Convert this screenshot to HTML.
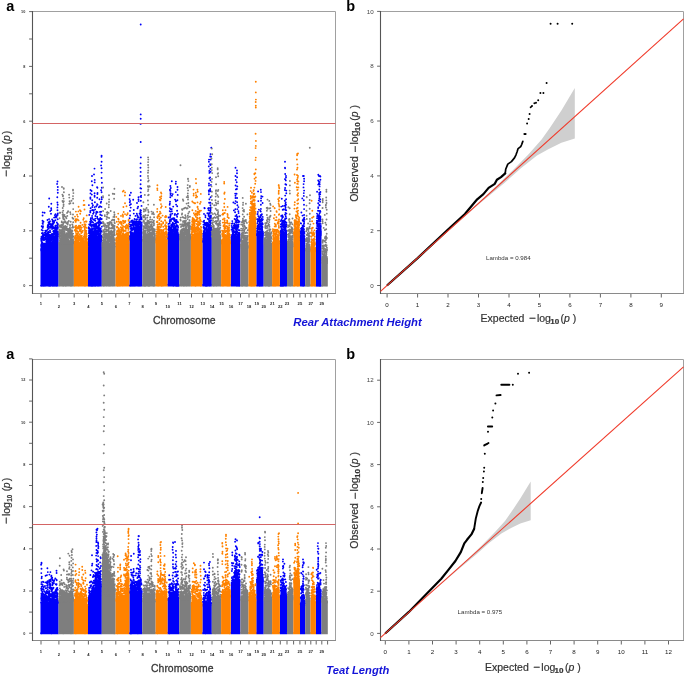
<!DOCTYPE html>
<html><head><meta charset="utf-8"><style>
html,body{margin:0;padding:0;background:#fff;}
body{width:685px;height:677px;overflow:hidden;position:relative;}
svg{position:absolute;left:0;top:0;font-family:"Liberation Sans", sans-serif;filter:blur(0.4px);}
</style></head><body>
<svg width="685" height="677" viewBox="0 0 685 677">
<path d="M32.5 11.5H335.5V293.5" fill="none" stroke="#a0a0a0" stroke-width="1"/><path d="M32.5 293.5H336.0" fill="none" stroke="#8a8a8a" stroke-width="1"/><path d="M32.5 11.0V294.0" fill="none" stroke="#555" stroke-width="1.1"/>
<line x1="29.1" y1="285.6" x2="32.5" y2="285.6" stroke="#555" stroke-width="0.9"/>
<text x="25.3" y="287" font-size="3.8" font-weight="bold" text-anchor="end" fill="#333">0</text>
<line x1="29.1" y1="258.2" x2="32.5" y2="258.2" stroke="#555" stroke-width="0.9"/>
<line x1="29.1" y1="230.8" x2="32.5" y2="230.8" stroke="#555" stroke-width="0.9"/>
<text x="25.3" y="232.2" font-size="3.8" font-weight="bold" text-anchor="end" fill="#333">2</text>
<line x1="29.1" y1="203.4" x2="32.5" y2="203.4" stroke="#555" stroke-width="0.9"/>
<line x1="29.1" y1="176" x2="32.5" y2="176" stroke="#555" stroke-width="0.9"/>
<text x="25.3" y="177.4" font-size="3.8" font-weight="bold" text-anchor="end" fill="#333">4</text>
<line x1="29.1" y1="148.6" x2="32.5" y2="148.6" stroke="#555" stroke-width="0.9"/>
<line x1="29.1" y1="121.2" x2="32.5" y2="121.2" stroke="#555" stroke-width="0.9"/>
<text x="25.3" y="122.6" font-size="3.8" font-weight="bold" text-anchor="end" fill="#333">6</text>
<line x1="29.1" y1="93.8" x2="32.5" y2="93.8" stroke="#555" stroke-width="0.9"/>
<line x1="29.1" y1="66.4" x2="32.5" y2="66.4" stroke="#555" stroke-width="0.9"/>
<text x="25.3" y="67.8" font-size="3.8" font-weight="bold" text-anchor="end" fill="#333">8</text>
<line x1="29.1" y1="39" x2="32.5" y2="39" stroke="#555" stroke-width="0.9"/>
<line x1="29.1" y1="11.6" x2="32.5" y2="11.6" stroke="#555" stroke-width="0.9"/>
<text x="25.3" y="13" font-size="3.8" font-weight="bold" text-anchor="end" fill="#333">10</text>
<line x1="41.0" y1="294.0" x2="41.0" y2="297.5" stroke="#555" stroke-width="0.9"/>
<text x="41.0" y="305.2" font-size="4.1" font-weight="bold" text-anchor="middle" fill="#222">1</text>
<line x1="58.9" y1="294.0" x2="58.9" y2="297.5" stroke="#555" stroke-width="0.9"/>
<text x="58.9" y="308.4" font-size="4.1" font-weight="bold" text-anchor="middle" fill="#222">2</text>
<line x1="74.2" y1="294.0" x2="74.2" y2="297.5" stroke="#555" stroke-width="0.9"/>
<text x="74.2" y="305.2" font-size="4.1" font-weight="bold" text-anchor="middle" fill="#222">3</text>
<line x1="88.4" y1="294.0" x2="88.4" y2="297.5" stroke="#555" stroke-width="0.9"/>
<text x="88.4" y="308.4" font-size="4.1" font-weight="bold" text-anchor="middle" fill="#222">4</text>
<line x1="101.8" y1="294.0" x2="101.8" y2="297.5" stroke="#555" stroke-width="0.9"/>
<text x="101.8" y="305.2" font-size="4.1" font-weight="bold" text-anchor="middle" fill="#222">5</text>
<line x1="115.8" y1="294.0" x2="115.8" y2="297.5" stroke="#555" stroke-width="0.9"/>
<text x="115.8" y="308.4" font-size="4.1" font-weight="bold" text-anchor="middle" fill="#222">6</text>
<line x1="129.3" y1="294.0" x2="129.3" y2="297.5" stroke="#555" stroke-width="0.9"/>
<text x="129.3" y="305.2" font-size="4.1" font-weight="bold" text-anchor="middle" fill="#222">7</text>
<line x1="142.6" y1="294.0" x2="142.6" y2="297.5" stroke="#555" stroke-width="0.9"/>
<text x="142.6" y="308.4" font-size="4.1" font-weight="bold" text-anchor="middle" fill="#222">8</text>
<line x1="155.9" y1="294.0" x2="155.9" y2="297.5" stroke="#555" stroke-width="0.9"/>
<text x="155.9" y="305.2" font-size="4.1" font-weight="bold" text-anchor="middle" fill="#222">9</text>
<line x1="167.8" y1="294.0" x2="167.8" y2="297.5" stroke="#555" stroke-width="0.9"/>
<text x="167.8" y="308.4" font-size="4.1" font-weight="bold" text-anchor="middle" fill="#222">10</text>
<line x1="179.5" y1="294.0" x2="179.5" y2="297.5" stroke="#555" stroke-width="0.9"/>
<text x="179.5" y="305.2" font-size="4.1" font-weight="bold" text-anchor="middle" fill="#222">11</text>
<line x1="191.5" y1="294.0" x2="191.5" y2="297.5" stroke="#555" stroke-width="0.9"/>
<text x="191.5" y="308.4" font-size="4.1" font-weight="bold" text-anchor="middle" fill="#222">12</text>
<line x1="202.7" y1="294.0" x2="202.7" y2="297.5" stroke="#555" stroke-width="0.9"/>
<text x="202.7" y="305.2" font-size="4.1" font-weight="bold" text-anchor="middle" fill="#222">13</text>
<line x1="212.0" y1="294.0" x2="212.0" y2="297.5" stroke="#555" stroke-width="0.9"/>
<text x="212.0" y="308.4" font-size="4.1" font-weight="bold" text-anchor="middle" fill="#222">14</text>
<line x1="221.6" y1="294.0" x2="221.6" y2="297.5" stroke="#555" stroke-width="0.9"/>
<text x="221.6" y="305.2" font-size="4.1" font-weight="bold" text-anchor="middle" fill="#222">15</text>
<line x1="231.0" y1="294.0" x2="231.0" y2="297.5" stroke="#555" stroke-width="0.9"/>
<text x="231.0" y="308.4" font-size="4.1" font-weight="bold" text-anchor="middle" fill="#222">16</text>
<line x1="240.5" y1="294.0" x2="240.5" y2="297.5" stroke="#555" stroke-width="0.9"/>
<text x="240.5" y="305.2" font-size="4.1" font-weight="bold" text-anchor="middle" fill="#222">17</text>
<line x1="249.0" y1="294.0" x2="249.0" y2="297.5" stroke="#555" stroke-width="0.9"/>
<text x="249.0" y="308.4" font-size="4.1" font-weight="bold" text-anchor="middle" fill="#222">18</text>
<line x1="256.8" y1="294.0" x2="256.8" y2="297.5" stroke="#555" stroke-width="0.9"/>
<text x="256.8" y="305.2" font-size="4.1" font-weight="bold" text-anchor="middle" fill="#222">19</text>
<line x1="263.8" y1="294.0" x2="263.8" y2="297.5" stroke="#555" stroke-width="0.9"/>
<text x="263.8" y="308.4" font-size="4.1" font-weight="bold" text-anchor="middle" fill="#222">20</text>
<line x1="272.4" y1="294.0" x2="272.4" y2="297.5" stroke="#555" stroke-width="0.9"/>
<text x="272.4" y="305.2" font-size="4.1" font-weight="bold" text-anchor="middle" fill="#222">21</text>
<line x1="280.3" y1="294.0" x2="280.3" y2="297.5" stroke="#555" stroke-width="0.9"/>
<text x="280.3" y="308.4" font-size="4.1" font-weight="bold" text-anchor="middle" fill="#222">22</text>
<line x1="287.0" y1="294.0" x2="287.0" y2="297.5" stroke="#555" stroke-width="0.9"/>
<text x="287.0" y="305.2" font-size="4.1" font-weight="bold" text-anchor="middle" fill="#222">23</text>
<line x1="293.6" y1="294.0" x2="293.6" y2="297.5" stroke="#555" stroke-width="0.9"/>
<line x1="299.9" y1="294.0" x2="299.9" y2="297.5" stroke="#555" stroke-width="0.9"/>
<text x="299.9" y="305.2" font-size="4.1" font-weight="bold" text-anchor="middle" fill="#222">25</text>
<line x1="305.3" y1="294.0" x2="305.3" y2="297.5" stroke="#555" stroke-width="0.9"/>
<line x1="310.8" y1="294.0" x2="310.8" y2="297.5" stroke="#555" stroke-width="0.9"/>
<text x="310.8" y="305.2" font-size="4.1" font-weight="bold" text-anchor="middle" fill="#222">27</text>
<line x1="316.2" y1="294.0" x2="316.2" y2="297.5" stroke="#555" stroke-width="0.9"/>
<line x1="321.8" y1="294.0" x2="321.8" y2="297.5" stroke="#555" stroke-width="0.9"/>
<text x="321.8" y="305.2" font-size="4.1" font-weight="bold" text-anchor="middle" fill="#222">29</text>
<line x1="327.6" y1="294.0" x2="327.6" y2="297.5" stroke="#555" stroke-width="0.9"/>
<polygon points="40.5,286.6 40.5,249.1 42,243.8 43.5,243.8 45,246.6 46.5,244.4 48,244.2 49.5,242.3 51.1,240.8 52.6,243.4 54.1,241.6 55.6,234 57.1,234.3 58.6,229.9 58.6,286.6" fill="#0000fa"/>
<polygon points="88,286.6 88,237.5 89.5,235.9 91.1,236.1 92.6,237.6 94.1,235.6 95.7,234.7 97.2,233.9 98.7,240.3 100.3,234.4 101.8,235.3 101.8,286.6" fill="#0000fa"/>
<polygon points="129.4,286.6 129.4,236.3 131,238 132.6,237.1 134.2,234.9 135.9,231.4 137.5,230.8 139.1,231.7 140.7,229.1 142.3,222.3 142.3,286.6" fill="#0000fa"/>
<polygon points="167.5,286.6 167.5,233.7 169.2,237.4 170.9,234.3 172.6,238.4 174.2,233.9 175.9,232.7 177.6,236.3 179.3,233.5 179.3,286.6" fill="#0000fa"/>
<polygon points="202.4,286.6 202.4,237.9 204,239 205.5,237.4 207.1,235.3 208.7,227 210.2,227.5 211.8,226.1 211.8,286.6" fill="#0000fa"/>
<polygon points="230.8,286.6 230.8,234.4 232.4,236.2 234,235 235.6,235.2 237.2,237 238.8,236.5 240.4,239.1 240.4,286.6" fill="#0000fa"/>
<polygon points="256.3,286.6 256.3,234.1 258.1,232.1 260,233 261.9,229.2 263.7,232.6 263.7,286.6" fill="#0000fa"/>
<polygon points="279.9,286.6 279.9,231 281.7,228.5 283.4,230.9 285.2,232.7 287,234.5 287,286.6" fill="#0000fa"/>
<polygon points="300,286.6 300,237.5 301.7,238.6 303.5,239 305.2,238 305.2,286.6" fill="#0000fa"/>
<polygon points="315.9,286.6 315.9,231.4 317.8,234.3 319.6,229.6 321.5,229.6 321.5,286.6" fill="#0000fa"/>
<polygon points="58.6,286.6 58.6,242.9 60.1,242.2 61.7,240.5 63.2,237 64.7,238.9 66.2,241.5 67.8,238.7 69.3,241.3 70.8,239.7 72.4,241 73.9,236.9 73.9,286.6" fill="#7e7e7e"/>
<polygon points="101.8,286.6 101.8,242.8 103.3,239.8 104.9,243.9 106.4,245 107.9,241.2 109.5,243 111,241.5 112.5,242.1 114.1,243 115.6,243.5 115.6,286.6" fill="#7e7e7e"/>
<polygon points="142.3,286.6 142.3,238.3 144,239.4 145.6,239.7 147.3,236 148.9,239.4 150.6,238.9 152.3,238.4 153.9,237.6 155.6,234.4 155.6,286.6" fill="#7e7e7e"/>
<polygon points="179.3,286.6 179.3,236.6 181,233.2 182.6,237.6 184.3,236.6 185.9,236.3 187.6,235.4 189.2,236.1 190.9,233.5 190.9,286.6" fill="#7e7e7e"/>
<polygon points="211.8,286.6 211.8,231.3 213.4,234.9 214.9,233.9 216.4,234.3 218,234.8 219.6,235.5 221.1,233.9 221.1,286.6" fill="#7e7e7e"/>
<polygon points="240.4,286.6 240.4,244 242,245.3 243.6,245.5 245.3,242.7 246.9,242.5 248.5,244.9 248.5,286.6" fill="#7e7e7e"/>
<polygon points="263.7,286.6 263.7,240.6 265.4,243 267.1,240.7 268.7,244.2 270.4,243.8 272.1,242.4 272.1,286.6" fill="#7e7e7e"/>
<polygon points="287,286.6 287,242.1 288.6,243.1 290.1,240.4 291.7,242.9 293.3,241.5 293.3,286.6" fill="#7e7e7e"/>
<polygon points="305.2,286.6 305.2,248.6 307,244.5 308.7,249.5 310.5,247.1 310.5,286.6" fill="#7e7e7e"/>
<polygon points="321.5,286.6 321.5,257.8 323.1,259.2 324.6,258.7 326.2,260.9 327.8,255.8 327.8,286.6" fill="#7e7e7e"/>
<polygon points="73.9,286.6 73.9,244.4 75.5,240.3 77,243 78.6,240 80.2,245.2 81.7,245.5 83.3,242.8 84.9,239.8 86.4,242.8 88,242.5 88,286.6" fill="#ff8200"/>
<polygon points="115.6,286.6 115.6,237.4 117.1,239.7 118.7,239.7 120.2,238.5 121.7,237.1 123.3,241.4 124.8,236.7 126.3,238.3 127.9,240.5 129.4,242 129.4,286.6" fill="#ff8200"/>
<polygon points="155.6,286.6 155.6,240.1 157.3,243 159,239.9 160.7,241.3 162.4,238.3 164.1,240 165.8,237.6 167.5,241.1 167.5,286.6" fill="#ff8200"/>
<polygon points="190.9,286.6 190.9,237.6 192.5,233.4 194.2,237.8 195.8,238.4 197.5,237.4 199.1,233.4 200.8,233 202.4,236.7 202.4,286.6" fill="#ff8200"/>
<polygon points="221.1,286.6 221.1,242 222.7,238.8 224.3,241.5 225.9,239.3 227.6,237 229.2,241.7 230.8,240.3 230.8,286.6" fill="#ff8200"/>
<polygon points="248.5,286.6 248.5,227.2 250.1,218.8 251.6,218.5 253.2,207.5 254.7,216 256.3,224 256.3,286.6" fill="#ff8200"/>
<polygon points="272.1,286.6 272.1,242.6 273.7,242.4 275.2,239.7 276.8,243 278.3,242.5 279.9,242.5 279.9,286.6" fill="#ff8200"/>
<polygon points="293.3,286.6 293.3,231.9 295,231 296.6,230.6 298.3,230.6 300,228.9 300,286.6" fill="#ff8200"/>
<polygon points="310.5,286.6 310.5,248.2 312.3,251.2 314.1,247.7 315.9,246.7 315.9,286.6" fill="#ff8200"/>
<path d="M41.5 236.8h0m0 1.1h0m0 0.1h0m-0.3 0.4h0m0.2 0h0m-0.2 1.5h0m0.1 4.6h0m-0.1 0.9h0m0.1 1.1h0m0.1 1.6h0m0 0.7h0m-0.1 0.4h0m0 0.7h0m0.1 0.7h0m-0.2 35h0m0.5-59.3h0m0 3.6h0m0.7 3.3h0m-0.5 0h0m0.5 5h0m-0.9 1.9h0m0 1.2h0m0.4 0.6h0m-0.2 1.1h0m0.5 0.5h0m0 0h0m0.2 2.4h0m-0.4 0.1h0m-0.5 0.2h0m0.1 0.2h0m0.8 0h0m-0.3 0.6h0m-0.4 0.6h0m-0.1 0.2h0m0.5 0.1h0m-0.3 0.3h0m0.2 0.8h0m-0.2 0.2h0m0.6 0h0m-0.2 0h0m-0.6 0.3h0m0.7 0.3h0m0.2 0.1h0m-0.2 0.2h0m0.2 35.2h0m0.2-72.9h0m-0.1 3.1h0m-0.1 5.2h0m1 1h0m-0.9 1.5h0m0.3 0.7h0m0.1 2.2h0m0 0.9h0m-0.4 0.9h0m0.2 2.7h0m0.1 2.3h0m0.3 1.3h0m-0.4 1h0m-0.1 0.7h0m0.2 0.4h0m-0.1 2.2h0m0.1 0.5h0m0.2 0.9h0m-0.3 3.2h0m0.5 0.7h0m0.2 1.5h0m-0.6 0.8h0m0.3 0.5h0m-0.3 0.7h0m0.3 0.8h0m-0.2 0.5h0m-0.3 0.1h0m0 0.1h0m1.7-14.3h0m-0.1 0.3h0m-0.8 1.3h0m0 0.7h0m0.1 1.2h0m0.4 2.3h0m0.3 3.4h0m-0.1 0.3h0m-0.2 1.1h0m0.4 1.3h0m-0.4 0.1h0m-0.3 0.8h0m0.1 0.2h0m0.3 0.4h0m-0.6 0.3h0m0.2 0.4h0m0.4 0.1h0m-0.1 0.3h0m-0.3 0.2h0m-0.1 0h0m0.7 0.3h0m-0.3 0h0m-0.2 36h0m0.8-72.8h0m0.7 17.9h0m0 1.9h0m-0.4 0.2h0m0.5 1.8h0m-0.1 0.9h0m-0.2 2.2h0m-0.1 0.2h0m0.5 0.6h0m-0.1 0.6h0m-0.3 0.2h0m-0.1 4.2h0m-0.1 0.4h0m0.2 1h0m-0.6 0.1h0m0.2 1.2h0m0.7 0.5h0m-0.6 0.1h0m-0.1 0.4h0m0.1 0.4h0m0.5 0.1h0m-0.2 0.3h0m-0.4 0.7h0m0.5 0.5h0m-0.1 36.3h0m0.6-53.6h0m0.6 2.1h0m-0.7 0.3h0m0.8 1h0m-0.3 1.4h0m0 3h0m0 0.1h0m0.3 1h0m-0.1 0.8h0m0.2 1.6h0m-0.9 1.7h0m0.4 0h0m0.1 0.6h0m-0.3 0h0m0 0.1h0m-0.2 0.5h0m0.8 0.2h0m-0.6 0.5h0m-0.2 0h0m-0.1 1.1h0m0.6 0.1h0m0 0.1h0m-0.4 0.2h0m0.5 0.3h0m-0.3 0.3h0m0.5 36.2h0m1.1-57.9h0m0 2.5h0m-0.8 1.3h0m-0.2 2.9h0m0.1 1.1h0m0.4 3.1h0m-0.3 0.6h0m0.2 0.9h0m-0.2 1.5h0m0.4 0h0m0.2 0.2h0m0 2.6h0m0.1 0.2h0m-0.4 0.3h0m0 0.8h0m-0.3 0h0m0.4 0.5h0m-0.3 0.8h0m0.1 0.5h0m0.4 0.3h0m-0.4 0.4h0m0.3 0.3h0m-0.5 0.6h0m0.8-28.5h0m0.7 4.5h0m-0.4 0.9h0m-0.2 1.8h0m0.9 1.3h0m-0.2 0.3h0m0.2 3h0m-0.9 0.8h0m0.6 1.1h0m-0.2 0.2h0m0.5 0.5h0m-1 0.3h0m0.2 0.8h0m0.7 0.4h0m-0.3 0.5h0m-0.6 0h0m0.6 0.9h0m-0.4 0.2h0m-0.1 0.6h0m0.7 0.5h0m-0.1 0.2h0m-0.6 1.1h0m0.1 0.4h0m0.6 1.6h0m-0.5 0.1h0m-0.1 0.4h0m0.1 1h0m0 0h0m0.1 0h0m0.3 0.8h0m-0.7 0.3h0m0.1 0.1h0m0.4 0.4h0m-0.3 0.1h0m0.6 0.2h0m-0.4 0.3h0m0.1 0.5h0m-0.4 0h0m0.3 0.3h0m0.3 0.3h0m-0.6 0h0m0.3 0.5h0m-0.2 37.8h0m1.5-86.5h0m-0.4 8.3h0m0.3 12.3h0m-0.6 3.2h0m0.7 0.1h0m-0.1 0.4h0m-0.2 1.2h0m-0.3 0.8h0m0.3 1.4h0m0 0.1h0m0.3 6h0m0.3 5.5h0m-0.6 1.2h0m-0.1 0.2h0m0.1 0.3h0m-0.2 0.4h0m0 0.1h0m0.1 0.2h0m0.5 0.5h0m-0.3 0.3h0m-0.2 0.6h0m0.5 0.9h0m0.2 0h0m-1 0.8h0m0.4 0.7h0m-0.2 0.9h0m-0.2 0.4h0m0.9 1.1h0m-0.5 0h0m0 0.1h0m-0.3 0.7h0m0.4 0.3h0m-0.3 0.1h0m0.3 38h0m1.2-74.5h0m-0.2 10.2h0m-0.1 2.1h0m0.2 0.7h0m-0.1 3.1h0m0.2 0.6h0m-0.2 2.6h0m0.4 1.7h0m-0.4 2.5h0m-0.2 0.8h0m0.3 0h0m-0.1 0h0m0.3 1.7h0m-0.5 0.2h0m0.4 2h0m-0.7 0.7h0m0.6 0.4h0m-0.5 0.1h0m0.1 0.4h0m0.4 0.9h0m-0.1 0h0m-0.2 0.7h0m0.1 0.9h0m0.4 0.1h0m-0.4 0.1h0m0.6 0.5h0m-0.9 0.4h0m0.7 0.1h0m0.1 0.1h0m-0.8 1.2h0m0.6 0.1h0m0 0.1h0m0 0.6h0m0.1 0h0m-0.5 0h0m0.6 0.1h0m-0.1 0h0m-0.6 0.4h0m0.6 38.3h0m1-81.8h0m-0.1 4.5h0m0.1 1.8h0m-0.3 3.7h0m0 10.8h0m0 0.5h0m-0.2 1.2h0m0.4 9h0m-0.6 0.1h0m0.1 0.1h0m0.6 0.8h0m0 0.4h0m0.1 0.1h0m0 0.1h0m-0.2 0.6h0m-0.4 1.8h0m0.6 0h0m-0.6 0.2h0m0.5 0.2h0m-0.8 0.1h0m0.6 0.9h0m-0.5 2.1h0m0.9 1.9h0m-0.8 0.5h0m0.5 0.4h0m-0.1 0.2h0m-0.1 0.1h0m0 0.2h0m0.3 0.3h0m-0.7 0h0m0 0h0m0 0.1h0m1.5-27h0m0 4.5h0m-0.1 1.5h0m0.2 0h0m-0.2 0.1h0m0.3 0.5h0m-0.6 1.1h0m0.4 0.6h0m-0.1 1.2h0m-0.1 5h0m0.5 1.8h0m-0.1 0.4h0m0 0.7h0m0.1 0.1h0m-0.7 0.3h0m0.1 0.4h0m0.7 0.6h0m-0.5 0.7h0m-0.4 0.1h0m0.9 0.1h0m-0.5 0.1h0m-0.1 0.3h0m0.1 2.8h0m-0.3 0.3h0m0.6 0.2h0m-0.7 0h0m0.5 0.2h0m-0.2 2.1h0m-0.1 0.2h0m-0.3 0.8h0m0.1 38.9h0m1.2-64.5h0m-0.2 1.3h0m0.8 0.2h0m0 1.4h0m-0.6 1.3h0m-0.2 1.8h0m0.7 0.4h0m-0.5 1.7h0m0.4 2.7h0m0 2.3h0m0.2 0h0m-0.6 0.6h0m0.3 1.1h0m0.1 1.2h0m0 0.3h0m-0.3 1.8h0m-0.2 0.9h0m-0.1 0.2h0m0.3 0.1h0m0.5 0.1h0m-0.4 1.4h0m0.2 0h0m-0.3 0.6h0m0 0h0m0.3 0.3h0m0.3 0.1h0m-0.5 0.6h0m0.1 0.3h0m-0.2 0.5h0m0 41.8h0m1.2-67.9h0m0 3.7h0m0 1.3h0m-0.5 5.1h0m0.5 0.5h0m0 2.4h0m-0.6 0.6h0m0.2 0.4h0m0 1.5h0m0.1 0.3h0m0.5 1.1h0m0.1 2.3h0m-0.8 0.2h0m0.6 0.5h0m0.3 0.3h0m-0.8 0.1h0m0 0.2h0m0.3 0.2h0m-0.3 1.5h0m0.8 0.1h0m-0.1 0.2h0m-0.7 0.1h0m-0.1 0h0m0.7 0.1h0m0.1 0.2h0m-0.1 0.1h0m-0.7 0h0m0.3 0.1h0m0.1 0.1h0m-0.3 0.1h0m0.3 0.4h0m-0.4 0.1h0m0.3 0.7h0m0.3 43.2h0m0.6-70.2h0m0.5 1.8h0m0.1 3.4h0m-0.2 5.8h0m-0.6 1.8h0m0.2 0.4h0m0.1 0.3h0m0.3 1.2h0m-0.4 1.9h0m0.7 0.1h0m-0.7 0.3h0m0.2 1.2h0m0.4 0h0m-0.1 2.1h0m-0.2 0.7h0m-0.4 0.9h0m0.6 0.2h0m0 0.1h0m0 0.2h0m-0.5 0.5h0m-0.3 1.1h0m0.8 0.1h0m-0.1 0.5h0m-0.7 0.1h0m0.4 0.1h0m-0.1 0.7h0m0 0.2h0m0.8-26.6h0m0.7 2h0m-0.3 1.4h0m0 8h0m-0.4 0h0m0.3 1.4h0m-0.3 0.1h0m0.4 1.6h0m0.5 2h0m-0.7 0.6h0m0.6 0.5h0m-0.9 0.1h0m0 0.2h0m0.4 1.2h0m0.3 0.7h0m-0.4 1.2h0m0.3 0.1h0m0.1 0.1h0m-0.5 0.2h0m-0.1 0.4h0m0.7 0.9h0m0 0.2h0m-0.4 0.1h0m0.3 0.1h0m0.2 0.3h0m-0.5 0.1h0m-0.2 0.1h0m0.7 0h0m0 0.2h0m0 0.2h0m-0.2 0.1h0m-0.4 0.3h0m-0.1 0.1h0m-0.2 46.7h0m1.6-101.5h0m0.2 13.3h0m0.1 5.3h0m0 4.9h0m-0.5 8.1h0m-0.2 1.3h0m0.2 5.7h0m0 5.1h0m-0.2 0.4h0m0 0.6h0m-0.2 0.9h0m0.8 2.3h0m-0.8 0.1h0m1 0.5h0m-0.2 0.7h0m-0.1 0.3h0m-0.1 0h0m0.3 0.2h0m-0.6 0.4h0m0.7 0.1h0m-0.2 0.3h0m-0.3 0.4h0m0.5 0.1h0m-0.1 0.3h0m-0.5 0.2h0m0.5 0.5h0m0 0.5h0m-0.4 0.1h0m-0.5 0.4h0m0.2 0.3h0m-0.1 0.4h0m0.2 48h0m0.7-104.1h0m0 0h0m0.3 5.5h0m-0.1 2.9h0m0.1 2.9h0m-0.1 11.9h0m-0.2 5.5h0m0.3 3.2h0m-0.2 1.5h0m0.1 4.3h0m-0.2 4.7h0m0.3 0h0m0.1 0.8h0m-0.3 0.3h0m0.1 1.5h0m0.2 1.3h0m-0.2 0.4h0m0 0.5h0m-0.1 2.7h0m0.2 2.9h0m-0.2 0.2h0m0 0.3h0m0 0h0m0.1 1.5h0m31.2-31.2h0m0.4 9.8h0m-0.1 9.6h0m-0.4 2.7h0m0 1.5h0m0.7 2h0m-0.7 0.2h0m0.7 1.4h0m-0.7 0.6h0m0.3 0.3h0m0.1 2.2h0m-0.3 0.4h0m0 1.8h0m0.3 0h0m0 0.8h0m-0.3 1h0m0.5 1.2h0m-0.1 0h0m-0.1 0.1h0m-0.3 0.1h0m-0.2 44.5h0m1.8-95.3h0m0 3.4h0m-0.1 4.1h0m0 1.3h0m-0.1 12.2h0m0 1.4h0m-0.2 9.4h0m0.2 0.5h0m0.1 0h0m-0.1 1.7h0m-0.4 1.1h0m0 3.4h0m-0.3 0.6h0m0.3 0.8h0m0.5 1.4h0m-0.6 0.1h0m0.6 2.6h0m-0.6 1.1h0m0.1 0.5h0m0.1 1.1h0m0.4 0.5h0m-0.8 1.1h0m0.7 0.3h0m-0.7 0.1h0m0.7 0.3h0m0.1 0.4h0m-0.2 0.1h0m-0.6 0.1h0m0.2 0.1h0m-0.2 0.1h0m0.8 1h0m-0.4 0h0m0.2 0.2h0m-0.2 44.3h0m0.6-77.1h0m0.2 10h0m-0.1 1.5h0m0.6 0.6h0m-0.5 2.8h0m-0.2 1.6h0m0.1 0.7h0m0.7 0.3h0m-0.4 0h0m0.4 3.7h0m-0.8 1.2h0m0.6 0.2h0m-0.6 0.4h0m-0.1 0.9h0m0.4 0.1h0m-0.2 0.4h0m0.7 1.3h0m-0.9 1h0m0.3 0.1h0m0.6 0.3h0m-0.4 0.8h0m-0.2 1.4h0m-0.2 0.2h0m0.5 0.1h0m0.2 0.1h0m-0.3 0.1h0m0.5 0.3h0m-0.8 0.5h0m0.1 0.5h0m0.3 0.1h0m-0.3 0.4h0m0.6 0.4h0m-0.6 0.2h0m0.5 0.3h0m-0.2 0.4h0m0.2 44.4h0m0.7-109.5h0m-0.2 5.3h0m0.6 4h0m-0.8 5.7h0m0.2 3.6h0m0.4 5.6h0m-0.1 3.2h0m0.2 3.6h0m-0.2 3.2h0m0 5.7h0m0.1 2h0m-0.3 4h0m0.5 0h0m-0.5 3h0m-0.3 0.5h0m0.1 1h0m0.3 1.8h0m0.1 1.1h0m0.3 1.6h0m-0.3 0.3h0m-0.2 0.1h0m-0.3 0.6h0m0.5 0.3h0m0.2 0h0m-0.3 0.8h0m0.2 0.4h0m-0.1 0.9h0m-0.4 0.1h0m0.8 1.1h0m-0.4 0.8h0m0.3 0.5h0m-0.6 0.1h0m-0.3 1.8h0m0.7 1.3h0m0.2 0.1h0m-0.2 0.1h0m-0.2 0.2h0m-0.1 0.2h0m-0.3 0.3h0m1.3-35.7h0m0.1 4.8h0m0.1 3.8h0m0.1 5.7h0m-0.1 2.9h0m0.2 2h0m0.1 1.4h0m-0.7 3.4h0m0.2 0.1h0m-0.4 0.3h0m0.2 2.3h0m0.5 0.6h0m-0.5 0.2h0m0.2 1.2h0m0.1 1.3h0m0.4 0.5h0m-0.1 0.1h0m-0.3 0.9h0m-0.5 0.6h0m0.3 0.4h0m0.4 0.2h0m-0.6 0.7h0m0.9 0.1h0m-0.6 0.1h0m0.3 0.1h0m0.1 0.5h0m-0.2 0.6h0m-0.1 0.3h0m-0.4 0.4h0m0.8 0.1h0m-0.4 0.1h0m-0.2 0.1h0m-0.2 44.5h0m1.4-111.1h0m-0.3 36.3h0m0.1 1.9h0m0.7 7.4h0m-0.7 5.5h0m0.1 1h0m0.1 1.8h0m-0.2 0.2h0m0.2 2.5h0m-0.5 1.2h0m0.6 0.2h0m0.4 2.3h0m-0.4 0.3h0m-0.5 0h0m0 0.4h0m0.7 1.8h0m-0.4 0.8h0m0.1 0.1h0m0.4 0.4h0m-0.3 0.5h0m0.4 0.6h0m-0.7 0h0m-0.1 0.5h0m-0.1 0h0m0.1 0.1h0m-0.2 0.6h0m0 0.1h0m0.6 0.1h0m-0.3 0h0m0.1 44.2h0m0.6-116.6h0m0.2 11.3h0m0 2.5h0m-0.1 10.8h0m0 2.4h0m0 1.2h0m0.3 5.4h0m-0.3 4.9h0m0.5 2.3h0m0.3 6.6h0m-0.2 2.6h0m0.1 2.1h0m-0.2 3h0m-0.4 1h0m0.3 0.5h0m-0.4 1.4h0m0 2.2h0m0.1 0h0m0.6 1h0m0 0h0m-0.6 0.6h0m0 0.3h0m0.2 0h0m0.3 1.1h0m-0.6 1h0m0.6 0.6h0m-0.6 0.8h0m0.3 0.7h0m0.5 0.4h0m-0.5 1.1h0m0 1.9h0m0 0.4h0m0 0.1h0m0.4 0.3h0m-0.2 0.6h0m0.1 45.8h0m1.2-79.4h0m-0.1 0.5h0m0.2 5h0m-0.2 1h0m-0.2 1.3h0m0.3 9.5h0m0 1.1h0m0 0.7h0m0.1 0.4h0m-0.3 1.2h0m-0.6 0.3h0m0.9 0.6h0m-0.6 0.6h0m-0.2 1.7h0m0.4 0.6h0m0.2 0.3h0m-0.1 0.2h0m0.1 0.4h0m-0.3 1h0m0.4 0.5h0m-0.7 2h0m-0.2 0.6h0m0.2 0.1h0m0.1 0.9h0m-0.2 1h0m0.4 1.2h0m0.4 0.1h0m0 0.5h0m-0.3 0h0m0.2 0.5h0m-0.5 0.4h0m-0.2 0.4h0m0.5 0.2h0m0.1 0h0m0.3 0.1h0m0 44.1h0m0.6-97.8h0m0.3 0.5h0m0.1 5.2h0m-0.1 1h0m-0.2 3.7h0m-0.1 6.4h0m0.4 0.7h0m0 7.5h0m-0.3 4.4h0m0 1.6h0m0.2 4.4h0m-0.2 3.7h0m0.2 1h0m-0.2 0.9h0m-0.4 2.3h0m0.1 0.4h0m0.2 0.1h0m0.1 0.8h0m-0.6 0.6h0m0.4 0.2h0m-0.3 0.6h0m0.6 0.1h0m0.1 0h0m-0.4 0.4h0m-0.5 0.7h0m0.7 0.1h0m-0.6 0.1h0m0.1 3.2h0m0.5 0.1h0m-0.1 0.3h0m0.1 0.2h0m-0.1 1.1h0m-0.3 0h0m0.2 0.1h0m0 0h0m0 0.2h0m0 0.9h0m0 0.4h0m1-22.2h0m0.2 8.2h0m-0.3 1.9h0m0.4 1.7h0m-0.5 0.8h0m-0.2 0.4h0m0.9 0.1h0m-0.2 0.7h0m0.1 3.3h0m-0.7 0.5h0m0.7 0.2h0m-0.1 0.3h0m-0.3 0.4h0m0 0h0m-0.3 0.1h0m0 1.3h0m0.7 0h0m-0.7 0.9h0m0.3 0h0m0.4 0.1h0m-0.2 0.3h0m-0.4 0.6h0m-0.2 0h0m0.3 0.1h0m-0.1 44.5h0m1.1-78.2h0m0.2 12h0m0.2 0.3h0m0.1 0.5h0m0 0h0m-0.8 1h0m0.1 0.4h0m0.3 0.6h0m-0.3 1.9h0m0.7 1.5h0m-0.6 0.4h0m-0.2 0.1h0m0.2 1h0m0.4 1.1h0m-0.4 0.4h0m0.1 0.7h0m0.5 0.5h0m-0.3 0.2h0m-0.3 0.4h0m0.4 1.1h0m-0.5 0.3h0m0.4 0.2h0m-0.2 0.2h0m0 0.5h0m-0.4 0.5h0m0.6 0.8h0m-0.5 0.2h0m0 0.1h0m0.5 0.3h0m-0.1 0.7h0m-0.4 0.1h0m0.6 0.3h0m-0.1 0.8h0m0 0.2h0m-0.1 0.1h0m-0.3 0.2h0m-0.1 0.2h0m0.1 1h0m0.6 0.5h0m-0.7 0.3h0m-0.1 0.2h0m0.1 0.4h0m0.1 0.9h0m0.4 0.3h0m0.2 0.1h0m-0.2 44.5h0m0.4-85.9h0m0.5 7h0m0 5.6h0m0.3 2.5h0m0 0.4h0m0 3.1h0m-0.8 3.2h0m0 0.2h0m0 0.4h0m0.9 1.6h0m-0.7 1.3h0m0.5 4h0m-0.3 2.4h0m0.4 3.4h0m-0.3 1.1h0m0.3 1h0m-0.3 1h0m0.2 0.3h0m-0.3 0.7h0m-0.2 0.7h0m0.7 0.1h0m-0.2 0.6h0m0.2 0.1h0m-0.2 0.4h0m-0.1 0.1h0m0 0h0m-0.4 0.3h0m0.6 0.1h0m-0.6 0.1h0m0.3 0.2h0m0.4 43.7h0m0.7-119.5h0m0 24.8h0m0 11.6h0m-0.3 1h0m0.6 4.1h0m-0.3 4.9h0m-0.4 7.6h0m-0.1 0h0m0.1 2.7h0m0 0.7h0m0.1 5.7h0m-0.3 0h0m0 1h0m0.3 0.8h0m0 0.1h0m0 1.8h0m-0.1 1.4h0m0.3 1.8h0m-0.1 1h0m-0.3 0.8h0m0.2 0.1h0m0 0.7h0m0.2 1.4h0m0.1 0.1h0m-0.4 0.6h0m0.3 0.1h0m-0.1 0.4h0m-0.3 0.2h0m0.1 0.4h0m0.9-85.5h0m-0.1 1.1h0m0.1 5h0m0 6.4h0m0 4.4h0m0 5.4h0m0.3 4.7h0m-0.1 5.1h0m-0.2 4.4h0m0.1 5.1h0m0.1 2h0m0 16.1h0m-0.1 3.6h0m0.2 4.1h0m0 3.5h0m-0.3 4.7h0m0.1 5h0m28.1-41.1h0m-0.2 3.9h0m0.5 1.9h0m-0.3 1.4h0m0 2.7h0m0.2 5.8h0m0.1 4.6h0m-0.5 2.7h0m0 3.9h0m0 2.2h0m0.9 1.4h0m-0.9 0.9h0m0.9 2h0m-0.5 3.5h0m0.4 0.5h0m-0.1 3.1h0m0.1 0.4h0m-0.6 0.2h0m0.5 1.4h0m0 0.8h0m-0.1 1.3h0m-0.1 45.7h0m0.8-92.7h0m0.1 11.3h0m-0.3 3.5h0m0.8 13.1h0m-0.6 1.2h0m0.1 2.9h0m-0.1 2h0m0.3 1.3h0m-0.3 0.7h0m-0.3 0.1h0m0.3 2.2h0m-0.1 1.1h0m0.4 1.2h0m-0.1 0.3h0m-0.3 0.2h0m0.4 1.1h0m0 0.2h0m-0.6 0.4h0m0.8 1.3h0m-0.8 0.3h0m0.3 0.3h0m-0.1 0.9h0m0.6 0.2h0m-0.7 0.4h0m0.7 0.1h0m-0.5 0.5h0m0.5 0.5h0m-0.4 0.1h0m0.4 45h0m0.8-64.5h0m0.2 2.4h0m0.1 1.2h0m-0.2 0.3h0m-0.1 0.6h0m0.1 0h0m-0.2 0.2h0m-0.2 2.8h0m0.1 0.4h0m0.2 0h0m-0.1 0.2h0m-0.1 0.9h0m0.3 0.3h0m-0.3 0.1h0m-0.3 0.8h0m0.1 2h0m0.5 0.3h0m-0.4 1.6h0m0.2 1.2h0m-0.5 0h0m0.5 0.1h0m0.1 0.9h0m-0.1 0.1h0m0.2 0.7h0m-0.3 0.6h0m0.3 0h0m0.1 0h0m0.1 0.4h0m-0.2 0.6h0m0 0h0m-0.3 0.3h0m-0.2 0.3h0m1.4-40.2h0m-0.5 20.6h0m0 0.4h0m-0.2 2h0m0.4 1.8h0m0.5 1.6h0m-0.7 1.8h0m0.8 1.4h0m-0.7 3.6h0m-0.2 1h0m0.6 0.2h0m0.3 0.2h0m-0.6 0.3h0m-0.1 0.4h0m0.5 0.2h0m-0.7 0.9h0m0.4 1h0m0.4 0.7h0m-0.2 0.2h0m-0.3 0.2h0m0 0.8h0m0 0.1h0m-0.2 46.1h0m1.1-75.3h0m0 3.6h0m0.7 7.7h0m-0.7 1.1h0m-0.2 0.1h0m0.4 1h0m0.4 0h0m-0.2 0.7h0m-0.6 0.6h0m0.1 0.7h0m-0.1 1.1h0m0.5 0.6h0m-0.3 0h0m0.4 0.9h0m0.2 0.3h0m-0.4 0.8h0m0.4 0.7h0m-0.4 3h0m-0.1 0.3h0m0.5 0.7h0m-0.1 0.2h0m-0.4 0.8h0m-0.2 0.4h0m0.6 0.5h0m-0.5 0.1h0m-0.3 0.1h0m0.7 0.1h0m0 0.1h0m-0.4 0.2h0m0.1 0.5h0m0.3 0.5h0m0 0.1h0m0.1 0.4h0m-0.5 0.2h0m-0.3 0.3h0m0.5 46.8h0m0.6-66.2h0m0.9 3.5h0m-1 0h0m0 0.2h0m0.2 0.6h0m-0.1 0.1h0m0.6 0.4h0m-0.7 0.3h0m1 3.1h0m-0.5 1.6h0m0.1 0.2h0m-0.4 0.2h0m0.2 0.7h0m-0.3 0.7h0m0.7 0.7h0m-0.8 0h0m0.4 0.3h0m-0.2 0.5h0m0 0.5h0m0.6 0.2h0m-0.2 0h0m0 0.5h0m-0.1 0.1h0m0.3 0.3h0m-0.4 0.3h0m0.4 0.1h0m-0.8 0.1h0m0.7 0.5h0m0.1 0.3h0m-0.1 0.2h0m-0.6 0.3h0m0.8 0.1h0m-0.5 0.7h0m0.1 0.3h0m-0.2 0.4h0m-0.1 0.1h0m0.6 48.1h0m0.2-69.3h0m0.8 3.8h0m-0.6 1.9h0m0.1 1.5h0m0.6 0h0m-0.6 0.4h0m-0.2 1.8h0m0.2 2.3h0m0.1 0.1h0m0.4 0.6h0m-0.4 0.5h0m0.2 0.2h0m-0.1 0.3h0m0.4 0.3h0m0.1 0.4h0m-0.2 1h0m0.1 0.1h0m-0.5 1.2h0m0.5 0.2h0m0.1 2.4h0m-0.1 0.1h0m-0.6 0.2h0m0.1 0.3h0m0.5 0.8h0m-0.2 0.1h0m-0.5 0.6h0m1.3-34h0m-0.2 10.7h0m0.4 5.4h0m0 2.3h0m0 0.3h0m0 2.8h0m-0.5 1.3h0m0.3 0.2h0m-0.3 0h0m0.4 0.4h0m0.2 0.4h0m0.2 0h0m-0.3 0.9h0m0 0.8h0m-0.3 0.2h0m-0.3 0.5h0m0.1 2.1h0m0.4 0.1h0m0 0.7h0m-0.4 0h0m0.6 0.1h0m-0.4 0.3h0m-0.2 0.2h0m0.4 0.5h0m-0.3 0.2h0m0.1 0h0m0.5 0.6h0m-0.1 0.8h0m0.2 0.1h0m-0.2 0.5h0m-0.2 0.2h0m-0.1 0.3h0m-0.2 0.1h0m-0.3 0.4h0m0.1 48.4h0m1.9-87.5h0m-0.4 9.5h0m-0.6 1.5h0m0 7.1h0m0.7 1.5h0m-0.5 0.2h0m0.7 5.5h0m0 0.5h0m0 0.1h0m-0.2 0.2h0m-0.5 1h0m0 1.1h0m0.7 1.6h0m-0.5 2.5h0m0.3 0h0m-0.3 0h0m-0.1 0.1h0m0.7 0.1h0m-0.5 0.4h0m-0.3 0.2h0m0.5 0.6h0m-0.3 0.2h0m-0.1 0.6h0m0.5 0.1h0m-0.4 0.3h0m0.2 0.7h0m-0.5 0.2h0m-0.1 0.1h0m0.2 0.3h0m0 0.1h0m0.8 0h0m-0.8 0.9h0m0.3 0h0m-0.3 0h0m0.1 0.1h0m0 0.2h0m-0.2 0.1h0m0.4 0.1h0m-0.1 50.2h0m0.6-85.8h0m0.1 1.7h0m0.1 16.5h0m0.6 2.2h0m-0.3 1.5h0m0 0.4h0m0.1 0.8h0m0 0.7h0m-0.3 0.1h0m0.5 0.3h0m-0.6 1.1h0m-0.2 0.9h0m0.1 1h0m0.2 1.4h0m0.6 0.1h0m0 0.2h0m-0.6 0.3h0m0.2 0.3h0m0.4 0.3h0m-0.2 0h0m-0.2 0.3h0m0.4 0h0m-0.5 0.1h0m0.2 0.1h0m-0.2 0.3h0m-0.1 0.2h0m0.6 0h0m-0.5 0.4h0m0.6 0.4h0m-0.3 1.3h0m0 0.6h0m-0.6 0.1h0m0.4 0.2h0m-0.3 0.4h0m0.5 51.8h0m1.3-117.6h0m0 8.2h0m-0.1 12.3h0m0.1 8.3h0m-0.1 13.6h0m0 1.4h0m-0.8 1.8h0m0.6 0.9h0m0.2 1.2h0m-0.1 0.4h0m0 2.2h0m0 1.5h0m0.1 2h0m0.1 1h0m-0.2 0.3h0m-0.1 0.1h0m-0.2 0.7h0m0.2 0.1h0m0.2 1.6h0m-0.1 1.6h0m-0.8 0.2h0m0.7 0.3h0m-0.3 0.3h0m0.2 0.2h0m-0.5 0.2h0m0.8 0.8h0m-0.1 0.7h0m-0.3 0.3h0m0.5 55.2h0m0.2-260.7h0m0 89.9h0m0 4.3h0m-0.1 5.2h0m0.1 18.1h0m0.1 15.4h0m-0.2 6h0m0.1 8.5h0m0.1 8.2h0m-0.2 4.1h0m0.6 4.4h0m-0.5 3.8h0m0.4 3.2h0m0 1.5h0m-0.3 3.6h0m-0.3 9.5h0m0.5 0.2h0m-0.2 2.4h0m0.2 2h0m0 2.4h0m0.3 0.1h0m-0.4 5h0m-0.3 0.4h0m0.5 0.9h0m-0.5 0.9h0m0.2 0.2h0m-0.1 0.6h0m0.7 0.4h0m-0.9 0h0m0.9 0.3h0m-0.8 0.2h0m0.3 1.1h0m-0.1 0.3h0m0 0.1h0m0.2 0.2h0m-0.1 0.2h0m0.4 0h0m-0.5 1h0m0.7-23.2h0m0 12.7h0m0.1 0.8h0m0 3.2h0m-0.1 2.3h0m26.8 4.7h0m0 0h0m0.1 3.5h0m0 1.4h0m0 0.3h0m0.1 2.5h0m-0.3 0.6h0m0.1 0.2h0m0.1 0.4h0m-0.2 46.3h0m0.4-67.3h0m-0.1 6.4h0m0.3 2.2h0m0.3 0.2h0m-0.2 0.4h0m0.5 0.2h0m-0.6 1.3h0m0.7 0.1h0m-0.1 0.8h0m-0.7 1.1h0m0.6 0.6h0m-0.7 1.3h0m0.3 0.3h0m0.4 0.3h0m-0.1 1.7h0m-0.1 0.8h0m0.3 0.4h0m-0.4 0.2h0m0.5 0.5h0m-0.1 0.3h0m-0.7 0.2h0m-0.2 0h0m1 0.2h0m-0.9 0.6h0m0.4 0.4h0m-0.4 1.2h0m0.4 0.2h0m-0.4 0.1h0m1.8-53.5h0m-0.4 3.7h0m-0.1 0.3h0m0.5 0.9h0m0 2.2h0m0.1 1.8h0m-0.2 2.4h0m-0.3 4.5h0m-0.1 2h0m-0.2 0.9h0m0.2 3.4h0m0.5 0.9h0m-0.7 2.1h0m0.7 0.5h0m0 2.8h0m-0.2 2.5h0m0.1 0.2h0m-0.1 2h0m-0.1 0.3h0m-0.4 1.5h0m0 1.1h0m0 1.4h0m0 4.2h0m0.7 0h0m-0.2 0.6h0m0 0.5h0m-0.3 0.3h0m-0.3 0.2h0m0.3 0.3h0m0.5 0.2h0m-0.5 0.2h0m0 0.3h0m0 2.9h0m0.1 0.4h0m0.3 0h0m-0.1 0.1h0m0.2 0.6h0m-0.2 0.5h0m0.1 0.2h0m-0.2 0.2h0m-0.5 0.3h0m0.1 0.9h0m0.4 0.4h0m0.3 0h0m-0.3 0.6h0m0.3 0.6h0m-0.7 0.9h0m0.3 0.3h0m-0.2 0.2h0m0.1 0.1h0m-0.4 0.4h0m0 45.1h0m1.3-96.9h0m0 5.5h0m-0.1 21h0m-0.1 1.1h0m0.4 5.3h0m0.2 4.2h0m-0.1 0.5h0m-0.3 1.6h0m0.2 0.5h0m0.5 0.8h0m-0.8 1.6h0m0.1 1.3h0m-0.2 0.1h0m0.5 0.2h0m-0.5 0.6h0m0.5 0.5h0m-0.5 1.3h0m0.9 1.8h0m-0.2 0.3h0m-0.4 0.3h0m-0.1 0h0m-0.1 1.1h0m0 0.1h0m0 1h0m-0.2 0.5h0m0.4 0.1h0m-0.1 45.7h0m1-103.7h0m0.2 14.4h0m-0.2 13.4h0m0 2.2h0m0.5 2.3h0m-0.2 5h0m0.1 0.4h0m-0.2 0h0m-0.3 0.3h0m0.6 5.3h0m-0.6 0h0m0.1 0.9h0m0.5 0.1h0m-0.7 0.1h0m0 0.9h0m0.4 0.2h0m-0.1 2.7h0m0.4 0.1h0m-0.7 1.4h0m0.3 0.1h0m0.5 0.8h0m-0.6 0.2h0m0.4 1.3h0m0 0.3h0m-0.2 0.7h0m0.4 0.7h0m-0.6 0.5h0m0.1 1.5h0m0.5 0.5h0m0 0.9h0m-0.8 0.2h0m0.7 0.7h0m0 0.4h0m-0.5 0h0m0.3 45h0m0.6-90.7h0m0.5 12.5h0m-0.6 12.1h0m0.2 4h0m-0.2 0.7h0m0.8 0.3h0m-0.3 0.6h0m-0.6 2.5h0m0.8 2.5h0m-0.3 0.8h0m-0.4 0.1h0m0.8 3.2h0m-0.4 1.6h0m0.1 0.2h0m-0.1 0h0m-0.1 0.1h0m0.4 0.1h0m0 0.3h0m-0.1 0.2h0m0.3 0.4h0m-0.3 0.9h0m-0.3 0.1h0m0.1 0.4h0m0.5 0.2h0m-0.2 0.1h0m-0.7 0.7h0m0.6 0.9h0m-0.4 0h0m0 0.1h0m0.6 45.8h0m0.2-67.2h0m0.8 0.2h0m-0.4 1.5h0m0.2 3.6h0m0.2 2h0m-0.5 0.6h0m-0.1 1.3h0m0.2 0h0m-0.1 1h0m-0.1 0.3h0m0.7 0.4h0m-0.7 0.1h0m0.5 0.1h0m0.1 0.3h0m0 0.5h0m-0.7 0.1h0m-0.1 0.7h0m0.5 0.1h0m0.1 0.4h0m-0.1 0.7h0m0 0.1h0m0 0.7h0m0 0.4h0m-0.3 0.3h0m0.1 0.2h0m0 0.4h0m-0.1 1.1h0m0.1 0.8h0m0.2 0h0m-0.3 0.2h0m0.5 0.1h0m-0.5 0.6h0m0.6 1.1h0m-0.3 1.5h0m-0.4 0h0m0.4 0.1h0m1-40.2h0m-0.1 14.4h0m-0.2 0.4h0m-0.1 0.5h0m0.1 4.7h0m0.2 1h0m0.3 0h0m-0.8 0.5h0m0.2 2.9h0m0.4 3.5h0m-0.2 1.4h0m-0.2 0.2h0m0.2 1.4h0m-0.1 0.8h0m0.4 0.1h0m0.2 0h0m-0.3 0.7h0m-0.3 0.3h0m-0.2 0.7h0m0.3 0.3h0m-0.3 0.4h0m0.5 0.3h0m-0.3 0.9h0m0 0.1h0m0 1.1h0m0.2 0.4h0m0.5 0.9h0m-0.4 0.2h0m-0.3 0.3h0m-0.1 47.1h0m1.2-103.5h0m-0.1 2.1h0m0 8.4h0m0.1 9.1h0m0.2 3.4h0m0.4 15.4h0m-0.9 1.8h0m0.2 0.7h0m0.3 0.5h0m-0.2 3.3h0m0.2 0h0m-0.2 1.4h0m-0.2 0.4h0m0.2 0.7h0m0 0.3h0m0 0.5h0m0.6 0.2h0m-0.5 0h0m0.1 0.9h0m-0.1 0.1h0m-0.1 0.5h0m-0.4 0.5h0m0.8 0.4h0m-0.5 0.4h0m0.4 0.7h0m0 0h0m-0.2 0h0m0.2 0.4h0m0.2 1.9h0m-0.7 0.5h0m0.3 0.4h0m0.1 0.2h0m0.1 0.3h0m0.1 0.4h0m0.1 0.3h0m-0.7 0.8h0m0.6 0h0m-0.2 0.8h0m0.3 0h0m-0.2 0.1h0m-0.2 46.1h0m1.4-85.2h0m-0.2 6h0m-0.1 4.4h0m-0.4 4.2h0m0.4 1.8h0m-0.5 3.4h0m0 1h0m0.5 0.6h0m-0.3 3.2h0m0.7 1.2h0m-0.8 0.1h0m0.6 3.8h0m-0.2 0.4h0m-0.4 0.3h0m0.2 0.8h0m0.5 1.6h0m-0.8 0.3h0m0.5 0.2h0m0.3 0.7h0m-0.5 0h0m0.5 0.5h0m-0.7 0.7h0m0.6 0.3h0m-0.7 0.1h0m0.1 0.5h0m0.7 1.2h0m-0.7 0.7h0m0.3 0.3h0m0.4 0.3h0m-0.3 0.2h0m0.4 0h0m-0.7 0.1h0m0.3 0h0m-0.2 0h0m0.3 0.1h0m0.3 0.1h0m-0.2 46.1h0m0.2-98.5h0m0 2.7h0m0.2 5.2h0m0.2 18.9h0m0.1 8.4h0m-0.2 3.7h0m0.3 1.3h0m-0.4 1.8h0m0.1 1.1h0m-0.1 0.2h0m0.1 2h0m-0.1 0.7h0m0.2 0.2h0m-0.1 1h0m-0.3 0.2h0m1 0.1h0m-0.6 0.4h0m0.1 0.7h0m-0.2 0.3h0m0.7 0.1h0m-0.6 0.3h0m-0.2 0.3h0m0.4 0.5h0m0.2 0.9h0m-0.2 0.8h0m-0.1 0.8h0m0.1 0.2h0m0.4-1h0m0 0.2h0m0.1 46.5h0m24.7-63.7h0m0.2 2.8h0m-0.4 9h0m0.2 0.6h0m0 0.7h0m0.1 0.9h0m-0.2 0.2h0m0.3 0.5h0m-0.1 0.4h0m-0.1 1.5h0m0.2 0.4h0m-0.1 0.3h0m-0.3 0.8h0m0.2 0.5h0m0.1 0.4h0m-0.3 1h0m0.1 0.3h0m-0.1 42.8h0m1.3-77h0m-0.4 6h0m0.1 6.8h0m-0.3 0.5h0m0.1 0.7h0m-0.2 4.7h0m-0.1 0.9h0m0.6 0.6h0m-0.3 0.1h0m0.5 1.6h0m-0.3 1h0m-0.3 0.5h0m0.1 0.9h0m-0.1 0.8h0m0.1 0.1h0m0.5 0.9h0m-0.5 0.2h0m0 0.4h0m0.2 1.7h0m0.2 0.5h0m-0.1 0.4h0m0.3 0.5h0m-0.2 0.2h0m0.1 0.6h0m0.1 0.2h0m-0.6 0.4h0m0.1 0.2h0m0.1 0.1h0m-0.4 0.2h0m0.6 0.6h0m-0.2 0.4h0m0.1 0.1h0m-0.7 1.2h0m0.9 42.9h0m0.3-76.6h0m0.7 7.2h0m-0.4 7.5h0m-0.4 0.2h0m0.1 0.6h0m0.2 1.4h0m-0.3 2.4h0m0.3 0.5h0m0.4 0.3h0m-0.7 2h0m0.4 1.9h0m-0.2 1.2h0m-0.2 0h0m0.5 1.4h0m-0.3 0.2h0m0.4 0.9h0m-0.2 1.1h0m-0.1 0h0m-0.1 0h0m0.2 1.3h0m0.2 0h0m-0.2 0.4h0m0.5-21.4h0m0.7 7h0m-0.2 1h0m0.1 2.9h0m-0.4 0.3h0m0.4 0.5h0m-0.1 0.4h0m0.3 0.1h0m0.1 0.1h0m0 0.2h0m-0.3 0.3h0m0.2 1.5h0m0.1 0.2h0m-0.4 0.8h0m-0.4 0.4h0m0.7 1.4h0m-0.6 0.1h0m0.1 0.6h0m0.4 0h0m0 0.1h0m-0.4 0.3h0m0.6 0.6h0m-0.4 0.2h0m0.5 0.1h0m-0.3 0.8h0m0 0h0m-0.3 0.3h0m-0.3 0.2h0m0.3 0.3h0m-0.3 0h0m0.1 0.1h0m0 47.4h0m1.7-72.3h0m-0.9 9.5h0m0.9 0.2h0m-0.3 1h0m0 0.4h0m-0.6 1.4h0m0.2 0.2h0m-0.2 0.4h0m0.4 0.5h0m-0.2 2h0m0.1 0.2h0m0 0.5h0m0.7 0h0m-0.1 0.4h0m-0.4 0.2h0m0.2 0.7h0m0 0.5h0m-0.7 0.3h0m0.5 0.3h0m0.3 1h0m0.2 1.2h0m-0.7 0.2h0m0.6 0.1h0m-0.2 0.2h0m-0.5 0.1h0m0.8 0.1h0m-0.1 0.1h0m-0.3 0.8h0m-0.1 49.8h0m1.1-77.1h0m-0.4 10.4h0m-0.1 4.1h0m0.6 1.1h0m0.2 0.7h0m-0.6 0.2h0m0.6 0.4h0m-0.7 0.6h0m0.6 0.3h0m0.2 0.6h0m-0.6 0h0m0.4 2.7h0m-0.3 0.3h0m0.2 0.2h0m-0.2 1.1h0m-0.4 0.5h0m0.3 0.2h0m0.4 0.1h0m0 0.4h0m-0.3 0.4h0m-0.3 0.2h0m0.7 0.4h0m-0.7 0.1h0m0.4 0.2h0m-0.1 0.2h0m0.1 0.9h0m0.2 50.3h0m0.7-125.4h0m-0.1 2.1h0m-0.1 4.7h0m0.5 4.5h0m0.1 2h0m0 5.4h0m-0.4 5.2h0m0 2h0m-0.2 5h0m0.1 1.3h0m0 2.4h0m0.5 5h0m-0.3 3.5h0m-0.1 5.2h0m-0.4 2.3h0m0.4 3.1h0m-0.3 1.1h0m-0.1 1.3h0m0.7 1.1h0m-0.6 2.9h0m0.1 0h0m0.3 2h0m-0.1 2.8h0m-0.2 1.4h0m0.5 0.8h0m-0.4 0h0m0.6 0.8h0m-0.7 0h0m-0.2 0.4h0m-0.1 0.9h0m0.1 0.3h0m0.5 0.1h0m0 0.4h0m0.1 0.3h0m-0.2 0.4h0m0.1 0.5h0m0.3 0.5h0m-0.1 0.1h0m-0.3 0.1h0m0.5 0h0m-0.5 0.4h0m-0.4 0h0m0.4 0.7h0m-0.1 0.9h0m-0.2 0.2h0m0.2 0.4h0m-0.3 2.2h0m1.9-82.2h0m-0.3 2.4h0m-0.1 7.7h0m0.4 0.8h0m-0.2 3.9h0m-0.2 8.5h0m0.3 2.9h0m-0.2 8.6h0m-0.3 1.4h0m0.5 12.5h0m0 2.4h0m0.1 3.8h0m-0.2 1.8h0m0 1.2h0m-0.5 1.2h0m0.5 2.8h0m0 0.5h0m-0.3 1.9h0m0.3 2.3h0m0.2 1h0m-0.9 0.5h0m0.8 1h0m0 1.5h0m-0.2 0.5h0m-0.4 0.4h0m0.5 0h0m-0.1 0.4h0m-0.5 0.1h0m0.6 1.4h0m-0.3 0.3h0m0.5 0.1h0m-0.4 0.7h0m0.1 0.1h0m-0.6 0.9h0m0.9 0h0m-0.1 0.1h0m-0.6 0.3h0m0.1 0.2h0m0.3 0.1h0m0.1 0.1h0m0.1 0.7h0m-0.2 0.4h0m0 4.8h0m-0.6 49.1h0m1.7-137.6h0m-0.3 9h0m-0.3 2.8h0m-0.1 12.1h0m0.3 13.2h0m-0.2 6.4h0m-0.1 5.9h0m0.2 10.2h0m-0.2 2.5h0m0.3 5.5h0m-0.4 0.6h0m0.4 0.3h0m0 1.3h0m0.1 2.6h0m-0.5 2.1h0m0.3 0.9h0m-0.3 2h0m0.5 0.4h0m-0.5 0.2h0m0.4 1.3h0m-0.2 0.3h0m0.1 0.2h0m-0.1 1.4h0m0.3 0.1h0m-0.1 0.6h0m0.1 0.1h0m-0.2 0.3h0m0.2 0.3h0m-0.1 54.4h0m21.4-63.7h0m-0.4 2.6h0m-0.2 2.2h0m0.3 1.7h0m0.5 0h0m-0.9 2.2h0m0.8 1.9h0m-0.3 2.9h0m0 0.5h0m0.4 0.6h0m-0.6 0.9h0m-0.2 0.4h0m-0.2 0.6h0m0.2 0.2h0m0.4 0.1h0m0 0.1h0m-0.5 0.7h0m0.5 0.7h0m-0.1 1h0m-0.2 0.1h0m-0.2 0.1h0m0.9 0h0m-1 44.4h0m1.9-82.5h0m-0.9 20.7h0m0.7 4.6h0m-0.4 0.7h0m0.1 0h0m0.3 0.2h0m-0.5 0.4h0m0.6 1.4h0m0.2 0.1h0m-0.1 1.2h0m-0.4 0.7h0m0 0.3h0m-0.1 0.4h0m0.3 0h0m-0.5 1.5h0m0.2 0.1h0m0 0h0m-0.2 0.2h0m0.8 0.7h0m-0.2 0.9h0m-0.7 0.6h0m0.6 0.3h0m-0.6 0.4h0m0.3 0.2h0m-0.2 0.1h0m-0.2 0.2h0m0.1 0.2h0m0.8 0.4h0m-0.7 0.1h0m0.5 0.1h0m-0.6 0h0m0.4 0.4h0m-0.4 0.2h0m0 0h0m0 0.2h0m0.1 0.9h0m0.1 44.1h0m1.1-74.6h0m0.6 13.2h0m-0.1 0.5h0m-0.2 1h0m-0.4 0.5h0m0.1 1.4h0m-0.4 0.2h0m0.3 0.7h0m0.1 0.6h0m0.1 0.1h0m0 2.3h0m0 1h0m-0.4 2.4h0m0.9 0.9h0m-0.9 0.7h0m0.7 0.7h0m-0.5 0.2h0m0.2 0.1h0m-0.2 0h0m0.4 1.3h0m0.1 0.2h0m-0.1 0.2h0m-0.3 0.5h0m-0.1 0.1h0m-0.1 0.3h0m0.1 0h0m0 0.2h0m0.2 0.2h0m0.3 0.4h0m-0.6 0.1h0m0.4 44.7h0m1.1-91.5h0m0.3 4.4h0m-0.4 5.4h0m0.3 5.8h0m-0.3 3h0m0.3 3.9h0m-0.8 2.8h0m0.6 0.5h0m-0.7 4.7h0m0.7 1.9h0m0.3 1.1h0m-0.9 1.4h0m0.7 0.3h0m-0.7 3.3h0m0.4 2h0m0.3 0.1h0m-0.4 0.5h0m-0.2 0.4h0m0.4 0.5h0m0 0.7h0m-0.2 0.4h0m0.3 0.2h0m-0.7 0.2h0m0.3 0.6h0m0.5 0h0m0 0.6h0m-0.3 0.3h0m-0.4 0.5h0m0 0.4h0m0.8 0.1h0m-0.9 0.1h0m0.8 0.5h0m-0.1 0h0m0.2 0.3h0m-0.2 0.4h0m0.2 44.2h0m0.1-117.3h0m0 8.2h0m0.3 3.9h0m-0.2 5.6h0m0.3 3.9h0m-0.4 6.3h0m0.1 5.4h0m0.4 19.2h0m0.5 1h0m-0.9 0.7h0m0.3 3.2h0m0.1 0.1h0m-0.1 0.2h0m0.6 0.2h0m-0.1 1.9h0m-0.4 1.9h0m0.4 0.5h0m-0.5 1.3h0m-0.1 0.2h0m0.4 1h0m0.2 0.1h0m-0.6 0.2h0m0.2 0.5h0m-0.2 0.3h0m-0.2 0.4h0m0.6 0.1h0m-0.3 0.1h0m-0.3 2.2h0m0.7 0.2h0m-0.4 0.1h0m0.6 0.2h0m-0.8 1.1h0m0.8 0.2h0m-0.4 0.2h0m0.1 0.2h0m-0.5 0h0m0.5 0.9h0m-0.3 1.3h0m0.6 0.1h0m-0.2 0.2h0m-0.4 0.1h0m1.1-70.7h0m0 2.8h0m0.1 4h0m-0.4 5h0m0.6 4.1h0m-0.4 2.6h0m-0.3 4.8h0m0.5 4.2h0m0 4.3h0m0.3 3h0m0 3.8h0m-0.8 5.9h0m0.5 1.6h0m0.2 0.8h0m-0.5 0.8h0m0.5 1.4h0m-0.2 2.8h0m-0.4 0h0m-0.1 0.4h0m0.5 2.2h0m0.1 0.4h0m0.3 0.7h0m-0.8 0.7h0m0.4 0.3h0m-0.3 1h0m0.4 0.3h0m-0.5 0.8h0m-0.2 0.4h0m0.3 1.3h0m0.4 0.3h0m0.1 0.5h0m-0.3 0.3h0m-0.3 2.2h0m0.7 1.4h0m-0.4 0.1h0m0.5 0.1h0m-0.2 0.5h0m0.2 0h0m0 0.5h0m-0.1 0.4h0m0 0h0m-0.3 0.3h0m0.2 0.1h0m0.1 0.1h0m-0.6 0.6h0m-0.3 0.2h0m0.3 0.3h0m-0.1 0h0m0.3 1.1h0m-0.5 0h0m0.2 0.3h0m0.6 0h0m0.1 0.4h0m0.1 0.3h0m-0.8 0.1h0m0.2 0.1h0m-0.2 44.3h0m1.7-78.3h0m0 4h0m0 0.2h0m-0.9 9h0m0.2 5.1h0m0.4 0.2h0m0.3 1.1h0m-0.6 1.4h0m-0.2 0.1h0m-0.1 0.6h0m0.1 3.8h0m0.1 0.3h0m0.7 1.8h0m-0.5 0.5h0m0.4 0.3h0m-0.5 0.6h0m0.4 0.5h0m-0.4 0.3h0m-0.1 0.1h0m0.7 0.1h0m-0.7 0.2h0m0 0.7h0m0.2 0.7h0m0.6 0.4h0m-0.7 0.7h0m0.7 0.2h0m-0.3 0.9h0m-0.5 0h0m0.3 44.5h0m0.6-72.3h0m0.7 3.3h0m-0.8 4.4h0m0.1 1.2h0m0 0h0m0.1 2.5h0m0 5.6h0m0.4 2.6h0m-0.3 1.5h0m0.3 0h0m0.1 0.3h0m-0.6 0.9h0m0.1 0.2h0m0.1 0.2h0m0.3 0.1h0m0.4 0.4h0m0 0.2h0m0 0h0m-0.1 1.5h0m-0.5 0.3h0m0.3 0.2h0m-0.3 1h0m0.3 0.1h0m0 0.2h0m-0.6 0.8h0m0.7 0h0m-0.4 0.1h0m0.4 44.9h0m0.2-63.8h0m0.1 8.4h0m0 2.9h0m0.1 1.5h0m-0.2 1.9h0m0.1 0.5h0m0.1 1.9h0m0 1.3h0m-0.1 0.7h0m17.7-21.8h0m-0.2 0.2h0m0.3 3.9h0m0 4.8h0m-0.3 0.6h0m0.2 2.1h0m0 0h0m-0.3 0.4h0m0.4 0.4h0m-0.2 0.4h0m0.1 0.3h0m-0.1 1h0m0.3 0.2h0m-0.3 0.1h0m-0.1 0.1h0m0 0.2h0m0.2 0h0m-0.3 1.3h0m0 50.2h0m1.1-93.9h0m0.2 9.7h0m-0.4 10.8h0m-0.2 2.1h0m-0.2 0.3h0m0.9 2h0m-0.4 3.7h0m0.3 0.3h0m-0.5 1.1h0m0.7 3.3h0m-0.5 1.2h0m-0.4 0.1h0m0 0.4h0m0.1 0.2h0m0.4 0.3h0m0 2h0m-0.2 0.2h0m-0.3 1.2h0m0.1 0.5h0m-0.1 1.2h0m0.7 1.3h0m-0.5 0.3h0m0.7 0.1h0m-0.9 0.1h0m0 0h0m0.8 0.2h0m-0.5 0.1h0m-0.3 0.2h0m0.6 0.5h0m-0.2 0.1h0m0.4 0.2h0m0 0h0m-0.8 0.3h0m0.1 0h0m0.6 49.7h0m0.6-75.5h0m0.5 7.8h0m-0.1 0.5h0m-0.2 0.2h0m0.3 0.5h0m-0.4 0.7h0m0.1 0.7h0m0.4 0.6h0m-0.7 0.3h0m0.2 0.5h0m-0.1 3.1h0m-0.1 1.6h0m-0.3 0h0m0.6 0.5h0m0.2 1.5h0m-0.8 0.6h0m0.8 0h0m-0.4 0.5h0m0.2 0.1h0m0 0h0m-0.5 0h0m0.2 2.6h0m0.3 0.4h0m0.3 1.1h0m-0.2 0.2h0m-0.1 0.1h0m-0.2 0.1h0m-0.2 0.3h0m0.6 0.1h0m-0.8 0h0m0.9 0.1h0m-0.8 0.3h0m0.2 0.2h0m0.2 0.1h0m0.2 0.3h0m-0.2 0.2h0m-0.4 0.1h0m0.2 0h0m0.4 0.1h0m1.2-24.6h0m-0.5 8.9h0m-0.3 0.7h0m0.3 1.4h0m-0.2 0.7h0m0.7 1.1h0m-0.7 2.8h0m0.6 1.7h0m-0.4 0.9h0m-0.3 0.1h0m0.2 0.1h0m0.1 1.8h0m-0.2 0.4h0m-0.2 0.3h0m0.7 0.1h0m-0.3 0.5h0m-0.3 0.9h0m0.5 0.2h0m-0.6 0.2h0m0.9 0.3h0m0 0h0m0 0h0m-0.2 0.2h0m0.2 0.1h0m-0.6 0.1h0m0.3 0.3h0m-0.1 0h0m-0.2 0.8h0m0.3 0.1h0m-0.4 0h0m-0.1 49.9h0m1.2-95.9h0m0.2 2.4h0m0.2 4h0m-0.1 2.1h0m-0.1 2.6h0m-0.1 3.9h0m0 4.2h0m-0.1 2.7h0m-0.2 3.5h0m0.2 0.1h0m0.6 0.1h0m-0.8 0.8h0m0 1.3h0m0 2.5h0m0.7 0.1h0m-0.2 1.2h0m-0.6 0.6h0m0.8 2.4h0m-0.5 0.7h0m-0.2 0.3h0m0.1 0.1h0m0.8 1.1h0m-0.7 0h0m-0.1 0h0m0.7 1.3h0m-0.4 0.5h0m0.1 1h0m-0.3 2.5h0m0.6 0.4h0m-0.8 0.4h0m-0.1 0.1h0m0.7 0.1h0m-0.4 0.3h0m-0.1 0.1h0m0.2 0.1h0m0.2 0h0m0.1 0.2h0m0.1 1h0m-0.5 0.3h0m-0.1 0.3h0m0.5 1.3h0m-0.3 48.9h0m1.6-88.6h0m-0.6 17.7h0m-0.2 4.7h0m0.5 1.6h0m-0.6 0.3h0m0.5 2.3h0m-0.2 0h0m0.4 0.1h0m-0.3 1.5h0m0 0.1h0m0.2 1.9h0m0.3 0.3h0m-0.4 1.4h0m-0.3 0.1h0m0.4 0.9h0m-0.2 0.2h0m-0.1 0.4h0m-0.1 0.4h0m0.5 0.1h0m-0.1 0.3h0m0.2 0.2h0m-0.5 0.2h0m-0.3 0.9h0m0.5 1h0m-0.1 0h0m0.3 0h0m-0.6 0.5h0m0.5 1.1h0m0.2 0.2h0m-0.3 0.1h0m0.4 0.2h0m-0.6 0.3h0m0.3 49.6h0m0.4-82.2h0m0.1 13.9h0m0 2.3h0m0.1 0.2h0m0 4.7h0m-0.2 0.1h0m0.2 7.6h0m0 2h0m18.4-27.2h0m0 9.4h0m0.3 3.7h0m-0.9 1.4h0m0.2 3.3h0m-0.2 2.3h0m0.9 1.9h0m-0.2 1.9h0m-0.6 0.7h0m0.1 0.4h0m0.6 1.2h0m-0.6 0.2h0m0 0.4h0m0.2 0.2h0m0.2 0h0m-0.1 0.3h0m-0.4 0h0m0.5 0h0m-0.3 0.2h0m0.1 0.1h0m0.5 0h0m-0.5 0.2h0m0.1 0.2h0m-0.4 0.1h0m0 0.3h0m0.5 0.1h0m-0.5 0.4h0m0.4 0.2h0m-0.5 49.9h0m1.2-86.9h0m0.6 16.7h0m-0.3 0.1h0m0 2.5h0m-0.5 2.4h0m0.8 1.6h0m-0.8 1.4h0m0.4 0.9h0m0.3 1.7h0m-0.5 0.3h0m0.7 0.6h0m-0.7 0h0m0 0h0m-0.3 0.2h0m0.1 1.9h0m0.9 0.4h0m-0.2 0.8h0m-0.2 0.5h0m-0.5 0h0m0.5 0.1h0m-0.5 0h0m0.3 0.2h0m0.2 0h0m-0.1 0.1h0m0.3 0h0m-0.3 0.9h0m-0.4 0.1h0m0.2 0.3h0m0.6 0h0m-0.4 0.2h0m0.5 0.6h0m-0.1 0h0m-0.7 0.2h0m0.5 0.5h0m-0.3 0.1h0m0.6 0.2h0m-0.1 0.3h0m-0.7 0.2h0m0.3 0.2h0m0 0.1h0m0.4 0.6h0m-0.5 49.9h0m1-79.5h0m0.4 3.4h0m-0.6 0.4h0m0.1 6.8h0m0.2 0.4h0m0.2 3.7h0m0.1 0.4h0m-0.6 0.9h0m-0.2 0.2h0m0.1 1.2h0m0.1 0.8h0m0.8 0.3h0m-1 1.6h0m0.1 0.2h0m0.5 0h0m-0.1 0.1h0m0.4 0.2h0m-0.2 0.4h0m-0.6 2.4h0m0.5 0.7h0m-0.6 1.2h0m0.1 0.4h0m0.5 0h0m-0.1 0.1h0m-0.3 1.5h0m0.3 0.9h0m-0.5 0.8h0m0.9 0.2h0m-0.2 0.2h0m0.2 0.2h0m-0.9 0.1h0m0.7 49.8h0m0.4-76h0m0.6 11.2h0m0 0.1h0m0 1.6h0m0.1 0.2h0m0.1 0.5h0m-0.7 2.8h0m0 1.4h0m0.4 0.9h0m0.1 1h0m0.2 0.5h0m0 0.2h0m-0.9 2.3h0m0.6 0.1h0m0.1 1h0m0.2 0.3h0m-0.4 0.4h0m0.4 0.2h0m-0.8 0.2h0m0.5 0.2h0m-0.6 0.2h0m0.6 0.4h0m-0.2 0.3h0m0.3 0.1h0m0.3 49.4h0m0.5-123.2h0m0 6h0m0.1 0.5h0m0.1 5.7h0m-0.3 5.1h0m0.5 5.2h0m-0.3 3.7h0m-0.2 2h0m0.3 5.6h0m-0.4 5.1h0m0 5.1h0m0.6 3.1h0m-0.4 5.7h0m0.2 3.9h0m-0.6 1.4h0m0.2 0.1h0m0.6 1.6h0m-0.8 0.3h0m0.5 0.1h0m0 2.1h0m-0.5 0.8h0m0.7 1.6h0m0 0.3h0m0 0.4h0m-0.7 0h0m0.8 0.5h0m-0.8 0.2h0m0.3 0.9h0m0.1 1h0m-0.1 0.2h0m-0.1 0.5h0m0.3 1.9h0m-0.5 0.1h0m0.7 0.1h0m-0.7 0.4h0m0.9 0h0m-0.3 0h0m0.3 0.1h0m0 0.3h0m-0.3 0.1h0m-0.2 0.2h0m0 0.8h0m0.3 0.7h0m-0.5 1.1h0m1.2-60.3h0m0 1.6h0m-0.2 2.8h0m0.4 4.4h0m0.1 5.8h0m0 2.7h0m-0.2 5.9h0m-0.4 3.3h0m-0.2 1.3h0m0.5 0.9h0m-0.1 0.3h0m-0.3 2.3h0m-0.1 2.7h0m0.7 0.2h0m-0.4 0.1h0m-0.3 2.7h0m0.9 0.6h0m-0.6 2.7h0m0.5 2h0m-0.8 0.5h0m0.9 4h0m-0.6 1.5h0m-0.1 0h0m0.6 0.5h0m-0.2 1.2h0m-0.2 0.7h0m0.2 0.1h0m-0.4 2.2h0m0.1 1.5h0m0.3 0.3h0m-0.1 0.4h0m0 0h0m0 0.2h0m0.2 0.6h0m-0.2 0.2h0m0.2 0.2h0m-0.1 0.5h0m-0.2 0.1h0m0.3 0h0m0 0.4h0m-0.1 0.8h0m0.1 1.3h0m-0.6 0.1h0m0.6 0.1h0m-0.1 0h0m0.3 0.6h0m-0.6 48.9h0m15.6-72.7h0m-0.6 10.8h0m0.3 0.3h0m-0.1 5h0m0.2 1.6h0m0.2 0.8h0m-0.7 0.4h0m0.6 0.2h0m-0.3 0.9h0m-0.2 0.2h0m0.6 0.8h0m-0.6 0.4h0m0.5 0.5h0m0 0.2h0m-0.5 1.2h0m0 0.6h0m0.1 0.2h0m0.1 0.1h0m0.4 0.2h0m-0.3 0.1h0m0.4 0.6h0m-0.7 0.1h0m0.7 0.1h0m-0.6 0.5h0m0.5 0.2h0m-0.5 1h0m0.1 0.9h0m0.4 0.2h0m-0.2 0h0m-0.4 0.1h0m0.3 0.3h0m-0.4 44h0m1.6-86.6h0m0.2 17.2h0m-0.9 12.3h0m0.1 0.9h0m0.5 0.4h0m0.1 0.7h0m0.1 0.4h0m0 0.4h0m0 0h0m-0.4 0.1h0m0.3 1h0m-0.1 0.5h0m-0.6 0.5h0m0.6 1.4h0m0 0.8h0m0.3 0.1h0m-0.3 0.4h0m0.1 0.4h0m0 0.1h0m-0.6 0.8h0m-0.2 0.3h0m0.3 0.4h0m0 0.5h0m0.5 1.2h0m0 0h0m-0.4 0.1h0m-0.2 0h0m0.2 0.1h0m0.4 0.2h0m-0.7 0.1h0m0.7 0.1h0m-0.5 0h0m-0.2 0.1h0m0.1 0.6h0m0.7 0.1h0m-0.2 0.5h0m0 0.1h0m-0.2 44.1h0m1-109.3h0m0.5 11.4h0m-0.8 32.8h0m0.7 1.2h0m-0.6 4.3h0m0.5 0.1h0m-0.7 0h0m0.2 0.5h0m-0.3 0.9h0m0.8 1h0m0.1 1.6h0m-0.7 0.7h0m-0.2 1.1h0m0.6 1.2h0m0 2h0m-0.4 0.2h0m0.4 1.1h0m0.3 0.2h0m0 0.1h0m-0.2 0.1h0m-0.1 0.5h0m0.3 0.2h0m-0.4 0.1h0m-0.3 0.2h0m0.2 1.5h0m0.6 0.8h0m-0.4 0.1h0m0.3 0.2h0m-0.1 0.1h0m-0.2 0.4h0m-0.2 0h0m0.4 0.2h0m0 44.7h0m0.5-109.5h0m0.3 2.7h0m0 2.6h0m-0.5 2.8h0m0.5 6.5h0m-0.3 2.5h0m0 2.8h0m0 4.3h0m0.2 4.5h0m0.1 4.4h0m0 5.8h0m0.1 2.8h0m-0.6 1.2h0m0.9 0.9h0m-0.7 0h0m0.2 0h0m0.2 2.1h0m-0.1 1.9h0m-0.2 0.2h0m0.2 2.2h0m-0.1 3.1h0m-0.2 1.3h0m0 0.6h0m0.6 0.7h0m-0.7 0.3h0m0.3 1h0m0.2 0.1h0m0.2 0.4h0m-0.2 2.5h0m-0.1 0.1h0m0.3 0h0m0 0.3h0m-0.4 0.1h0m-0.2 0.2h0m-0.3 0.2h0m0.1 1h0m0.7 0.1h0m-0.8 0h0m0.3 0.1h0m0.6 0.7h0m-0.3 0.1h0m-0.5 0.4h0m0.8 0.1h0m-0.4 0.3h0m-0.2 0.2h0m0 0.3h0m0 0.1h0m-0.2 0.1h0m0.6 0h0m0.1 0.4h0m-0.7 0.1h0m13.5-49.4h0m-0.1 21.9h0m0.1 2.5h0m-0.2 2h0m0 2.7h0m-0.1 1.6h0m0.5 0.9h0m-0.5 0.4h0m0.6 0.4h0m0 1.8h0m-0.3 0.1h0m-0.5 2.3h0m0.2 2.3h0m-0.1 0.3h0m0.2 0.1h0m0.1 0.5h0m-0.3 0h0m0.1 0.1h0m0.3 0.1h0m0.4 0h0m-0.3 0.1h0m-0.6 0.3h0m0.6 0.1h0m-0.2 0.2h0m0.4 0.1h0m-0.3 0.5h0m-0.2 0.4h0m0.5 0.3h0m-0.5 0.1h0m0.1 0.5h0m0.4 0h0m-0.3 0.6h0m0 0.2h0m0.4 0h0m-0.7 0.2h0m0.4 0.1h0m-0.3 0.1h0m-0.3 49.8h0m1.7-110.6h0m-0.1 5.8h0m0 4.1h0m0 18.6h0m0 4h0m0 0.8h0m-0.2 2.7h0m-0.2 4.6h0m0.7 1.4h0m-0.2 0.2h0m-0.2 1.4h0m0.1 0.2h0m0.2 1.7h0m-0.2 0.5h0m0 1h0m-0.7 0.1h0m0.4 2h0m0.3 0.4h0m0.1 0.4h0m-0.7 3.8h0m0.5 2h0m-0.4 0h0m-0.2 0.1h0m0.8 0h0m-0.6 0.1h0m-0.1 0.2h0m0.5 0.4h0m0.3 0.5h0m-0.1 0.9h0m-0.5 0.3h0m0.1 0.2h0m0.5 0h0m0 1.3h0m0.1 0.2h0m-0.8 0.5h0m0.2 0h0m-0.3 0.5h0m0.3 49.6h0m1.1-109.2h0m0 5.5h0m-0.2 2h0m0.5 6h0m-0.1 3.5h0m0 1.7h0m0.1 3.6h0m-0.5 2.1h0m0.5 4.6h0m-0.1 5.9h0m-0.2 4.1h0m0.3 1.6h0m-0.1 2.4h0m0.1 0.1h0m0.1 0.6h0m0.1 1.1h0m-0.3 0.6h0m0.2 2.4h0m-0.1 1.1h0m-0.5 0.1h0m0.6 0.1h0m-0.7 1.1h0m-0.2 0.8h0m0.5 1.7h0m-0.4 0.3h0m0.2 0.4h0m0.6 0.9h0m0 0.8h0m-0.2 0h0m-0.5 0.4h0m0.5 0.1h0m0.1 0.7h0m0 0.1h0m0.1 0.1h0m-0.1 1.1h0m-0.2 0.2h0m0 0.1h0m-0.2 0.5h0m0.5 0.1h0m-0.4 0.1h0m0.1 0.4h0m-0.4 0.6h0m0.5 0.1h0m-0.6 0.6h0m0.6 49.3h0m0.8-109.6h0m0.4 0.6h0m0 3.1h0m-0.7 2.2h0m0 2.3h0m-0.1 2.2h0m0.8 5.6h0m-0.2 2.2h0m-0.6 2.4h0m0.7 2.8h0m-0.2 2.3h0m-0.4 3.6h0m0.5 5.6h0m-0.1 0.3h0m0.3 0.5h0m-0.8 1.6h0m0 2.8h0m0.8 0.4h0m-0.7 1h0m0.7 0h0m-0.1 0.8h0m0.1 3h0m-0.1 0.3h0m-0.2 0.2h0m-0.5 3.6h0m0.7 0.5h0m0 0.7h0m0.1 0.1h0m-0.2 0.1h0m-0.5 1.5h0m-0.1 0.6h0m0.3 0.4h0m-0.2 0.2h0m0.4 0.4h0m-0.4 0.7h0m0.6 0.6h0m0.1 0.8h0m-0.3 0.3h0m0.3 0.2h0m-0.7 0h0m0 0.1h0m0 0.1h0m0.1 0.8h0m0 0.4h0m0.1 0.2h0m0.4 0h0m-0.4 0.2h0m0.4 0.1h0m-0.2 0.1h0m-0.4 0.1h0m0.1 0.2h0m-0.1 0.3h0m-0.2 0.2h0m0.5 1h0m0.5 49.2h0m0.1-66.1h0m0.1 4.5h0m0.1 2h0m0 0.5h0m-0.2 1.1h0m0 0.7h0m0 1.6h0m0.1 2h0m0 0.5h0m0 1.5h0m-0.2 1.2h0m0.2 0.1h0" stroke="#0000fa" stroke-width="1.9" stroke-linecap="round" fill="none"/>
<path d="M59.3 225.5h0m0.1 4.5h0m-0.1 1.9h0m0.1 10.6h0m0 1.3h0m-0.1 41.5h0m0.3-72.6h0m0.6 0.1h0m-0.6 5.5h0m0.1 8.5h0m0.2 2.6h0m0.4 2.9h0m0 0.6h0m-0.4 0.1h0m0.4 0.3h0m-0.4 0.5h0m-0.2 1h0m0 0.1h0m0.8 0.7h0m-0.6 0.1h0m0.4 0.6h0m-0.6 0h0m0 1.1h0m0.2 0.9h0m0.1 1.2h0m-0.1 0.9h0m0.3 0.5h0m-0.1 0.4h0m0 0.7h0m0.3 0.4h0m0.5-17.2h0m0.3 1.2h0m-0.3 0.2h0m0.3 0.6h0m0.2 3.3h0m-0.5 0.3h0m0.3 0.2h0m-0.2 0.5h0m0.1 0.7h0m-0.1 3h0m-0.2 1.2h0m0.4 2.2h0m0 0.9h0m0.2 0.7h0m-0.3 0.2h0m0.3 0.1h0m-0.6 0.4h0m-0.2 0.5h0m0.1 1h0m0.6 0.7h0m0.1 0.2h0m0.1 0.1h0m-0.4 0h0m-0.2 0.2h0m0.1 0.3h0m-0.4 40.9h0m1.4-97.8h0m0.4 7.6h0m0.1 6.4h0m-0.7 20.5h0m-0.1 0.8h0m0.2 0.1h0m0.1 2.4h0m0.2 2.6h0m-0.2 2.2h0m0.2 1.9h0m0 1.8h0m-0.5 0.5h0m0 0.2h0m0.5 1.5h0m-0.2 1.5h0m0 0.2h0m-0.4 0.6h0m0.5 0.6h0m-0.4 2h0m0.3 0.4h0m-0.1 0.2h0m-0.1 0.4h0m0.3 0.6h0m0 0.2h0m-0.3 0h0m0 0h0m-0.3 0.1h0m0.8 0.5h0m-0.1 0.4h0m-0.4 0.1h0m0.6 0.2h0m-0.5 41.5h0m1.1-89.3h0m-0.1 0.5h0m0.1 5.8h0m0.3 0.2h0m-0.6 5.8h0m0.5 2.6h0m-0.7 1.6h0m0.6 2.1h0m-0.5 0.5h0m0.4 1.6h0m0.1 1.4h0m0.1 0.6h0m0.1 4.8h0m-0.2 1.4h0m-0.6 0.3h0m0.3 0.3h0m0.1 1.7h0m0.2 1.7h0m-0.6 0.3h0m0.4 0.2h0m0 1.1h0m0.4 1.4h0m-0.5 1.6h0m-0.1 0.4h0m-0.2 0.7h0m0.3 0h0m0.5 0.5h0m-0.5 0.5h0m0.1 0.9h0m-0.1 0.8h0m0.2 0.4h0m-0.3 0.2h0m0 0.2h0m0.5 0.3h0m-0.7 0.5h0m0.7 0.3h0m0.1 0.3h0m0.1 0.8h0m0 0h0m-0.8 0.1h0m0.7 1.1h0m-0.7 1.1h0m0.8 0.3h0m0.1 0.5h0m-0.1 0.4h0m-0.2 42h0m0.5-97.3h0m0.1 0.5h0m0.1 3.6h0m-0.3 6.3h0m0.2 2.6h0m-0.2 3.2h0m-0.1 1.7h0m1 8.9h0m-0.9 1.2h0m0.2 2.4h0m-0.3 0.4h0m0.9 0.7h0m-0.7 2.5h0m0.7 0h0m-0.5 4.4h0m0.2 0.1h0m-0.5 1.1h0m0.9 0h0m-0.6 3.1h0m0.1 0.2h0m0.5 0.6h0m-0.7 2.1h0m0 0.5h0m0.5 1h0m0.1 0.6h0m0.1 1.9h0m-0.3 0h0m0.3 1h0m-0.1 1.2h0m-0.4 0.5h0m0.1 0h0m0.4 0.6h0m-0.9 0.3h0m0.4 0.3h0m0.4 0.3h0m-0.2 0.5h0m-0.2 1.3h0m0.5 41.3h0m0.5-68.5h0m0.4 4.8h0m-0.1 4.5h0m0.1 0.2h0m0 1.4h0m-0.5 1.5h0m-0.4 0.3h0m0.9 0.5h0m-0.7 3.5h0m0.5 1.3h0m0 0.2h0m0.1 2.7h0m-0.7 1h0m0.6 0.5h0m-0.6 0.1h0m0.5 0.6h0m0.3 0.2h0m-0.1 0.1h0m0 0h0m-0.5 0.9h0m0.1 0.5h0m-0.3 0h0m0.8 0.2h0m-0.3 0h0m0.2 0.1h0m0.2 0.7h0m-0.7 0.8h0m0 0.1h0m0.6 0.4h0m-0.2 0.1h0m0.7-26.7h0m0.5 1.1h0m-0.6 4h0m0.7 1.1h0m-1 5.6h0m0.9 1.1h0m0 3.1h0m-0.7 2.7h0m0.7 0.6h0m-0.8 0.3h0m0.7 1.5h0m-0.4 0.1h0m0.5 0h0m-0.7 0.7h0m-0.1 0h0m0.5 0.4h0m0.4 0.1h0m-0.1 0.2h0m-0.1 0.6h0m-0.6 0.6h0m0.3 0h0m0.2 0.5h0m-0.3 0h0m0.1 0.5h0m0.1 0.4h0m-0.4 0h0m0.6 0.3h0m0.1 0.1h0m-0.7 0.3h0m-0.1 0.1h0m0.1 0.1h0m0.1 0.3h0m0.2 0.3h0m0.3 0.1h0m-0.5 41.6h0m1.2-72.6h0m0.3 3h0m-0.5 10.9h0m-0.1 1.1h0m0.6 1.7h0m-0.7 0.1h0m0 3.9h0m0.2 1.1h0m0.7 1.7h0m-0.7 0.3h0m0.3 0.5h0m-0.3 0.5h0m0.2 0h0m-0.3 1h0m0.4 0h0m-0.4 0.3h0m0.3 0.4h0m0.1 0.4h0m-0.2 0.1h0m-0.3 0.3h0m0.7 0.6h0m-0.2 0.2h0m0.2 1.9h0m-0.1 0.1h0m-0.2 0.1h0m0.1 0h0m-0.1 0.2h0m-0.3 0.1h0m0.5 0h0m-0.5 0.5h0m0.4 41.1h0m1-73.7h0m-0.4 0.9h0m0.2 9.7h0m-0.1 0.4h0m0.1 0.6h0m-0.2 0.7h0m0 1h0m0.3 4.3h0m-0.2 0.7h0m0.5 0.8h0m-0.8 0h0m0.5 0.9h0m0.3 1h0m-0.7 0.7h0m0.8 0.2h0m-0.7 1.1h0m0.1 0.1h0m0 0.8h0m-0.1 0.1h0m0.5 1.8h0m0 0.4h0m0.1 0.2h0m-0.7 0.6h0m0.6 0.9h0m-0.1 0.4h0m-0.2 0.1h0m0.2 0.3h0m0.1 0.4h0m-0.5 0h0m0.8 0.3h0m-0.6 0.2h0m0.3 0.4h0m-0.3 0.6h0m0 0.2h0m0.5 0.2h0m0 0.2h0m-0.2 0.3h0m-0.5 0.2h0m-0.1 0.9h0m0.8 0h0m0 41.2h0m0.7-90.3h0m0.2 2.8h0m0 6.2h0m-0.5 17.1h0m0.5 7.8h0m-0.8 1.2h0m0.7 1.5h0m0.3 0.4h0m-0.1 1.2h0m0 0.1h0m-0.2 0h0m0.1 1.8h0m0.1 0.2h0m-0.3 1.1h0m0 0.2h0m-0.6 0.5h0m0.7 0.1h0m-0.2 3.9h0m-0.1 0.2h0m0.5 0.5h0m-0.8 0.9h0m0 0h0m0.9 0.4h0m-1 0.2h0m0.5 0.3h0m-0.5 0.2h0m0.4 0.1h0m0.7-42.5h0m0.8 2h0m-0.2 9h0m-0.2 12.7h0m0.1 0.9h0m-0.2 1.8h0m-0.3 1h0m0.5 1.3h0m-0.5 2.1h0m0.3 1.9h0m0.2 4.2h0m-0.1 0.1h0m0.4 1.6h0m0.1 0.9h0m-0.8 1.3h0m0.5 1h0m0.2 0.1h0m-0.7 0.1h0m-0.2 0.1h0m0.8 0.2h0m0.2 0.1h0m-0.8 0.3h0m0 41h0m0.9-70.8h0m0.1 7.7h0m-0.1 7.3h0m0 0.9h0m0.3 0.4h0m0.1 1h0m-0.1 0h0m0 1h0m0 0.1h0m-0.4 0.1h0m0.3 1h0m-0.2 0.3h0m0.4 0.2h0m-0.5 0.4h0m0.2 0.2h0m0 0.5h0m0.3 0h0m0.1 0.3h0m0.1 0.7h0m-0.4 0.1h0m0.3 0.4h0m-0.4 0.5h0m0.4 0.4h0m-0.4 0h0m0.6 0.1h0m-0.4 0.1h0m0.2 0.8h0m-0.4 1.3h0m0.2 0.3h0m0.5 0.1h0m-0.8 0.2h0m0.6 0.4h0m-0.2 0.2h0m-0.1 0.3h0m0.1 0h0m0 0.4h0m0.4 0.2h0m-0.4 0.3h0m0.3 0.1h0m-0.5 0.7h0m-0.2 0.6h0m0.6 0h0m0.3 0.1h0m-0.5 41.7h0m0.5-84.7h0m1 16.9h0m-0.3 6.7h0m0.2 0.2h0m-0.3 3h0m0.1 2.8h0m-0.1 0.3h0m0.3 0.1h0m0 0.3h0m-0.9 0.1h0m0.3 0.1h0m-0.1 0.5h0m0 0.5h0m0.7 1.2h0m-0.1 1.7h0m-0.3 1.1h0m-0.2 0.5h0m-0.3 0.1h0m0.3 0.7h0m0.5 0.4h0m-0.4 0.8h0m0.2 0.6h0m-0.1 1.2h0m0.3 0.1h0m-0.4 1h0m0.3 0.4h0m0 0.9h0m-0.1 0.3h0m-0.5 0.1h0m0.7 0.3h0m0 41.1h0m0.7-95.1h0m0 0.8h0m0.4 2.6h0m-0.4 3h0m0 2.6h0m0.2 4.6h0m0 5.8h0m-0.2 5.4h0m-0.1 4.1h0m0.5 0.1h0m-0.2 3.5h0m-0.3 4h0m0.2 1.4h0m0 6h0m-0.5 2.7h0m0.6 0h0m-0.5 0.4h0m0.3 0.4h0m-0.2 2.9h0m-0.1 1.6h0m0 0.2h0m0.4 0.2h0m0.1 0.4h0m-0.1 0h0m-0.2 0.3h0m-0.1 0h0m0.3 0.2h0m-0.1 0.4h0m0 0h0m-0.5 0.1h0m30 41.6h0m0.6-97.5h0m-0.1 8.6h0m0 1.3h0m0.1 13.6h0m-0.1 10.9h0m0.2 0.8h0m0.3 0h0m-0.1 0.8h0m-0.1 2.3h0m-0.1 4.3h0m0.2 0.5h0m-0.3 1.3h0m0.1 2.5h0m0.2 0.4h0m-0.5 1.6h0m0.2 1.2h0m0.2 0.2h0m-0.5 0h0m0.5 0.2h0m-0.2 1.9h0m0.1 0.4h0m-0.5 0.1h0m0 2.3h0m0.6 0.2h0m-0.5 0.6h0m-0.1 0.2h0m0.5 0.1h0m-0.6 0.2h0m0.7 0h0m0 0.4h0m0 1h0m-0.7 0.5h0m0.7 0.4h0m0 0h0m-0.4 0.1h0m-0.1 0.1h0m0.1 0h0m0.4 0.2h0m1-14.8h0m-0.1 1.9h0m-0.1 0.1h0m0.1 0.2h0m-0.3 0.8h0m0.4 2.3h0m-0.1 0.2h0m-0.7 0.5h0m0.2 0.8h0m-0.2 1.3h0m0.7 0.3h0m-0.4 0.1h0m0.3 1.4h0m0.2 1.1h0m-0.1 0h0m-0.2 0.1h0m0 0.1h0m0.2 0.6h0m-0.4 0.1h0m0.3 0.2h0m0.1 0.3h0m-0.7 0.5h0m0.8 0.1h0m-0.5 0.4h0m0.4 0.1h0m0.2 0.3h0m-0.5 0.2h0m0.2 0.1h0m0.2 0h0m-0.5 0.3h0m-0.3 0.1h0m1 0.2h0m0 0h0m-0.7 38.9h0m1.3-76.5h0m-0.3 6.1h0m0 1h0m0.2 8.1h0m0 1.5h0m-0.2 1.1h0m0.1 0.1h0m0.1 2.1h0m-0.2 0.2h0m0.2 2.3h0m-0.5 1.7h0m0.8 1.2h0m0.2 1.6h0m-0.6 0.1h0m0.1 0.1h0m0 2.9h0m-0.1 0.9h0m0.2 0.3h0m-0.1 1.3h0m-0.3 2.5h0m0.3 0.5h0m0.4 0.4h0m0.1 0.8h0m-0.4 0.5h0m0 0.1h0m0.4 0h0m-0.5 0.2h0m0.2 0h0m-0.1 38.2h0m1.3-54.6h0m0.1 1.1h0m-0.3 0.2h0m0.1 2.1h0m-0.3 0.3h0m0 0.2h0m-0.4 0.4h0m0.4 2.2h0m-0.3 1h0m0.7 0.8h0m-0.3 0.2h0m0.2 2.7h0m0.2 0.3h0m-0.4 0h0m-0.2 0.3h0m0.2 1.1h0m-0.3 0.4h0m0.5 0.4h0m-0.6 0h0m0.2 1.2h0m0.4 0.2h0m-0.3 0.5h0m-0.1 0.3h0m0.4 0.5h0m0.1 38.6h0m0.3-81.7h0m0.7 8.8h0m-0.7 0.1h0m0.5 2.1h0m0.1 0h0m-0.7 2.2h0m0 2.4h0m0.8 3.8h0m-0.8 2.7h0m0 1.7h0m0.2 0.3h0m-0.1 2.2h0m-0.1 1.6h0m0.6 3.4h0m-0.5 0.5h0m0.4 0.9h0m0 0.2h0m-0.5 1.9h0m0 0h0m0.5 0.7h0m0.2 0.5h0m0.1 1.4h0m-0.2 0.1h0m0.2 0.2h0m-0.4 1.1h0m-0.2 0.5h0m0.5 0.6h0m0 0.2h0m0.1 0.5h0m-0.8 0.6h0m0.4 0.3h0m-0.4 0.2h0m0.6 0.1h0m-0.1 0.1h0m-0.5 0.1h0m0.9 0.3h0m-1 0.1h0m0.1 0.1h0m0 0.2h0m0.6 0.2h0m0.3-34.1h0m0.1 5.1h0m0 6.2h0m0.5 2.4h0m0.2 4h0m-0.8 0.5h0m0.7 3.1h0m-0.2 0.8h0m-0.2 2.4h0m0.6 0.7h0m-0.7 0.1h0m0.2 0.7h0m-0.4 0.2h0m0.5 0.5h0m-0.4 0.8h0m0.1 1h0m0.6 0.3h0m-0.4 0.2h0m-0.3 0.4h0m0.6 0.1h0m-0.1 0.5h0m0.3 0.3h0m-0.6 0.5h0m-0.1 0.4h0m0.5 0.4h0m-0.4 0.3h0m0.3 0h0m-0.2 0.5h0m0.2 0h0m0 0.7h0m-0.4 0.1h0m0.4 0h0m-0.2 0.2h0m-0.1 0h0m0.4 0.2h0m-0.5 39.1h0m1.3-89.8h0m0.1 4.2h0m-0.1 2.5h0m-0.1 2.9h0m-0.1 2.5h0m-0.2 5.6h0m0.5 5.1h0m-0.2 4.8h0m0.4 0h0m0.1 2h0m-0.8 0.1h0m0 1.8h0m0.2 0.8h0m0 1.5h0m-0.1 2h0m0 0.6h0m0 1.2h0m0.6 0.5h0m-0.8 0.3h0m0.1 0.8h0m0 0h0m-0.1 0.6h0m0.1 0.1h0m0.3 0.5h0m0.6 0.3h0m-0.7 0.4h0m-0.1 0.2h0m0.5 0.1h0m-0.1 2.6h0m-0.2 0.1h0m-0.4 1.2h0m0.3 0.2h0m0.2 0.3h0m0 0.4h0m0 0.4h0m0.4 2.2h0m-0.1 1.2h0m-0.3 0.9h0m-0.2 0h0m-0.1 0.1h0m0.6 0h0m-0.7 0.3h0m0.4 38.9h0m1.2-63.4h0m-0.7 2h0m0.4 4.3h0m0.5 3h0m-0.1 0.2h0m-0.1 0.7h0m0.1 1.5h0m-0.1 1.4h0m-0.6 0.4h0m0.3 0.8h0m0 0.1h0m0.2 0.1h0m0.4 0.6h0m-0.4 0.2h0m-0.2 0h0m0.1 0.7h0m0.4 0h0m-0.4 0.6h0m-0.1 0.2h0m-0.1 0.6h0m0.2 0.9h0m-0.4 0.4h0m0.9 0.2h0m-0.9 0.1h0m0.2 0.6h0m0.4 1.8h0m-0.1 0.4h0m-0.2 0.3h0m0.5 0.2h0m0 0.3h0m-0.5 0h0m0.1 0.6h0m-0.4 0.1h0m0.2 0.1h0m0.2 0.3h0m0.2 0.5h0m-0.4 0.4h0m0.5 38.6h0m0.4-74.2h0m0.6 12.3h0m-0.2 5.1h0m0.4 2.6h0m-0.5 0.3h0m0 0.1h0m0.2 0.7h0m0 2.1h0m-0.1 3.4h0m-0.3 2.1h0m-0.1 0.2h0m0 0.3h0m0.5 0.8h0m0.2 0.5h0m-0.6 0.1h0m-0.3 0.2h0m0.9 0.3h0m-0.4 0.8h0m-0.5 1.3h0m0.3 0h0m0.2 0.4h0m0.2 0.1h0m-0.5 0.4h0m0.6 0.3h0m-0.4 0.1h0m-0.2 0.3h0m1.1-25.3h0m-0.2 2.2h0m-0.1 1h0m0.1 0.5h0m0.1 0.9h0m0.5 2.1h0m-0.6 0.7h0m0.2 0.7h0m-0.1 4.1h0m0.2 0.5h0m-0.3 1.5h0m0.1 0h0m0.5 0.1h0m0.3 0.1h0m-0.5 0.3h0m0 0h0m-0.2 1.3h0m-0.2 0.1h0m0.8 0.1h0m-0.7 0.3h0m0 1.3h0m0.8 1.3h0m-0.1 0.8h0m-0.2 0.3h0m-0.2 0.6h0m0.3 0.4h0m-0.2 0.6h0m-0.4 0.1h0m0.1 0.3h0m0.7 0.8h0m-0.3 0.3h0m-0.2 0.2h0m0.4 0.3h0m-0.6 0.2h0m-0.1 0.6h0m0 0.1h0m0.1 0.4h0m-0.2 39.4h0m1.2-91.2h0m0.6 23.1h0m-0.7 2.8h0m0 5h0m0 1h0m0.6 0.7h0m-0.6 0.6h0m0.7 1.5h0m-0.8 3.7h0m0.2 0h0m0.1 0.1h0m-0.3 4.3h0m0.3 0.1h0m-0.4 1.9h0m0.8 0.8h0m-0.1 0h0m0.2 0.3h0m-0.6 0.1h0m0.3 0.6h0m0 0.1h0m-0.3 0.6h0m-0.2 0.2h0m0.9 0.4h0m-0.4 0.1h0m-0.1 0.5h0m-0.3 0h0m0.5 0.4h0m0.2 0.6h0m-0.5 0.3h0m0.4 0.2h0m-0.6 1.5h0m0.8 0.2h0m-0.8 0h0m0 0.1h0m0.3 0.2h0m-0.4 0.2h0m0.1 0.5h0m0.1 0h0m0.7 0.1h0m-0.6 38.7h0m1.5-96.6h0m-0.1 5.3h0m-0.2 4.8h0m0.1 13.4h0m0.3 2.3h0m-0.2 1.6h0m-0.1 0.9h0m0 2.8h0m0 0.8h0m0.3 1.8h0m-0.8 3.2h0m0.7 2.3h0m0 2h0m0 0.7h0m-0.8 0.4h0m0.9 1.1h0m-0.3 1.6h0m-0.7 0.6h0m0.4 0h0m-0.3 1.7h0m0.2 1.8h0m-0.1 0.8h0m0.8 2h0m-0.8 1.4h0m0.2 0.1h0m-0.2 0.1h0m-0.1 0.2h0m0.5 0h0m-0.1 0.6h0m0.1 1.3h0m-0.2 1h0m-0.3 0.1h0m0 0h0m0.4 0.1h0m-0.5 0.7h0m0.2 0.2h0m-0.2 0.1h0m0.2 0.1h0m0.5 38.5h0m0.5-61.9h0m-0.1 2.8h0m0 3.8h0m0.2 5.2h0m-0.1 4.5h0m0 3.2h0m0 0.9h0m0 3h0m28.7-44.3h0m-0.3 13.8h0m0.3 1.1h0m0 4.3h0m0 7.9h0m-0.1 2.5h0m-0.2 0.9h0m0.1 0.9h0m0.1 2.6h0m0.2 0.6h0m-0.3 0.3h0m0.2 1.7h0m-0.3 0.8h0m0.2 1h0m-0.3 44.7h0m0.7-76.3h0m0.3 0.4h0m-0.1 2h0m-0.1 4.2h0m0 4.8h0m-0.2 1.1h0m0.4 0.1h0m0.3 1.4h0m-0.7 3.2h0m0 0.5h0m0.5 0.7h0m-0.4 1.4h0m-0.2 0.6h0m0.8 1.2h0m-0.4 0.1h0m0.3 1.1h0m-0.1 1.6h0m0.3 0.1h0m-0.1 0.9h0m0.1 0.5h0m-0.7 0.1h0m0.7 1.5h0m-0.9 0.1h0m0.8 0.1h0m-0.6 0.3h0m0 2h0m0.6 0.1h0m-0.8 0.1h0m0.7 0.6h0m-0.7 0.1h0m0.7 0.1h0m-0.6 0.5h0m0.6 0.2h0m-0.5 0.3h0m-0.2 0.1h0m0.8 44.3h0m0.5-90.6h0m-0.1 22.1h0m0.8 1.2h0m-0.1 1h0m-0.3 4.3h0m0.1 0h0m0 1.1h0m0.1 0.9h0m-0.2 1.3h0m-0.5 4.7h0m0.4 1.8h0m0 0h0m0.5 0.8h0m-0.6 1.1h0m0.5 1.8h0m-0.4 0.5h0m0.3 0h0m-0.6 0.2h0m0.5 0.3h0m0 0.1h0m-0.3 0.5h0m-0.1 0.3h0m0.3 0.6h0m0.3 0h0m-0.9 0.3h0m0.3 0.1h0m0.5 0.3h0m-0.4 0.4h0m0 0.3h0m0.8-31.5h0m-0.1 1.3h0m-0.1 4.3h0m0.5 7.6h0m-0.2 1.5h0m-0.1 0.4h0m0.7 2.6h0m-0.8 1.2h0m-0.1 2.1h0m0 1.5h0m0.6 2.1h0m0.3 0.4h0m-0.3 0.1h0m0.1 1h0m-0.4 0.6h0m-0.1 0.9h0m-0.1 0.3h0m0.5 0.8h0m-0.4 0.6h0m0 0.3h0m0.4 0.2h0m-0.3 0h0m-0.2 0.2h0m0.8 0.4h0m-0.1 0.5h0m-0.8 0.2h0m0.4 0.4h0m-0.3 44.6h0m1-77.6h0m0.7 9.7h0m0.2 2.8h0m-0.3 1.7h0m-0.4 0.6h0m0.7 1.5h0m-0.2 0.2h0m0 0.4h0m-0.1 0.5h0m-0.4 0.5h0m0 1.7h0m0.1 0.5h0m0.1 0.7h0m0.5 0h0m-0.1 1.1h0m-0.1 0.8h0m-0.3 5.2h0m-0.4 0h0m0.7 0.1h0m-0.2 0.3h0m-0.6 0.6h0m0.3 0.4h0m0.6 0.4h0m0.1 0.4h0m-0.1 0.6h0m-0.5 0h0m-0.1 0.1h0m0.2 0.4h0m0.1 0.4h0m-0.6 0.3h0m0 0.4h0m0 0.7h0m0.9 0h0m-0.1 0h0m-0.4 44.1h0m1.2-127.6h0m0.2 2.2h0m-0.2 2.5h0m0 2.9h0m0.2 2.5h0m-0.1 3h0m-0.2 2.3h0m0 3.2h0m0.2 2.1h0m-0.1 3.4h0m-0.2 4.7h0m0.3 0.8h0m0.1 2.5h0m-0.3 1.6h0m0.1 4.1h0m-0.2 5.3h0m0.3 4.1h0m-0.2 5.3h0m0.5 1.8h0m0 0.7h0m-0.4 2.9h0m-0.6 0.1h0m0.8 5.6h0m-0.4 0.8h0m0.4 0h0m0 0.4h0m0.1 1.4h0m-0.4 3.1h0m0.2 3.1h0m-0.5 0.5h0m-0.2 2h0m0.7 1.5h0m-0.2 0.2h0m0.2 0.3h0m-0.5 0.1h0m0.1 0.2h0m0.5 1.1h0m-0.4 0.6h0m0 2.1h0m0 0.3h0m0.2 0.2h0m0 0.2h0m-0.4 0.8h0m0.2 0.1h0m0 0.1h0m0.5 0.2h0m-0.6 0.2h0m0.1 0.2h0m-0.1 0.1h0m0.3 0h0m-0.4 0h0m0.2 0.4h0m0.3 44.3h0m0.5-105h0m0.3 5.6h0m-0.3 8.7h0m0.3 26.5h0m-0.3 0.2h0m0 1.3h0m0.6 1h0m-0.5 2.2h0m0.1 1.3h0m0 0.6h0m0.4 1.7h0m-0.7 0.6h0m0.7 0.3h0m-0.3 0.8h0m0.4 1.9h0m-0.8 1h0m0.2 0.1h0m0 0.4h0m-0.1 0.7h0m0.6 2h0m-0.4 0h0m0 0.4h0m0.1 0.2h0m-0.2 0h0m0.7 0.1h0m-0.5 0.2h0m0.1 0h0m-0.1 1h0m0.3 1.8h0m0.4-54.6h0m0.6 30.7h0m-0.2 2.2h0m-0.1 3.2h0m0 4.2h0m0 0.8h0m0.5 1.6h0m-0.5 0.5h0m-0.1 0.3h0m0.4 2.8h0m-0.5 0h0m0.1 0.6h0m-0.1 1.4h0m-0.2 0.5h0m0.5 1h0m-0.5 0.3h0m0.3 0.1h0m0.2 0.9h0m-0.5 0.1h0m0.8 0.6h0m-0.2 0h0m-0.3 0.5h0m0 0h0m0.5 0.4h0m-0.3 0.1h0m-0.4 0.4h0m0.3 0.3h0m-0.2 0.1h0m-0.3 0h0m0.9 0.2h0m-0.8 0.2h0m0.7 0.2h0m0 0.3h0m-0.4 0h0m0.2 0.1h0m0.4 0h0m-0.1 0h0m-0.9 44.5h0m1.5-64h0m-0.1 3.3h0m0.3 0.6h0m0.2 1.1h0m-0.6 3.7h0m0.3 2.1h0m-0.5 0.4h0m0.7 0.2h0m-0.2 0.4h0m-0.6 0.4h0m0.8 0.7h0m-0.5 0.3h0m0.6 0.9h0m-0.5 0.3h0m0.6 0.5h0m-0.8 0.1h0m0.6 0.7h0m0.1 0.6h0m-0.4 1.2h0m0.5 0.2h0m-0.8 0.2h0m0.6 0.4h0m0.2 0.3h0m-0.7 0.3h0m0.6 0h0m-0.8 0.2h0m0.8 0.5h0m-0.6 43.7h0m0.7-73.3h0m0.6 2.3h0m0 5.8h0m0.1 2.7h0m-0.4 1.9h0m0.4 2.6h0m-0.2 1.1h0m-0.3 0.8h0m0.2 0.2h0m0.2 3.2h0m0 0.3h0m0.3 0.8h0m-0.2 1.3h0m0.2 0.2h0m0.1 0.1h0m-0.8 0.6h0m-0.1 0.3h0m0.2 0.1h0m-0.2 0.6h0m0.1 1h0m0.5 0.5h0m-0.2 0.5h0m-0.4 0.9h0m0.4 0.1h0m0.5 0.7h0m-1 0h0m0.6 0.1h0m0 0.1h0m-0.1 0.1h0m-0.1 0.6h0m0.2 44h0m1.1-72.6h0m-0.2 9.7h0m0.3 3.4h0m-0.4 2.6h0m0 0.3h0m0.2 1.6h0m-0.3 0.1h0m0.3 0.2h0m-0.5 0.4h0m0.3 0.1h0m0.5 1.2h0m-0.1 1.5h0m-0.5 2.5h0m-0.2 0.1h0m0 0.3h0m0.8 0.8h0m-0.1 1.2h0m-0.6 0.1h0m0.5 0.2h0m0.3 0.5h0m-0.1 0.6h0m-0.1 0.6h0m0.1 0.6h0m0 44.5h0m0.5-80.8h0m0 9.4h0m0.2 3h0m-0.2 3.4h0m-0.1 1.3h0m0.2 1.8h0m0.1 0.4h0m-0.2 1.2h0m-0.1 3.7h0m0.7 0.3h0m-0.5 1.5h0m-0.1 1.7h0m-0.2 0.3h0m0.5 0.4h0m-0.5 0.3h0m0 0.9h0m0.8 2.5h0m-0.1 0.3h0m-0.4 1.3h0m0.3 0h0m-0.3 0.2h0m0 0.5h0m0 0.1h0m-0.4 0.1h0m0.5 0.2h0m0.2 0.2h0m-0.2 0.4h0m-0.1 0h0m0 0.2h0m-0.2 0.2h0m0.2 0.2h0m0.1 0.3h0m0.7-11.7h0m0 1.8h0m0 2.2h0m-0.3 0.4h0m0.2 0.5h0m0.1 0.1h0m0 1.2h0m-0.1 2.7h0m0 0.1h0m-0.2 0.5h0m0.4 0.4h0m-0.3 1.4h0m0 0.1h0m0.1 44.4h0m25.8-119.9h0m-0.1 54.3h0m-0.1 4.9h0m0.2 6.4h0m0 1.6h0m-0.3 1.7h0m0.3 0.6h0m-0.2 0.8h0m-0.1 0.3h0m0.2 0.8h0m-0.3 0.9h0m0 0.5h0m0.3 0.1h0m-0.2 0.1h0m0.2 0.1h0m-0.1 1.2h0m0 0.2h0m-0.3 45.1h0m0.7-67.3h0m0 3h0m0.4 6.1h0m-0.1 0.4h0m0.3 2.9h0m-0.6 1h0m0.5 0.4h0m0.1 0h0m-0.2 0.2h0m-0.2 1.4h0m-0.3 0.2h0m0.2 0.1h0m0.3 0.3h0m0.1 0h0m-0.1 0.4h0m0 0.1h0m0 0h0m0.1 1.1h0m-0.5 0.5h0m0.5 0.3h0m-0.4 0h0m0.6 0h0m-0.8 0.4h0m0.2 0.3h0m-0.3 0.2h0m0.1 0.1h0m0.7 1.3h0m-0.7 0.1h0m-0.1 0.3h0m0.4 0.1h0m0.6 0.4h0m-0.6 0.1h0m0.4 46h0m0.7-76h0m0.3 0.6h0m-0.2 3.5h0m-0.2 1.2h0m0.6 2.5h0m-0.4 7h0m0 0.9h0m0.1 0.9h0m-0.1 3.6h0m-0.2 0h0m0.1 1h0m0 1.6h0m-0.2 0.4h0m0.3 0.7h0m-0.4 0h0m0.4 0.3h0m-0.1 0.1h0m0.2 1.3h0m0.3 0.7h0m-0.7 0.5h0m-0.1 0h0m0 0.2h0m0.1 0.3h0m-0.1 0.2h0m0.1 1.1h0m0.2 0.6h0m-0.1 0.1h0m-0.1 0.1h0m0.1 0.1h0m0.2 0h0m0 0.1h0m0.3 0.1h0m-0.8 0.2h0m0.8 0.2h0m-0.6 0.3h0m0.6 0.1h0m0.5-40.3h0m0.4 1.3h0m-0.4 16.5h0m0.2 4h0m-0.1 0.6h0m0 2.6h0m0.3 1.9h0m0.1 2.3h0m-0.1 0.1h0m-0.4 1.2h0m0.4 0.8h0m-0.6 1.8h0m0.3 1.7h0m-0.4 0.2h0m0.9 0.1h0m-0.5 1h0m-0.1 1h0m-0.4 0.1h0m0.7 0.2h0m-0.3 1.1h0m0 1h0m0.3 0.2h0m-0.5 0.1h0m0.3 0.1h0m0.1 0.2h0m-0.5 45.5h0m1-76.5h0m0.4 9.1h0m0.3 3.3h0m-0.7 0.3h0m0.3 0.8h0m0.5 1.5h0m-0.5 0.8h0m0.4 0.5h0m-0.4 0.4h0m-0.1 0h0m-0.2 1.1h0m0.3 2.9h0m-0.3 0.1h0m0.1 0.3h0m0.2 0.9h0m0.3 0.4h0m0 0.4h0m-0.5 1.4h0m0.2 0.2h0m-0.2 1.4h0m0.5 0.4h0m-0.1 0.7h0m-0.3 0.4h0m0.1 0.7h0m0.5 0.4h0m-0.6 0.9h0m0.1 0.9h0m0 0h0m0.2 0.3h0m0 0.4h0m0 0h0m0 0.1h0m0.3 0.2h0m-0.5 45.7h0m0.7-77.2h0m0.7 6.9h0m0.1 3.2h0m-0.1 3.6h0m-0.1 1.1h0m0.1 0.9h0m-0.1 1.2h0m-0.6 0.4h0m0.8 0.1h0m-0.1 2.2h0m-0.6 1.8h0m0.8 0.4h0m-0.7 0.8h0m0.1 1.3h0m0.4 0.8h0m-0.7 0.2h0m0.4 0.8h0m-0.4 0.4h0m0.3 0.1h0m0.6 0.1h0m-0.6 0.1h0m-0.1 0.3h0m-0.2 0.9h0m0.1 0.3h0m0.5 0.7h0m0.1 0.2h0m-0.8 0.2h0m0.2 0.2h0m0.7 0.5h0m-0.7 0.6h0m0 0.4h0m0.2 0.2h0m-0.1 0.1h0m0.6 0h0m-0.2 45.8h0m0.3-77.5h0m0.4 9.3h0m0.1 3.9h0m-0.4 1.9h0m0.7 4.2h0m-0.2 1.5h0m0.1 2.5h0m0 0h0m-0.4 0.4h0m0.2 0.5h0m0.4 0.4h0m-0.1 0.6h0m-0.2 0.8h0m-0.6 0.7h0m0.5 0.4h0m-0.4 0.1h0m0.8 0.5h0m0.1 1.6h0m-0.1 0.3h0m-0.1 1.7h0m-0.7 0.6h0m0.9 45.9h0m0.2-88.3h0m-0.1 6.5h0m0.2 4.9h0m-0.2 15.3h0m0.3 1h0m-0.3 4.8h0m0.3 0.2h0m0.1 0.2h0m-0.3 0.2h0m0 0.9h0m-0.2 1.2h0m0.7 0.2h0m-0.3 0.4h0m0.2 0.1h0m0 0.8h0m-0.6 0.5h0m0.4 0.2h0m0.2 0.6h0m-0.3 1.2h0m0.7 0h0m-0.8 0.1h0m0 0.6h0m0.2 0.2h0m0.5 0.1h0m0 0.2h0m-0.5 0.2h0m-0.2 0.1h0m0.5 0.2h0m-0.2 0h0m-0.3 0h0m0 0.2h0m0.7 0h0m-0.4 0.7h0m-0.3 0.1h0m-0.1 0.6h0m0.5 0.1h0m-0.3 0.1h0m0.2 0h0m1-61.1h0m0 0.3h0m0.4 2.1h0m-0.7 4h0m-0.1 2.9h0m0.5 2.4h0m-0.3 3h0m0 2.2h0m0.1 1.4h0m0.2 0.2h0m-0.1 2.3h0m0.4 3.5h0m-0.1 2.7h0m-0.7 2.6h0m0.7 5.2h0m-0.5 2.3h0m0.3 1.5h0m-0.5 1.8h0m0.4 3.6h0m-0.1 0.5h0m0.2 1.3h0m-0.2 0.6h0m-0.3 0.7h0m0.7 0.2h0m0 1.7h0m-0.3 1.7h0m0.2 0.3h0m-0.4 0.3h0m-0.1 0.8h0m0.6 0.6h0m-0.6 0.1h0m0.8 0.3h0m-0.3 1.7h0m-0.2 0.3h0m-0.3 0h0m0.1 0.5h0m0.2 0.4h0m-0.5 0.2h0m0.9 1.1h0m-0.3 0h0m-0.2 0h0m0 0.3h0m0.2 0.7h0m-0.2 0.6h0m0.2 0.1h0m-0.3 0.3h0m0.4 0.1h0m-0.3 0.1h0m0 0.1h0m0 0.1h0m0.5 0.5h0m-0.1 0.4h0m-0.2 0.1h0m0.1 0.1h0m-0.6 0h0m0.2 45.4h0m1.5-73.1h0m0.2 8.5h0m-0.6 2.2h0m0.2 2.5h0m-0.3 1.1h0m0 1h0m-0.1 0.8h0m0 1.6h0m0.7 0.2h0m-0.6 1.3h0m0.4 0.4h0m-0.5 1.1h0m0.6 0.1h0m0.1 1.6h0m0 0.3h0m-0.1 0.3h0m-0.2 1.5h0m-0.4 0.5h0m0 0.2h0m0 0.1h0m0.3 0.3h0m0.4 0.2h0m-0.7 0h0m0.2 0.5h0m0 0.4h0m0 0.3h0m0.4 0h0m-0.5 0.9h0m0.3 45.6h0m0.8-99.4h0m0 0.5h0m-0.2 0.5h0m0 20.1h0m0.2 9.7h0m-0.2 5.7h0m-0.1 0.8h0m0.2 2h0m0.3 1.6h0m-0.1 1.1h0m0 0h0m-0.1 1.4h0m-0.2 0.7h0m-0.1 1.5h0m0.2 2.4h0m0.1 0.8h0m-0.2 0.8h0m0.3 0.6h0m-0.2 0.3h0m0.2 1.1h0m0 0h0m-0.4 0.2h0m0.5 0.3h0m-0.3 0.6h0m0.1 0.4h0m-0.3 0.7h0m21.9-81.2h0m0 67.6h0m0.3-77.5h0m0.4 5.6h0m-0.5 10.1h0m0.1 3.3h0m0 2.5h0m0.4 3h0m-0.2 5.8h0m-0.4 3h0m-0.1 4.5h0m0.4 5.3h0m-0.1 4.3h0m0.1 4h0m0.3 3.8h0m-0.5 3.8h0m-0.1 5.2h0m0.2 5.8h0m0.3 4.3h0m-0.4 8.7h0m0.5 2h0m-0.4 2.7h0m0.7 48.6h0m0.4-70.8h0m0.5 3.9h0m-0.2 0.1h0m-0.2 2.2h0m0 1.9h0m-0.1 2.2h0m0.4 1.7h0m0.1 0.1h0m-0.3 0.6h0m0 0.5h0m0.2 0.6h0m-0.6 1.6h0m0.4 0.2h0m-0.6 1.1h0m0.3 0.3h0m0.4 1.6h0m-0.4 0.3h0m0.2 0.2h0m-0.5 0.1h0m0.1 0.2h0m0.6 0.1h0m0 0.3h0m-0.5 0.6h0m-0.2 0.1h0m0.1 0.7h0m0.5 0.1h0m-0.4 0.1h0m0.2 0.1h0m0.4 0.4h0m0.1 0.1h0m-0.5 0.5h0m-0.4 0.1h0m0.2 0.6h0m-0.1 0.2h0m0.7 0.2h0m0 0.4h0m-0.2 0.1h0m0.4 0.1h0m0.7-33h0m-0.5 20.3h0m-0.1 0.4h0m0.2 0.2h0m-0.3 1.3h0m0.8 0.7h0m-0.5 0.7h0m0.6 1.4h0m-0.7 2.1h0m0.6 0.2h0m-0.4 0.4h0m0 0.1h0m0.4 0.8h0m0.1 0.2h0m-0.2 0.5h0m-0.3 0.1h0m0.3 0.4h0m-0.2 0.2h0m-0.3 0.9h0m-0.1 0.1h0m0 0h0m0.4 0.2h0m-0.2 0.3h0m0.5 0.7h0m-0.2 0h0m0.3 0h0m-0.9 0.4h0m0.2 0.1h0m0.2 0.1h0m-0.1 47.4h0m1.7-85.2h0m-0.8 13.1h0m-0.1 3.9h0m0.2 4.4h0m0.4 7.8h0m0 0.4h0m0.2 0.6h0m-0.5 0.1h0m-0.3 0.7h0m0.5 0.9h0m0.1 0.6h0m0.1 0.7h0m0 0.2h0m0.1 0.1h0m-0.4 0h0m0 0.1h0m-0.2 1.5h0m0.6 0.1h0m-0.5 0.3h0m0.2 0.2h0m-0.3 0.5h0m0.1 0.2h0m0.4 0.6h0m-0.2 0.1h0m-0.3 0h0m0 0.5h0m-0.3 0.2h0m0.8 0h0m-0.2 46.7h0m0.9-107.6h0m0.1 7.1h0m0 6h0m-0.1 0.1h0m-0.1 0.1h0m0 0.5h0m0.1 2.2h0m0 0.5h0m-0.3 2.9h0m0.1 6h0m0.2 2.5h0m-0.3 3.7h0m0.1 6h0m-0.2 3.1h0m0.4 3h0m0.4 0.4h0m-0.6 0.3h0m0.4 1.9h0m-0.5 0.1h0m0.1 5.1h0m0.4 0.3h0m0.3 0.1h0m-0.5 0.1h0m-0.1 0.2h0m0.3 0.2h0m0.3 0.5h0m-0.7 0.7h0m0.2 0.7h0m0.1 1h0m-0.1 0.1h0m-0.5 0.3h0m0.7 0.8h0m0.2 1h0m-0.3 0.4h0m0.2 0.3h0m-0.6 0h0m0.5 0.3h0m-0.3 0.1h0m0.6 0h0m-0.1 0.2h0m-0.5 0.3h0m0.3 0.1h0m0 0.7h0m-0.1 0.2h0m-0.6 0.2h0m0.2 0.7h0m0.6 0.1h0m-0.8 0.1h0m0.6 0h0m0.3 47h0m1.1-90.2h0m-0.9 8.3h0m0.3 6.7h0m0.1 6.5h0m-0.4 5.2h0m0.2 1.9h0m0.4 1h0m-0.1 0h0m0.4 3.1h0m-0.6 0.8h0m0 1.9h0m0.5 0h0m-0.1 0.7h0m-0.2 0.7h0m0 0.3h0m0.3 0.6h0m-0.9 0.1h0m0.4 0.3h0m0.1 0.1h0m-0.4 1.3h0m0.7 0.2h0m-0.8 0.1h0m0.3 0.5h0m0.1 0h0m0.1 0.5h0m-0.2 0.3h0m-0.2 0h0m0.5 0h0m0 0.6h0m-0.2 0.5h0m0.3 0.2h0m-0.6 0.3h0m0.1 0.2h0m0.4 0h0m0.3 0.3h0m0.3-70.1h0m0 1.1h0m0.5 3.7h0m-0.5 0.6h0m0.5 2.6h0m0.1 13.7h0m-0.4 1h0m0.4 5.9h0m-0.2 4.5h0m0 2h0m-0.2 6.7h0m0.3 1.8h0m-0.3 1.4h0m-0.1 0.9h0m0 0.1h0m0.6 2.2h0m-0.8 1.1h0m0 0.1h0m0.7 0.8h0m0 1h0m-0.4 1.3h0m0.3 3.1h0m0.1 0.2h0m-0.2 0.1h0m0.1 0.9h0m0 0.2h0m0 1.1h0m-0.3 1.5h0m0 0.4h0m-0.4 0.6h0m0.7 0.1h0m-0.6 0h0m0.2 1.1h0m0.6 1h0m0.1 0h0m-0.9 0.7h0m0.7 1.6h0m-0.4 0.3h0m-0.2 0.4h0m0.5 0.7h0m-0.4 0.3h0m0.1 0h0m0.6 1h0m-0.8 1.2h0m0.2 0.5h0m0.3 0.3h0m-0.5 46.7h0m1.2-69.3h0m0.5 6.7h0m0 0.8h0m-0.9 3.3h0m0.9 3.1h0m-0.6 0.2h0m-0.1 2.3h0m-0.2 1.5h0m0.6 0h0m-0.1 0.5h0m0 0.4h0m0.4 0.1h0m-0.8 0.2h0m0.6 0.3h0m-0.1 0.5h0m-0.1 0.2h0m-0.1 0.2h0m0.3 0.2h0m0.2 1.3h0m-0.6 0.1h0m0.7 0h0m-0.2 0.4h0m-0.4 0.3h0m0.1 46.8h0m1.2-69.1h0m0 5.1h0m-0.2 2.4h0m-0.5 1.3h0m0.8 0.6h0m-0.1 2.6h0m-0.4 0.1h0m-0.2 1h0m-0.1 0.6h0m0.8 1.8h0m-0.2 0.9h0m0.2 0.1h0m-0.7 1.4h0m0.1 0.5h0m-0.1 0h0m0.8 2.1h0m-0.5 0.3h0m0.2 0h0m0.2 0.1h0m-0.5 0.3h0m0.6 0.2h0m-0.5 0.1h0m0.2 0.6h0m-0.3 0h0m-0.2 0.1h0m-0.1 0.1h0m0.1 0.3h0m0.7 46.9h0m20.9-60.8h0m0 4.1h0m-0.1 2h0m0.2 4.9h0m-0.1 2.1h0m0.1 1.4h0m-0.2 2.4h0m0.1 0.4h0m-0.1 2.5h0m0.1 0.8h0m0.1 1.5h0m0.2 1.4h0m0 0h0m-0.4 37.3h0m1.4-63.9h0m-0.8 0.7h0m0.7 8.5h0m-0.2 2.5h0m-0.3 0.2h0m0 0.1h0m0 0.5h0m0.3 1h0m0.1 0.3h0m-0.6 0.7h0m0.6 0.4h0m-0.7 1h0m-0.1 0.5h0m0 2.6h0m0.3 0.4h0m-0.2 0.2h0m0.1 0.6h0m0.4 0.5h0m-0.1 1.1h0m0.1 0.6h0m0 0.2h0m0.2 0.4h0m0 0.7h0m-0.3 0.2h0m0.2 0.1h0m-0.4 0h0m-0.2 2.1h0m0.8 38.1h0m0.3-87.7h0m0.4 4.8h0m-0.1 2.2h0m-0.4 3.2h0m0.5 2.7h0m-0.4 3.6h0m0.2 4.4h0m0 1.6h0m-0.2 0.7h0m0 1.4h0m-0.1 2.1h0m0.3 1.6h0m-0.1 2.7h0m0.5 3.3h0m0 0.6h0m-0.5 1h0m0 1h0m-0.1 0.3h0m0.7 0h0m-0.5 1.5h0m-0.3 1.3h0m0.6 2h0m-0.1 1.1h0m0.3 0.9h0m-0.1 0.2h0m0 1.1h0m-0.4 0.7h0m-0.1 0.3h0m0.1 0.7h0m-0.3 0.2h0m0 0.1h0m0.1 0.2h0m-0.1 0.2h0m0.2 0.2h0m-0.2 0.2h0m0.2 0h0m0.1 0.3h0m-0.1 0.3h0m0.6 0.1h0m-0.4 0.1h0m0.2 0.1h0m-0.1 0.3h0m-0.3 0.2h0m0.1 0.1h0m0.3 0.1h0m0.8-37.6h0m0 1.6h0m0.1 5.2h0m0.1 3.7h0m-0.1 0.8h0m0.2 1.9h0m-0.3 0.4h0m0.3 1.9h0m-0.8 2.5h0m0.5 2.3h0m0.2 1h0m-0.6 1.1h0m-0.1 0.5h0m0.1 2h0m0.4 0.2h0m-0.3 1.6h0m0.1 0.6h0m0.6 0h0m-0.7 1h0m0.4 0.1h0m-0.1 1.6h0m0.2 0.3h0m0 0.6h0m-0.4 0.4h0m-0.2 1.6h0m0.9 0.2h0m0 0.1h0m0 0.6h0m-0.1 0.7h0m-0.8 0.1h0m0.1 0.8h0m-0.1 0.3h0m0.1 0.3h0m0.3 1h0m-0.2 0.2h0m0.5 0h0m-0.6 0.1h0m-0.2 0.1h0m0.9 0.2h0m-0.9 0.3h0m0.2 37.2h0m1.2-58.7h0m0.6 1.2h0m-0.1 0.7h0m-0.6 1.3h0m0.6 3.4h0m-0.4 0.1h0m0.4 2.5h0m-0.8 1.3h0m0.4 0.4h0m-0.4 0.3h0m0.7 0.5h0m0.2 0.1h0m-0.8 0.7h0m0.1 0.6h0m0.7 1.7h0m-0.5 1.1h0m-0.3 0.9h0m0.3 0.2h0m0.1 0.1h0m-0.4 0.1h0m0.7 0.3h0m-0.6 0.2h0m0.5 0.6h0m-0.6 0.8h0m0.8 0.5h0m-0.1 0.1h0m-0.5 0.2h0m-0.2 0.5h0m0.4 0.1h0m0.3 0.8h0m-0.2 0.1h0m0.2 0h0m-0.7 0.2h0m0.3 37.3h0m0.9-81.6h0m0 16.2h0m-0.1 1.5h0m0.7 6.6h0m-0.1 4.4h0m-0.8 5.4h0m0.8 1.7h0m-0.4 0.4h0m-0.2 0h0m0.3 0.1h0m0.2 0.9h0m0 0.1h0m-0.5 1.3h0m0.4 1.6h0m-0.2 0.4h0m-0.2 0.1h0m0.1 0.3h0m0 0.1h0m0.1 0.2h0m0.5 0.6h0m-0.6 0h0m0.3 0.4h0m-0.5 0.4h0m0.2 0.1h0m-0.3 0.5h0m0.4 0.3h0m-0.1 0h0m0.5 0.2h0m-0.1 38h0m1.1-71.1h0m-0.5 8.5h0m-0.3 9.7h0m0.5 0.3h0m0 2.8h0m-0.3 0.3h0m0.4 1.1h0m0.2 1h0m-0.3 0.8h0m0.3 0.8h0m-0.7 1.6h0m0.7 1.1h0m-0.1 0.2h0m-0.3 1.3h0m0.3 0.8h0m-0.6 0h0m0.7 0.1h0m-0.7 0.1h0m0.7 0.3h0m0 0.1h0m0.1 0.7h0m-0.6 0.4h0m0.4 0.2h0m-0.7 0.1h0m0 0.1h0m0.3 0h0m-0.2 0.4h0m0.4 0.1h0m-0.4 0.1h0m0.2 0.1h0m0.8-17.3h0m0 5.8h0m0.1 6.7h0m-0.1 0.1h0m-0.1 3.4h0m0.1 0.3h0m-0.1 0.8h0m0.1 0.4h0m-0.1 37.5h0m16.8-46.4h0m0 1.5h0m0 2.9h0m0 41.8h0m0.9-61.8h0m0 3.2h0m0 1.3h0m-0.6 4.9h0m0.4 0.1h0m0.1 2.5h0m-0.2 0h0m0.1 0.1h0m-0.6 2.9h0m0.7 1.4h0m-0.6 0.1h0m0 0h0m0.2 0.7h0m0.1 0.5h0m-0.4 0.1h0m0.5 0.4h0m0.5 0.9h0m-0.8 0.3h0m0.3 0.7h0m-0.4 0.4h0m-0.1 0.2h0m0.5 0.3h0m0.2 0.5h0m0.3 0.2h0m-0.1 0.3h0m0.1-20h0m0.1 1.6h0m0.4 1.4h0m-0.1 3.7h0m-0.3 0.5h0m0.6 1.6h0m-0.2 0.5h0m0.2 1.7h0m-0.4 1.4h0m0 1.1h0m0.5 0.7h0m-0.6 0h0m0.2 1.2h0m0.1 0.4h0m0 0.7h0m-0.1 0h0m-0.2 1.1h0m0.2 0.7h0m-0.3 0.2h0m0.1 0h0m0 0.6h0m0 0.1h0m0.5 0.4h0m0.1 0.1h0m-0.7 0.3h0m0.1 40.2h0m1-77.5h0m0.2 2.8h0m0 4.3h0m0 5.2h0m-0.2 2.2h0m-0.2 0.8h0m0.9 2.9h0m-0.4 0h0m0.5 1.8h0m-0.3 2.9h0m-0.1 1.2h0m-0.3 1.8h0m0.5 0.1h0m-0.5 0.7h0m0.1 0.3h0m0.1 0.6h0m0 0.2h0m-0.1 0.3h0m0 0.3h0m0.5 0.3h0m-0.7 0.4h0m0 0h0m0.4 0h0m0.4 2.2h0m-0.6 0.3h0m0.4 0.9h0m-0.7 0.7h0m0.8 0.5h0m-0.9 0.4h0m0.5 1h0m-0.1 0.2h0m0 0.1h0m0.3 0.2h0m-0.4 0.1h0m0.1 0.8h0m0.2 0h0m-0.2 0.6h0m0.5 0.1h0m0 0h0m-0.6 0.2h0m0.2 39.5h0m0.5-85.2h0m0 8.2h0m0.1 1h0m-0.1 8.9h0m0.4 1.5h0m-0.4 2.4h0m0.5 4h0m-0.4 4.8h0m0 2.4h0m0.7 0.4h0m0 0.6h0m0 0.4h0m-0.4 0.9h0m0.2 1.3h0m-0.5 0.5h0m0 0.9h0m0.3 0.1h0m-0.1 0.4h0m0.3 0.6h0m-0.4 0.8h0m0.8 0.8h0m-0.9 0h0m0.3 0.2h0m0.4 0h0m0.2 0.1h0m-0.3 0.8h0m0 0.6h0m0.1 0h0m-0.7 0h0m0.9 0.2h0m-0.5 0.3h0m-0.1 0.3h0m0 0.7h0m-0.3 0.2h0m0.2 0h0m0.4 0.2h0m-0.1 0.2h0m-0.3 0.2h0m0.6 0h0m-0.8 0.5h0m0.5 0.3h0m-0.4 0h0m0.6 40.2h0m1-84.6h0m0.2 7.5h0m0 8.6h0m-0.1 2.2h0m0 0.8h0m-0.1 2.1h0m-0.8 1.8h0m0.8 1h0m-0.4 0.2h0m0.4 4.1h0m0.2 1.8h0m-0.5 1.8h0m0.4 0.8h0m-0.6 0.4h0m0.5 0.1h0m0.1 0.7h0m-0.2 0.9h0m0.2 1.1h0m-0.4 0.8h0m0.3 0.5h0m-0.6 0.2h0m0.3 0.5h0m-0.4 0.1h0m0.1 0.2h0m0.7 0.8h0m-0.9 0.5h0m0.4 0.4h0m0.3 0.2h0m-0.6 0.4h0m0.4 1h0m-0.4 0h0m0.7 0.7h0m-0.4 0.5h0m0.3 0h0m-0.4 0.3h0m0.2 0h0m0 0.4h0m0.4 0.2h0m-0.7 0.4h0m1.5-41.2h0m0.1 4.4h0m0 7.8h0m0 0.1h0m-0.2 0.8h0m-0.6 2.9h0m0 7h0m0.9 2.8h0m-0.7 0.4h0m-0.2 1h0m0.6 2.7h0m-0.4 0.6h0m0.3 0.1h0m-0.4 0.6h0m0.7 0.7h0m-0.4 0.9h0m0.5 0h0m-0.5 0.7h0m0.1 0.1h0m0.4 0.1h0m-0.4 0.3h0m-0.2 1.4h0m0.4 0.5h0m-0.3 0.2h0m0.6 0.8h0m-0.2 0.5h0m-0.6 0.3h0m0.6 0.7h0m-0.1 0.4h0m0.2 0.5h0m0 0.4h0m-0.8 0.2h0m0.2 0.2h0m0.3 0.1h0m-0.6 0.5h0m0.8 0h0m-0.2 0.1h0m-0.3 0.4h0m0.1 0h0m-0.3 40.6h0m1-80.6h0m0 6.1h0m-0.1 4.8h0m0.7 16.5h0m0 0.6h0m-0.3 1.2h0m-0.3 1.3h0m0.4 1.4h0m0 0.2h0m0.3 0.5h0m0 0.8h0m-0.6 1.2h0m0.2 0h0m-0.1 0.1h0m-0.1 0.6h0m0.4 0.8h0m0 0.3h0m0 2h0m0 0.4h0m-0.4 0h0m0.4 0h0m-0.5 0.3h0m0.1 0.1h0m0 0.2h0m-0.1 0.5h0m0.3 40h0m17.5-77.5h0m-0.4 17.9h0m0.1 1.9h0m-0.1 0h0m0.1 3.3h0m-0.2 0.5h0m-0.1 3.7h0m0.4 0.3h0m0.1 2.1h0m-0.1 3h0m0.1 0.4h0m0.1 0.1h0m0 1.1h0m-0.6 0.1h0m0.2 1.4h0m0.2 0.4h0m-0.1 0.4h0m0.1 0.3h0m-0.1 0.2h0m0.2 0.9h0m-0.3 0.4h0m0.2 0h0m0.1 0.5h0m-0.6 38.9h0m1.6-66.2h0m0.1 0.9h0m-0.5 0.1h0m0.5 2.1h0m-0.5 8.3h0m0 0.2h0m0.4 0.2h0m-0.4 3.1h0m0.5 1.9h0m-0.4 0.7h0m-0.3 0.7h0m0.1 2h0m0.3 0.8h0m-0.5 1.7h0m0.8 0.6h0m-0.4 1.2h0m-0.2 0.8h0m0.4 0h0m0 0.3h0m-0.4 0h0m0.2 0.5h0m-0.2 0.2h0m0.7 0h0m-0.9 0.1h0m0.8 0.4h0m-0.6 0.2h0m0.3 0.2h0m0.1 0.1h0m-0.3 0.2h0m0.2 0.2h0m-0.1 38.4h0m0.9-104h0m0 4.4h0m-0.2 5.2h0m0.2 2.9h0m-0.2 14.8h0m0 6h0m-0.1 7.9h0m0.4 0.3h0m0 1.8h0m-0.3 1.2h0m-0.1 0.8h0m0.2 3.1h0m0 0.8h0m-0.1 2h0m0.2 0.9h0m0.6 0.5h0m-0.9 1.9h0m0.5 0.4h0m-0.4 0.4h0m0.4 0.6h0m0.1 0.5h0m-0.5 0.7h0m0.4 1h0m-0.2 0h0m-0.1 2.5h0m-0.2 0.3h0m0 1.4h0m-0.1 0.3h0m0.1 0.1h0m0.4 0.2h0m-0.3 0h0m-0.1 0.2h0m0.8 0.1h0m-0.3 0.1h0m0 0.1h0m0 0h0m-0.5 0h0m0.7 0.5h0m-0.4 0.1h0m0 0.1h0m0.3 0.2h0m-0.2 0.2h0m0.4 0.1h0m-0.5 0.1h0m0.4 0.4h0m-0.3 0.5h0m0 0h0m-0.2 0h0m0.4 0.1h0m0.1 38.7h0m1.1-62.9h0m0 4.8h0m0 2.3h0m-0.7 2.2h0m0.7 0.8h0m-0.3 3.8h0m0.1 0.7h0m0.1 0.2h0m0 0.7h0m-0.7 0.7h0m0 0.1h0m0.6 0.2h0m0.1 0.6h0m-0.6 0.6h0m0.7 0.4h0m-0.9 0.5h0m0.7 1.4h0m0 0h0m0 0.4h0m-0.7 0.4h0m0.7 0h0m-0.5 0.1h0m0.4 0.1h0m0.4 1h0m-0.6 0h0m-0.2 0.3h0m0.1 0.3h0m0.4 0.3h0m0.3 0.1h0m-0.2 0h0m-0.5 0.1h0m0.6 0.6h0m1.1-27.7h0m-0.2 5.7h0m0.1 3.9h0m-0.7 0.2h0m0.7 0.9h0m-0.8 0.9h0m0.6 0.9h0m0 0.2h0m0.3 1.9h0m-0.3 3.1h0m-0.1 0.1h0m-0.1 0.2h0m-0.5 0.3h0m0.7 0.7h0m0 0.3h0m0.2 1.9h0m-0.1 0.4h0m-0.3 0.7h0m0.1 0.6h0m-0.5 0h0m0.2 0h0m0.5 0.9h0m-0.5 0.6h0m-0.3 0.1h0m0.4 0.7h0m0.6 0.2h0m-0.9 0.1h0m0.3 0.1h0m0.6 0.1h0m-0.2 0.1h0m-0.4 0.1h0m0.3 0.9h0m-0.1 0h0m-0.6 0.3h0m1 1h0m-0.9 38.5h0m1-56.5h0m-0.1 6.8h0m0 1.1h0m0 1.3h0m0.1 8.1h0m13.7-14.7h0m-0.2 8.1h0m-0.2 0.6h0m0.1 1.5h0m0.4 2.4h0m0.1 1.1h0m-0.1 1h0m-0.2 0.1h0m0 2.4h0m0.1 1.5h0m-0.3 0.7h0m0 0h0m-0.1 34.8h0m0.8-88.4h0m0.1 0.3h0m-0.3 8.3h0m0 5.1h0m0.1 5h0m0.2 3.3h0m0 0h0m0.3 8.9h0m-0.3 0.9h0m0.1 1h0m0.6 4.3h0m-0.6 0.7h0m-0.1 0.2h0m0.6 0.3h0m-0.6 2.6h0m-0.1 0.8h0m-0.1 0.6h0m0.2 0.4h0m0.5 0.3h0m-0.4 1h0m-0.4 0h0m1 2.7h0m-0.9 0.3h0m0.3 1h0m0.1 0.2h0m-0.3 0.4h0m0.1 0.7h0m-0.1 0h0m-0.2 0.2h0m0.3 0.3h0m0.1 0.2h0m0.4 0h0m0 0.1h0m-0.1 0.4h0m0.2 0.1h0m-0.7 0.4h0m0.3 0.4h0m0.3 0.1h0m-0.4 0h0m0.3 0.8h0m-0.4 0h0m0.1 0.5h0m0.1 0.2h0m-0.3 0.2h0m0.4 0.5h0m0.3 0.1h0m-0.2 34.7h0m0.9-62h0m0.2 6.1h0m-0.5 0h0m0 3.3h0m0.1 2.5h0m-0.1 2.7h0m0.2 0.4h0m-0.2 0.9h0m0.4 1.1h0m-0.4 1.5h0m0.1 0h0m0.4 0.2h0m-0.5 0.2h0m0 0.4h0m0.1 0.3h0m0 1.1h0m0.2 0.3h0m0.3 0.1h0m-0.2 0.1h0m-0.6 0.3h0m0.7 1h0m-0.3 0.5h0m-0.2 0.5h0m0.4 0.1h0m0.2 0.2h0m-0.4 0.1h0m0.3 1.4h0m-0.5 0.7h0m0.3 0.4h0m0.3 0.2h0m-0.3 0h0m0.4 35.4h0m0.6-57.6h0m-0.3 0.5h0m-0.2 2.7h0m0.7 2.4h0m-0.4 1.4h0m0 0.2h0m0.5 1.5h0m-0.7 0h0m0.3 1.6h0m0.3 0.9h0m0.1 0.5h0m-0.5 0.1h0m0.5 0.2h0m-0.3 1.3h0m-0.5 0h0m0.9 0.1h0m0 0.5h0m-0.9 2.5h0m0.5 0.8h0m-0.6 0.2h0m0.1 0.1h0m0 0h0m0 0.1h0m0.8 0.4h0m-0.5 0.2h0m0.3 0.2h0m-0.6 0.6h0m0.7 0.4h0m-0.2 0h0m-0.3 0.1h0m0.3 0.5h0m-0.2 0.3h0m0.3 0.3h0m-0.3 0h0m0.3 0.3h0m0.1 0.2h0m-0.6 0.3h0m0.7 0.4h0m-0.5 0.2h0m0.3 0.2h0m-0.1 0.6h0m0.1 0.1h0m0.6-103h0m0.2 47.4h0m-0.3 4.8h0m-0.1 3.2h0m0.1 5.6h0m0.1 5h0m0.1 5.1h0m0 2.3h0m0.4 3.3h0m-0.7 2.1h0m0.3 1.8h0m0.2 4.3h0m-0.6 0.5h0m0.3 3.1h0m-0.3 5.5h0m0 2.6h0m0.2 2.2h0m-0.1 0.2h0m0 1h0m0.1 0h0m0 0.6h0m0.1 0.9h0m-0.1 0.8h0m0.1 35.1h0m12.7-43.2h0m0 3.7h0m-0.3 2.8h0m0.1 2.7h0m0.1 0.8h0m-0.1 5.1h0m0 0.1h0m0.1 0.3h0m0 0.4h0m0 0h0m0 1.5h0m0 1h0m-0.1 2.4h0m-0.1 22.8h0m0.6-86.6h0m-0.1 1.4h0m0 1.8h0m-0.1 5.8h0m-0.1 0.1h0m0 11.4h0m0.1 1.8h0m0.1 1.9h0m0.1 17.1h0m0 0.6h0m-0.1 1.9h0m-0.1 2.8h0m0.1 1h0m0.5 0.1h0m0.3 1.1h0m-0.3 3.6h0m-0.7 2.2h0m0.1 0.1h0m0.1 0.6h0m0.3 0.1h0m0.3 1.3h0m-0.5 0.8h0m0.1 0.1h0m-0.3 0.1h0m0.1 0.2h0m0.7 0.1h0m-0.4 0.6h0m-0.1 0.7h0m-0.4 0.9h0m0.9 0.2h0m-0.8 0.4h0m0.1 0h0m0 0.4h0m0.1 0.1h0m-0.1 0.8h0m0.7 0.8h0m-0.4 0h0m-0.2 0.5h0m0.5 0.1h0m0.1 0.1h0m-0.7 0.4h0m0.3 0h0m0.2 0.1h0m0.5-35.2h0m0.1 12.6h0m-0.1 5h0m-0.2 0.1h0m0.5 2.6h0m-0.5 1.1h0m0.3 2.1h0m-0.3 0.1h0m0.7 0.8h0m0.1 1.7h0m-0.1 0.3h0m-0.5 1.2h0m0 1h0m0.1 0.4h0m-0.1 1.7h0m-0.2 2.1h0m0.4 0.5h0m0.4 0.5h0m-0.8 0h0m0.5 0.8h0m0.4 0.1h0m-0.9 22.2h0m1.3-69.9h0m0.6 7.8h0m-0.5 7.3h0m0.1 7.1h0m0 1.2h0m0 2.7h0m-0.2 0.5h0m-0.2 4.2h0m0.3 2.9h0m0.1 1.9h0m-0.1 0.8h0m-0.2 1.2h0m0.1 0.4h0m0.4 2.4h0m0.1 1h0m-0.1 0.2h0m0.1 1h0m-0.6 0.1h0m0.5 0.1h0m0 0.3h0m0.1 0.3h0m-0.4 0.2h0m-0.1 0.5h0m0.2 0.4h0m-0.4 0.2h0m0.8 0.4h0m-0.8 0.1h0m0.2 0.6h0m-0.2 0.3h0m0 0.2h0m0.8 0.2h0m-0.4 0.4h0m0.5 0.2h0m0 0.2h0m-0.6 0.3h0m0.3 0h0m-0.1 0h0m-0.3 0.3h0m0.7 0h0m-0.3 0.1h0m-0.7 0.1h0m0.2 0.1h0m0.1 22h0m1.6-95.4h0m0 2h0m-0.2 5.8h0m0.1 2.9h0m0.2 2.6h0m-0.5 2h0m-0.1 0h0m-0.1 0.4h0m0.1 2.1h0m0.3 17.3h0m0 4.5h0m-0.1 7h0m-0.4 0.2h0m0.1 0.6h0m0.1 2.8h0m0.1 2.7h0m-0.1 2.3h0m-0.3 0.1h0m0.1 0.6h0m0.2 0.3h0m0.4 0.4h0m0.1 0h0m-0.8 3.1h0m0.4 0.2h0m-0.4 1.8h0m0.8 0.4h0m-0.6 0.4h0m0.3 0.8h0m0.4 1.1h0m-0.9 1.6h0m0.5 0.1h0m0.4 1.9h0m-0.4 0.1h0m0.1 0.2h0m0.1 0.4h0m-0.6 0h0m0.6 0.8h0m-0.8 0h0m0.8 0.3h0m0 0.3h0m0.1 0h0m-0.3 0.1h0m0.4 0.1h0m-0.4 0.8h0m0.4 0.8h0m-0.6 0.2h0m0.4 0.6h0m0.1 0h0m-0.1 0.1h0m-0.2 0h0m-0.3 0.2h0m0.3 0.4h0m0 22.2h0m0.6-75.6h0m0.1 3.9h0m-0.3 5.9h0m0.2 14.2h0m0.2 4.3h0m-0.3 0.6h0m0 6.6h0m0.3 2.4h0m0.1 1.6h0m-0.1 0.7h0m0.1 0.4h0m-0.4 1.6h0m0.1 4.9h0m-0.1 0.1h0m0 0.9h0m0.3 0.6h0m-0.3 0.3h0m0.3 0.5h0m0 0.5h0m-0.1 0.4h0m-0.1 0.3h0m0.2 0.3h0m0.2 0.4h0m-0.2 0.4h0m-0.3 0.2h0m0 0.5h0m-0.1 0.1h0m0.3 0.2h0m-0.2 0.2h0m0.4 0.4h0" stroke="#7e7e7e" stroke-width="1.9" stroke-linecap="round" fill="none"/>
<path d="M75 216.6h0m0 3.8h0m0.5 5.9h0m-0.6 0.8h0m0.2 2.6h0m-0.2 0.7h0m0.3 5.5h0m-0.1 0.7h0m-0.1 0.3h0m0.4 0.3h0m-0.6 0.7h0m0.3 1.1h0m0.3 0.5h0m-0.7 1.6h0m0.5 0.4h0m0.2 0.1h0m-0.6 0.3h0m0.2 1.2h0m0.5 0.1h0m-0.4 0.1h0m0.3 0.1h0m-0.5 0.6h0m0 0h0m0.5 0.2h0m-0.7 0.1h0m0.7 0.6h0m-0.4 0h0m0.5 0.3h0m-0.7 0h0m0.2 0h0m0.1 0.2h0m-0.4 1h0m0.2 0.1h0m-0.3 38.7h0m1.3-73.6h0m-0.1 7.6h0m0.6 0.1h0m0.1 1.2h0m-0.7 0.3h0m-0.1 1.1h0m0.4 3.9h0m-0.6 0.4h0m0.4 1h0m-0.3 0.2h0m0.3 1.3h0m-0.2 0.5h0m0 2h0m0.1 0.1h0m0 0.5h0m0.4 1.6h0m0.3 0.6h0m-0.3 0.9h0m0 3.6h0m0 0.1h0m-0.5 1.2h0m0.6 0.1h0m0.1 0h0m0 0.2h0m-0.4 0.5h0m0.3 0.2h0m0.1 0.4h0m-0.6 1.4h0m-0.1 0h0m0.4 0.5h0m-0.4 0.3h0m0.2 1.1h0m0.4 0.4h0m0 0.8h0m0.1 0.2h0m-0.1 0.2h0m0.2 0.4h0m-0.6 38.6h0m1.2-70.4h0m-0.1 12.9h0m0.1 0.3h0m0.1 0.4h0m-0.3 2.1h0m-0.2 0.2h0m0.3 3.1h0m0.1 2.2h0m-0.3 1.2h0m0.6 0.2h0m-0.4 0.1h0m0.4 0.3h0m-0.2 0.4h0m-0.3 1.8h0m-0.1 0.3h0m-0.3 0h0m0.3 0.2h0m0.7 0.2h0m-0.2 0.9h0m-0.5 0.5h0m0.1 0.2h0m-0.2 0.4h0m0 0.2h0m0.4 0.5h0m0.2 0.1h0m-0.5 0.2h0m0 0.8h0m0.6 0.3h0m-0.4 0.5h0m0.5 0.1h0m-0.7 0.1h0m-0.3 0.3h0m0.7 0.4h0m-0.6 0.4h0m0 0h0m0.6 38.5h0m1.2-73.6h0m-0.6 5.2h0m-0.2 2.8h0m0.3 7.7h0m-0.2 1h0m0.8 0.3h0m-0.8 3.2h0m0.7 0.3h0m-0.4 1.5h0m-0.3 1.2h0m0.4 0.8h0m-0.2 0.7h0m0.3 1.7h0m-0.4 0.6h0m-0.2 0.5h0m0.9 0h0m-0.2 2.3h0m-0.8 1.2h0m0.2 0.6h0m0.7 0.1h0m-0.3 0.1h0m0 0.3h0m-0.4 1.6h0m0.5 0.1h0m-0.3 0.3h0m-0.2 0.3h0m0.9-39h0m0 13.6h0m0.4 5.4h0m-0.5 0.7h0m0.3 1.4h0m0.2 0.7h0m-0.4 8h0m-0.1 0.1h0m0.2 0.1h0m0 1.5h0m0.3 0.2h0m0.1 1.3h0m-0.1 0.2h0m-0.3 3.2h0m0.8 1.2h0m-0.5 0.4h0m-0.4 0h0m0 0.2h0m0.2 0.2h0m0.5 0.2h0m-0.7 0h0m0.2 0.9h0m0.7 0.1h0m-1 0.2h0m0.6 0h0m-0.6 38.7h0m1.4-75.2h0m0.3 3.7h0m0 11.9h0m-0.1 0.7h0m0 1.2h0m-0.3 2.7h0m0 0.5h0m0.3 0.3h0m-0.3 3.2h0m0.2 1.3h0m-0.1 0.5h0m0 1.9h0m0.3 0h0m-0.7 0.1h0m0.6 0.3h0m0.2 0.4h0m-0.5 1.3h0m0.5 1.4h0m0.2 0.4h0m-0.1 0.4h0m-0.8 0.3h0m0.8 0h0m0 0.5h0m-0.5 0.1h0m0.5 0.3h0m-0.1 1.2h0m0.1 0.1h0m-0.6 0.3h0m0.6 0.2h0m-0.3 0.3h0m0.3 0.1h0m-0.8 0.1h0m0.4 0.1h0m-0.2 0.2h0m0.4 0.2h0m-0.4 0.2h0m0 38.4h0m1-73.7h0m-0.2 11.6h0m0.1 4.4h0m0.4 1.9h0m-0.3 0.3h0m0.1 1.5h0m0.3 0.5h0m0 0.5h0m0.3 1.1h0m-0.5 3.3h0m0.4 1.7h0m-0.7 2.5h0m-0.1 0.7h0m0.6 0.6h0m-0.3 0.2h0m-0.3 0.3h0m0 0.2h0m0.7 0h0m-0.1 0h0m0.2 0.1h0m0 0.3h0m-0.8 0.4h0m0.8 0.2h0m0 0h0m-0.7 0.1h0m0.8 0.1h0m-0.9 0.3h0m0.8 0.6h0m-0.8 0.9h0m0.1 0.3h0m0.8 0h0m-0.4 0.3h0m0 38.9h0m1.2-60.1h0m-0.5 2.5h0m0.7 4.5h0m-0.7 0.3h0m0 3.5h0m-0.2 0.5h0m0.3 1.3h0m0.3 0.4h0m0.2 0.4h0m-0.8 0.5h0m0.9 0.3h0m-0.5 0.6h0m-0.2 0.5h0m-0.1 0.3h0m-0.1 0.5h0m0.5 0.8h0m0.3 0.7h0m0 0.5h0m0 0.7h0m-0.2 0.3h0m-0.1 0.1h0m0.2 1h0m-0.5 0.2h0m0.2 0.3h0m-0.3 0.6h0m0.6 0.4h0m0.1 38.4h0m0.9-65.2h0m-0.4 10.8h0m0.5 9.7h0m-0.3 0.6h0m-0.4 0.3h0m0 1.1h0m0.6 0.1h0m-0.5 0.3h0m0.6 0.2h0m-0.6 0.4h0m0.5 0h0m0 0h0m0 0.1h0m-0.8 0.6h0m0.4 0h0m0.4 0h0m0.2 0h0m-0.8 0.2h0m0 0.1h0m0.6 0.2h0m-0.6 0.1h0m0.3 0.3h0m-0.3 0.1h0m0 0.4h0m0.3 0.4h0m-0.2 0.1h0m0.5 0.1h0m-0.2 0h0m-0.1 0h0m0.2 0.3h0m0.2 0.3h0m0.4-46h0m-0.2 4.5h0m0.9 4.4h0m-0.8 8.7h0m0.6 3.7h0m0.1 2.4h0m-0.5 2.2h0m0.4 0.4h0m-0.5 9.6h0m0.4 0.2h0m-0.2 0.9h0m-0.5 1.5h0m0 2.1h0m0.4 0h0m0.1 0.6h0m-0.1 0.2h0m-0.2 0.8h0m0.8 0.3h0m-0.7 0.1h0m0.6 0.4h0m-0.2 0h0m-0.5 1.5h0m0.6 0.5h0m-0.4 0.5h0m0.4 0.2h0m-0.7 0.1h0m-0.1 0.1h0m0 0.2h0m0.2 38.3h0m0.8-80h0m0.8 20.4h0m-0.5 2.3h0m-0.1 0.2h0m0.2 1h0m-0.1 0.7h0m0.1 1.4h0m0.2 0.9h0m0 0.8h0m-0.5 1.3h0m-0.1 0.3h0m0.1 0.4h0m0.3 0.8h0m0.4 1.2h0m-0.7 0.3h0m0.7 0.1h0m0 0.3h0m0.2 0.5h0m-0.1 0.6h0m-0.2 0.7h0m-0.6 1.7h0m0.8 0.5h0m-0.7 0h0m-0.1 1.2h0m0.6 0.3h0m-0.6 1.4h0m0.3 0.7h0m0.1 0.4h0m0.4 0.3h0m-0.2 0.1h0m0.1 0.1h0m-0.8 0.6h0m0.5 39.1h0m1.5-64.2h0m-0.8 0h0m0.5 0.3h0m-0.6 2.7h0m0.1 2.7h0m0.6 3.7h0m-0.6 0.9h0m0.4 0.5h0m0 4.1h0m0 0.1h0m-0.4 0.8h0m0.3 0.1h0m-0.3 0.2h0m0.4 0.4h0m-0.5 1.3h0m0 0.9h0m0.4 1.1h0m0.4 0.2h0m-0.3 2.2h0m-0.1 0h0m-0.1 0.5h0m-0.4 0.2h0m0.4 0.2h0m0.2 0.4h0m0.1 0.1h0m-0.2 0.2h0m-0.1 0.2h0m0.3 0.3h0m-0.1 0.7h0m0.4 0.1h0m-0.3 0.1h0m0.1 38.3h0m0.4-69.5h0m0.1 12.5h0m-0.2 5.9h0m-0.1 0.7h0m0.1 1.8h0m0.1 2.1h0m0.5 0.8h0m-0.6 0.8h0m0.4 1.1h0m-0.1 0.7h0m0 0.2h0m0.3 0.4h0m-0.2 0.2h0m-0.3 0.2h0m0.2 0.6h0m-0.1 0.9h0m0.3 0.5h0m-0.5 1.2h0m0.7 0.7h0m29-29.8h0m0.1 21.4h0m-0.1 2.1h0m0 3.1h0m0 41.6h0m0.5-63.4h0m0.5 5.2h0m-0.4 0.1h0m0.1 0.4h0m0.4 3.3h0m-0.4 0.6h0m-0.3 1.9h0m0.4 0h0m0.4 0.2h0m-0.2 0.4h0m-0.6 0.5h0m0.8 2.1h0m-0.8 1.4h0m0.2 1.5h0m0 0.6h0m0.1 0.2h0m0.2 0.3h0m-0.3 0.2h0m0.2 0.4h0m-0.3 0.3h0m0.5 0.8h0m-0.5 0.2h0m0.2 0.5h0m0.3 0.2h0m0.1 0.1h0m-0.2 0.2h0m1-29.7h0m0 5.1h0m0 5.8h0m0.1 8.8h0m0 0.9h0m-0.4 0.3h0m-0.3 1.2h0m0.5 0.6h0m-0.4 1.2h0m0 0.8h0m-0.1 2.7h0m0.4 0.2h0m-0.1 0.1h0m0.2 0.5h0m0 0.1h0m-0.4 0.7h0m0.7 0.2h0m0 0.4h0m-0.2 0h0m-0.2 0.2h0m-0.4 42.2h0m1-66.3h0m0.2 2.1h0m-0.2 6.9h0m0.6 0.8h0m-0.6 0.3h0m0.8 1.6h0m-0.2 0.1h0m-0.6 0.2h0m0.8 1.7h0m-0.5 0.1h0m0.2 0.8h0m-0.5 1.4h0m0.2 0.4h0m0.4 1.3h0m0.1 2.2h0m-0.5 0.3h0m0.1 0.2h0m0.3 0.2h0m-0.3 0.2h0m0.2 0.6h0m0 0.5h0m-0.1 0h0m-0.5 0.3h0m0.9 0.8h0m-0.8 0.5h0m0.7 0.5h0m0 0.3h0m0.1 0.1h0m-0.5 41.5h0m0.7-62.4h0m0.3 9.3h0m-0.1 0.2h0m0 0.3h0m0.4 0.9h0m-0.5 0.6h0m0.5 0.1h0m-0.3 0.5h0m-0.4 1.1h0m0.7 0.4h0m0.2 0.9h0m-0.5 0.8h0m-0.4 0.1h0m0.3 0.2h0m0.2 1.3h0m0.4 0.3h0m-0.6 0.3h0m0.1 0.5h0m0.1 0.1h0m0.1 0.8h0m0.1 0.7h0m-0.2 0.3h0m-0.4 0.1h0m0.7 0.4h0m0.2 0.1h0m-0.1 0.1h0m-0.5 0h0m-0.1 0.1h0m-0.2 0.3h0m0.8 0.2h0m0 0.1h0m-0.2 41.4h0m0.8-69.4h0m-0.2 5.7h0m0.3 1.7h0m0.1 0.8h0m-0.4 3.2h0m0.2 2.2h0m-0.3 1.6h0m0.6 0.4h0m-0.1 0.2h0m-0.6 2.9h0m0.4 0.5h0m-0.1 1.1h0m-0.3 0.5h0m0.3 0.2h0m0.1 0h0m0.1 0.2h0m0.1 0.1h0m0.3 0.3h0m-0.4 0.4h0m-0.5 0.5h0m-0.1 0.2h0m0.8 0.3h0m-0.2 1h0m0.1 2.1h0m0.2 0.1h0m-0.8 0.2h0m0.2 0h0m0 0.4h0m-0.1 0.1h0m0.8 0.2h0m-1 0.5h0m0.5 0.3h0m0.2 0h0m0.5-21h0m0.2 2.1h0m-0.1 2.8h0m0.1 1.1h0m-0.1 1.6h0m0.6 0.2h0m-0.8 2.3h0m0.8 2h0m-0.5 0.2h0m0 0.4h0m0.2 1.2h0m-0.1 0.2h0m0.1 0.2h0m0.2 0.2h0m-0.7 0.7h0m0.8 0.1h0m-0.4 0.8h0m0.1 0.2h0m-0.5 0.2h0m0 0.6h0m0.1 0.7h0m0.6 0.2h0m-0.6 0.2h0m0.8 0.1h0m-0.9 0.1h0m0.4 0.1h0m0.1 0.5h0m0.4 0.2h0m-0.9 0.2h0m0.5 0.2h0m-0.6 0h0m0.3 0.4h0m0.4 0.1h0m-0.6 0.5h0m-0.1 0.1h0m0 41.4h0m1.3-93.4h0m0.6 15.5h0m-0.7 7.5h0m0.3 1.3h0m0 1h0m0 3.8h0m0 0.4h0m0.1 5.1h0m0.1 0.3h0m-0.6 1.6h0m0.5 1.3h0m-0.1 0.6h0m-0.2 0.1h0m0.2 0h0m0.5 1.6h0m-0.4 1.9h0m-0.4 0.2h0m0.3 0.9h0m0.2 1.6h0m-0.3 0.1h0m-0.2 0.9h0m0.6 0.3h0m-0.5 0.8h0m-0.3 0.3h0m0.1 0.2h0m0.3 0.1h0m0.2 0.6h0m-0.3 0h0m0.6 0.2h0m-0.7 0.9h0m0.7 1.3h0m-0.2 0.8h0m-0.4 0.7h0m0.1 0h0m-0.2 0.2h0m0.6 0.1h0m-0.5 41.6h0m0.8-94.5h0m0.1 21.2h0m0.4 9.1h0m-0.1 0.4h0m0.3 0.5h0m-0.8 1.2h0m0.3 3.4h0m-0.1 4h0m0.8 0.2h0m-0.4 0.1h0m0.2 3.6h0m-0.7 0.5h0m0.2 3.7h0m-0.3 0h0m0.2 0.1h0m0.4 0.1h0m0 1.6h0m0.3 0.4h0m-0.5 0.1h0m0 0.2h0m0.3 0.5h0m-0.6 0h0m0.2 0.6h0m0.3 1.4h0m0.1 0h0m-0.3 0.1h0m-0.3 0.1h0m0.5 41h0m1-92.5h0m-0.2 3.1h0m0.1 7.7h0m0 10.9h0m0.5 6.9h0m-0.5 1.4h0m0 4.5h0m0 3.5h0m0.2 4h0m-0.5 1.5h0m0.2 0.7h0m0.3 0.4h0m-0.5 0.5h0m0.1 0.4h0m0.3 0.1h0m-0.1 0.4h0m-0.2 0.1h0m0.2 0.6h0m0 0h0m0 0.3h0m-0.4 0.4h0m0.1 0.9h0m0.3 1.2h0m-0.2 0.1h0m0.3 0.1h0m0.2 0.4h0m-0.8 0.3h0m0.2 0.1h0m0.4 0.5h0m-0.5 0.3h0m0.8 41.3h0m0.8-59.3h0m-0.5 0.3h0m0.1 2.5h0m0.3 0.2h0m-0.5 1.9h0m0.2 0.5h0m0.4 2.2h0m0.2 0.3h0m-0.2 1h0m-0.3 1.2h0m0.3 0.3h0m0 1.2h0m-0.2 0.1h0m-0.4 0.2h0m0.1 0h0m0.7 2.6h0m-0.8 0.8h0m0.6 0.3h0m0 0.1h0m0.1 0.2h0m-0.8 0.1h0m0.8 0.4h0m-0.3 1.2h0m-0.5 0.1h0m0.2 0.1h0m0.2 0.2h0m0.6-37.4h0m0.1 8.8h0m0.1 9.5h0m0.1 1h0m0.7 1.4h0m-0.6 0.7h0m-0.3 0.2h0m0.2 5h0m-0.1 1.1h0m0.4 2h0m0.2 1.4h0m-0.6 0.6h0m-0.2 0.1h0m0.5 0.6h0m-0.1 1h0m0.1 0h0m0.1 0.2h0m0.3 0.5h0m-0.6 0.2h0m0.6 0h0m-0.5 0h0m0.2 0.7h0m0.2 0.9h0m-0.5 0.4h0m0.1 0.2h0m0.1 0.1h0m0.4 0h0m-0.5 0.2h0m0.6 0.3h0m-0.8 41.4h0m1-71.6h0m-0.2 1h0m0.6 11.6h0m-0.2 1.4h0m0.3 1h0m0.2 1.7h0m-0.6 2.7h0m-0.3 0.1h0m0.1 0.5h0m0 0.1h0m0.9 0.4h0m-0.8 0.2h0m-0.1 0.5h0m0.1 0.2h0m-0.1 0.1h0m0.1 0.3h0m0.5 2.4h0m0.2 0h0m-0.5 0.6h0m0.2 0.8h0m-0.2 0.3h0m0.5 0.2h0m-0.1 0.3h0m-0.5 0.1h0m0.5 0.6h0m-0.3 1h0m-0.3 0.4h0m0.3 0.2h0m-0.5 0.2h0m1 0h0m-0.6 0.1h0m-0.2 0.1h0m-0.2 0.7h0m0.8 0.6h0m-0.8 0h0m0.7 0h0m-0.7 0h0m0.7 0.1h0m-0.2 41.3h0m0.6-65h0m0 0.8h0m0.1 2.9h0m-0.1 2.2h0m0.1 6.5h0m0 3.3h0m-0.1 4.4h0m0.1 0.4h0m-0.1 0h0m0 0.3h0m0 1.3h0m0 0h0m0 0.1h0m0 0.3h0m27.9-10.8h0m0 6.4h0m0 0.8h0m-0.2 1.5h0m0.1 0.4h0m0 1.3h0m-0.1 0.1h0m0 0.1h0m0.1 0.4h0m-0.1 42.1h0m1.1-99.5h0m-0.1 3.1h0m0.1 1.7h0m-0.1 18.8h0m-0.1 2.9h0m0 5.3h0m0.1 4.3h0m-0.5 0.6h0m0.6 0.3h0m0 5h0m-0.3 2h0m0.2 0.5h0m-0.1 1.7h0m-0.5 2.2h0m0.6 1.2h0m-0.7 0.7h0m0.4 0.5h0m-0.3 0.6h0m0.2 0h0m0 1.3h0m-0.2 0.8h0m0.2 0.1h0m-0.4 0.6h0m0.8 0.8h0m-0.6 1.7h0m-0.1 0.2h0m0.8 0h0m-0.3 0.4h0m-0.4 0.4h0m0 0.1h0m0.4 0.2h0m0.2 0.1h0m-0.4 0.1h0m1.2-27.5h0m-0.4 2.1h0m-0.1 6.5h0m0 1.8h0m0.8 0.4h0m-0.5 0.2h0m0.5 2.5h0m-0.3 2.8h0m-0.3 0h0m0.3 0.4h0m0.4 1.7h0m-0.2 2.7h0m-0.6 0.1h0m0.2 0.3h0m-0.3 0.3h0m0.7 0.2h0m-0.6 0.7h0m0.7 0.3h0m0 0.2h0m0 0.4h0m-0.4 0.1h0m0.2 0h0m-0.5 0.1h0m0.2 0.1h0m0.5 0.8h0m-0.1 0.1h0m-0.2 0.3h0m-0.2 0.5h0m0.1 0.4h0m0.1 0.5h0m0.4 0h0m-0.2 0.2h0m0.2 0h0m-0.2 1h0m-0.1 0.1h0m-0.6 41.4h0m0.9-70.3h0m0.5 1.2h0m0.1 0.5h0m0.1 3.5h0m0.1 3.1h0m0 0.7h0m0.1 0.5h0m-0.2 2.4h0m-0.6 0.4h0m0 1.1h0m0.3 0.9h0m-0.1 2h0m0.3 0.7h0m-0.6 0h0m0.1 0.5h0m0.3 1.2h0m0 0.3h0m-0.2 2.1h0m-0.1 0.3h0m0.2 0.3h0m0.7 1.2h0m-0.6 0.2h0m-0.2 0h0m0.1 1h0m0.2 0.6h0m0.2 0.4h0m-0.1 0h0m0.2 0.1h0m0.1 0.3h0m-0.9 0.3h0m0.3 0.2h0m0.4 0.9h0m0.1 0.6h0m-0.1 0.6h0m-0.3 42.3h0m1-88.2h0m-0.2 2.7h0m0.7 0.6h0m-0.4 11.4h0m-0.5 2.1h0m0.2 4.9h0m0.1 5.1h0m0 5.6h0m0.1 1.2h0m0.3 2.5h0m-0.3 0.1h0m0 0.4h0m0.6 0.6h0m-0.9 0.2h0m0.8 0.4h0m0 1.5h0m0.1 0.5h0m-0.7 0.7h0m-0.1 1.6h0m0.5 0h0m-0.1 0.9h0m0.3 0.1h0m-0.3 0.5h0m0 0.7h0m0 0.1h0m0.1 0.3h0m-0.1 0.1h0m-0.3 0.4h0m0.2 0.4h0m-0.3 0.1h0m-0.1 0.1h0m0.8 0.2h0m-0.2 0h0m0 0h0m0.3 0.5h0m-0.3 41.3h0m0.8-92.5h0m0.4 1.2h0m-0.1 2.6h0m-0.2 2.3h0m-0.1 5.6h0m0 3.6h0m-0.3 5.6h0m0.2 4.1h0m0.3 3.8h0m-0.1 4.7h0m-0.4 1.3h0m0.6 3.7h0m-0.1 0.9h0m0.1 1.2h0m-0.8 3.1h0m0.3 0.2h0m0.1 1h0m-0.1 0.7h0m0 0.1h0m0.1 0.2h0m-0.2 0.5h0m0.5 0.2h0m-0.7 0.9h0m0 0.4h0m0.4 0h0m0.3 0.6h0m-0.3 0.5h0m0.3 0h0m0.2 0.1h0m-0.8 0.2h0m0.4 0h0m0.5 0.1h0m-1 0h0m0.7 0.1h0m-0.7 1.1h0m0.2 0.1h0m-0.1 0.7h0m0.9 0h0m0 41.7h0m0.2-79.2h0m-0.1 18h0m0.1 0.5h0m-0.2 5.1h0m0.9 1h0m-0.4 1.5h0m0.4 0.3h0m-0.4 0.6h0m0.4 0.3h0m-0.1 1.3h0m-0.8 0.4h0m0.7 0.3h0m0.1 0.1h0m0.1 1.7h0m-0.9 0.5h0m0.9 1.7h0m-0.6 0.6h0m0.2 0.5h0m-0.1 0.2h0m0.1 0.7h0m-0.3 0.1h0m0 0.9h0m-0.1 0.5h0m0.5 0.2h0m0 0.1h0m0.1 0.1h0m0.2 0h0m-0.5 0.1h0m0.7-28h0m0.5 6.6h0m0.1 1.1h0m0 3.5h0m-0.6 3.8h0m0.9 0.3h0m0 2.1h0m-0.5 1.1h0m0.3 2.2h0m-0.7 0.1h0m0.2 1.8h0m0.7 0.6h0m-0.8 0.3h0m0.6 0.3h0m-0.3 0.1h0m-0.4 1.8h0m0.3 0.3h0m-0.3 0.2h0m0.9 0.1h0m-0.5 0.1h0m0.1 0h0m-0.5 0.5h0m0.3 0.4h0m-0.3 0h0m0.3 0.1h0m-0.4 0.6h0m0.9 0.3h0m-0.6 41.5h0m0.8-55.7h0m0.1 2.8h0m0.5 1.7h0m-0.6 0.5h0m0.7 0.8h0m-0.1 0.1h0m-0.6 1.4h0m0.5 0.2h0m-0.5 0.6h0m0.5 0.5h0m0 0.6h0m-0.5 2.4h0m0.7 0.3h0m0.1 0.2h0m-0.7 0.3h0m0.5 0.1h0m-0.6 0.7h0m-0.1 0.3h0m0.6 0.2h0m0.1 0.4h0m-0.5 0.2h0m0.4 41h0m1.1-68.3h0m0 0.6h0m-0.2 2.9h0m0.2 0.5h0m0.1 4.2h0m-0.3 0.8h0m0.2 3h0m0.1 4h0m-0.3 0.6h0m0.2 0.7h0m-0.2 0.7h0m-0.1 0.1h0m-0.2 0.3h0m0.8 2.4h0m-0.3 2.9h0m-0.6 0.1h0m0.4 0.1h0m0.1 0h0m0 0.1h0m-0.6 0.2h0m0.3 0h0m0.1 0.8h0m0.2 0.7h0m0.3 0.2h0m-0.3 0h0m-0.4 0.1h0m0.1 0.2h0m0 0.4h0m0.3 0.2h0m0.3 41.6h0m0.3-78.1h0m0.1 9h0m0.6 0.5h0m-0.3 0.5h0m0 6h0m-0.2 3.4h0m0.4 1.1h0m-0.3 1.1h0m0.3 2.6h0m-0.3 0.3h0m-0.1 0.4h0m0.4 0.1h0m-0.6 0.3h0m0.5 0.6h0m0 0.3h0m0 1.2h0m-0.4 0.1h0m-0.1 2.3h0m0.7 0.6h0m0.1 0.1h0m-0.5 0h0m-0.3 1h0m0 1.2h0m0 0h0m-0.1 1.2h0m0.9 0.9h0m-0.3 0.3h0m-0.2 0h0m0.2 0.4h0m0.1 0.7h0m0.1 0.1h0m-0.3 0.5h0m-0.1 0.1h0m0.6-21.5h0m0.1 3.9h0m-0.2 2.7h0m0.3 4.2h0m-0.2 0h0m0 0.6h0m0.1 2.2h0m-0.2 0.5h0m0.3 0h0m-0.3 0.1h0m0.3 0.4h0m-0.3 2.7h0m0.2 0.2h0m0.1 1.1h0m-0.3 2.7h0m0.2 41.4h0m25.6-83.6h0m0.1 8.7h0m0 9.7h0m-0.3 1.8h0m0 2.5h0m0.1 1.7h0m-0.3 0.5h0m0.2 0.4h0m-0.3 0.9h0m-0.2 1.6h0m0.5 1.1h0m0.1 0.8h0m-0.6 0.9h0m0.2 1.8h0m-0.1 0.1h0m0.7 0.6h0m-0.6 0h0m0 1.8h0m0.4 0.3h0m0 0.5h0m-0.1 0.3h0m0 0.8h0m0.4 0.1h0m0 0.1h0m0 0.1h0m0 0.2h0m-0.6 0.1h0m0 0.6h0m-0.1 0.3h0m-0.1 0h0m-0.1 45.5h0m1.9-95.7h0m-0.1 13h0m-0.8 15.3h0m0.3 1.5h0m0.5 0.1h0m-0.2 1.9h0m-0.2 0.3h0m0.1 0.8h0m0.3 1.9h0m0 3.1h0m-0.4 0.3h0m0.5 0.5h0m-0.4 0.3h0m-0.6 0.5h0m0.4 0.6h0m-0.1 0.7h0m0.5 0.2h0m-0.3 0.9h0m0.2 0.1h0m-0.5 0.3h0m-0.1 0.4h0m0.6 2.6h0m0.1 0.3h0m-0.6 1.9h0m0.6 0.6h0m-0.6 0.3h0m0.1 0.3h0m0.2 0.2h0m0.4 0.5h0m-0.3 0.1h0m0 0.4h0m-0.2 0.3h0m0 45.2h0m0.8-91.3h0m-0.1 1.9h0m0.3 17.6h0m-0.2 5.4h0m0 1.3h0m-0.2 1.4h0m0.7 0h0m0.3 0.3h0m-0.1 1.4h0m-0.8 1.3h0m0 0.8h0m0.7 1.2h0m-0.7 1.3h0m0 0h0m0.4 1.6h0m0.5 2.3h0m-0.1 0h0m0 2.1h0m-0.2 0.8h0m-0.4 0.2h0m-0.3 0.1h0m0.1 0.3h0m0.4 0.3h0m0.3 1.2h0m-0.7 1.5h0m0.3 0.1h0m0.2 0.1h0m-0.4 0.3h0m-0.2 0.3h0m0.9 0.7h0m-0.3 0.1h0m-0.4 0.1h0m0.5 45.3h0m0.9-81.7h0m-0.4 0h0m-0.1 11.6h0m0.1 5.1h0m-0.1 1.7h0m0 0.3h0m0.2 1.4h0m-0.1 1.9h0m0.5 1.9h0m0.1 0.6h0m0.1 0.4h0m-0.4 0.6h0m-0.5 0.9h0m0.3 0.1h0m-0.2 0.6h0m-0.1 0.3h0m0.5 0.7h0m-0.4 1.1h0m0.7 0.4h0m0.1 0.4h0m-0.2 2.1h0m-0.2 0.7h0m0.5 0h0m-0.9 0.3h0m0.2 0.2h0m0.4 0.2h0m0.1 0.1h0m-0.3 0h0m0.2 0.1h0m0 0.1h0m-0.3 0h0m0.3 0.1h0m-0.5 0.6h0m0.8 0.1h0m-0.1 0.4h0m-0.7 0.4h0m1.2-59.8h0m0.2 4.4h0m-0.3 9.5h0m0.3 2.4h0m-0.2 2.3h0m-0.2 13.4h0m0.2 2.5h0m-0.1 1.3h0m0 2h0m0.1 4h0m0.1 0.3h0m-0.3 7.5h0m0.7 0.4h0m-0.2 0.2h0m-0.4 1.8h0m0.3 2.9h0m-0.5 0.6h0m0.7 0.2h0m0.1 0.4h0m-0.7 0.1h0m-0.1 1.1h0m0 0.2h0m0.7 0h0m-0.6 0.2h0m0.4 0.1h0m0.1 0.1h0m-0.2 0.2h0m-0.3 0.4h0m0.1 0.3h0m0.2 0.1h0m0.2 0.1h0m-0.2 0.2h0m-0.1 0h0m0.4 0.2h0m-0.3 0.2h0m0.2 0h0m0.1 0h0m0.1 0.7h0m-0.3 0h0m-0.6 46.4h0m1.9-95.9h0m-0.3 7.1h0m0.4 15.1h0m-0.1 1.6h0m0.1 0.9h0m-0.3 0h0m0.2 0.9h0m-0.2 2.4h0m0 0.2h0m0.2 1h0m-0.1 0.1h0m-0.4 0.5h0m0.4 1.7h0m-0.5 2.8h0m0.4 0.2h0m0.3 0.6h0m-0.3 1.6h0m0.3 0.6h0m-0.8 0.4h0m0.3 0.4h0m0.4 0.9h0m-0.7 0.1h0m0.5 0.7h0m0.2 1.4h0m-0.6 0.8h0m0.2 2.1h0m0.3 0.3h0m-0.6 0.4h0m0.6 0.2h0m0 1.1h0m-0.1 1.4h0m0.2 0.2h0m-0.1 0.2h0m-0.7 0.3h0m0.5 0h0m-0.2 0.3h0m-0.1 0.4h0m0.7 0h0m-0.1 0.4h0m-0.3 0.1h0m-0.2 0h0m0.6 0.3h0m-0.5 0h0m-0.2 45.5h0m0.9-93.2h0m-0.2 10.7h0m0.1 4.2h0m-0.1 0.7h0m0.6 1.7h0m-0.4 2.8h0m0.1 0.2h0m0.2 10.2h0m0.5 1.7h0m-0.4 1.9h0m0.3 3.1h0m-0.9 1.5h0m0.9 2.8h0m-0.5 0.1h0m0.4 0.1h0m0.1 0.6h0m-0.1 1.5h0m-0.1 0h0m-0.3 0.5h0m-0.3 0.3h0m0.8 0.1h0m-0.4 0.5h0m-0.5 1.2h0m0.5 0h0m0.3 0.3h0m-0.1 0.1h0m0.1 0.1h0m0 0.4h0m0 0.3h0m-0.4 0.1h0m0 0.2h0m0.2 45.2h0m1.3-74h0m-0.1 0.8h0m-0.3 1.5h0m0.4 1.5h0m0 3.4h0m-0.1 0.4h0m0.1 0.1h0m-0.4 2.7h0m0.5 2.6h0m-0.2 1.3h0m-0.8 2.3h0m0.2 0.5h0m0.7 0.7h0m0 0.6h0m-0.8 1.5h0m0.6 1.1h0m-0.1 0.7h0m0 0.6h0m0.3 0.1h0m-0.6 1.1h0m0.2 1.3h0m0 0.5h0m0.4 0.5h0m-0.2 0.1h0m0.3 0.1h0m-0.9 0.7h0m0.3 0.7h0m0.1 0.5h0m-0.4 0.1h0m0.8 0.5h0m-0.9 0.2h0m0.4 0.1h0m0.1 0.2h0m0.4 45.1h0m0.6-81.2h0m-0.4 8.1h0m0.3 5.8h0m0.4 2.2h0m-0.6 3.2h0m0 0.1h0m0.7 0.4h0m-0.6 0.8h0m0.2 0h0m0.2 5.2h0m0 1.5h0m-0.6 0.2h0m0.6 0.7h0m-0.6 1.9h0m0.3 0.4h0m0.1 0.8h0m0.4 1.2h0m-0.5 0.8h0m0 0.1h0m0.6 0h0m-0.2 0.5h0m0.1 0.3h0m-0.5 0.2h0m0 0.4h0m0.2 0.1h0m-0.5 0.1h0m0.7 0.1h0m-0.7 0.2h0m0.1 0.7h0m1.1-45.8h0m-0.1 8h0m0.3 8.7h0m0 10.6h0m-0.1 5.6h0m0.3 1h0m0.3 2.5h0m-0.1 1.1h0m-0.2 0.4h0m-0.1 0.1h0m-0.1 0.8h0m0.2 0h0m0.2 0.1h0m-0.7 0.6h0m0.4 0.1h0m0.3 0.6h0m-0.8 0.3h0m-0.1 1.2h0m0.3 0.1h0m0.2 0.1h0m0 0.4h0m0.3 0.5h0m-0.6 1.3h0m0.4 0h0m0.3 1.5h0m-0.1 0h0m0.2 0.2h0m-0.8 45.8h0m0.8-54.4h0m0 0.9h0m0.1 2.3h0m0 0.1h0m0.1 0h0m-0.1 4.6h0m0 0.4h0m20.7-24.8h0m-0.2 16h0m0.2 2.9h0m-0.1 0.7h0m0.2 1.1h0m-0.1 4.1h0m-0.5 1.1h0m0.5 0.3h0m0.2 0.1h0m-0.6 0.6h0m0.4 0.4h0m-0.1 0.3h0m-0.2 0.4h0m-0.1 0h0m0.4 0.4h0m-0.4 0.5h0m0.2 0h0m0 0.1h0m0.2 0h0m0 0.2h0m-0.5 41.5h0m1-75h0m0.1 3.3h0m0 0.9h0m0.3 0.1h0m-0.3 4.8h0m-0.1 3.2h0m0.7 3.6h0m-0.8 5h0m-0.1 0.3h0m0.1 0.1h0m0.4 0.9h0m-0.4 1.1h0m0.6 0.9h0m-0.6 0.1h0m0 0.1h0m0.3 0.5h0m0.2 0.2h0m0 0.8h0m-0.6 0.1h0m0.7 1.4h0m-0.2 1.9h0m0 1.4h0m-0.2 0.5h0m0.4 1.3h0m-0.4 0.1h0m0.2 0.2h0m0.4 0h0m-0.9 0.6h0m0.8 0.2h0m-0.3 41.5h0m1.1-103.5h0m0 1.7h0m0.1 10.1h0m-0.1 9.8h0m0.1 3.5h0m-0.3 6.2h0m0.2 5.2h0m0.1 4h0m-0.7 3.1h0m0.5 0.9h0m0.3 2.1h0m-0.1 2.1h0m-0.4 0.2h0m0.2 2.3h0m-0.3 0.8h0m0.5 1.3h0m-0.6 0.8h0m0.3 0.8h0m0.5 0.7h0m-0.6 1.4h0m-0.4 0.5h0m0.6 0.2h0m-0.6 0.1h0m0.7 0.2h0m0 0.4h0m-0.6 0.3h0m0.2 0.8h0m-0.1 0.1h0m0.4 0.6h0m-0.6 0.7h0m0.2 0.1h0m0.5 0.3h0m-0.2 0.2h0m-0.2 0.3h0m0.2 0h0m-0.1 0.1h0m0.5 41h0m0.2-92.4h0m0.3 6.6h0m-0.1 14h0m-0.2 5.8h0m0.1 2h0m0.2 2h0m-0.2 0.2h0m-0.1 1.7h0m0.2 2.2h0m0 0.5h0m-0.1 1.3h0m0 0.4h0m0.1 1h0m0.2 1.5h0m0.4 3.4h0m-0.5 1.3h0m0.4 0.2h0m-0.2 1.9h0m-0.3 0.3h0m-0.3 0.6h0m0.5 0.8h0m0 0h0m-0.3 1.4h0m0.7 0h0m-0.6 0.1h0m0.6 0.1h0m-0.9 0.5h0m0.8 0.4h0m-0.1 0h0m-0.7 0.1h0m0.9 0.4h0m-0.8 0.5h0m0.3 0h0m0.5 0.2h0m0.1 0.1h0m0-33.7h0m0.6 12.5h0m0 3.3h0m-0.4 2.1h0m0.6 2.9h0m-0.7 0.9h0m0 0.2h0m0.5 3.9h0m0.2 0.7h0m0.2 0.1h0m-0.1 0.9h0m-0.5 0.5h0m-0.3 0h0m0.6 0.4h0m0.1 0.2h0m-0.7 0.1h0m0.4 0.3h0m-0.2 0.4h0m0.6 0.6h0m-0.6 0.2h0m-0.2 0.1h0m0.8 0.5h0m-0.7 0.6h0m0.5 0.5h0m-0.5 0h0m-0.2 0.4h0m1 0.1h0m-0.5 0.7h0m-0.4 0.1h0m0.8 0.2h0m-0.8 0.3h0m0.2 0h0m-0.1 41.1h0m1.7-71h0m-0.3 6.5h0m0.2 0.9h0m0.1 1.5h0m0.1 5.5h0m-0.2 1.6h0m-0.2 0.6h0m0.4 0.9h0m-0.2 2.2h0m0.1 0.6h0m-0.2 1h0m0.2 0.2h0m0 0.2h0m-0.8 0h0m0 0.2h0m0.7 0.5h0m-0.2 0.3h0m-0.6 0.2h0m0.5 2.6h0m0.4 0.1h0m-0.9 0h0m0.5 0h0m-0.2 0.4h0m-0.1 0.1h0m0.1 0.7h0m-0.3 0.2h0m1 0.7h0m-0.2 1h0m0.1 0h0m-0.9 0.1h0m0.5 0.1h0m0.3 0.5h0m-0.1 0.5h0m-0.2 41.3h0m0.6-78.3h0m0.1 8.1h0m-0.1 2h0m0.4 6.5h0m-0.5 3h0m0.3 0.7h0m-0.3 0.8h0m0.8 0.7h0m-0.2 1.6h0m-0.6 1.2h0m0.1 0.3h0m0.4 0.8h0m-0.4 0.2h0m0.8 0.3h0m0.1 0.6h0m-1 0.2h0m0.3 0.1h0m0.4 0.8h0m-0.1 0.4h0m0.2 2h0m0 1.1h0m-0.3 0.3h0m0.3 0.1h0m0.2 1.6h0m-0.1 0.2h0m-0.5 0.4h0m0.5 0.4h0m-0.2 0.6h0m-0.1 0.2h0m-0.1 0h0m-0.4 0h0m0.5 0.1h0m-0.2 0.4h0m0.4 0.3h0m-0.2 0.1h0m0.4 0.4h0m-0.6 0.3h0m0 0.1h0m0.4 41.4h0m0.5-67.2h0m0.5 7.5h0m-0.2 2.2h0m-0.1 0.2h0m0 1h0m-0.4 1.8h0m0.7 0.1h0m-0.1 0.3h0m-0.1 2h0m0 0.1h0m0.1 0.8h0m0.2 1.5h0m-0.4 0.4h0m0 0.8h0m-0.2 0.1h0m0.6 0.1h0m-0.3 0.8h0m-0.3 0.7h0m0.5 0.5h0m0 0.3h0m-0.5 0.2h0m-0.3 0h0m0.3 0.9h0m0.5 0h0m-0.4 0.8h0m-0.1 0h0m0.5 0.1h0m-0.4 0.2h0m-0.2 0h0m0.6 0.5h0m-0.4 0.3h0m0 0.3h0m-0.1 0h0m0.2 0.2h0m-0.1 0.9h0m-0.1 0.1h0m0.3 0h0m0.7-20.3h0m0.1 11.4h0m-0.4 0.6h0m0.2 0.2h0m-0.1 1.5h0m-0.1 1h0m0.3 1.7h0m0 0.1h0m0 1.1h0m0.3 1.5h0m-0.5 0h0m0.1 0.4h0m0.4 0.2h0m-0.1 0.3h0m-0.4 41.9h0m19.8-63.8h0m-0.1 0.9h0m0.1 2.4h0m-0.1 1h0m0.2 1h0m0 1.7h0m-0.1 0.5h0m-0.2 0.7h0m0 55.4h0m1.2-77.9h0m-0.4 2.7h0m0.2 0.4h0m-0.4 2.6h0m0.2 1.1h0m-0.3 0.1h0m0.4 1h0m0.3 0.4h0m-0.6 1.1h0m0 0.2h0m-0.1 0h0m0.7 0.5h0m-0.6 1.1h0m0.1 0.4h0m0.5 0.5h0m-0.1 1h0m-0.3 0.3h0m0 0.7h0m0.2 0.4h0m-0.1 0.1h0m-0.3 0.4h0m-0.3 0.2h0m1 0.5h0m-0.1 0h0m-0.2 0h0m0.2 0.3h0m0 0.9h0m-0.7 0.5h0m-0.1 0.7h0m0.1 0.2h0m0 0.5h0m0.3 0.2h0m-0.3 0.5h0m-0.1 0.6h0m0.9 57.9h0m0.5-97.4h0m-0.3 3.3h0m0.1 4.8h0m0 0.9h0m0 2h0m0.1 2.8h0m-0.1 1.8h0m0.2 4.7h0m0.1 4h0m-0.1 2.3h0m0.4 0.1h0m0.1 0.4h0m-0.4 2h0m-0.1 0.6h0m-0.5 0.5h0m0.5 2.3h0m0.2 0.2h0m0 0.6h0m-0.4 0.1h0m0.3 0.1h0m0 0.2h0m-0.3 0.3h0m-0.1 0.9h0m-0.1 0.4h0m-0.1 0.2h0m1.4-30.6h0m0 4.6h0m-0.1 4.1h0m0.2 1.3h0m0.4 1.5h0m-0.4 0.5h0m-0.1 2.3h0m0.5 1h0m-0.4 1.4h0m0.5 0.5h0m-0.2 0h0m-0.4 0.5h0m0.3 0.2h0m0 0.3h0m0 0.4h0m-0.7 0.8h0m0.6 0h0m0.1 0.3h0m-0.5 0.9h0m0.5 0.1h0m-0.3 0.4h0m0.6 0.8h0m-0.5 0.4h0m0.1 0.8h0m-0.2 0.4h0m0.2 1h0m-0.5 0.9h0m0.2 0.3h0m-0.1 0.8h0m0.1 66.3h0m1.7-94.5h0m-0.7 5.2h0m0.5 0.2h0m-0.5 1.4h0m0.5 1.8h0m-0.6 1.4h0m0.2 2.9h0m-0.1 0.3h0m0.6 0.1h0m0 0.6h0m-0.3 0.5h0m0 0.2h0m0.4 0h0m-0.5 1.5h0m-0.2 0.1h0m0.5 0.9h0m-0.5 0h0m0.4 1.9h0m0.2 0.3h0m-0.8 0.6h0m0.5 0h0m0.1 0.4h0m-0.3 0.1h0m-0.4 0.2h0m0.1 0.2h0m0.3 0.6h0m0.1 0.4h0m0.4 0.6h0m-0.2 0.1h0m-0.4 0.1h0m0.5 0.2h0m-0.5 0.5h0m0 0.1h0m0.4 0.2h0m-0.4 0.1h0m0.5 0.1h0m-0.8 1h0m0.6 69.6h0m1.3-111.7h0m0 0.6h0m0 13.3h0m-0.6 2.6h0m-0.2 0h0m0.8 3.5h0m-0.7 0.1h0m0 0.6h0m0.8 6.4h0m-0.9 2.8h0m0.9 1.7h0m-0.6 1.1h0m0.3 0.6h0m-0.7 0.5h0m0.9 1.2h0m-0.1 0.8h0m0.1 1.4h0m-0.9 0.2h0m0.8 0.8h0m-0.6 0.1h0m0.6 0h0m-0.2 0.7h0m0.1 0.2h0m-0.6 0.9h0m0.1 0.2h0m0.4 0.3h0m0 0.9h0m-0.2 0.9h0m-0.1 0.2h0m0.3 0.2h0m0.1 1.3h0m-0.1 0.3h0m0.4 1.8h0m-0.1 0.3h0m0 65.2h0m0.9-112.1h0m-0.7 5.4h0m0.6 5h0m0.1 12.8h0m-0.8 0.5h0m0.1 0.5h0m0 2.7h0m0.1 0h0m0 3.2h0m0 0.8h0m0.2 1.6h0m-0.3 2.6h0m0.9 0.1h0m-0.7 0h0m0.1 0.4h0m-0.4 1.9h0m0.6 1.8h0m-0.4 0.5h0m0.7 0.4h0m-0.6 1h0m0.1 0.5h0m-0.3 1.1h0m0.2 0.2h0m0 0.8h0m-0.2 0.4h0m0.9 0.3h0m-1 0.5h0m0 0.1h0m0.7 0.2h0m-0.3 0h0m-0.4 0.8h0m0 1h0m0.2 0.5h0m0.7 1.1h0m-0.7 0.1h0m0 0.6h0m0.5 0.6h0m-0.2 0.2h0m0.4 1.3h0m-0.1 1h0m0.2 0.6h0m0.3-144.7h0m0 10.7h0m0.1 7.2h0m-0.2 2.4h0m0.1 3.6h0m0 1.9h0m-0.2 26.3h0m0.3 7.1h0m-0.1 5h0m-0.2 2.2h0m0.2 9.5h0m-0.3 2.5h0m0.3 9.3h0m0.1 8h0m-0.3 3.5h0m-0.1 31.1h0m0 7.8h0m0 4.3h0m0.2 60.7h0m17.4-78.4h0m-0.2 22.7h0m-0.1 1.9h0m0.4 2.1h0m0.2 0.2h0m-0.3 1.9h0m0 0.2h0m0.1 0.8h0m0.3 0.9h0m-0.1 0.2h0m0 1.1h0m-0.1 0.4h0m-0.1 0.5h0m0.2 0.5h0m-0.2 2.2h0m0 0.3h0m-0.3 0.3h0m0.3 0.2h0m0.2 0h0m-0.2 0.3h0m0.3 0.6h0m-0.7 41.6h0m1.1-67.1h0m0.5 12.7h0m-0.7 1.6h0m0.3 1.7h0m-0.1 4.1h0m-0.2 0.3h0m0.6 0.5h0m-0.6 0.4h0m-0.1 0.6h0m0.3 0.3h0m0.6 0.4h0m-0.7 0h0m0.2 0.1h0m0 0h0m-0.4 0.8h0m0 0.2h0m-0.1 0.1h0m0.4 0h0m0.6 0.4h0m-0.1 0h0m-0.5 0.3h0m0.5 0.2h0m0 0.3h0m0 0.1h0m-0.1 0.4h0m-0.2 41.6h0m0.5-77.2h0m0.1 0.2h0m-0.1 6.6h0m0.7 5.2h0m-0.5 3.7h0m-0.1 2.6h0m-0.2 3.4h0m0.2 0.4h0m0.2 1h0m-0.2 2.4h0m0.7 0.3h0m-0.4 1.4h0m0.2 0.8h0m0.1 0.8h0m-0.7 1.5h0m0.5 0.6h0m-0.4 0.1h0m0 0.1h0m0.6 0.1h0m-0.2 0.3h0m0.2 0.1h0m0 0.6h0m0.2 0h0m-0.9 0.6h0m0 0.3h0m0.8 0.1h0m0.1 0.1h0m-0.3 0.4h0m-0.1 0h0m-0.5 0.1h0m0.8 0.4h0m-0.4 0.1h0m0.3 0h0m-0.6 0.2h0m0.7 0.2h0m0 0.2h0m0.1 0.2h0m-0.4 0.4h0m-0.4 0h0m0.1 0.1h0m0.2 0h0m0.3 0.2h0m0.1 41.5h0m1-68.1h0m-0.5 7.6h0m0 1.6h0m0.1 3.1h0m-0.1 1.2h0m0.5 0.2h0m-0.3 1.6h0m-0.3 2h0m0.7 2.4h0m-0.7 0.2h0m0.6 0.5h0m-0.9 1.3h0m0.7 0.2h0m-0.1 0.2h0m-0.1 0.4h0m0.3 0.1h0m-0.7 0.1h0m0.3 0h0m0.4 0.1h0m-0.1 0.1h0m-0.4 0h0m0.4 0.1h0m-0.3 0.1h0m-0.3 0.1h0m0.4 0.4h0m0.1 0.2h0m0.3 0.1h0m-0.1 0.2h0m-0.2 0.7h0m0.1 0.1h0m0.3 0.3h0m-0.2 0.1h0m-0.5 0.1h0m-0.2 0.1h0m0.5 0h0m-0.5 0.3h0m0.6 0.2h0m-0.3 0.5h0m-0.3 0.1h0m0.9-32.6h0m0.2 0.6h0m0 8.2h0m-0.2 12.2h0m0.2 1.1h0m-0.1 0.8h0m0.5 0.6h0m0.4 0.1h0m-0.4 0.2h0m-0.5 2.2h0m0.7 1.5h0m-0.8 0.3h0m0.5 0.4h0m-0.4 0.3h0m0.4 1.5h0m0 0.1h0m-0.1 0.1h0m0.4 0.3h0m-0.3 0h0m0.2 0.7h0m-0.3 0.1h0m-0.2 0.1h0m0.5 0.1h0m-0.3 0.1h0m-0.2 0.1h0m0.5 0.3h0m-0.5 41.6h0m1.5-85.7h0m-0.4 23.3h0m-0.2 1.1h0m-0.1 6h0m0.3 1.1h0m0.6 1.6h0m-0.6 2.6h0m-0.2 1.5h0m0.5 0.7h0m0.2 0.1h0m-0.1 0.3h0m0.3 0.2h0m-0.2 0.3h0m0.2 0.5h0m-0.5 0h0m-0.4 0.2h0m0.1 0.1h0m0.4 0.7h0m0 0.2h0m0 0h0m0 0.2h0m0.3 0.6h0m-0.6 0.1h0m0.5 0h0m0.2 0.8h0m-0.7 0h0m0.5 0.5h0m-0.7 0.3h0m0.7 0.8h0m-0.1 0.4h0m-0.4 0h0m0.3 0.3h0m-0.1 41.4h0m0.8-99.8h0m-0.1 0h0m0.3 1.7h0m0.3 1.3h0m-0.5 2.4h0m-0.1 1.4h0m0 1.7h0m0.7 4h0m-0.5 2.9h0m-0.2 0.8h0m-0.1 2.1h0m0.5 1.3h0m0.2 1.6h0m-0.1 3h0m0 4.8h0m-0.3 0.5h0m0.1 4.7h0m-0.5 1.6h0m0.4 0.7h0m-0.2 1.9h0m0.1 2.3h0m0.1 1.7h0m-0.2 3.5h0m0.3 0.6h0m-0.2 1h0m0.5 0.5h0m-0.1 0.4h0m-0.7 1.5h0m0.3 0.2h0m0.1 0.3h0m-0.3 0.6h0m0 1.2h0m-0.1 0.2h0m0.2 0.6h0m-0.1 1.4h0m0.1 0.6h0m0.2 0.2h0m0.2 0.7h0m0 0.6h0m-0.5 0.8h0m0.4 0.1h0m0.2 0.8h0m15.2-34.9h0m0 0h0m-0.1 16.7h0m0.1 0.7h0m-0.2 3.7h0m0.2 0.4h0m0.1 0.7h0m-0.2 0.4h0m-0.2 1h0m0 0.2h0m0.4 0.4h0m-0.4 0.8h0m0 0.4h0m0.3 0.9h0m-0.4 50.7h0m0.6-111.1h0m0.3 8.2h0m-0.1 19.5h0m-0.2 2.7h0m0.4 15h0m-0.5 0.9h0m0.3 1.4h0m-0.1 0.3h0m0.1 1.1h0m0.2 0.2h0m0.1 0.1h0m-0.6 0.2h0m0.1 0.7h0m0.1 1.4h0m0.2 0.1h0m0.4 0.5h0m0.1 0.1h0m-0.6 0.1h0m0.1 1.5h0m0.3 0.1h0m0.1 0.8h0m-0.6 0.3h0m0.3 0.8h0m0.5 0.3h0m-0.7 0.5h0m0 0.1h0m-0.2 0.1h0m0.6 0.1h0m-0.2 0.3h0m0.5 0.4h0m-0.6 0.1h0m0.2 0.2h0m0.2 0.3h0m-0.7 0.6h0m0.3 0.5h0m0 1.1h0m0.2 0.1h0m0 0h0m-0.1 0.1h0m0.3 49.6h0m0.5-69.7h0m0.1 1.8h0m0.2 0.4h0m0.3 0.4h0m-0.9 2.9h0m0.5 0.9h0m-0.1 0.6h0m0.2 1.2h0m-0.1 1h0m0 0.1h0m0 0.4h0m0.4 2.6h0m-0.3 0h0m-0.4 1h0m0.2 0h0m-0.2 0.3h0m-0.2 1.3h0m0.2 0.7h0m0.8 0.3h0m-0.4 0.7h0m0.2 0.3h0m-0.4 0h0m0.1 0.6h0m-0.3 0.3h0m0.8 0.1h0m-0.5 0.2h0m0.5 0.5h0m-0.2 0.3h0m-0.4 0h0m0.6 0.6h0m-0.6 0.2h0m0.6 0.2h0m-0.9 0.5h0m1.4-81.5h0m0.1 1.2h0m-0.2 4.2h0m0.5 4.9h0m-0.4 5.1h0m0 5.5h0m0.1 4.4h0m0.3 1.9h0m-0.1 2.5h0m-0.6 3.4h0m0.5 2.8h0m0.1 5h0m0 5.4h0m0.1 3.4h0m-0.7 4.7h0m-0.2 2.9h0m0.8 0.5h0m0 3.4h0m-0.3 0.3h0m-0.1 3.1h0m-0.3 2.5h0m0.5 0.9h0m0 0.8h0m0.3 0.8h0m-0.4 0.3h0m-0.2 0.5h0m0.1 0.2h0m0.2 0.3h0m0.1 1.3h0m0.2 0.7h0m-0.2 0.3h0m0 0.8h0m0 1.5h0m0 0.2h0m0 1.3h0m-0.6 1.6h0m0.9 0.2h0m-0.4 0.1h0m-0.4 0.1h0m0.4 0.2h0m0.2 0.5h0m-0.3 0.2h0m0 2.3h0m-0.4 48.8h0m1.4-131.6h0m-0.5 14.3h0m0.5 8.2h0m-0.3 1.8h0m0.7 3.7h0m-0.6 2.4h0m0.6 3.5h0m-0.8 2.3h0m0.5 3.5h0m-0.3 2.6h0m0.4 3.5h0m0 0.2h0m-0.1 3.9h0m-0.5 4.3h0m0.5 2.9h0m-0.5 2.5h0m0.3 0.7h0m0.4 2.6h0m0.1 4.8h0m-0.6 1.1h0m0.1 1.4h0m-0.1 0.9h0m0.2 1.9h0m-0.5 0.3h0m0.4 0.9h0m0 0.2h0m0.4 0h0m-0.2 0.3h0m-0.4 0.1h0m0.7 0h0m-0.6 0.5h0m-0.2 0.1h0m0.5 0.2h0m0.4 1.2h0m-0.3 0.6h0m0.1 0.5h0m-0.4 0.2h0m-0.2 0.5h0m-0.1 0h0m0.2 0.1h0m0.5 0h0m0.2 0.1h0m-0.8 0.1h0m0.6 0h0m-0.3 0.2h0m0.2 0.5h0m-0.3 0.2h0m0.1 0.1h0m0.1 0.1h0m-0.6 0h0m0.4 0.3h0m0.2 0h0m-0.4 0.1h0m0.1 0.3h0m0 0.1h0m0.5 0.7h0m-0.2 0.1h0m0.3 0h0m-0.8 0.3h0m0.8 0.1h0m0.1 0.2h0m-0.7 0.6h0m0.1 49.3h0m1.4-67.8h0m-0.5 1.5h0m0.2 0.4h0m-0.5 1.3h0m0.7 0.3h0m0 0.7h0m-0.1 2h0m0.1 1.1h0m-0.2 0.1h0m0.1 0.6h0m-0.2 0.5h0m-0.4 0.6h0m0.4 0.4h0m-0.1 0.2h0m-0.2 0.9h0m0.1 0.5h0m0.5 0.2h0m-0.1 0h0m-0.5 1.9h0m-0.1 0.2h0m0 0.3h0m0.2 1.2h0m-0.1 0h0m0.3 0h0m0.1 1.1h0m0.1 0.4h0m-0.1 0.3h0m-0.2 0.6h0m0 0h0m0.3 0.2h0m0.1 49.8h0m12.1-52h0m0.1 3.6h0m0.1 2.4h0m-0.2 3.1h0m0.1 3.8h0m-0.1 1.3h0m-0.1 0.3h0m0.2 0.1h0m0 1.1h0m-0.1 1.9h0m0.1 0h0m-0.1 0.8h0m0.2 0.2h0m-0.3 33.6h0m0.4-84.5h0m0.7 9.9h0m-0.2 7.1h0m0 3.5h0m-0.2 6.9h0m-0.1 1.9h0m-0.3 2.1h0m0 0.8h0m0.9 1.1h0m0 0.7h0m-0.1 0.2h0m-0.6 4.6h0m0.6 0.5h0m-0.2 0.4h0m-0.2 0.7h0m-0.1 1h0m-0.2 0.2h0m0.4 0.8h0m0.4 0.8h0m-0.7 0.3h0m0.4 0.5h0m0.2 0.5h0m-0.7 0.2h0m0.3 0.9h0m0.2 0.6h0m-0.6 0.2h0m0.1 0.3h0m0.4 0h0m0.1 0.4h0m-0.5 0.6h0m0.2 0.5h0m-0.2 0.6h0m0.7 0.4h0m-0.2 0.8h0m0.3 0.5h0m-0.6 0.2h0m0.7 0.3h0m-0.6 0h0m-0.3 0h0m0.6 0.2h0m-0.1 0h0m0.1 0h0m0.1 0.1h0m0.2 33.2h0m0.3-57.5h0m0.4 4.3h0m-0.1 1.5h0m-0.3 1h0m0.1 0.6h0m0 0.4h0m0.5 3.5h0m-0.6 4.1h0m0 0.3h0m0.1 1.3h0m-0.1 0.3h0m0 1.3h0m-0.2 0.5h0m0.8 0.7h0m-0.6 0.4h0m0.3 0.4h0m0.3 0.5h0m-0.5 0.1h0m0 1.2h0m0.1 0.3h0m0.3 0.1h0m-0.4 0.2h0m0 0.1h0m0.2 0.1h0m-0.5 0h0m0.4 0.1h0m-0.5 0h0m1 0.2h0m-0.5 0.3h0m0.2 0.2h0m0 0.3h0m0 0h0m0.3-35.4h0m0 6.9h0m0.9 6.8h0m-0.3 3.2h0m0.1 0.9h0m-0.4 0.5h0m0.2 3.6h0m-0.2 0.9h0m0.5 0.6h0m-0.5 0.7h0m-0.1 1.4h0m0.5 0.4h0m-0.3 0.5h0m-0.1 0.4h0m0.5 0.1h0m-0.6 1h0m-0.2 1.3h0m0.8 0.2h0m-0.8 0.2h0m0.5 0h0m-0.2 1.1h0m0.1 0.6h0m-0.3 0.9h0m0.3 0.1h0m0 0.4h0m0.5 0.2h0m-0.8 0.4h0m0.1 0.3h0m-0.2 0.1h0m0.6 0.4h0m-0.3 0.4h0m-0.2 0.5h0m0.4 0h0m0.1 0.1h0m0.1 0.1h0m-0.4 33h0m0.7-51.8h0m0.2 3.6h0m0.1 2.7h0m-0.2 2.5h0m0.2 0.3h0m0.2 1.2h0m-0.4 0.5h0m0.4 0.5h0m-0.3 0.1h0m-0.2 1.2h0m0.4 2.6h0m0.1 0.3h0m-0.3 0.6h0m0.1 0.1h0m0.1 0.4h0m-0.3 0.7h0m0.2 0.2h0m0.3 0.2h0m-0.1 0.1h0m-0.3 0.4h0m0.4 0h0m0 34.2h0" stroke="#ff8200" stroke-width="1.9" stroke-linecap="round" fill="none"/>
<line x1="32.5" y1="123.5" x2="335.5" y2="123.5" stroke="#d46464" stroke-width="1.1"/>
<path d="M32.5 359.5H335.5V640.5" fill="none" stroke="#a0a0a0" stroke-width="1"/><path d="M32.5 640.5H336.0" fill="none" stroke="#8a8a8a" stroke-width="1"/><path d="M32.5 359.0V641.0" fill="none" stroke="#555" stroke-width="1.1"/>
<line x1="29.1" y1="633.2" x2="32.5" y2="633.2" stroke="#555" stroke-width="0.9"/>
<text x="25.3" y="634.6" font-size="3.8" font-weight="bold" text-anchor="end" fill="#333">0</text>
<line x1="29.1" y1="612.1" x2="32.5" y2="612.1" stroke="#555" stroke-width="0.9"/>
<line x1="29.1" y1="591" x2="32.5" y2="591" stroke="#555" stroke-width="0.9"/>
<text x="25.3" y="592.4" font-size="3.8" font-weight="bold" text-anchor="end" fill="#333">2</text>
<line x1="29.1" y1="569.9" x2="32.5" y2="569.9" stroke="#555" stroke-width="0.9"/>
<line x1="29.1" y1="548.8" x2="32.5" y2="548.8" stroke="#555" stroke-width="0.9"/>
<text x="25.3" y="550.2" font-size="3.8" font-weight="bold" text-anchor="end" fill="#333">4</text>
<line x1="29.1" y1="527.7" x2="32.5" y2="527.7" stroke="#555" stroke-width="0.9"/>
<line x1="29.1" y1="506.6" x2="32.5" y2="506.6" stroke="#555" stroke-width="0.9"/>
<text x="25.3" y="508" font-size="3.8" font-weight="bold" text-anchor="end" fill="#333">6</text>
<line x1="29.1" y1="485.5" x2="32.5" y2="485.5" stroke="#555" stroke-width="0.9"/>
<line x1="29.1" y1="464.4" x2="32.5" y2="464.4" stroke="#555" stroke-width="0.9"/>
<text x="25.3" y="465.8" font-size="3.8" font-weight="bold" text-anchor="end" fill="#333">8</text>
<line x1="29.1" y1="443.3" x2="32.5" y2="443.3" stroke="#555" stroke-width="0.9"/>
<line x1="29.1" y1="422.2" x2="32.5" y2="422.2" stroke="#555" stroke-width="0.9"/>
<text x="25.3" y="423.6" font-size="3.8" font-weight="bold" text-anchor="end" fill="#333">10</text>
<line x1="29.1" y1="401.1" x2="32.5" y2="401.1" stroke="#555" stroke-width="0.9"/>
<line x1="29.1" y1="380" x2="32.5" y2="380" stroke="#555" stroke-width="0.9"/>
<text x="25.3" y="381.4" font-size="3.8" font-weight="bold" text-anchor="end" fill="#333">12</text>
<line x1="29.1" y1="358.9" x2="32.5" y2="358.9" stroke="#555" stroke-width="0.9"/>
<line x1="41.0" y1="641.0" x2="41.0" y2="644.5" stroke="#555" stroke-width="0.9"/>
<text x="41.0" y="652.6" font-size="4.1" font-weight="bold" text-anchor="middle" fill="#222">1</text>
<line x1="58.9" y1="641.0" x2="58.9" y2="644.5" stroke="#555" stroke-width="0.9"/>
<text x="58.9" y="655.8" font-size="4.1" font-weight="bold" text-anchor="middle" fill="#222">2</text>
<line x1="74.2" y1="641.0" x2="74.2" y2="644.5" stroke="#555" stroke-width="0.9"/>
<text x="74.2" y="652.6" font-size="4.1" font-weight="bold" text-anchor="middle" fill="#222">3</text>
<line x1="88.4" y1="641.0" x2="88.4" y2="644.5" stroke="#555" stroke-width="0.9"/>
<text x="88.4" y="655.8" font-size="4.1" font-weight="bold" text-anchor="middle" fill="#222">4</text>
<line x1="101.8" y1="641.0" x2="101.8" y2="644.5" stroke="#555" stroke-width="0.9"/>
<text x="101.8" y="652.6" font-size="4.1" font-weight="bold" text-anchor="middle" fill="#222">5</text>
<line x1="115.8" y1="641.0" x2="115.8" y2="644.5" stroke="#555" stroke-width="0.9"/>
<text x="115.8" y="655.8" font-size="4.1" font-weight="bold" text-anchor="middle" fill="#222">6</text>
<line x1="129.3" y1="641.0" x2="129.3" y2="644.5" stroke="#555" stroke-width="0.9"/>
<text x="129.3" y="652.6" font-size="4.1" font-weight="bold" text-anchor="middle" fill="#222">7</text>
<line x1="142.6" y1="641.0" x2="142.6" y2="644.5" stroke="#555" stroke-width="0.9"/>
<text x="142.6" y="655.8" font-size="4.1" font-weight="bold" text-anchor="middle" fill="#222">8</text>
<line x1="155.9" y1="641.0" x2="155.9" y2="644.5" stroke="#555" stroke-width="0.9"/>
<text x="155.9" y="652.6" font-size="4.1" font-weight="bold" text-anchor="middle" fill="#222">9</text>
<line x1="167.8" y1="641.0" x2="167.8" y2="644.5" stroke="#555" stroke-width="0.9"/>
<text x="167.8" y="655.8" font-size="4.1" font-weight="bold" text-anchor="middle" fill="#222">10</text>
<line x1="179.5" y1="641.0" x2="179.5" y2="644.5" stroke="#555" stroke-width="0.9"/>
<text x="179.5" y="652.6" font-size="4.1" font-weight="bold" text-anchor="middle" fill="#222">11</text>
<line x1="191.5" y1="641.0" x2="191.5" y2="644.5" stroke="#555" stroke-width="0.9"/>
<text x="191.5" y="655.8" font-size="4.1" font-weight="bold" text-anchor="middle" fill="#222">12</text>
<line x1="202.7" y1="641.0" x2="202.7" y2="644.5" stroke="#555" stroke-width="0.9"/>
<text x="202.7" y="652.6" font-size="4.1" font-weight="bold" text-anchor="middle" fill="#222">13</text>
<line x1="212.0" y1="641.0" x2="212.0" y2="644.5" stroke="#555" stroke-width="0.9"/>
<text x="212.0" y="655.8" font-size="4.1" font-weight="bold" text-anchor="middle" fill="#222">14</text>
<line x1="221.6" y1="641.0" x2="221.6" y2="644.5" stroke="#555" stroke-width="0.9"/>
<text x="221.6" y="652.6" font-size="4.1" font-weight="bold" text-anchor="middle" fill="#222">15</text>
<line x1="231.0" y1="641.0" x2="231.0" y2="644.5" stroke="#555" stroke-width="0.9"/>
<text x="231.0" y="655.8" font-size="4.1" font-weight="bold" text-anchor="middle" fill="#222">16</text>
<line x1="240.5" y1="641.0" x2="240.5" y2="644.5" stroke="#555" stroke-width="0.9"/>
<text x="240.5" y="652.6" font-size="4.1" font-weight="bold" text-anchor="middle" fill="#222">17</text>
<line x1="249.0" y1="641.0" x2="249.0" y2="644.5" stroke="#555" stroke-width="0.9"/>
<text x="249.0" y="655.8" font-size="4.1" font-weight="bold" text-anchor="middle" fill="#222">18</text>
<line x1="256.8" y1="641.0" x2="256.8" y2="644.5" stroke="#555" stroke-width="0.9"/>
<text x="256.8" y="652.6" font-size="4.1" font-weight="bold" text-anchor="middle" fill="#222">19</text>
<line x1="263.8" y1="641.0" x2="263.8" y2="644.5" stroke="#555" stroke-width="0.9"/>
<text x="263.8" y="655.8" font-size="4.1" font-weight="bold" text-anchor="middle" fill="#222">20</text>
<line x1="272.4" y1="641.0" x2="272.4" y2="644.5" stroke="#555" stroke-width="0.9"/>
<text x="272.4" y="652.6" font-size="4.1" font-weight="bold" text-anchor="middle" fill="#222">21</text>
<line x1="280.3" y1="641.0" x2="280.3" y2="644.5" stroke="#555" stroke-width="0.9"/>
<text x="280.3" y="655.8" font-size="4.1" font-weight="bold" text-anchor="middle" fill="#222">22</text>
<line x1="287.0" y1="641.0" x2="287.0" y2="644.5" stroke="#555" stroke-width="0.9"/>
<text x="287.0" y="652.6" font-size="4.1" font-weight="bold" text-anchor="middle" fill="#222">23</text>
<line x1="293.6" y1="641.0" x2="293.6" y2="644.5" stroke="#555" stroke-width="0.9"/>
<line x1="299.9" y1="641.0" x2="299.9" y2="644.5" stroke="#555" stroke-width="0.9"/>
<text x="299.9" y="652.6" font-size="4.1" font-weight="bold" text-anchor="middle" fill="#222">25</text>
<line x1="305.3" y1="641.0" x2="305.3" y2="644.5" stroke="#555" stroke-width="0.9"/>
<line x1="310.8" y1="641.0" x2="310.8" y2="644.5" stroke="#555" stroke-width="0.9"/>
<text x="310.8" y="652.6" font-size="4.1" font-weight="bold" text-anchor="middle" fill="#222">27</text>
<line x1="316.2" y1="641.0" x2="316.2" y2="644.5" stroke="#555" stroke-width="0.9"/>
<line x1="321.8" y1="641.0" x2="321.8" y2="644.5" stroke="#555" stroke-width="0.9"/>
<text x="321.8" y="652.6" font-size="4.1" font-weight="bold" text-anchor="middle" fill="#222">29</text>
<line x1="327.6" y1="641.0" x2="327.6" y2="644.5" stroke="#555" stroke-width="0.9"/>
<polygon points="40.5,634.2 40.5,601.4 42,602.3 43.5,599.7 45,602.7 46.5,600.3 48,601.2 49.5,602.7 51.1,600.5 52.6,602.8 54.1,600.8 55.6,602.7 57.1,602.6 58.6,600.9 58.6,634.2" fill="#0000fa"/>
<polygon points="88,634.2 88,596.8 89.5,598.4 91.1,595.8 92.6,592.5 94.1,591.1 95.7,585.7 97.2,584.9 98.7,585.8 100.3,584.3 101.8,584.1 101.8,634.2" fill="#0000fa"/>
<polygon points="129.4,634.2 129.4,589.6 131,591.6 132.6,591.3 134.2,588.8 135.9,588.8 137.5,590.4 139.1,593 140.7,591.2 142.3,590.3 142.3,634.2" fill="#0000fa"/>
<polygon points="167.5,634.2 167.5,598.8 169.2,597.2 170.9,596.8 172.6,596.2 174.2,598.9 175.9,598.3 177.6,598.1 179.3,599.4 179.3,634.2" fill="#0000fa"/>
<polygon points="202.4,634.2 202.4,600.9 204,601.1 205.5,602.8 207.1,603.1 208.7,601.1 210.2,601.8 211.8,602.4 211.8,634.2" fill="#0000fa"/>
<polygon points="230.8,634.2 230.8,581.7 232.4,581.6 234,581.8 235.6,581 237.2,581 238.8,581.9 240.4,580.9 240.4,634.2" fill="#0000fa"/>
<polygon points="256.3,634.2 256.3,577.9 258.1,580.8 260,579.5 261.9,580.7 263.7,577.9 263.7,634.2" fill="#0000fa"/>
<polygon points="279.9,634.2 279.9,596.6 281.7,594.4 283.4,594.4 285.2,596.6 287,595.9 287,634.2" fill="#0000fa"/>
<polygon points="300,634.2 300,603.6 301.7,603.3 303.5,601.1 305.2,603.3 305.2,634.2" fill="#0000fa"/>
<polygon points="315.9,634.2 315.9,595 317.8,595.1 319.6,596.3 321.5,592.6 321.5,634.2" fill="#0000fa"/>
<polygon points="58.6,634.2 58.6,597.8 60.1,599 61.7,598.4 63.2,600.2 64.7,599.5 66.2,598.3 67.8,596.2 69.3,600.4 70.8,598.4 72.4,596.8 73.9,596 73.9,634.2" fill="#7e7e7e"/>
<polygon points="101.8,634.2 101.8,561.7 103.3,563.2 104.9,561.1 106.4,564.1 107.9,567.7 109.5,575.8 111,578 112.5,580.8 114.1,587.5 115.6,588.4 115.6,634.2" fill="#7e7e7e"/>
<polygon points="142.3,634.2 142.3,597.9 144,596.7 145.6,600.9 147.3,599.9 148.9,600 150.6,596.7 152.3,600.4 153.9,596.2 155.6,599.6 155.6,634.2" fill="#7e7e7e"/>
<polygon points="179.3,634.2 179.3,594.6 181,596.9 182.6,593.8 184.3,595.5 185.9,598.6 187.6,598.2 189.2,598.4 190.9,595.9 190.9,634.2" fill="#7e7e7e"/>
<polygon points="211.8,634.2 211.8,596.3 213.4,596.9 214.9,599.5 216.4,596 218,600.1 219.6,600.2 221.1,599 221.1,634.2" fill="#7e7e7e"/>
<polygon points="240.4,634.2 240.4,599.2 242,596.9 243.6,598.6 245.3,597.6 246.9,598.8 248.5,596.2 248.5,634.2" fill="#7e7e7e"/>
<polygon points="263.7,634.2 263.7,595.8 265.4,597.6 267.1,596.9 268.7,598.2 270.4,595.7 272.1,596.4 272.1,634.2" fill="#7e7e7e"/>
<polygon points="287,634.2 287,595.2 288.6,597 290.1,595 291.7,597.4 293.3,597.6 293.3,634.2" fill="#7e7e7e"/>
<polygon points="305.2,634.2 305.2,599.6 307,598.3 308.7,598.3 310.5,597.7 310.5,634.2" fill="#7e7e7e"/>
<polygon points="321.5,634.2 321.5,598.1 323.1,598.2 324.6,597.4 326.2,599.9 327.8,601.1 327.8,634.2" fill="#7e7e7e"/>
<polygon points="73.9,634.2 73.9,601 75.5,600.7 77,602.2 78.6,603.8 80.2,600.8 81.7,601.1 83.3,601.7 84.9,600.5 86.4,603.4 88,604.7 88,634.2" fill="#ff8200"/>
<polygon points="115.6,634.2 115.6,598.5 117.1,599.9 118.7,597.9 120.2,596.5 121.7,596 123.3,596.9 124.8,597.2 126.3,593.5 127.9,586.1 129.4,580.5 129.4,634.2" fill="#ff8200"/>
<polygon points="155.6,634.2 155.6,597.9 157.3,596 159,598.5 160.7,599.3 162.4,599.6 164.1,597.6 165.8,595.4 167.5,598.8 167.5,634.2" fill="#ff8200"/>
<polygon points="190.9,634.2 190.9,602.6 192.5,602.1 194.2,600.8 195.8,600.3 197.5,602.1 199.1,604.9 200.8,600.7 202.4,604.3 202.4,634.2" fill="#ff8200"/>
<polygon points="221.1,634.2 221.1,593.7 222.7,594.4 224.3,596.6 225.9,595.4 227.6,595 229.2,593.4 230.8,595.8 230.8,634.2" fill="#ff8200"/>
<polygon points="248.5,634.2 248.5,595.7 250.1,596.4 251.6,598.4 253.2,599.3 254.7,598.9 256.3,598.5 256.3,634.2" fill="#ff8200"/>
<polygon points="272.1,634.2 272.1,595.9 273.7,592.4 275.2,594.5 276.8,592.7 278.3,594.7 279.9,595.4 279.9,634.2" fill="#ff8200"/>
<polygon points="293.3,634.2 293.3,577.8 295,580.7 296.6,576.9 298.3,578.3 300,579.5 300,634.2" fill="#ff8200"/>
<polygon points="310.5,634.2 310.5,601 312.3,598.9 314.1,601.1 315.9,601.2 315.9,634.2" fill="#ff8200"/>
<path d="M41.1 564.8h0m0.4 3.9h0m-0.2 4.4h0m0 11h0m-0.1 4.3h0m0.3 1h0m-0.1 4.4h0m-0.1 3.1h0m-0.1 1.9h0m0.3 0.9h0m-0.2 0.3h0m-0.1 2.2h0m0.1 0.3h0m-0.1 30.7h0m0.3-70.5h0m0 0.9h0m0.3 13.1h0m-0.2 1.6h0m-0.1 3.8h0m0.4 2.2h0m-0.2 2.5h0m0.5 2.5h0m-0.6 0.1h0m-0.1 1.1h0m0.1 0.2h0m0.5 2.6h0m-0.5 0.2h0m0.5 0.5h0m-0.6 1.2h0m0.5 0.3h0m0.3 0.2h0m0.1 0.7h0m0 0.5h0m-0.2 0.1h0m0 0.1h0m-0.5 0.1h0m-0.2 0.8h0m0.9 3.6h0m-0.7 0.3h0m0.7 0.2h0m-0.5 0.3h0m0 0.3h0m0.1 0.2h0m0.3 0h0m-0.7 0.1h0m0.5 0.1h0m0.3 0.2h0m-0.8 0.1h0m0.7 0.2h0m0.2 29h0m0.5-51h0m0.4 0.4h0m-0.7 2.9h0m0.3 1.7h0m-0.3 2.5h0m0.5 0.1h0m-0.6 2.8h0m0.7 2h0m-0.3 0.4h0m-0.2 2.1h0m0.1 0.4h0m0.3 0.8h0m0.2 0.8h0m-0.5 0h0m-0.2 0.5h0m0.5 0.2h0m0 0.3h0m-0.2 1.2h0m-0.4 0.8h0m0.3 1.2h0m0.1 0h0m-0.4 0.1h0m0 0.1h0m0.8 0.3h0m0.4-15.9h0m-0.2 2.2h0m0 0.2h0m0.8 1.7h0m-0.4 3h0m-0.3 0.4h0m0.8 0.8h0m-0.8 1.1h0m0.8 1.1h0m-0.6 0.4h0m-0.4 0h0m0.4 1.2h0m-0.1 0.1h0m0.3 0.4h0m0.3 0h0m-0.6 0.5h0m-0.3 0h0m0.1 0h0m0.2 1.6h0m0.2 0.3h0m0.2 0.2h0m-0.6 0.2h0m0.1 0.5h0m0.1 29.7h0m1.6-50.5h0m-0.4 3.6h0m0.3 6.4h0m0.2 2h0m-0.6 0.9h0m0 0.8h0m0.2 0.2h0m0.1 0.5h0m0.2 0.1h0m-0.1 0.2h0m0.1 0.3h0m0 0.9h0m-0.1 0.6h0m-0.7 1.3h0m0.4 0.1h0m-0.3 0.6h0m0.5 0h0m-0.3 0.4h0m-0.3 0.4h0m0.5 1.4h0m-0.4 0.1h0m0 0.2h0m0.2 0h0m0.4 0.1h0m-0.2 29.2h0m0.5-57h0m0.2 12.5h0m0.2 0.1h0m-0.3 3.9h0m0.6 1h0m-0.6 0h0m0 0.1h0m0.3 0.5h0m0.3 2.4h0m-0.4 0.2h0m-0.2 0.2h0m0 0h0m0.7 1h0m0 0.8h0m-0.8 0.2h0m0.4 0.2h0m-0.5 0.4h0m0.6 0.5h0m-0.6 2.1h0m0.9 0h0m-0.2 0.3h0m0 0.4h0m0.3 0.3h0m-0.5 0.5h0m-0.4 0.2h0m0.4 0.1h0m0.4 29.3h0m1-64.6h0m-0.4 6.8h0m0 6.9h0m0 1.3h0m0.5 2h0m-0.4 0.3h0m-0.3 5.4h0m-0.2 0.2h0m0.3 0.3h0m0.1 0.3h0m-0.2 0.9h0m0.5 0.3h0m-0.3 0.2h0m-0.3 2.8h0m0.1 0.6h0m0.1 0.3h0m0.6 1.2h0m-0.1 0.8h0m-0.2 0.4h0m-0.1 0.4h0m-0.5 0.6h0m0.8 0.3h0m-0.3 0h0m-0.3 1.9h0m0.1 0.2h0m0.5 0.7h0m0.4-31.3h0m-0.2 9.2h0m0.2 1.2h0m0 0.7h0m-0.3 2.1h0m0.1 1.8h0m0.1 2h0m0 0.1h0m0.2 2.9h0m0.5 4.6h0m-0.1 1.1h0m-0.6 0.2h0m0.3 0.3h0m0.1 0.1h0m0.1 0.2h0m-0.3 0.9h0m0 0.5h0m-0.1 0.2h0m0.3 0.2h0m0.3 2.6h0m-0.1 0.2h0m-0.1 0h0m-0.3 0.2h0m-0.1 0.1h0m-0.1 29.1h0m1.7-58h0m-0.2 5.6h0m-0.2 1.7h0m0.3 2.9h0m0.1 2.4h0m-0.3 3.7h0m0.1 1.1h0m-0.4 0.2h0m0.3 0.2h0m-0.1 0.4h0m-0.3 0.8h0m0.2 1h0m-0.3 0.4h0m0.1 2h0m0 0.6h0m0.1 0.6h0m0.3 0h0m0.3 0.6h0m-0.4 1.2h0m0.1 0.2h0m-0.3 0.3h0m-0.1 0.1h0m0.6 0.4h0m-0.1 0.7h0m0.3 1h0m-0.7 0.1h0m0.4 0.6h0m-0.2 29.5h0m1.4-60.8h0m0 7.5h0m0.1 1.1h0m-0.6 2.7h0m0.4 0.7h0m0 1.2h0m0 0.2h0m0.1 1.7h0m-0.6 1.2h0m0.2 5.5h0m-0.4 1h0m0.1 0.3h0m0.8 0.2h0m-1 0.6h0m0.4 0.2h0m-0.2 0h0m0.3 0.2h0m-0.2 1.8h0m0.7 1.3h0m-0.7 0.3h0m-0.2 0.6h0m0 0.1h0m0 0.8h0m0.2 0.5h0m0.3 0.6h0m0.4 0h0m-0.9 0.3h0m0.8 0.6h0m-0.4 0h0m0 0.2h0m0.3 29.6h0m1.1-57.3h0m-0.1 0.6h0m-0.6 4.9h0m0.7 8h0m-0.2 0.2h0m0.1 1.9h0m0.2 2.6h0m-0.1 2.2h0m-0.4 2.7h0m-0.5 0h0m0.5 0.7h0m0.4 0.6h0m-0.6 0.2h0m0.2 0h0m0.1 0.5h0m-0.6 0.4h0m0.4 0.1h0m-0.2 0.4h0m-0.1 0.5h0m0.2 0.7h0m-0.1 0.1h0m0.3 0h0m-0.1 0h0m-0.4 0.3h0m0.2 0h0m1.5-25.8h0m-0.6 0.6h0m0.7 1h0m0.2 1.2h0m-0.1 2.4h0m0 1.6h0m0 0.8h0m-0.8 2.5h0m0.7 1.7h0m-0.5 0.1h0m0.4 0.3h0m-0.7 0.8h0m0.4 0h0m0.6 1.6h0m-0.3 1.6h0m0.2 1.9h0m0.1 1.7h0m-0.3 0.1h0m-0.6 2.8h0m-0.1 1.4h0m0.2 0h0m0.7 0.1h0m0 0.5h0m-0.3 0.2h0m-0.3 0h0m-0.2 0.6h0m0.1 0.1h0m-0.1 30h0m1.7-49.6h0m-0.8 0.9h0m0.7 3.9h0m0.1 5.2h0m0 1h0m0.1 1h0m-0.5 0.9h0m-0.2 2.8h0m0.7 0.3h0m-0.7 0.7h0m0.7 0.3h0m-0.1 0.1h0m-0.3 0.7h0m0.3 0h0m-0.4 0h0m0.4 0h0m-0.7 0.4h0m0.9 0.8h0m-0.6 0.4h0m0.3 0h0m-0.6 0.4h0m0.1 0.2h0m0.2 29.3h0m1.3-52.6h0m-0.3 1.1h0m0 1.8h0m-0.4 4.6h0m0.7 4.5h0m-0.2 0.9h0m-0.2 0.9h0m-0.2 1.7h0m0.7 0.4h0m-0.8 0.4h0m0.4 0.8h0m-0.3 0.2h0m0.1 1.6h0m0.3 0.5h0m-0.3 0.2h0m0.4 0.3h0m-0.1 1h0m-0.2 0.2h0m-0.1 0.1h0m0.5 1.5h0m0.1 0.1h0m0.1 0.4h0m-0.8 0h0m0.6 29.3h0m1.1-54.3h0m0.2 12.9h0m-0.3 1.5h0m-0.2 0.1h0m0.2 0.5h0m-0.2 0.9h0m-0.2 0.6h0m0.2 0.7h0m-0.1 1.1h0m-0.4 2.1h0m0.4 0.5h0m0.3 0.5h0m-0.3 0.3h0m0 1.9h0m-0.4 0.1h0m0.9 0.4h0m-0.8 0.1h0m0.3 0.8h0m0.6 0h0m-0.7 0.1h0m0.6 0h0m1.1-23.9h0m-0.7 4.5h0m0.6 0.5h0m-0.8 5.5h0m0.2 0.6h0m0.6 0.6h0m-0.3 4h0m-0.5 0.5h0m0.9 0.1h0m-0.9 1.2h0m0.7 0.2h0m0.1 2.1h0m-0.2 0.4h0m-0.1 1.4h0m-0.4 0.3h0m-0.1 0.2h0m0.4 0.1h0m-0.2 0.2h0m0.6 0.3h0m-0.1 0.2h0m-0.3 0h0m0 0h0m0 0.8h0m-0.1 0.1h0m0.4 0.1h0m-0.8 29h0m1-61.8h0m0.1 2.2h0m0.1 7.2h0m-0.1 3.9h0m0.7 3.8h0m-0.6 0.2h0m-0.2 1h0m0.2 0.8h0m0.1 2.3h0m-0.1 0.1h0m0.7 0.8h0m-0.7 0.1h0m0.4 0.2h0m-0.6 1.9h0m0.9 0.7h0m-0.5 0.8h0m0.2 1.7h0m0.3 0.4h0m-0.2 0.7h0m-0.2 0.3h0m0.4 0.7h0m-0.5 0h0m0.1 0.3h0m-0.4 0.5h0m0.8 0.1h0m-0.7 0.4h0m0 0.8h0m0.4 0.1h0m-0.3 0.8h0m0 29.5h0m0.8-43.4h0m0 4.3h0m-0.1 2.8h0m0.4 4.2h0m-0.3 0.5h0m0.2 1.2h0m-0.1 0h0m-0.2 0.6h0m31.6-15.4h0m-0.1 2.2h0m0.2 2h0m-0.2 0h0m0.1 0.4h0m0.3 1.1h0m-0.5 2.3h0m0.3 1h0m-0.2 0.5h0m-0.2 0.3h0m0.4 0.5h0m-0.1 0h0m0.3 0.3h0m-0.2 0h0m0.2 0.4h0m-0.3 1.1h0m-0.4 0.6h0m0.2 0.4h0m-0.1 0h0m0 0.4h0m-0.1 31.3h0m1.7-57.7h0m0 6.8h0m-0.6 0.6h0m0.6 3.4h0m-0.4 1.9h0m-0.1 3.4h0m0.5 0.5h0m-0.3 3h0m-0.6 0.1h0m0.3 0.2h0m-0.1 1.2h0m-0.1 0.5h0m0.3 0.7h0m0 0.1h0m0.5 0.9h0m0.1 0.4h0m-0.8 0.1h0m0.7 0h0m0.1 0.6h0m-0.7 0.2h0m-0.1 0h0m0.4 0.7h0m-0.1 32.6h0m1.5-62.5h0m-0.1 11.1h0m-0.1 3.6h0m-0.5 1.3h0m0.7 6h0m-0.3 1.1h0m-0.5 0.1h0m0.6 0h0m0.1 1h0m-0.7 1.1h0m0.4 0.7h0m-0.5 0h0m0.6 0.5h0m-0.3 0h0m0.1 0.7h0m0.1 0.3h0m0 0h0m-0.6 0.1h0m0.7 0h0m-0.3 0.1h0m0.1 0.5h0m-0.3 0.4h0m0.2 0.1h0m0.1 0.2h0m-0.2 0.2h0m0.5 33.4h0m0.7-77.7h0m0.3 8.5h0m-0.3 1.8h0m0.4 17h0m0 4.7h0m-0.4 1.4h0m0.4 0.7h0m0 0.6h0m-0.2 0.4h0m-0.3 0.2h0m0.2 1.2h0m-0.3 0.1h0m0.3 0.3h0m-0.3 0h0m0.6 0.9h0m-0.1 0.3h0m-0.7 0.4h0m0.3 1.2h0m-0.1 0.4h0m0.4 0h0m-0.5 0.3h0m0.7 0h0m0 1h0m-0.4 0.3h0m-0.1 0.2h0m0.1 0.2h0m0.2 0.1h0m-0.7 0.3h0m0.2 1.2h0m1.4-27.1h0m0.4 4.4h0m-0.2 0.1h0m-0.4 0.7h0m0 6.4h0m0.5 3.7h0m-0.2 0.9h0m-0.2 1.6h0m-0.2 0.7h0m0.5 0.2h0m-0.6 0.6h0m0.4 0.6h0m-0.2 0.5h0m-0.2 0.9h0m0.5 0.8h0m-0.4 0.5h0m0.2 0.4h0m0.3 1.3h0m-0.5 0.4h0m-0.3 0.2h0m0.5 0.1h0m-0.5 0.2h0m0.4 0.5h0m0.3 0.2h0m-0.6 35.4h0m1.1-58.2h0m0.1 5.9h0m0.4 1.5h0m-0.5 0.4h0m-0.1 2.9h0m0 0.7h0m0.5 1.8h0m0.3 0.3h0m-0.7 0.9h0m0.3 0.3h0m-0.4 0.2h0m-0.1 0.6h0m0.4 0.3h0m0.3 1.4h0m0 0h0m0.2 0.6h0m-0.5 0.3h0m0.2 0.2h0m-0.5 0.4h0m0.6 0.4h0m0.2 0h0m-0.2 0.6h0m-0.5 0.5h0m0.3 0.3h0m-0.4 1.3h0m0.3 36.4h0m1-60.3h0m-0.1 3.5h0m0.7 2.1h0m-0.6 2h0m-0.2 0h0m0.2 2.3h0m-0.1 0.5h0m0.1 2h0m-0.3 0.2h0m0.1 0.2h0m0.6 2h0m0.1 0.5h0m-0.6 0.3h0m-0.3 0.1h0m0.6 0.2h0m-0.2 0.3h0m0.1 0.3h0m0.4 0.1h0m-0.6 0.3h0m0.1 0.1h0m-0.2 1.1h0m0 1.4h0m0.5 40.3h0m1.3-102.8h0m-0.1 2.6h0m0.1 4.1h0m0 2h0m0 1.9h0m0 1.6h0m-0.2 0.1h0m-0.1 3.8h0m-0.1 9.7h0m0.4 3.7h0m-0.3 9.9h0m0.1 4.5h0m-0.3 0.3h0m-0.1 0.8h0m0.2 1.2h0m-0.2 0.7h0m-0.1 0.4h0m-0.1 0.3h0m0.7 0.3h0m-0.6 1.3h0m0.7 0.2h0m-0.4 0h0m0 0.2h0m0.3 0.5h0m-0.1 0.7h0m0.2 0.6h0m-0.9 0.4h0m0.7 0.6h0m-0.4 0.1h0m-0.3 0.6h0m0.1 0.2h0m0.2 0.1h0m0 0.1h0m-0.2 0.8h0m-0.2 0.2h0m0.5 0.1h0m-0.2 0.8h0m0.6 0.5h0m0.1 0.1h0m-0.3 0.2h0m0.2 0.1h0m-0.7 1.3h0m0.1 0.7h0m-0.1 0.2h0m0 0.3h0m-0.2 0.4h0m0.8 6.2h0m0.2 37.7h0m0.5-102.7h0m-0.1 4.4h0m-0.4 15.4h0m1 0.9h0m-1 2h0m0.9 0.7h0m-0.1 6.3h0m-0.5 1.6h0m-0.3 3.5h0m0.7 1h0m-0.6 2.9h0m0 3.8h0m0.1 0.6h0m0.8 1.7h0m-0.9 0.9h0m0.4 3.6h0m-0.3 1.1h0m0.4 0.1h0m-0.5 0.9h0m0.3 0.1h0m0.3 0.2h0m-0.5 0.2h0m0.7 0.6h0m-0.5 0.7h0m0.3 0.8h0m-0.2 0h0m-0.1 0h0m-0.2 0.2h0m0.1 1.1h0m-0.2 0.4h0m0.8 0.4h0m-0.8 0.1h0m0.1 3.8h0m0.1 2.3h0m0.7-63.7h0m0.5 13.7h0m0.2 1h0m-0.1 1.7h0m0.3 1.6h0m-0.1 1.5h0m-0.7 2.7h0m0.4 1.3h0m0.1 3.8h0m0 4.4h0m0.3 3.6h0m0 2.7h0m-0.7 2.8h0m0.4 1.8h0m-0.3 1.5h0m0.1 0.6h0m0.1 0.7h0m-0.4 1h0m0.3 1.5h0m0.2 1h0m0.2 0.6h0m-0.4 2.8h0m-0.2 0h0m0.2 0.2h0m0.4 1.2h0m0 0.3h0m0 1.7h0m-0.3 0.1h0m0.2 0.2h0m0 0.4h0m0 0h0m-0.6 0.2h0m0.6 0.1h0m0.2 0.3h0m-0.1 0.1h0m0 0.2h0m-0.7 0.6h0m0.5 1.1h0m-0.5 2.9h0m0.7 2.6h0m-0.1 1.9h0m-0.4 37.7h0m1.3-60.9h0m0.3 0.5h0m0.1 0.6h0m-0.8 2.6h0m0.3 0h0m-0.1 0.4h0m0.2 0.3h0m0.4 1.3h0m-0.9 0.5h0m0.4 1.3h0m0.4 0.3h0m-0.5 0.5h0m0.1 1.7h0m-0.2 1.7h0m0.6 0h0m0 0.9h0m-0.6 0.2h0m0.5 0.8h0m0.1 0.5h0m-0.5 0.2h0m-0.2 0.2h0m0.4 46.4h0m1.4-75.7h0m-0.4 5.3h0m0.1 5.5h0m-0.5 0.5h0m0.6 3.2h0m-0.2 1.8h0m0 0.5h0m-0.2 1.4h0m0.5 1.1h0m-0.1 0h0m-0.6 0.3h0m0.4 0.1h0m-0.4 0.6h0m0.4 0h0m0.1 0.2h0m0.1 1.6h0m0.1 0.3h0m-0.8 1.7h0m-0.1 1.5h0m0.9 0.4h0m0.1 0.3h0m-0.7 0.6h0m0.5 0.5h0m-0.1 0.2h0m0.3 0.3h0m-1 0.5h0m0.5 0.4h0m-0.5 0.5h0m0.6 0h0m0.3 0.2h0m-0.1 4.4h0m-0.1 4.1h0m0.2 37.5h0m0.3-74.4h0m0.2 7.7h0m0 5h0m-0.2 3.5h0m0.3 4.5h0m-0.1 2.5h0m-0.1 1.3h0m0.2 0.3h0m-0.4 1.1h0m0.2 2.4h0m-0.2 0.1h0m29.8-0.9h0m0 2.6h0m-0.2 0.3h0m0 4.1h0m0 0.2h0m0 0h0m-0.1 40.2h0m1-77.2h0m-0.1 4.3h0m0 9.4h0m0.1 2.9h0m-0.6 6.9h0m0.4 1h0m0.2 0.1h0m0.2 0.1h0m-0.2 2.4h0m-0.3 1.6h0m0.6 0.2h0m-0.3 0.9h0m-0.3 1.6h0m-0.1 0.4h0m0.4 1.6h0m0.1 1.2h0m-0.4 0.3h0m-0.3 0.6h0m0.4 1.2h0m-0.1 0.4h0m0.5 0h0m-0.6 0.4h0m0.4 0.3h0m0.1 0.2h0m0.2 39.2h0m0.8-60.4h0m-0.7 1.9h0m1 0.4h0m-0.3 0.7h0m-0.2 5.1h0m0.3 1.3h0m-0.1 1h0m0.2 0.7h0m0.1 0.5h0m-0.3 0.2h0m-0.5 0.7h0m0.3 1.1h0m-0.2 0.2h0m-0.3 0.4h0m0.9 0h0m0.1 0.5h0m-0.1 0.6h0m-0.6 0.9h0m0.2 0.6h0m-0.3 0.6h0m-0.1 0.1h0m0.6 0.1h0m-0.2 0.6h0m0.2 0.1h0m0.2 0.3h0m-0.2 0.2h0m-0.3 0.7h0m0.2 0.4h0m-0.3 0.1h0m0.3 0h0m-0.2 0.6h0m0 0h0m-0.4 0.3h0m0.2 0.2h0m0.6 0h0m1-16.5h0m-0.3 5.1h0m0.3 0.6h0m-0.4 2.8h0m0.1 0.8h0m-0.4 0.1h0m0.2 0.4h0m0.3 0.4h0m-0.5 1.1h0m0.6 0.3h0m-0.2 1.3h0m0.1 1.4h0m0 0.9h0m-0.4 0.1h0m0.5 0.6h0m-0.5 0.4h0m0.2 0h0m-0.2 39.2h0m1.1-79.2h0m-0.2 15.3h0m0.2 2.2h0m-0.2 1.1h0m0.3 3.3h0m-0.3 3.8h0m0.3 0.9h0m0 1.6h0m0.5 1h0m-0.4 2.7h0m-0.2 0.4h0m0.2 1.1h0m0.4 0.4h0m0 1.4h0m-0.1 0.1h0m0.1 0.3h0m-0.4 0.1h0m-0.3 1.3h0m0.4 0.3h0m0.1 0.8h0m-0.5 0h0m0.2 0.8h0m0.2 0h0m-0.3 0.2h0m0.2 0h0m0 0.1h0m-0.1 0.3h0m-0.2 0.3h0m0.6 0.1h0m0 0.1h0m0 0.1h0m-0.3 0.1h0m0.2 0.2h0m-0.2 38.5h0m1-50.6h0m0.5 0h0m-1 0.1h0m0.2 2.1h0m0.4 1.6h0m-0.4 1.3h0m0.4 0.9h0m-0.1 0.6h0m0 0.2h0m-0.3 0.1h0m0.4 0.3h0m0 0.2h0m0.3 0.1h0m-0.5 1.3h0m0.1 0.8h0m-0.4 0h0m0.2 0.3h0m0.1 0.2h0m-0.4 0.2h0m1 0.2h0m-0.4 0h0m0.1 0.5h0m-0.3 0.2h0m0 0.3h0m-0.1 0.5h0m0.4 0h0m0.1 39h0m0.9-59.8h0m-0.5 2.2h0m0.1 6.3h0m-0.2 0.4h0m0.4 3.2h0m-0.5 0.6h0m0.2 1.7h0m0.6 0h0m-0.7 1h0m0.7 0h0m0.1 0.9h0m0 0.7h0m-0.3 0.3h0m-0.5 0.1h0m0.9 1.5h0m-0.6 0h0m0.2 1.1h0m-0.2 0.4h0m0.5 0.2h0m-0.4 0h0m-0.3 0.1h0m-0.2 0h0m1.9-25.5h0m-0.7 0.1h0m0.6 9.5h0m-0.7 4.7h0m0.1 0h0m-0.2 1.6h0m0.4 0h0m0.5 0h0m0 1.1h0m-0.1 1.9h0m-0.3 0.5h0m0.2 0.2h0m0 0.1h0m0 0.2h0m-0.4 1.5h0m-0.1 0.3h0m0.2 2.1h0m-0.2 0.4h0m0.7 0.5h0m-0.5 0.1h0m0.2 0.4h0m-0.1 0.1h0m-0.3 0h0m0.3 0.3h0m0.4 0.2h0m-0.8 38.6h0m1.9-96.7h0m-0.4 3.3h0m0.2 7.1h0m0.1 1.8h0m-0.2 1.6h0m0.2 4.9h0m-0.3 2.4h0m0.2 7.3h0m-0.2 9h0m-0.2 3.4h0m0.4 0.3h0m-0.8 4.3h0m0.6 1.5h0m0.1 2.3h0m0.2 0.6h0m-0.6 0.3h0m0.7 1h0m-0.9 2h0m0.4 0.2h0m0.2 2.4h0m0.3 0.2h0m-0.6 0h0m0.4 0.4h0m0 0.3h0m0.1 0h0m0.1 0h0m-0.2 1.1h0m-0.1 0.2h0m-0.4 0h0m0.6 1.2h0m-0.5 38h0m1.1-97.1h0m-0.2 0.1h0m-0.3 6.6h0m0.3 2.1h0m0.3 4.1h0m-0.5 2.9h0m0.4 3.3h0m-0.2 5.4h0m-0.1 8.4h0m0.2 2.4h0m-0.3 4.1h0m0.5 1.2h0m-0.1 3.4h0m-0.4 0.5h0m0.2 0.8h0m-0.1 0.9h0m0.3 0.3h0m-0.1 1h0m-0.4 0.2h0m0.4 0.2h0m0.2 1.3h0m0.1 0.2h0m-0.6 0.4h0m0.7 0.5h0m0 0.2h0m0.1 0.6h0m-0.3 0.1h0m-0.5 0.6h0m0.6 1h0m-0.2 1.1h0m0.1 0.8h0m-0.6 0.1h0m0.8 1.3h0m-0.8 0.3h0m0.7 0.7h0m-0.5 0.2h0m0.1 0h0m0.3 0.1h0m-0.5 0.4h0m0.7 0h0m0 0.2h0m-0.1 38.8h0m0.8-82h0m-0.3 1.6h0m0.4 2.5h0m0.3 4.3h0m-0.1 2.7h0m-0.4 3.8h0m0.4 1.7h0m-0.3 2.1h0m-0.2 2h0m0.3 1.6h0m-0.4 2.4h0m0.2 2h0m-0.3 2.9h0m0.6 0.9h0m-0.5 1.7h0m0.1 0.8h0m0.4 0.2h0m-0.5 1h0m0.2 0.2h0m-0.3 0.4h0m0.4 0.2h0m0 0.9h0m-0.1 1.6h0m-0.4 0.4h0m0.5 0h0m0.1 1.2h0m0.3 0.3h0m-0.4 1h0m0.1 0.1h0m0.1 0.2h0m-0.3 1h0m0.5 0h0m-0.3 0.1h0m0.2 0h0m-0.4 0.3h0m0.6 0h0m-0.1 0h0m-0.5 0.1h0m-0.1 0.2h0m0.6 0.4h0m0.1 0.2h0m-0.2 0.2h0m-0.2 1.1h0m0.4 37.4h0m0.2-53.4h0m0.4 0.9h0m-0.4 1.4h0m0.1 0.2h0m0.5 1.5h0m0.2 1.3h0m-0.5 4h0m-0.3 1h0m0.3 0.5h0m-0.4 1.1h0m0 0.1h0m0.2 0.7h0m0.7 0.4h0m-0.4 0h0m-0.2 0.4h0m-0.1 0h0m0.1 0.7h0m0.5 0.3h0m-0.3 0.1h0m-0.5 0.1h0m0.7 0.2h0m0.3-2.9h0m26.6 7.6h0m0.2 1h0m-0.1 0.2h0m0.1 0.1h0m-0.2 32.5h0m1-57.3h0m-0.1 4.4h0m0.3 5h0m-0.4 1.8h0m0.2 0.3h0m-0.1 2h0m-0.1 2.7h0m0.4 0.1h0m0 0.2h0m-0.3 0.1h0m-0.2 0.6h0m0.5 0.1h0m0.1 0.4h0m-0.3 0.5h0m0 0.2h0m0.2 1.7h0m0 0.6h0m0.1 0.1h0m0 1.4h0m-0.3 0.3h0m0 0.3h0m0.2 0.2h0m-0.1 0.3h0m-0.2 0.1h0m0.2 0.1h0m0 0.5h0m-0.5 0.6h0m-0.2 0.2h0m-0.1 0h0m0.7 0h0m0 0.2h0m-0.5 0.1h0m1.7-20.8h0m-0.2 4.6h0m-0.5 2h0m0.6 1.1h0m0 1.8h0m0.1 0.5h0m-0.2 0.6h0m-0.3 3.4h0m-0.4 0.7h0m0.5 0.2h0m0.4 0.4h0m-0.4 0h0m-0.4 1.1h0m-0.1 0.1h0m0.8 0.1h0m-0.2 0.1h0m-0.4 0.9h0m0.6 0.2h0m-0.4 0.7h0m0.6 1h0m-0.5 0.2h0m0.3 0.1h0m-0.2 0.4h0m-0.5 0h0m0.1 0.1h0m-0.1 0.6h0m-0.1 32.7h0m1.5-49h0m0 3.8h0m-0.5 0.8h0m0.8 0h0m-0.2 0.8h0m-0.1 0.7h0m-0.1 2.3h0m0.1 0h0m0.2 1.4h0m-0.3 2.3h0m-0.2 0.2h0m0 0.6h0m0.1 0.6h0m0.1 1h0m0.2 0.3h0m-0.2 0.7h0m0 0.5h0m-0.2 0.2h0m0.1 32.2h0m1-49.3h0m-0.2 4.6h0m0 2.4h0m-0.1 0.3h0m0.7 2.5h0m-0.2 0.1h0m-0.4 0.2h0m0 1.2h0m0 0.1h0m0.1 1.1h0m0.6 0.4h0m-0.7 0.1h0m0.8 0.4h0m-0.6 0.2h0m0 0.8h0m-0.2 0.2h0m0.2 1h0m0.5 0.2h0m0 0.1h0m-0.5 0.1h0m0 0.2h0m0.1 0.4h0m0.2 0.4h0m0 32.4h0m0.9-90.2h0m0.2 0.6h0m-0.5 3.9h0m-0.1 2.7h0m0.5 3.1h0m0.1 4.3h0m-0.3 3.2h0m0.1 4h0m0 2.7h0m0.4 1.6h0m-0.2 4h0m-0.6 2.9h0m0.5 3h0m0 2.4h0m0 3.4h0m-0.2 0.9h0m-0.3 0.7h0m0.4 0.2h0m-0.3 0.8h0m0 0.4h0m0.6 0.3h0m-0.5 1.2h0m-0.2 1.4h0m0.4 0.1h0m0.3 0.4h0m-0.3 1.6h0m-0.1 0.5h0m-0.2 0.4h0m-0.1 0.2h0m0 0.4h0m0.2 0.7h0m0.2 0.3h0m0.2 0.4h0m-0.6 1h0m0.6 1.3h0m-0.3 0.3h0m-0.1 0.1h0m0.4 1.9h0m-0.1 0.1h0m0 0.2h0m-0.5 0.3h0m0.8 32.5h0m0.5-51.1h0m-0.2 4.6h0m0.1 1.7h0m0.4 3.5h0m-0.5 0.9h0m0.2 0.1h0m-0.3 0.9h0m0 0.3h0m0.7 0.1h0m-0.3 1.4h0m0.3 0.9h0m-0.3 0.5h0m0.3 0.2h0m-0.3 1h0m-0.3 1.3h0m0.8 0h0m-1 0.2h0m0.2 0.1h0m0.1 0.1h0m0.2 0.5h0m0.4 0.3h0m-0.9 0h0m1.5-58.4h0m0.2 26h0m-0.1 0.6h0m0 3.4h0m0 4.5h0m-0.2 7.4h0m0.2 8.2h0m0.4 1.1h0m-0.6 0.7h0m0.4 0.2h0m-0.7 1h0m0.7 0.5h0m0 0.4h0m-0.6 0.1h0m0.8 0.4h0m-0.1 0.4h0m-0.4 0.2h0m0.3 0.3h0m0.1 0.2h0m-0.5 0h0m0.2 0.1h0m-0.4 0.5h0m0.2 0.1h0m0.6 0.6h0m-0.9 1.1h0m0.1 32.7h0m1.3-81.8h0m-0.3 3.9h0m0.3 2.7h0m0.3 4.1h0m-0.7 2.7h0m0.8 2h0m-0.5 2.2h0m-0.1 3.4h0m0.6 2.6h0m0 1.8h0m-0.1 4.3h0m-0.7 3.7h0m0.2 0.1h0m0.2 0.1h0m-0.3 0.6h0m0.2 0.1h0m0.5 0.1h0m-0.6 0.5h0m0 1.1h0m-0.3 0h0m0.4 0.2h0m0.6 0.2h0m-0.6 1h0m-0.1 1.3h0m0.2 1.2h0m0.3 0.2h0m0 0h0m-0.5 0.1h0m0.5 0.3h0m-0.5 1.1h0m0.1 0h0m0.2 1.9h0m-0.4 0.3h0m0 0.2h0m0.3 0.1h0m-0.3 0.1h0m0.4 0.1h0m-0.4 0.6h0m-0.1 0.7h0m0.9 0.1h0m-0.2 0.5h0m-0.2 0.6h0m-0.1 0.2h0m-0.2 0h0m0.2 0.4h0m0.4 0.4h0m-0.6 1.2h0m0.2 33.2h0m0.8-52.9h0m0.6 3h0m-0.9 0.7h0m1 0.7h0m-0.4 4.9h0m0.1 0.5h0m-0.5 1.8h0m0.2 1.5h0m-0.2 0.6h0m-0.1 0.5h0m0.3 0.1h0m0.5 0.8h0m-0.8 1.4h0m0.9 0.4h0m-0.7 0.4h0m0.6 0.5h0m0 0.3h0m-0.8 0.1h0m0.5 0.1h0m0 0.1h0m-0.1 0.6h0m-0.5 0.5h0m0.9 0.5h0m-0.8 0.2h0m0.7 32.6h0m0.7-61.6h0m-0.4 0.4h0m0 3.5h0m0.5 3.1h0m-0.6 3.1h0m0.9 3h0m-0.4 5.1h0m-0.5 0.7h0m0.1 1h0m0.8 0.7h0m-0.5 1.4h0m-0.1 0.1h0m0.2 0.6h0m0.2 1h0m-0.3 0.5h0m-0.3 0.5h0m0.8 1.1h0m-0.5 0.8h0m0.5 0.2h0m-0.5 0.7h0m-0.2 0.4h0m0.4 0.3h0m0.1 0.3h0m-0.2 0.3h0m0 0.1h0m0.6-11.3h0m0 43.7h0m24.6-42.7h0m-0.1 9h0m0.1 2.6h0m0 0.3h0m0.2 2.7h0m-0.2 0.8h0m0.3 0.1h0m-0.1 0h0m-0.2 0.1h0m-0.1 27.5h0m0.9-70.5h0m0 6.6h0m0.1 9.3h0m-0.1 0.3h0m0 6.1h0m-0.2 8h0m0 2.2h0m0 0.1h0m-0.2 2.5h0m0.4 1h0m-0.4 0h0m0.4 0.4h0m0.2 0.6h0m0.3 0h0m-0.1 0.2h0m0.1 0.1h0m-0.4 0.1h0m0 0.4h0m-0.5 0.8h0m0.2 0.6h0m-0.2 0.1h0m0.4 0.4h0m-0.2 0.2h0m0.1 2h0m-0.2 0.2h0m0.2 0h0m0.5 0.1h0m-0.5 0h0m0.1 0h0m0.3 0h0m-0.5 0.2h0m0.6 27.9h0m0.7-61.5h0m0 4.7h0m-0.1 6.4h0m0 3.1h0m-0.3 3h0m0.3 0.9h0m0.1 1h0m-0.2 4.9h0m0.4 1.7h0m-0.7 0h0m0.4 0.1h0m-0.1 0h0m0 0.2h0m-0.2 0.8h0m0.7 3.6h0m-0.3 0.1h0m-0.1 0h0m-0.1 0.1h0m0.4 0.3h0m0.1 0.3h0m-0.1 0.1h0m-0.3 0.3h0m0.3 0.1h0m0 0.1h0m-0.7 1h0m0.5 0.5h0m0.1 0.1h0m-0.3 0.4h0m0.3 0.1h0m0 0.1h0m-0.1 0h0m-0.5 0.2h0m1.1-33.6h0m0 3h0m0.5 14.9h0m-0.3 3.9h0m-0.1 1.4h0m-0.3 0.9h0m0 2.1h0m0.7 3h0m-0.6 0.1h0m0.5 0.3h0m0.2 0.1h0m-0.2 0.2h0m0.2 0.2h0m-0.5 0.2h0m-0.2 0.3h0m0.8 0.4h0m-0.8 0.5h0m0.3 0.6h0m-0.2 0h0m-0.2 0.8h0m0.5 0.3h0m0 0.2h0m0.2 0.1h0m-0.5 27.6h0m1.7-55.5h0m0 2.7h0m-0.3 4.1h0m0.1 5.1h0m0.1 3h0m-0.5 0.2h0m-0.1 2.7h0m0.5 2.5h0m0 0.9h0m0.3 0.9h0m-0.7 1.5h0m0.1 0.7h0m0.4 0.2h0m-0.1 0.4h0m0.2 0.5h0m-0.1 0.6h0m-0.5 1.5h0m0.2 0.4h0m0 27.3h0m0.6-57.9h0m-0.1 1.3h0m0.2 11h0m0.6 6.1h0m-0.2 1.3h0m-0.4 0.6h0m-0.1 0.3h0m-0.1 1.8h0m0.7 1.1h0m-0.4 0.4h0m-0.1 0.1h0m0.8 0.5h0m-0.2 0.1h0m-0.3 0.4h0m0.4 2.2h0m-0.8 0.3h0m0.6 0.2h0m-0.5 1h0m0 0.2h0m0.2 0.6h0m-0.4 1h0m0.8 27.6h0m0.7-69.5h0m0.1 1.6h0m0.3 3.1h0m-0.2 3.9h0m-0.1 3.2h0m-0.3 2.2h0m0 2.1h0m0.1 0.4h0m0.2 0.4h0m-0.3 0.5h0m0.1 1.7h0m-0.3 0h0m0.5 2h0m0.1 2.4h0m-0.4 4.3h0m0.2 0.1h0m0.1 0.9h0m-0.6 2.2h0m0.1 0h0m0.1 0.6h0m-0.1 1.1h0m0.6 0.2h0m-0.7 0.9h0m0 0h0m0.3 1.2h0m0 1.3h0m0 0.2h0m-0.1 0.5h0m0 0.6h0m0.2 0.5h0m0 0.6h0m-0.3 0h0m0.6 0.4h0m0 0.2h0m-0.3 0.1h0m0.2 0.3h0m-0.1 0.4h0m0.3 0.1h0m-0.2 0h0m0 0.6h0m0 0.2h0m-0.4 0.1h0m0.1 0.3h0m0.7 0h0m-0.9 0.4h0m1.3-43.5h0m-0.3 19.9h0m0 4.4h0m0.5 2h0m0 1.5h0m0.1 2.6h0m-0.5 0.7h0m0 0.4h0m0.2 1h0m0.6 0.8h0m-0.3 0.1h0m-0.4 1.5h0m0.2 0.4h0m-0.3 1.3h0m0.1 0.2h0m0.4 0.6h0m0 0.4h0m0.1 0.9h0m0 1h0m-0.7 0.4h0m0.3 0.3h0m0.2 0.5h0m0.3 0.4h0m0 0.2h0m-0.9 0.5h0m0.7 0h0m-0.3 0h0m0.2 0.3h0m-0.3 0.4h0m-0.3 0.3h0m0.6 0.1h0m0.3 0.2h0m-0.4 0.5h0m-0.1 0h0m-0.4 0h0m0.1 27.4h0m1.3-35.4h0m-0.1 0h0m0.2 2h0m-0.3 3h0m0.1 0.2h0m0.2 0.4h0m-0.1 29.8h0m21.4-80.6h0m0 2.7h0m-0.4 7.8h0m0.3 2.5h0m0 3.5h0m-0.3 2h0m0.3 6.1h0m-0.2 0.4h0m-0.1 0.5h0m0.6 2.2h0m-0.5 0.2h0m0.1 0.1h0m-0.2 2.4h0m0.4 0.2h0m0.1 0.4h0m-0.6 0h0m0.7 0.1h0m-0.3 1.2h0m0.2 0h0m-0.5 0.2h0m-0.4 47.9h0m1.8-69.6h0m0 16h0m-0.4 0.1h0m0.6 0.7h0m-0.7 0.2h0m0.6 1.1h0m-0.4 0.4h0m0 0.2h0m-0.3 1h0m-0.1 0.1h0m0.5 0.2h0m-0.2 0.2h0m0 0.2h0m-0.3 0h0m0.8 0.5h0m-0.3 0.1h0m-0.4 0.1h0m0.1 0.5h0m-0.2 0.3h0m-0.1 0.2h0m0.3 47.3h0m1.4-66.6h0m-0.1 6.6h0m-0.5 3.7h0m-0.1 0.5h0m1 0.2h0m-0.6 0.1h0m-0.3 3.3h0m0.1 0.3h0m0.1 1.3h0m0.7 0h0m-0.1 0.1h0m-0.3 0.2h0m0.1 0h0m-0.5 0.1h0m0.6 0.2h0m0.1 0.6h0m-0.9 0.5h0m0.7 0h0m0 0.1h0m-0.5 0.2h0m0.4 0.2h0m-0.2 0.8h0m0.1 0h0m0 0.3h0m0.1 47.7h0m1-91.3h0m0.3 8.7h0m-0.4 5h0m-0.2 1.2h0m0.4 2h0m-0.5 0.9h0m0.6 0.9h0m-0.2 7.5h0m-0.4 0.1h0m0.5 2.6h0m-0.3 1.1h0m-0.1 2h0m0.6 0.2h0m-0.8 1.1h0m0.6 0.7h0m-0.7 0.8h0m0.8 1.1h0m0 1.7h0m-0.1 0.1h0m-0.5 0.8h0m0.6 0.3h0m-0.7 0.5h0m0.2 0.2h0m0.6 1h0m-0.6 0.2h0m0.4 0.1h0m-0.5 0.2h0m0.6 0.2h0m-0.3 0.1h0m-0.1 0.2h0m-0.2 0.1h0m-0.1 0.3h0m0 0.2h0m-0.1 0.3h0m0.8 0.3h0m-0.1 0.1h0m-0.5 0.1h0m0.2 0.2h0m0.4 0.2h0m-0.2 0h0m-0.3 0.6h0m0.6 3.3h0m0.1 3.3h0m-0.1 40.3h0m0.1-93.3h0m0 0h0m0.3 7h0m0.1 6.9h0m-0.2 3.7h0m0.6 4.2h0m-0.5 3h0m0 2.2h0m-0.3 2.1h0m0.6 0.8h0m0.2 0.5h0m-0.1 0h0m-0.3 0.5h0m-0.1 2.2h0m0.7 0.4h0m-0.7 1.2h0m-0.1 1.8h0m0.1 0.1h0m0.6 1.3h0m-0.8 0.1h0m0.6 1h0m0.2 0.2h0m0 2.6h0m-0.7 0.4h0m0.3 1.1h0m0.1 0.5h0m-0.1 0.2h0m0.2 0h0m-0.4 1.5h0m0.4 0.5h0m-0.6 0.1h0m0.3 9.8h0m1.1-54.7h0m-0.3 6.9h0m0.3 1.4h0m0.1 0.5h0m-0.5 4.4h0m0.4 3h0m0 0.6h0m-0.3 1.4h0m0 1.6h0m0.1 2.6h0m0 1.5h0m0.1 2.7h0m-0.2 4.2h0m0.1 0.2h0m0 0.8h0m0 0.4h0m-0.2 0.2h0m0.4 0.2h0m0.2 0h0m-0.1 0.1h0m-0.1 0.5h0m0.1 0.9h0m-0.3 0.2h0m0.5 0.6h0m-0.4 1.1h0m0.2 0.1h0m-0.2 0.7h0m0.2 0.3h0m0.4 0.3h0m-0.7 1.3h0m0.5 0.1h0m-0.3 0.1h0m-0.2 0.9h0m0.5 0.6h0m-0.7 0.1h0m0.8 0.3h0m0 0.3h0m-0.2 0.2h0m0.2 0.3h0m0 0.4h0m-0.2 0.3h0m0.2 0.1h0m-0.7 0.6h0m0.5 0.8h0m0.2 0.8h0m-0.2 0.1h0m0.1 0.1h0m-0.4 0.3h0m0.3 2.4h0m-0.5 3.2h0m0.2 4h0m-0.2 37.8h0m1.1-73.1h0m0.3 5.4h0m-0.3 4.8h0m0.1 2.6h0m0.5 1.3h0m-0.4 0.3h0m-0.3 3.2h0m0.4 1.3h0m-0.4 0h0m0.4 0.2h0m-0.3 0.2h0m0.1 1.5h0m-0.2 0.2h0m0.5 0.2h0m-0.1 0.2h0m0.1 0.2h0m-0.1 0.4h0m-0.2 0.1h0m-0.3 0.2h0m0.1 0.1h0m0.4 0.2h0m-0.5 0.1h0m0.4 0h0m0.4 0.7h0m-0.5 0.6h0m0.5 0.3h0m-0.1 1.2h0m-0.7 0.1h0m0.9 0.2h0m-0.5 46.9h0m1.2-78h0m0.1 6.8h0m0 2.5h0m0.1 1.1h0m-0.5 5h0m-0.2 0.8h0m0.7 0h0m-0.1 0.5h0m-0.6 0.5h0m0.2 1.9h0m0 0.4h0m0.4 0h0m0.2 0.2h0m-0.3 0.1h0m0.1 0.4h0m-0.2 0h0m-0.1 2h0m0.3 0.5h0m-0.1 0.1h0m-0.3 0.5h0m0 1.9h0m-0.2 0.1h0m-0.1 0.7h0m0.7 2.4h0m-0.6 0.1h0m0.1 0.6h0m0.3 0.2h0m-0.5 0.9h0m0.7 0.3h0m0.2 0h0m-0.1 0.4h0m-0.5 0.2h0m0.4 47.4h0m0.3-77.9h0m0.1 11.8h0m0 13.2h0m0 0.9h0m-0.1 4.2h0m17.4-14.6h0m0.1 2.5h0m0.4 1.5h0m-0.1 2.8h0m0 0.1h0m-0.4 2.1h0m0.4 0.6h0m-0.2 0.9h0m0.1 0.6h0m-0.1 0.4h0m-0.2 50.8h0m1.3-90.2h0m-0.1 0.6h0m-0.2 13.4h0m0.1 11h0m-0.6 1.8h0m0.8 0.4h0m-0.4 2.4h0m0 0.8h0m-0.3 2.3h0m0.8 0.4h0m-0.3 2.5h0m-0.4 0.3h0m0.2 0h0m0.4 0.9h0m-0.7 0h0m0.7 0.3h0m0 0.8h0m0.1 0.1h0m-0.6 0.2h0m0.7 0.2h0m0 0.2h0m-0.6 0.3h0m-0.4 0.1h0m0.6 0.1h0m-0.2 0.4h0m0.3 0.1h0m-0.4 0h0m0.5 50.7h0m1.1-77.9h0m0 2.7h0m0 8.7h0m-0.1 2.1h0m-0.4 2.4h0m-0.3 0.2h0m0 2h0m0.2 0.2h0m0.7 0.6h0m-0.2 0.5h0m0.1 0.4h0m-0.5 0h0m0.3 0.7h0m-0.4 0.2h0m-0.1 0.3h0m0.7 0.9h0m-0.4 0.3h0m0.4 0.3h0m-0.5 0.8h0m0.4 0h0m0 0.1h0m-0.6 0.5h0m0.8 0h0m-0.2 0.5h0m-0.6 0.2h0m-0.1 0.5h0m0.8 0.2h0m-0.1 0.2h0m-0.5 0.7h0m0.2 0.2h0m0.4 0.5h0m-0.6 0.2h0m0.6 0.1h0m-0.1 6.7h0m0.1 1.6h0m0 4.5h0m0.3-78h0m-0.2 20.4h0m0.2 0.6h0m0.2 0.1h0m-0.2 3.4h0m0.2 2.4h0m-0.3 2h0m0.2 0.5h0m-0.1 2.4h0m0.1 1.9h0m-0.1 3.7h0m0 0.9h0m0.1 4.2h0m0.7 0.3h0m-0.2 0.8h0m0 1.3h0m-0.1 0.1h0m-0.3 0.3h0m-0.2 1.1h0m0.3 2.2h0m0.1 2.4h0m-0.5 1.2h0m0.8 1.3h0m0.1 0.6h0m-0.7 0.9h0m0.1 1.4h0m0.6 1.8h0m-0.4 1.6h0m0.2 0.2h0m-0.7 0.3h0m0.1 0.2h0m0.3 0.7h0m0.1 0.1h0m0.3 0.1h0m-0.2 0.4h0m-0.6 0.6h0m0 0.2h0m0.2 0.3h0m0.4 0.4h0m-0.6 0.1h0m0.5 0.2h0m-0.1 0.3h0m0.4 0.8h0m-0.7 0h0m0.6 0.4h0m-0.1 0h0m-0.3 0.2h0m0.3 0h0m-0.6 0.2h0m0.5 2.3h0m-0.5 47.6h0m1.4-83.8h0m0 1.7h0m-0.2 4.1h0m0.1 2.5h0m-0.3 3h0m0.4 4.2h0m0.1 0h0m-0.2 0.6h0m0.3 2.8h0m-0.4 0.4h0m-0.2 2.1h0m0.2 0.9h0m-0.2 0.6h0m0.5 0.4h0m-0.3 0.5h0m0.6 0.3h0m-0.3 0.8h0m0.1 0.6h0m0.1 0.7h0m0 0.4h0m-0.7 0.4h0m0.3 0.4h0m0.6 0.6h0m-0.9 0.3h0m0.6 0.6h0m-0.6 0.1h0m0.5 0.3h0m-0.1 0.1h0m0.4 0.2h0m-0.1 0.2h0m0 0.3h0m0 0.1h0m0.1 1h0m-0.4 1.3h0m-0.3 0.2h0m0.4 0.1h0m-0.4 0.6h0m0.2 2.3h0m0.2 4h0m-0.1 1.7h0m0.1 1.8h0m0.1 3.2h0m-0.3 37.9h0m1.5-81.1h0m-0.3 2.4h0m0 1h0m0 5.2h0m0.3 4.2h0m-0.3 2.9h0m-0.3 1.6h0m0.6 0.6h0m-0.6 0.3h0m0.4 0.2h0m0.1 0.5h0m-0.4 0.3h0m0.4 1.2h0m-0.1 0.4h0m0.2 1.8h0m-0.1 0.2h0m-0.6 0.1h0m0.1 0.8h0m0.4 0.1h0m0 0.3h0m0.3 1.3h0m-0.6 0.3h0m0 2.9h0m-0.2 0.4h0m0.8 0.5h0m-0.8 0.1h0m0 0.1h0m0.8 0.1h0m0 0.2h0m-0.3 50.8h0m0.6-64.9h0m0.1 6.8h0m0 2.4h0m0 0.6h0m-0.1 0.9h0m-0.1 1.5h0m-0.2 0.8h0m0.3 0.4h0m-0.2 0.4h0m18.2-5.1h0m-0.1 3.8h0m0.3 1.6h0m-0.3 2.9h0m0 2.5h0m0 0.8h0m0.8 1.1h0m-0.1 0h0m-0.6 1.5h0m0.5 1.4h0m0 1.3h0m-0.1 1.2h0m0.1 0.1h0m-0.6 0.7h0m0.6 0.3h0m-0.2 1h0m0.2 0.2h0m-0.5 0.2h0m-0.2 35.6h0m1.3-53.6h0m0.6 1h0m-0.2 2.3h0m0 0.8h0m-0.8 0.9h0m0.9 1.8h0m0 0.2h0m-0.3 1.6h0m0.3 1.5h0m0.1 0.5h0m-0.1 0.2h0m-0.4 1.8h0m0.4 0.2h0m-0.7 0.4h0m0.5 1h0m-0.6 0h0m0.1 0.4h0m-0.1 0h0m0.8 0.3h0m-0.5 0h0m-0.1 0.3h0m-0.1 0.1h0m0.2 0.5h0m0.5 0.3h0m-0.3 0.2h0m-0.3 0.6h0m0.1 0.2h0m0.5 0.8h0m0 0.2h0m-0.5 35.7h0m1.1-73.6h0m-0.1 2.2h0m0.4 4.4h0m-0.4 0.2h0m0.4 1.3h0m-0.4 1.1h0m0.5 3.9h0m-0.1 3.3h0m-0.6 2.6h0m0.5 1.4h0m-0.6 0.4h0m0.3 0.4h0m0.1 0.1h0m0 1.7h0m0.4 0.5h0m-0.2 3.5h0m-0.2 0.2h0m0.2 0.3h0m0 2h0m0 1.3h0m-0.4 0.5h0m0.2 0.1h0m0.4 0.1h0m-0.4 0.7h0m0.2 0.8h0m0.2 1.1h0m0 0.6h0m-0.5 0h0m0.5 0.9h0m-0.8 0.1h0m0.2 0.1h0m-0.2 0.4h0m0.3 0.2h0m-0.1 0.1h0m0 0.3h0m0.3 0.1h0m-0.2 0.1h0m0.3 0.1h0m-0.4 0.6h0m0.4 35.8h0m1.2-69.1h0m-0.1 12.8h0m-0.3 3h0m0 4.2h0m-0.5 0.4h0m0.6 1.5h0m0.1 1.2h0m0.3 1h0m-0.1 0.5h0m-0.7 0.6h0m0.1 0.7h0m0 0.1h0m0.5 0.6h0m0.2 0h0m-0.3 0.1h0m-0.3 0.1h0m0.1 0h0m0.2 0.6h0m-0.6 0.7h0m0.5 0.1h0m-0.4 2h0m0.5 0.2h0m-0.3 0.4h0m-0.3 0.2h0m0.3 0.1h0m0 0.2h0m-0.3 0.3h0m0.4 0h0m0 0.2h0m-0.2 0.4h0m-0.1 0.2h0m0.4 0.5h0m-0.4 0h0m-0.2 0.1h0m0.5 0h0m0.4 0.4h0m0.1 35.6h0m0.1-59.1h0m0 2h0m0.7 3.7h0m0.2 7.5h0m-0.2 1h0m-0.5 1.4h0m0.6 0.9h0m-0.1 0h0m-0.7 0h0m0.9 0.5h0m-0.4 1.8h0m-0.5 1h0m0.3 0.2h0m-0.1 1.3h0m0.6 0.2h0m-0.4 0.1h0m-0.3 0.7h0m0.2 0.2h0m0.5 1.1h0m0.5-15.3h0m0.4 3.6h0m-0.4 3.1h0m0.1 0.9h0m0.1 0.1h0m-0.4 1.8h0m0 0h0m0.1 0h0m-0.1 0.2h0m0.1 0.4h0m0.2 1.2h0m0 0.3h0m-0.1 0.3h0m0.1 0.3h0m0.3 1.1h0m-0.6 0.1h0m-0.1 0.2h0m0.1 0.4h0m0.5 0.2h0m-0.5 0.7h0m0.5 0.1h0m-0.4 35.8h0m15.4-59.8h0m0 14h0m-0.3 1.6h0m0.3 0.7h0m-0.3 0h0m0.2 4h0m0 0.1h0m-0.2 3.8h0m-0.1 0.2h0m0.6 0.8h0m-0.4 0.4h0m0.3 1.1h0m0 0.8h0m0.2 0.5h0m-0.2 0.5h0m-0.3 1h0m0 0.6h0m0.1 0.5h0m0.3 0h0m-0.3 0.1h0m-0.4 0.2h0m0 0.3h0m0.3 0.7h0m0.1 0.5h0m-0.4 27.2h0m1.5-46.9h0m-0.4 1.4h0m0.4 1.4h0m0.3 0.7h0m-0.7 1.1h0m0 0.4h0m0.5 1.4h0m-0.4 3.6h0m0.5 0.1h0m-0.5 0.9h0m0.4 1.5h0m0 0.2h0m-0.1 0.1h0m0 0.3h0m-0.6 0.1h0m0.7 0.4h0m-0.1 0.3h0m-0.7 0.5h0m0.8 2.9h0m-0.6 0h0m0.5 0.3h0m-0.1 0h0m0.2 0.2h0m0.1 0.2h0m-0.3 0.4h0m-0.3 0.8h0m0.2 0.5h0m0.4 0.3h0m-0.4 27.2h0m1-73.5h0m0.3 2.9h0m-0.5 2.9h0m-0.2 2h0m0.4 4.2h0m0.2 0.2h0m-0.6 2.8h0m0.8 1.9h0m-0.1 2.5h0m-0.3 2.4h0m0.1 0.3h0m-0.1 1.9h0m-0.2 1.7h0m0.4 1.5h0m0.1 1.9h0m-0.7 0.6h0m-0.1 0.2h0m0 0.8h0m0.4 0.2h0m0.1 1.6h0m0.1 0.6h0m0.1 2.3h0m-0.5 0.4h0m0.6 0.3h0m-0.2 0.5h0m0 1.5h0m0.1 1.1h0m-0.5 0.5h0m0.6 1h0m0 0.1h0m0 0.6h0m-0.8 1.1h0m0.9 1.1h0m-0.6 0.1h0m0 0h0m0 0.1h0m0.5 0.4h0m-0.6 0.6h0m-0.1 0h0m0.5 0.2h0m-0.5 0.3h0m0.3 0.1h0m-0.3 0.1h0m0.6 0.2h0m0.2 0.2h0m-0.1 0.4h0m0 27.1h0m0.5-70.4h0m-0.1 1.1h0m-0.1 13h0m0.1 2.2h0m-0.2 0.2h0m0.3 6.3h0m-0.2 0.2h0m0.1 4.4h0m0.3 5.5h0m-0.2 1.1h0m0.3 0.4h0m-0.2 0.5h0m0.5 0.2h0m0 0.8h0m-0.1 0.5h0m0.1 2.1h0m-0.8 0.4h0m0.1 0.4h0m0.7 0.1h0m-0.5 0h0m0.1 0.2h0m0.2 0.1h0m0.3 1.1h0m-0.7 0.5h0m0.1 0h0m0.2 0.3h0m-0.5 0.2h0m0.1 0.3h0m0.5 0.1h0m-0.5 0.2h0m0.3 0.4h0m0.3 0h0m-0.2 0.1h0m-0.5 0.4h0m13.1-35.9h0m0.5 4.9h0m-0.2 2.5h0m-0.1 7.9h0m0.1 1.9h0m0.1 0.4h0m-0.1 0.4h0m-0.2 0.4h0m0.7 0.4h0m0 0.3h0m-0.7 0.8h0m0.5 0.3h0m0.1 0.2h0m-0.5 0.7h0m-0.3 0.5h0m0.4 0.6h0m-0.4 0.3h0m0.8 0.1h0m0 0.1h0m-0.8 0h0m0.4 0.2h0m0.1 0.6h0m-0.2 0.1h0m0.1 0.5h0m0.2 0.9h0m-0.3 0.9h0m-0.1 0.3h0m0.4 0h0m0.2 0.1h0m-0.5 0.1h0m0.1 0h0m0.1 0.3h0m-0.4 0.4h0m-0.1 36.1h0m1.4-89.9h0m0 0h0m-0.3 3h0m0.5 2.5h0m0.2 0.2h0m-0.6 3h0m0.6 1.9h0m-0.2 4h0m0 1.3h0m0 2.2h0m-0.1 2.3h0m0 1.3h0m0.3 0.2h0m-0.2 1.8h0m-0.2 1.6h0m0 3.2h0m0.3 2h0m-0.3 1.6h0m0 0.8h0m0.1 2.7h0m-0.4 4h0m0.5 1.3h0m0.1 0.4h0m0.1 2.8h0m-0.1 1.2h0m0.2 0.7h0m-0.6 0.7h0m-0.1 0h0m0.4 0h0m0.1 0.4h0m-0.3 1.1h0m-0.3 0.1h0m0.6 0.6h0m-0.6 0.5h0m0.1 0.1h0m0.7 0.2h0m-0.3 2h0m-0.5 0.4h0m0.5 0.1h0m-0.5 1h0m0.7 0.5h0m-0.3 0.4h0m-0.2 35.9h0m0.9-55h0m0.7 5.2h0m-0.1 1.5h0m-0.7 0.4h0m0.1 0.9h0m0.5 0.1h0m0.1 1.8h0m-0.5 0.2h0m0.6 0.5h0m0 1.5h0m-0.7 0.3h0m-0.3 1.9h0m0.3 0.1h0m0.4 0.2h0m-0.4 0.5h0m0.5 0h0m-0.5 1.3h0m0.3 0.4h0m-0.5 0.1h0m0 0.3h0m0.4 0.1h0m-0.5 0.2h0m0.8 0.4h0m-0.1 0.3h0m-0.6 0h0m0.2 0.2h0m0.2 0h0m0.5 0.4h0m-0.1 0.4h0m-0.2 35.8h0m1.2-60.2h0m-0.6 0.6h0m0.5 7.5h0m-0.7 3.8h0m0 3h0m0 1.9h0m0.7 1.6h0m-0.1 0.3h0m-0.3 0.5h0m-0.2 0.2h0m-0.2 0.2h0m1 0.3h0m-0.2 1.4h0m-0.3 0.3h0m-0.1 0.6h0m0.3 0h0m-0.7 0.5h0m1 0.3h0m-0.2 0.4h0m-0.7 0.1h0m-0.1 0.7h0m1 35.5h0m0.1-52.9h0m0 0h0m0.2 0.2h0m-0.2 3h0m0 1.6h0m0 5.2h0m0 0.1h0m0.2 0.9h0m-0.2 0.8h0m0.2 0h0m-0.2 1.8h0m0 0.4h0m0 2.9h0m0 0.1h0m0.1 0.2h0" stroke="#0000fa" stroke-width="1.9" stroke-linecap="round" fill="none"/>
<path d="M59.3 593.4h0m0 2.9h0m0.2 0.8h0m-0.1 0.8h0m0.1 0.6h0m0 0.8h0m-0.2 0.6h0m0.1 0.8h0m0.1 0.6h0m-0.2 31.3h0m0.6-74.5h0m0 0.2h0m-0.2 7.5h0m0.1 16h0m0.2 2.2h0m-0.3 1.4h0m0.2 3h0m0.1 2.3h0m0 0h0m-0.2 1.2h0m0 1h0m0.1 0.3h0m-0.3 1.4h0m0.6 1.6h0m-0.5 0.8h0m0.2 1.3h0m-0.1 0.1h0m0.1 0.2h0m0.3 0.3h0m-0.6 0.2h0m0.5 1.2h0m0.3 0h0m-0.3 0.3h0m0.1 0.2h0m-0.2 0.2h0m0.4 0.1h0m0.8-26.1h0m0.2 5.1h0m0.1 0.2h0m-0.2 2.8h0m0 0.3h0m-0.4 1h0m-0.2 5.3h0m0 1.9h0m0.7 0.5h0m-0.6 1.4h0m0 0h0m0.3 0.5h0m-0.1 0.4h0m-0.2 1.9h0m-0.1 0.4h0m0 0.4h0m0.4 0.2h0m-0.5 0.1h0m0.5 0.2h0m-0.2 0.7h0m-0.2 0.4h0m0.6 0.3h0m-0.5 0.3h0m-0.2 0h0m0.5 1h0m0.2 0.3h0m0.2 0.1h0m-0.7 0.5h0m0.4 0h0m-0.5 0.2h0m0.3 0.1h0m-0.2 0h0m-0.2 31.2h0m1.5-48.8h0m0.3 6.2h0m-0.2 0.3h0m-0.2 0.6h0m0.1 1.2h0m0.2 0.8h0m-0.1 1.7h0m0 0.1h0m-0.2 0.6h0m0.3 1.5h0m-0.6 0.5h0m0.2 0.6h0m0.5 0.8h0m-0.3 0.2h0m0.1 0.1h0m-0.2 0.2h0m-0.2 0.1h0m0.4 0.2h0m-0.2 0.1h0m0.4 0.3h0m-0.9 0.3h0m0.1 0h0m0.7 0.1h0m-0.7 0.6h0m-0.1 0.2h0m0.9 0.2h0m-0.4 0.1h0m-0.1 31.5h0m1.2-50.1h0m-0.6 2.1h0m0.1 6.5h0m0.1 0.4h0m0.5 1.8h0m-0.3 0.5h0m0.2 0.1h0m0.1 0.1h0m-0.5 1.5h0m0.4 1h0m-0.6 0.7h0m1 0.2h0m-0.5 1.5h0m0.2 0.5h0m-0.7 0.5h0m0.3 0.7h0m-0.2 0.1h0m0.3 0.2h0m0.3 31.9h0m0.4-63.8h0m0.3 1.1h0m-0.1 12.3h0m0 0h0m0.1 0.3h0m0.3 3.8h0m-0.2 4h0m0 0.1h0m0.1 0.6h0m0 0.4h0m-0.2 1.1h0m0 1.1h0m0.3 0.6h0m-0.6 0.6h0m0.8 0.4h0m-0.3 0.1h0m-0.4 1.3h0m0 2h0m0.5 0.1h0m-0.1 0.5h0m-0.1 0.3h0m0.3 0.1h0m0.1 0.3h0m-0.3 0.1h0m0.4 32.4h0m0.2-48.7h0m0.5 8.1h0m0.2 0.3h0m-0.2 0.3h0m-0.5 0.7h0m0.5 0.3h0m-0.3 0.2h0m-0.4 0.4h0m0.4 0.2h0m0 2h0m0.3 0.7h0m-0.1 1.3h0m0.2 0.5h0m-0.1 0.1h0m-0.1 0.3h0m0.3 0.2h0m-0.5 0.1h0m-0.1 0.2h0m0.6 0h0m-0.6 0.2h0m0.1 0.3h0m0.5 0.2h0m-0.8 0h0m0.4 0.4h0m1.4-16h0m-0.4 1.3h0m0.4 0.1h0m-0.2 0.4h0m0.2 0.9h0m-0.5 2.2h0m0.4 1.6h0m-0.6 1h0m0.4 1.4h0m-0.3 1.1h0m0.5 0.4h0m0 0.9h0m0.2 0.1h0m-1 0.7h0m0.3 1.2h0m0.6 0.7h0m-0.1 0h0m-0.2 1.1h0m-0.3 0.3h0m0.6 0.3h0m-0.1 0.1h0m-0.2 0.2h0m0 0.1h0m-0.3 31.5h0m1.2-61.7h0m-0.1 3.4h0m0 3h0m0.1 1.6h0m0.1 6.7h0m-0.1 1.9h0m-0.1 3.2h0m-0.3 1.2h0m0.9 1.3h0m-0.7 0.3h0m0.2 1h0m0.4 0.3h0m-0.3 0h0m0.1 0.5h0m-0.1 0.6h0m-0.1 1.1h0m0.4 2.2h0m-0.6 0.4h0m-0.1 0.1h0m0.6 0.1h0m-0.6 0h0m0.7 0.8h0m-0.3 31.9h0m1.2-79.2h0m0 20.7h0m-0.2 5.9h0m0.2 0.1h0m0 0h0m0.2 1.8h0m-0.1 0.1h0m-0.3 6.6h0m-0.5 1.4h0m0.8 4.3h0m-0.3 0h0m0 0.7h0m-0.1 0.3h0m0 0.8h0m0.1 0h0m0.4 0.1h0m-0.4 0.4h0m-0.2 0.2h0m0 0.3h0m0.4 0.1h0m-0.1 0.1h0m-0.1 0.1h0m-0.1 0.2h0m-0.4 0.7h0m0.5 1.2h0m-0.3 0.6h0m0.3 0.3h0m0.1 0.9h0m0.2 31.2h0m0.9-70.5h0m0 2.2h0m0.2 2.9h0m-0.3 1.4h0m-0.3 6h0m0.4 6.6h0m-0.8 0.2h0m0.2 3.5h0m0.5 1.6h0m-0.2 0.2h0m0.5 0.5h0m-0.5 4.2h0m-0.5 2.3h0m0.7 1h0m0.3 2.5h0m-0.5 0.7h0m-0.1 0h0m0 1.2h0m0.1 0.8h0m-0.5 0h0m1 0.3h0m-0.5 0h0m0.5 0.2h0m-0.4 0.2h0m-0.1 0h0m0 0.1h0m0.3 0.1h0m-0.7 0.1h0m0.1 0h0m0.7 0h0m-0.7 0.2h0m-0.2 0.2h0m1.1-45.6h0m0 18.4h0m0 4.6h0m0 0.3h0m0.2 5.8h0m-0.2 1.2h0m0 5.7h0m0.2 0.3h0m0 0.1h0m0 1.3h0m0.4 0.4h0m0.2 0.9h0m-0.7 1.1h0m0.4 0.8h0m-0.5 0.8h0m0.1 0.2h0m0.6 0.6h0m-0.2 0.5h0m-0.3 0.5h0m0.3 0.4h0m0.1 0.1h0m0 0h0m-0.3 0.5h0m0.4 0.4h0m0 0.5h0m-0.7 0.1h0m0.3 0.1h0m-0.2 31.2h0m1.6-71.7h0m0.1 4.4h0m-0.2 4.3h0m0.2 3.4h0m-0.2 2.6h0m-0.1 2.8h0m-0.2 2.1h0m-0.2 0.3h0m0.6 0.7h0m-0.2 2.2h0m-0.2 0.9h0m0.2 3.3h0m0.2 1.4h0m-0.3 1.4h0m-0.4 1h0m0.2 0.5h0m-0.1 0.3h0m-0.1 0.2h0m0.2 0.2h0m0.1 0.9h0m-0.2 0.8h0m0.4 0.2h0m-0.2 1.5h0m-0.1 1.9h0m0.6 0.4h0m-0.3 0.5h0m-0.5 0.1h0m0.5 0.4h0m0.3 0.7h0m-0.3 0.2h0m-0.4 0h0m0 0.5h0m0.5 0.5h0m-0.2 31.7h0m1.5-84h0m-1 1.7h0m0.3 1.3h0m0.1 2.8h0m-0.4 2.7h0m0.3 13.5h0m0.2 3.8h0m-0.5 5.2h0m0.1 2.6h0m0.5 2.1h0m0 1.6h0m-0.4 2.6h0m0 2.5h0m0.7 0h0m-0.4 0.8h0m0.3 0.1h0m-0.7 1.7h0m0.2 0.8h0m-0.1 0.2h0m-0.2 0.7h0m0.7 0.8h0m-0.3 0.6h0m-0.1 0.7h0m0.6 0.2h0m0 0.1h0m-0.5 0.8h0m0.4 0.9h0m-0.4 0.3h0m0 0.1h0m0.3 0.3h0m-0.2 0.6h0m0.4 0.1h0m-0.1 31.3h0m0.7-73.3h0m0.1 4h0m-0.3 4h0m0.2 3.5h0m-0.1 4h0m0.4 3.9h0m-0.3 2.1h0m0.2 2h0m-0.2 2.8h0m0.1 3.8h0m0.3 1.6h0m-0.9 0.3h0m0.2 2.4h0m0.2 1.4h0m-0.2 2.9h0m0.4 0.7h0m-0.2 1.1h0m0.1 0.5h0m29.5 32.5h0m0.8-130.5h0m-0.2 1.1h0m0.3 0.4h0m-0.4 0.6h0m-0.4 0h0m0.6 1.4h0m0.1 1.4h0m-0.6 3.5h0m0.3 0.6h0m-0.2 4.5h0m0.6 1.5h0m-0.5 1.7h0m0 2.3h0m-0.2 4.5h0m0.2 6h0m0.5 9h0m0 3.4h0m-0.3 0.1h0m0.1 2.1h0m0 2h0m0.2 4.2h0m-0.6 1.6h0m-0.3 0.4h0m0.4 0h0m-0.2 0.9h0m0.5 0.7h0m0.1 0.8h0m-0.5 0.1h0m0.1 1h0m0.2 0.3h0m-0.2 0.5h0m0.2 0.3h0m-0.1 0.6h0m0.1 1.1h0m-0.2 0.3h0m0.5 0h0m-0.4 0.3h0m0.4 0.1h0m-0.4 0.3h0m0.4 0.9h0m-0.3 0.4h0m-0.5 0.1h0m1.1-191.2h0m0.5 1.5h0m-0.5 11.8h0m0.5 9.9h0m-0.5 7.4h0m0.5 7h0m-0.5 7.3h0m0.5 8.9h0m-0.5 5.3h0m0.5 13.3h0m-0.5 8.6h0m0.5 14.6h0m-0.5 2.5h0m0.5 6.8h0m-0.5 5.2h0m0.5 7.8h0m-0.5 6h0m0.5 4.2h0m-0.5 4.2h0m0.5 3.2h0m-0.5 0.7h0m0 2.4h0m0.5 4.2h0m-0.5 3.2h0m0.5 0.9h0m0.1 0.1h0m-0.1 2.2h0m0.1 1.2h0m-0.6 1.9h0m0.8 3.2h0m-0.3 0h0m-0.5 2.1h0m0.8 0.4h0m-0.3 1.7h0m-0.5 2.1h0m0.4 0.1h0m0.1 2h0m-0.7 0.4h0m0.8 0h0m-0.6 1.7h0m0.4 0.5h0m-0.5 0.5h0m-0.1 1.1h0m0.7 0.1h0m-0.2 1.2h0m-0.3 0.9h0m0.5 2.1h0m-0.5 2.1h0m0.2 0.6h0m-0.2 0.3h0m0.7 1h0m-0.2 0.2h0m0.3 0.5h0m-0.2 0.2h0m0.1 1.1h0m-0.7 0.3h0m0.5 1.7h0m0 0.4h0m0.2 0.8h0m-0.2 0.3h0m-0.2 1.2h0m0.4 0.4h0m-0.4 0.4h0m0.2 0.7h0m-0.7 0.4h0m0.1 0.1h0m0.5 0.3h0m0.2 0.5h0m-0.1 0.3h0m0.1 1.1h0m0.1 0.2h0m-0.8 0.1h0m0.1 1.1h0m0.3 0.3h0m-0.3 0.4h0m-0.2 0.1h0m0.1 0.5h0m0 0.1h0m0 0.8h0m0.8 0.1h0m-0.7 0.1h0m0.2 0.4h0m0 0.1h0m-0.2 0.1h0m0.7 0.1h0m-0.2 0h0m-0.2 0.5h0m-0.1 0.1h0m0.4 0.1h0m0.1 0h0m-0.2 0.1h0m0.2 0.4h0m-0.1 2.2h0m0 2.3h0m-0.1 2.2h0m-0.1 3.3h0m0 6.6h0m0 1.7h0m0 7h0m0.1 1.6h0m-0.4 40.7h0m0.7-109.4h0m0.1 0.6h0m0.2 2.9h0m0.1 0.1h0m-0.3 4h0m-0.1 0.5h0m0.5 0.8h0m-0.2 1.1h0m0.3 0.1h0m-0.1 2h0m-0.4 1.3h0m0.3 0.9h0m0.2 1.3h0m-0.2 0.8h0m0.5 0.5h0m-0.4 2.1h0m-0.2 0.2h0m-0.2 3.6h0m-0.1 0.1h0m0.2 1.6h0m0.1 1.3h0m0.1 2.1h0m0.3 1.6h0m-0.1 1.2h0m0.3 0.5h0m-0.9 1.7h0m0.6 0h0m0 0.2h0m-0.5 0h0m0.1 0.5h0m-0.1 0h0m0.7 0.1h0m0.1 0.1h0m-0.1 0.5h0m-0.8 0.1h0m0.7 2.5h0m-0.1 0.2h0m0.3 0.5h0m-0.4 0.7h0m-0.4 0.2h0m-0.1 0.1h0m0.9 0.5h0m0 0.8h0m0 0.1h0m-0.7 0.4h0m0.1 0.8h0m0.3 0.3h0m-0.4 0.2h0m-0.2 0h0m1 0.1h0m-0.5 0.1h0m-0.1 0.1h0m0.4 0.2h0m-0.4 13.5h0m-0.4 8.5h0m0.4 7.6h0m0.2 37.9h0m0.9-97h0m0.3 0.6h0m-0.2 3.3h0m-0.4 3h0m0.3 2.7h0m-0.2 1.2h0m0.1 0.6h0m-0.1 1.2h0m0.4 1h0m-0.2 0.4h0m-0.4 1h0m0.7 1.8h0m-0.7 0.3h0m0.9 0.4h0m-0.1 0.1h0m-0.3 0.6h0m-0.1 0.3h0m-0.4 0h0m0.2 0.8h0m-0.1 0.3h0m0.7 1h0m0 0.4h0m-0.5 0.1h0m0.4 0h0m-0.6 0.9h0m0.7 1.5h0m-0.6 0.8h0m0.1 0.3h0m0.3 1.4h0m-0.1 1.4h0m0.3 0.2h0m0.1 0.3h0m-0.8 0.2h0m0.2 0.4h0m0.1 0.6h0m-0.3 0.3h0m0.6 0.6h0m-0.2 0h0m-0.2 0.1h0m0.5 0.3h0m-0.2 0h0m-0.1 4h0m0 4.3h0m0.1 2.4h0m-0.6 2.2h0m0 3.2h0m0.1 2.4h0m0 2.9h0m-0.1 3.5h0m0.8 3.8h0m0 37.5h0m0.4-99.6h0m-0.3 3.1h0m0.2 7.7h0m-0.1 4h0m0.1 7.2h0m0.2 0.5h0m-0.3 1.4h0m0.2 1.4h0m0.6 0.1h0m-0.4 0.7h0m0 0.6h0m-0.2 0.5h0m-0.3 0.1h0m0.2 1.8h0m0.2 0.2h0m0.2 1.2h0m-0.1 0.5h0m0.2 0.1h0m0 0.1h0m0.2 0.1h0m-0.3 1h0m0 0.3h0m-0.3 0.1h0m-0.1 0.3h0m-0.2 0h0m0.4 0.1h0m0.1 0.1h0m1.1-22.9h0m-0.1 1.2h0m-0.1 2.7h0m-0.3 2.3h0m0.7 1.7h0m0.1 0.8h0m-0.7 2.3h0m0.6 0h0m-0.1 1.3h0m0.2 0.2h0m-0.4 1.6h0m0.5 2.5h0m-1 0h0m0.6 0h0m0.2 0.5h0m-0.7 0.6h0m-0.1 0.1h0m0.3 1h0m0.5 0.2h0m-0.7 1.8h0m0.7 0.1h0m-0.2 0.6h0m0.4 0h0m-0.9 0.3h0m0 0.4h0m0 0.2h0m0.6 0.8h0m-0.5 0.2h0m0.5 0.3h0m-0.1 1.1h0m-0.3 0.1h0m0.1 0.1h0m-0.2 0.2h0m0.3 0.6h0m-0.3 0.6h0m0.2 0h0m0.4 1.8h0m-0.1 0.5h0m0 0.5h0m-0.6 0.6h0m0 3.2h0m0.4 1.6h0m0.2 4.1h0m-0.4 3.9h0m0.5 2.8h0m-0.3 2.2h0m0.2 4.2h0m-0.5 37.4h0m1.2-80.9h0m-0.3 2.7h0m0.8 10h0m0 1.1h0m-0.5 0h0m0.6 0.5h0m-0.3 1.3h0m0.1 0.7h0m-0.2 0.4h0m-0.4 2.5h0m0.6 0.5h0m-0.7 0.7h0m0.4 0.1h0m-0.1 0.2h0m-0.3 0.2h0m0.4 1.4h0m-0.3 0.1h0m0 0.6h0m0 0.7h0m0 0.2h0m0.4 0.2h0m-0.4 0.2h0m0.7 0.5h0m-0.6 0.2h0m0.6 0.5h0m-0.3 1.4h0m0.3 0.6h0m0.1 0.4h0m-0.1 0.2h0m-0.4 52.9h0m1.5-75.5h0m-0.4 1.2h0m0.1 0.9h0m0 0.2h0m-0.7 1.7h0m0.8 2.8h0m-0.1 2h0m-0.6 0.4h0m0.5 1h0m0 2h0m0.2 0.5h0m-0.7 2.8h0m0.6 0.3h0m0.3 1h0m-0.1 0.3h0m0 0.6h0m-0.4 0.2h0m-0.3 0.7h0m0.5 1.2h0m-0.4 0.4h0m0.1 0.1h0m0.3 0.6h0m0 0.3h0m-0.4 0.1h0m0.1 2.1h0m-0.2 0.1h0m0.5 0.5h0m-0.5 0h0m0.6 0.2h0m-0.4 0.1h0m0.2 13.7h0m0.2 37.4h0m0.3-70.4h0m0.1 4.3h0m0.3 0.9h0m0.1 0.3h0m-0.3 2.4h0m-0.3 2.3h0m0.2 3.7h0m0.3 0.1h0m-0.1 1h0m-0.1 0.3h0m0.6 1.5h0m-0.1 0.2h0m-0.2 0.1h0m0.2 0.1h0m-0.6 1.3h0m-0.2 1h0m0.4 0.1h0m-0.1 0h0m0.3 0.9h0m-0.2 0.2h0m0.4 0.2h0m-0.3 0.2h0m-0.3 2.1h0m0.2 1.6h0m-0.2 3.9h0m1.6-32.3h0m-0.4 8h0m0.4 7.3h0m-0.3 0.8h0m0.4 0.8h0m-0.6 0.1h0m0.7 0.4h0m-0.8 0.2h0m0.6 2.8h0m0 0.9h0m0.1 0h0m-0.7 0.4h0m0.6 2.1h0m-0.7 0.4h0m0.2 0h0m-0.3 0.4h0m0.8 0h0m0 0.2h0m0.1 0.3h0m-0.7 0.4h0m0.5 0.1h0m-0.4 0.4h0m0.4 0.2h0m0.2 0.1h0m-0.2 0.3h0m0.2 0.4h0m-0.8 47.4h0m1.6-79.1h0m0.2 19.7h0m0.1 0.7h0m-0.2 0.4h0m-0.7 0.4h0m0.7 0.5h0m-0.8 0.1h0m0.2 2.5h0m-0.2 1.3h0m0.7 0h0m-0.3 0.3h0m0.6 1h0m-0.6 0.1h0m0 0.8h0m-0.2 0.6h0m0.6 2.2h0m-0.6 0.4h0m0.3 0h0m-0.1 0.3h0m0.3 0h0m-0.6 0.8h0m0.2 0h0m0.1 0.6h0m0 46h0m1.3-77.6h0m-0.6 1.5h0m-0.1 0.5h0m0 2.7h0m0.4 1.4h0m0.2 3.1h0m0.1 0.1h0m-0.1 0.2h0m-0.6 2.6h0m0.7 4.8h0m0 1h0m-0.1 1.1h0m-0.1 1.5h0m-0.4 3.1h0m0.4 0.3h0m0.2 0.4h0m0 0.2h0m-0.2 2.4h0m-0.4 1.9h0m0.6 0.2h0m-0.7 0.2h0m1 0.6h0m-0.1 0h0m-0.3 0.5h0m0.2 0.1h0m-0.1 0.3h0m-0.7 0.2h0m0.7 0.1h0m-0.5 0.9h0m0.1 0h0m0 0.5h0m0.4 0.2h0m-0.6 0h0m0.4 1.2h0m0.1 0.2h0m0.1 44.2h0m0.4-57.3h0m0.2 8.3h0m-0.1 1.6h0m0.2 3.3h0m-0.3 1.3h0m0.3 0.2h0m28.1-1.2h0m0 0.1h0m0 4.4h0m0.4 1.9h0m-0.3 0.7h0m0.4 3.9h0m-0.1 0.8h0m0 0.2h0m-0.4 31.5h0m0.7-47.4h0m0.1 3.3h0m0 2.3h0m0.6 1.1h0m-0.4 0.9h0m-0.2 0.6h0m0.4 1h0m0.1 1.1h0m-0.8 0.5h0m0.2 0.1h0m0.4 0.1h0m0.3 0.1h0m-0.7 0.6h0m-0.1 1.6h0m0.7 0.2h0m-0.4 0.2h0m0.1 0.4h0m0.2 0.4h0m0.1 0.4h0m-0.5 0.2h0m0.7 0.1h0m-0.4 0.3h0m-0.1 0.3h0m0.3 31.7h0m0.9-51.3h0m-0.2 4.1h0m-0.1 2.2h0m-0.1 1.4h0m-0.1 0h0m0 0.9h0m0 1.6h0m0 0.3h0m0.7 0.4h0m0.1 1.6h0m-0.9 0.7h0m0.3 0.2h0m-0.1 0.4h0m0.7 0.7h0m-0.7 0.2h0m-0.2 1.4h0m0.1 0.1h0m0.3 0.2h0m0 0h0m0.2 0.2h0m-0.4 0.6h0m-0.2 0.2h0m0.3 0.4h0m0.1 0h0m0.3 0h0m-0.8 0.1h0m0.2 0.1h0m0.2 0.2h0m0.4 0.3h0m-0.2 0.4h0m0.3 0.4h0m0.6-19.3h0m0.1 3.6h0m-0.4 4.1h0m0.2 0h0m0.3 1.5h0m-0.1 1.2h0m0 0.4h0m0.4 0.9h0m-0.9 1.6h0m0.9 0h0m-1 0.6h0m0.2 0.4h0m-0.1 0.9h0m0 0.5h0m0.2 1.4h0m0.3 0.5h0m-0.5 0.2h0m0.6 0h0m-0.3 0.2h0m0.5 0h0m-0.6 0.4h0m0.5 0.1h0m-0.4 0.4h0m0.3 0.1h0m0.1 0.5h0m0.2 0h0m-0.9 0.1h0m0 0h0m0 31.3h0m1.8-62.6h0m-0.4 13h0m0.5 2.3h0m-0.6 0.4h0m-0.1 0.5h0m0.2 1.5h0m0.5 1h0m-0.6 0.5h0m0.5 1.3h0m0.1 0.2h0m-0.1 4.2h0m0.1 0.4h0m-0.6 0.6h0m-0.3 0.4h0m0.4 0.2h0m0.3 0.4h0m0.1 1.2h0m-0.7 0h0m0 0.4h0m0.3 0.6h0m-0.3 0.5h0m0.3 0.6h0m-0.1 0.5h0m-0.1 0.4h0m0.1 0h0m-0.1 0.3h0m0.1 31.6h0m1.3-74.4h0m0.2 8.4h0m-0.1 0.5h0m0.1 3.1h0m-0.2 5h0m-0.6 4h0m0.6 2.4h0m-0.6 0.4h0m0.6 5.7h0m-0.6 1.2h0m0.7 1.6h0m0.1 2.4h0m-0.7 0h0m0.8 0.4h0m-0.8 0.2h0m-0.2 0.1h0m0.3 0.1h0m0.2 1.6h0m0.4 0.6h0m-0.4 0.1h0m-0.4 0.2h0m0.5 1.5h0m-0.4 0.8h0m0.5 0.5h0m-0.2 0.1h0m-0.2 0.2h0m0 0.1h0m0.4 0.6h0m-0.6 0h0m0.4 0.9h0m0.3 0.1h0m-0.1 31.5h0m1.3-76.3h0m-0.2 10.2h0m0.2 10.9h0m-0.1 0.1h0m0.1 2.4h0m-0.3 0.2h0m-0.2 2.7h0m0.5 2.2h0m0 2.5h0m-0.1 1.5h0m0 0.3h0m-0.3 1.3h0m0.1 3.6h0m-0.2 1.5h0m-0.1 0.5h0m-0.2 0.2h0m0.2 1h0m0.3 0.1h0m-0.2 0.1h0m0 0.2h0m0 0.6h0m0.1 0.1h0m0.4 0.3h0m-0.3 0.4h0m-0.4 0.3h0m-0.3 0.5h0m0.4 0.2h0m0.4 0.3h0m-0.3 0.3h0m0.1 0.4h0m0.4 0h0m0.2-33h0m0.7 4.8h0m-0.8 3.8h0m0 1.3h0m0.8 5.3h0m0 0.9h0m0 2.5h0m-0.9 1.9h0m0.2 0.8h0m0.6 1.5h0m-0.1 1.5h0m0.2 0.1h0m-0.7 0.4h0m0 1.8h0m0.1 0.7h0m-0.2 0.5h0m0.4 0.3h0m-0.3 0.4h0m0.7 2.4h0m0 0.9h0m-0.1 0.5h0m-0.3 0.6h0m-0.5 31.7h0m1.7-83.8h0m0.1 1.8h0m-0.1 3h0m0.1 7.1h0m0.1 4.6h0m-0.1 3.6h0m-0.3 3.5h0m0.2 1.1h0m-0.1 4.8h0m0 8.1h0m0.3 2.8h0m-0.9 1.3h0m0.8 0.7h0m-0.7 0.4h0m0.1 0h0m0.7 0.6h0m-0.1 2.2h0m-0.7 0.1h0m0.9 0h0m-0.4 0.2h0m0.2 1.2h0m-0.6 0.8h0m0.7 0h0m-0.2 0.1h0m-0.3 0.1h0m-0.1 0.9h0m0.5 0.5h0m-0.6 0.2h0m0.3 0h0m0.1 0.2h0m-0.1 0h0m0.1 0.4h0m-0.4 0.1h0m0.7 0.6h0m-0.7 1h0m0.2 0h0m-0.1 31.3h0m0.7-83.8h0m0 0.4h0m0.3 6.8h0m-0.2 3.6h0m0 16.7h0m-0.1 5.2h0m0.2 0.1h0m0.1 0.7h0m-0.1 1.2h0m0.1 1.5h0m-0.2 4.6h0m0 0.4h0m0.1 3.7h0m0.2 1.2h0m0.2 1.1h0m-0.5 0.2h0m0.4 0.2h0m0 1h0m0.4 0.2h0m-0.2 0.2h0m-0.4 0.1h0m-0.3 0.2h0m0.8 0.6h0m0 0.7h0m-0.3 0.6h0m0 0.1h0m-0.5 0.3h0m0.4 0.2h0m-0.3 0.2h0m0.8 0h0m-0.3 32.2h0m0.6-50.4h0m0.2 1.9h0m-0.1 1.7h0m0.1 0.1h0m0.6 2.7h0m-0.6 1.2h0m0 0.8h0m-0.4 1.2h0m0.7 1.4h0m0 0.8h0m-0.5 0.4h0m-0.1 0.1h0m0.5 1.1h0m0.3 0.3h0m0 0h0m-0.5 0.3h0m0.4 0.8h0m-0.4 0.1h0m-0.2 0.2h0m0 0.1h0m0.8 0.4h0m-0.5 0.3h0m-0.1 0.2h0m-0.1 0.7h0m0.1 0.2h0m0.5 0.3h0m-0.8 0.1h0m0.6 1.1h0m0.2 0.4h0m0 0h0m0 31.3h0m0.5-43h0m-0.2 0.8h0m0.5 1.6h0m-0.1 1.6h0m-0.5 0.3h0m0.5 0.3h0m-0.4 0.2h0m0.7 0.5h0m-0.1 0h0m-0.7 2.1h0m0.1 0.2h0m-0.1 0h0m0.4 0.7h0m0 0.4h0m-0.3 2.2h0m0.3 0h0m-0.1 0.3h0m0.7-15.2h0m0.1 0.9h0m0.1 2.6h0m-0.1 1h0m-0.1 2.6h0m0.1 1.4h0m0.1 1.7h0m-0.2 1.3h0m0 2.6h0m-0.1 0.5h0m0.3 1.1h0m-0.1 31.2h0m25.3-46.7h0m0 1.3h0m0.1 0h0m-0.1 4.7h0m0 0.4h0m0.1 1.7h0m0.1 0.9h0m-0.2 0h0m0.4 0.2h0m0 0.4h0m-0.1 0.6h0m0 0.1h0m0.2 1.4h0m-0.3 0.8h0m0 0h0m-0.2 34.2h0m1.5-68.8h0m-0.2 2.9h0m-0.1 5.4h0m0.1 7.3h0m-0.2 0.1h0m0.3 2.8h0m-0.1 1.2h0m-0.2 0.5h0m0.4 2.4h0m-0.2 0.5h0m-0.5 0.6h0m0.3 0.3h0m0.2 0.4h0m-0.8 0.7h0m0.9 2.3h0m-0.3 1.3h0m0.3 0.3h0m-0.2 0.7h0m0.1 0.4h0m0 1.1h0m-0.7 1.2h0m0.7 0.6h0m-0.3 0.2h0m0.1 0.7h0m0 0.1h0m-0.3 0.2h0m0.3 0.5h0m-0.4 0.7h0m0.6 33.8h0m0.7-107.3h0m0 1.9h0m0.3 2.3h0m-0.5 4h0m-0.2 4.3h0m0.5 2.2h0m0.4 2.6h0m-0.2 1h0m0.1 2.6h0m-0.7 4h0m0.6 3.9h0m-0.5 2.6h0m0.5 2.5h0m-0.3 2.9h0m0.4 2.7h0m-0.2 3.4h0m-0.1 0.2h0m-0.4 3.4h0m0.1 0.4h0m0.4 2.2h0m-0.5 3h0m0.6 2.4h0m-0.5 1.3h0m0.4 0.6h0m-0.3 0.9h0m0.2 3.2h0m0.1 0.2h0m0.2 1.2h0m-0.5 1.1h0m-0.1 3.9h0m0.4 0.4h0m-0.1 0.9h0m-0.3 0h0m-0.1 0.8h0m0.2 0.1h0m0.3 0.3h0m0.1 0.1h0m-0.4 0.2h0m0.4 1h0m0 0.8h0m0.1 0.4h0m-0.3 0.1h0m0 0.6h0m-0.1 0.3h0m0 0h0m-0.5 0h0m0.3 0.6h0m1.5-31.8h0m-0.7 13.3h0m0.2 4h0m0.4 4h0m0.2 3h0m-0.7 0.5h0m0.6 0.3h0m0.1 0.8h0m-0.1 0.6h0m0.2 0.1h0m-0.9 0.4h0m0.7 0.5h0m-0.1 0.7h0m-0.1 0h0m0 0.6h0m-0.4 0.3h0m0.4 0.3h0m0 0h0m-0.6 0.7h0m0.3 0.3h0m-0.1 0.3h0m-0.1 0.2h0m0 0h0m0.6 0.2h0m0.1 0.2h0m0.1 0.2h0m-0.7 0h0m-0.1 33.9h0m1.1-71.1h0m0 17.3h0m0.2 6.7h0m0 1.9h0m0.5 1.3h0m0 3.1h0m-0.4 0.7h0m-0.3 0.9h0m0.5 2.9h0m-0.5 0.1h0m-0.1 0.1h0m0.6 1.1h0m-0.3 1.2h0m-0.4 0.2h0m1 0.1h0m-0.7 0h0m0.1 33.5h0m0.9-72.6h0m0.2 13.2h0m0.4 6h0m-0.7 2.1h0m0.4 1h0m0.2 0.6h0m-0.1 1.8h0m0 0.6h0m0.2 0.3h0m-0.1 0.5h0m-0.7 0.1h0m0 0h0m0.1 2.4h0m0.7 0.2h0m-0.1 0.1h0m-0.6 0.6h0m0.3 0.8h0m-0.4 0h0m0.7 1.5h0m0.1 0.8h0m-0.7 0.2h0m0.7 0.2h0m-0.1 1.7h0m-0.2 1.5h0m-0.3 1h0m-0.1 0.8h0m0.2 0.7h0m-0.3 0h0m0.9 0.2h0m-0.2 0.1h0m-0.1 33.8h0m0.8-75.9h0m-0.4 3.8h0m0.3 3.6h0m0.4 4h0m-0.7 1.9h0m0.8 2.6h0m-0.1 3.2h0m-0.7 2h0m0.8 3.7h0m-0.6 0.7h0m0.6 1.5h0m-0.1 0.9h0m0.1 1.9h0m0 2.1h0m-0.5 0.6h0m0.4 1.2h0m-0.7 0.2h0m0.9 0.2h0m-0.2 0.1h0m-0.1 1.3h0m-0.1 0.6h0m0.3 0.2h0m-0.7 0.7h0m0.5 0.9h0m-0.2 0h0m0.2 0.1h0m-0.5 0.1h0m0.6 1h0m0.1 0.7h0m-0.5 0.1h0m0.4 0.3h0m0.1 0.5h0m-0.4 0.3h0m0 0.3h0m-0.3 0.1h0m-0.1 0.3h0m0.8 0.2h0m-0.5 0h0m0.1 0.2h0m-0.1 0.1h0m0.6 33.6h0m0.9-49.7h0m-0.9 1.9h0m0.2 2.3h0m-0.2 0.2h0m0.6 0.4h0m0.2 1h0m-0.7 1.1h0m0.3 1.8h0m0.2 1.7h0m0 0.4h0m-0.3 0.3h0m0.5 1.2h0m-0.1 0.5h0m-0.3 0.4h0m0.6 0.5h0m-1 0.1h0m0.9 0.3h0m0.1 0.1h0m-0.8 1.2h0m0.5 0.1h0m0.3 0.6h0m0.9-13.1h0m-0.2 1.9h0m-0.1 0.5h0m0 2.1h0m0 0h0m-0.4 1.1h0m0.1 2h0m0.1 0.8h0m-0.2 0.9h0m-0.2 0.2h0m0 0.8h0m0.2 0.2h0m0.7 0.2h0m-0.8 0.1h0m0.9 0.3h0m-1 0.2h0m0.8 0.6h0m-0.4 0.1h0m0.5 0.2h0m-0.5 0.6h0m-0.1 33.5h0m1.4-62h0m0.1 0.4h0m-0.1 1h0m-0.5 3.3h0m0.7 0.3h0m-0.8 1.4h0m0.8 1.8h0m0 2.1h0m0 0.6h0m0 4.5h0m-0.8 0h0m0.8 0.5h0m-0.6 1.2h0m0.3 0.7h0m-0.4 0.3h0m0.4 0h0m-0.4 0.2h0m0.1 1.6h0m-0.1 0.2h0m0.2 2.3h0m-0.3 1.9h0m0.1 0h0m0.7 0.4h0m-0.2 0.2h0m0.3 1.9h0m-0.3 1h0m-0.5 0h0m-0.1 0.1h0m0.7 0h0m-0.5 0.3h0m0 0h0m0 0.1h0m0.6 0.1h0m-0.3 33.7h0m1-47.6h0m-0.1 0.4h0m-0.2 1.2h0m-0.2 1.2h0m0.4 0.4h0m-0.2 3.5h0m-0.2 0.7h0m0.1 0.2h0m0.4 1h0m-0.3 0.5h0m0.4 0.5h0m-0.2 0.3h0m-0.4 0.2h0m0.6 0.7h0m-0.1 0.6h0m-0.3 1.3h0m0.2 0.5h0m0.2 0h0m-0.1 0.2h0m-0.4 0.3h0m0.2 0.3h0m22.6 33.6h0m0.4-78.8h0m0.1 3.1h0m-0.2 10.7h0m0 3.7h0m0.1 3.4h0m0 6.9h0m0.6 6.6h0m-0.8 1.3h0m0.1 0.2h0m0 0.9h0m0.5 0.1h0m-0.5 0.4h0m-0.1 0h0m0.3 1.6h0m-0.4 0.4h0m0 1h0m0.9 0.1h0m-1 2.8h0m0.7 0h0m-0.4 0.6h0m0.7 0.5h0m-0.3 0.1h0m0.2 0.4h0m-0.4 0.3h0m-0.4 0.2h0m0.2 0.1h0m0.5 0.2h0m0.1 0.1h0m-0.8 0.2h0m0.7 0.3h0m-0.1 0.2h0m-0.6 0.4h0m0.8 0.3h0m-0.1 0.1h0m-0.3 0h0m0 0.1h0m1.4-27.2h0m-0.1 5.4h0m0.2 3.9h0m-0.4 2.2h0m-0.2 2.8h0m0.6 0.1h0m-0.5 1h0m0.2 2.3h0m0.1 2.1h0m-0.2 0.8h0m-0.6 0.6h0m0.7 0.4h0m-0.3 0.6h0m0.3 0.9h0m-0.6 0.2h0m-0.1 0.3h0m0.5 0.2h0m0.4 0.8h0m-0.5 0.1h0m0.2 0.4h0m-0.1 0.1h0m-0.3 0.7h0m0.4 0.4h0m-0.5 1.2h0m0.2 31.4h0m0.8-59.1h0m0.1 0.3h0m-0.1 2.8h0m0.7 5.1h0m-0.7 1h0m0.7 2.2h0m0.1 0.3h0m-0.8 1h0m0.1 4h0m0 0.5h0m0 1.6h0m0 1h0m0.4 1.6h0m0 1.6h0m0.1 0.3h0m0.1 1.2h0m-0.4 0h0m0.6 0.3h0m-0.5 0.9h0m-0.5 0.7h0m0.1 0.2h0m0.4 0.2h0m0.2 0.1h0m-0.3 0h0m0.3 0.5h0m0 0.3h0m-0.1 31.7h0m0.7-54.6h0m0.6 5.6h0m-0.7 5.2h0m0.6 2.1h0m-0.7 1h0m0.7 1.3h0m0 2.7h0m0.1 1h0m-0.6 0.2h0m-0.1 0.3h0m0.7 0h0m-0.5 0.3h0m0 1.1h0m-0.1 0.1h0m-0.3 0.3h0m1 0.3h0m-0.2 0.1h0m0 0h0m-0.2 0.5h0m-0.4 0.3h0m0.7 32h0m0.2-49.2h0m0.1 4.5h0m-0.1 4.2h0m0.7 2.1h0m-0.5 1.7h0m0 0.8h0m0.3 0.8h0m0.1 0.3h0m-0.5 0.4h0m0.4 0.3h0m-0.5 0.5h0m0.7 0.2h0m-0.3 0.5h0m-0.4 0.1h0m-0.1 0.2h0m0.9 0.3h0m-0.5 0.6h0m0 0h0m0.3 0.1h0m-0.4 0.1h0m1.2-42.1h0m-0.2 0h0m0 1h0m0.2 2.6h0m-0.1 0.3h0m-0.3 3.7h0m0.2 4.6h0m0.2 2.9h0m0.1 3.4h0m0.3 2.4h0m-0.5 0.4h0m0.4 1.1h0m0.1 1.9h0m-0.1 2.9h0m-0.3 0.7h0m-0.2 2.8h0m0.2 0h0m0.4 1.2h0m-0.6 1.4h0m0.7 0h0m-0.7 1.9h0m0.2 0.6h0m-0.3 0.9h0m0.7 1.2h0m-0.6 0.1h0m0.3 0.1h0m0.4 0.2h0m-0.3 0.4h0m-0.2 0.4h0m0.3 0.2h0m0.1 0.2h0m-0.2 0.7h0m-0.6 0.1h0m0.5 0.2h0m-0.4 0.2h0m0.7 0.2h0m0 0.6h0m-0.8 0.2h0m-0.1 0.1h0m0.6 0h0m-0.4 31.6h0m0.9-51h0m0.7 2.6h0m0 0.1h0m0.1 1h0m-0.5 0.9h0m0.5 2.1h0m0 0.1h0m0 0.8h0m-0.5 0.4h0m0.4 0h0m-0.7 0.6h0m0.3 0.1h0m0.3 0.2h0m-0.6 1.2h0m-0.1 1.4h0m0.3 2.7h0m0 0h0m-0.2 2.3h0m0.1 0.2h0m0.7 0.1h0m-0.7 0.7h0m0.4 0.2h0m0.1 0.3h0m-0.3 0.2h0m0 0.4h0m0.1 0.9h0m0 31.8h0m1.4-47h0m-0.4 0.2h0m0.4 5.2h0m-0.2 3.1h0m-0.3 1.5h0m0.4 0.2h0m-0.7 0.1h0m0 0h0m0.6 0.2h0m0.1 0.3h0m-0.4 0.6h0m0.2 1.3h0m-0.1 0.2h0m0.1 0h0m-0.3 0.1h0m0 0.3h0m0.1 0h0m0.3 0.4h0m-0.6 1.2h0m0.5 0.2h0m-0.1 0.1h0m0.1 0h0m-0.6 0.1h0m0.6 0h0m0.2 31.2h0m21.2-75.7h0m0 7.9h0m-0.1 17.3h0m0 7.5h0m-0.1 6.7h0m-0.1 1h0m0 0.7h0m0 1.2h0m0.1 0.4h0m0.1 0.2h0m-0.1 0.3h0m-0.2 32.5h0m0.7-75.2h0m-0.1 2h0m0.1 10.9h0m-0.1 1.3h0m-0.2 0.2h0m0.2 7.7h0m0.1 4.7h0m0.2 0.7h0m-0.2 2.2h0m-0.1 5.1h0m-0.1 0.8h0m0.8 0.3h0m-0.7 0.4h0m0.3 2.3h0m0.1 0.9h0m-0.3 0.7h0m0.2 0h0m0.1 0.4h0m-0.1 0.3h0m0 0.4h0m-0.5 0h0m0.4 0.1h0m0.3 0.3h0m-0.2 0.1h0m0.3 0.1h0m0 0.1h0m-0.4 0.4h0m0.1 0.4h0m0.4 32.8h0m0.1-53.6h0m0.5 3h0m-0.2 2.2h0m-0.2 0.9h0m0.2 0.9h0m-0.1 0.2h0m0.4 2.4h0m-0.5 2.1h0m0.6 0.8h0m0 1.4h0m-0.3 0.1h0m0 2.5h0m0.5 0.3h0m-0.3 0.2h0m-0.5 0.2h0m0.2 0.1h0m0.4 0.8h0m0.3 0.3h0m-0.2 0.3h0m-0.5 0.1h0m-0.1 0.7h0m0 0h0m-0.2 0h0m0.5 0.6h0m0.1 0.7h0m1-19.5h0m-0.3 0.2h0m0.2 4.6h0m-0.2 1.1h0m0.2 0.5h0m-0.1 0.5h0m0.5 3h0m-0.5 0.2h0m-0.2 0h0m0.3 0.1h0m0.1 0.7h0m-0.2 0.7h0m0.2 0.1h0m-0.1 0.6h0m0.2 0.2h0m0 0.2h0m-0.6 0.4h0m-0.1 1h0m0.9 0.9h0m-0.5 0.6h0m-0.3 1.1h0m0 0.2h0m0 0.2h0m0.2 1h0m-0.1 0.2h0m0.2 0.6h0m0 0h0m0.2 0.2h0m-0.1 0.3h0m-0.3 32.5h0m1.3-79.6h0m0.2 0.1h0m-0.1 1.5h0m0.3 4.5h0m-0.2 1.5h0m-0.2 4.3h0m-0.5 0.6h0m0.5 1.2h0m0.4 4h0m-0.8 4.3h0m0.1 2.3h0m0 1.2h0m-0.1 2.5h0m0.3 4.2h0m0.1 2.5h0m0.4 1.6h0m-0.4 0.3h0m-0.4 1.2h0m0.2 0.2h0m0 0.3h0m0.6 1.1h0m-0.7 0.1h0m0.1 0.1h0m0.6 0.6h0m-0.8 0.1h0m-0.1 0.9h0m0.5 0.3h0m-0.2 0.7h0m0 0.2h0m0.4 0.1h0m0.2 0.4h0m-0.2 0.1h0m-0.2 0.1h0m-0.5 0.4h0m0.1 0.3h0m0.6 0.6h0m-0.3 0.1h0m-0.1 0.3h0m-0.1 0.5h0m0.2 0.4h0m-0.1 0.2h0m0.4 0.3h0m-0.1 0h0m-0.3 0h0m0.7 0.3h0m-0.2 0.4h0m-0.6 0h0m-0.2 0.4h0m0.5 32.6h0m1.1-66.8h0m-0.2 2.2h0m0.1 3.7h0m0 11.4h0m-0.2 3.3h0m0.2 2.2h0m0.2 0.9h0m-0.6 0.6h0m0.5 1.3h0m-0.4 1h0m0.2 0.1h0m0.5 0.6h0m-0.1 0.1h0m-0.6 0.2h0m0.2 0.4h0m0.3 2.2h0m0.1 0.3h0m-0.2 0.3h0m0 0.2h0m0 0.3h0m-0.2 0h0m0 0.1h0m-0.3 0.7h0m0.4 0.4h0m0.2 0.3h0m-0.5 0.2h0m0.1 0.5h0m0.4 0.3h0m-0.3 0.2h0m0 0.3h0m0.4 32.6h0m1-42.5h0m-0.3 0.5h0m0.3 0.1h0m-0.1 0.6h0m0.1 0h0m0 1.6h0m-0.4 0.8h0m0 1.3h0m0.4 0.1h0m-0.4 0.4h0m-0.4 0.2h0m0.4 0h0m-0.3 1.4h0m0.7 0.3h0m0 0.6h0m0 1.1h0m-0.3 0h0m0.1 0.1h0m-0.5 0.4h0m0 0.2h0m0.8 0.2h0m0.2-7.8h0m0.1 1.9h0m0.1 0.6h0m-0.1 1.2h0m-0.1 1.1h0m0 2.6h0m-0.1 0.4h0m0.1 32.2h0m16.9-40.5h0m-0.1 3.1h0m0 37.9h0m0.6-101.4h0m0 0.2h0m0.1 0.7h0m-0.3 4.5h0m0.2 3.2h0m-0.2 4.3h0m-0.1 2.3h0m0.1 2.5h0m-0.1 3.6h0m-0.1 2.8h0m0.2 2.8h0m0.4 2.3h0m-0.2 4h0m0.1 3.1h0m-0.3 4.3h0m0.3 2.5h0m-0.2 2.6h0m0 4h0m0.3 0.4h0m0.2 1.6h0m0 2.7h0m-0.4 1.7h0m0 1.5h0m0.5 0.2h0m-0.6 0.6h0m-0.2 1.4h0m0 0.3h0m0.4 0.2h0m0.2 0.3h0m-0.4 0.5h0m-0.2 0h0m0 0.1h0m0.1 0.3h0m0.6 0.5h0m-0.7 1.5h0m0.7 1.6h0m0 0.5h0m-0.1 0.4h0m-0.4 0h0m0 0.6h0m0.2 0h0m-0.2 0.2h0m0 0.2h0m-0.3 0.1h0m0.8 0.5h0m-0.8 0.1h0m0.8 0.1h0m-0.6 0.4h0m-0.2 0.3h0m0 0.2h0m1-37.7h0m0 10.6h0m0.2 2.3h0m0 1.4h0m-0.1 8.6h0m-0.1 2h0m0.1 0.4h0m0.5 1.6h0m0.2 1.2h0m-0.8 1.8h0m-0.1 0.5h0m0.1 0.2h0m0.1 2.1h0m0.2 0.9h0m0.6 0.5h0m-0.8 0h0m0.3 0.1h0m0 1.5h0m-0.1 0.6h0m0.4 0.1h0m-0.4 0.2h0m0.3 0.6h0m-0.4 0h0m0.5 0h0m-0.6 0h0m0.5 0.4h0m0 0.1h0m-0.5 32.6h0m1-62.9h0m-0.1 9.3h0m0 0.9h0m0 2.3h0m0.6 2.5h0m-0.5 0.4h0m0 0.2h0m0.2 4.5h0m0.4 0.3h0m-0.6 1h0m-0.1 0.5h0m0.7 0.1h0m-0.8 1.1h0m0.2 0.1h0m-0.1 0.7h0m0.5 0.2h0m0.2 1.4h0m-0.2 2.1h0m0.1 0.6h0m-0.5 0.2h0m0.8 0.1h0m-0.7 0.1h0m0.6 0.1h0m-0.1 0.6h0m0 0.4h0m-0.5 0.3h0m0 0.3h0m0.2 32.5h0m1-82h0m0.3 1.6h0m-0.5 1.9h0m0.5 1.6h0m-0.1 2.9h0m-0.4 3.7h0m0.5 4.3h0m-0.2 1.8h0m0.3 2.5h0m-0.8 3.2h0m0 0.4h0m0.5 1.5h0m-0.5 0.7h0m0 1.5h0m0.1 1.3h0m0.6 3.4h0m-0.2 0.2h0m0.3 3.7h0m-0.5 1.5h0m-0.2 1.3h0m0.6 2.2h0m-0.5 0.3h0m0.6 1.3h0m-0.3 0.1h0m-0.2 0.1h0m-0.3 0h0m0.3 0.1h0m0.2 0.8h0m0.1 0.4h0m-0.4 1.8h0m0.5 1.1h0m-0.3 0.7h0m-0.4 0.4h0m0.7 0.3h0m-0.7 0.1h0m0.4 0.3h0m-0.4 0.1h0m0.4 0.4h0m0.3 32.4h0m0.6-51.7h0m-0.2 0.7h0m0.2 0.5h0m-0.1 1.5h0m0 0.3h0m0 1.9h0m-0.1 0.5h0m0.3 2.8h0m-0.2 1.6h0m0.5 1h0m-0.5 0.1h0m-0.3 0.2h0m0.2 0.2h0m0.2 0.8h0m-0.1 0.4h0m-0.2 0h0m0.4 0.4h0m0.5 0.1h0m-0.5 1h0m-0.4 2.2h0m0.1 0.2h0m0.8 0.1h0m-0.1 0.1h0m-0.5 0.2h0m-0.1 0.1h0m-0.1 0.3h0m0.3 0.6h0m0.4 0.5h0m-0.4 0.5h0m0.4 0.1h0m-0.1 0h0m-0.5 0h0m-0.2 0.4h0m1.4-16.4h0m-0.4 2.2h0m0.6 4.3h0m0.1 1.3h0m-0.4 0.2h0m0.3 0.1h0m-0.4 0.1h0m-0.1 0.4h0m0.3 0h0m-0.4 1.2h0m0.7 0.3h0m-0.3 0.8h0m0.4 0.6h0m-0.8 0.1h0m0.7 0.1h0m-0.6 0.6h0m0.4 1.3h0m0.2 0.6h0m-0.5 0h0m0.5 0.2h0m0.1 0h0m-0.6 0.1h0m0.4 0h0m-0.2 0.4h0m0.3 0.2h0m0.1 0.1h0m-0.5 0h0m-0.3 0.2h0m0.2 0.2h0m0.7 0.1h0m-0.6 0.8h0m-0.3 32.4h0m1-58.1h0m0 6.5h0m0.1 1.2h0m0.3 1.9h0m0.2 8.9h0m0.1 0.7h0m-0.5 0.4h0m0.2 0.5h0m-0.1 2.4h0m-0.3 0.6h0m0.5 0.3h0m-0.5 0.5h0m0 0.3h0m0.1 0.4h0m0.1 0.3h0m0.5 0h0m-0.3 0.6h0m-0.2 0h0m0.1 32.4h0m17.2-44.6h0m0.3 4.3h0m-0.3 0.4h0m0.2 1h0m-0.3 0.5h0m0.3 0.3h0m-0.5 0.2h0m0.3 0.9h0m-0.1 1.1h0m0.4 0.3h0m-0.3 0.2h0m0.2 0.4h0m-0.3 0.2h0m0.1 0h0m0.4 0.7h0m-0.1 0.6h0m-0.2 0.4h0m0.1 0.3h0m-0.1 0.5h0m0.2 0h0m-0.7 32.2h0m1.5-44.1h0m-0.3 0.4h0m-0.3 3h0m0.2 1.1h0m0 0.5h0m0.7 0.2h0m-0.3 0.9h0m0 0.4h0m-0.1 0.4h0m0.2 1.2h0m0.2 0.6h0m-0.8 0.3h0m-0.1 0.1h0m0.5 0.5h0m-0.4 0.9h0m0.2 0.3h0m0.5 0h0m-0.7 0.3h0m0.6 0.2h0m-0.8 0h0m0.5 0.1h0m0.2 0.1h0m-0.2 33.1h0m1-67.4h0m-0.4 1.6h0m0.4 3h0m0.3 3.2h0m-0.4 2.2h0m-0.1 0.4h0m-0.1 1.2h0m0.3 0h0m0.1 0.5h0m-0.4 1.5h0m0.1 3.6h0m-0.1 0.3h0m0 0.2h0m0 0.7h0m0.3 1.4h0m-0.4 1.2h0m0.9 0h0m-0.7 2.5h0m0.1 0.3h0m-0.1 0.7h0m0.1 0.8h0m-0.1 0.2h0m-0.2 0.1h0m0.3 0.1h0m0 0.1h0m0.1 0.9h0m-0.3 1.6h0m0.7 0.7h0m-0.3 0.2h0m-0.5 0.3h0m0.7 0h0m-0.4 0.4h0m0.5 0.5h0m-0.1 0h0m-0.1 0.2h0m-0.1 0.2h0m0.1 0.5h0m0 1.3h0m-0.5 0.5h0m0.7 0.1h0m-0.8 0.2h0m0.5 0h0m-0.2 0.6h0m0.6 0.7h0m-0.2 32.2h0m0.7-52.4h0m0.3 2.9h0m0.1 0.7h0m-0.6 1.7h0m0.1 0.8h0m0 0.3h0m0 0.1h0m-0.2 0.5h0m0.2 0.4h0m0.3 2.2h0m-0.6 2.2h0m0.3 0.1h0m0.4 0.4h0m-0.8 0.7h0m0.8 2.1h0m-0.1 0.2h0m-0.3 0.9h0m0.5 0.1h0m-0.8 0.3h0m0.1 0.4h0m0.2 0.1h0m0.2 0.1h0m-0.5 0.5h0m0.1 0.1h0m0.2 0.3h0m-0.1 0.1h0m0.7 0.5h0m-0.2 1.1h0m-0.5 0.1h0m0.5 0.3h0m0.4-25.2h0m0.8 3.9h0m-0.9 8.6h0m0.5 0.8h0m0.1 1h0m-0.7 0.9h0m0.1 0.1h0m0.6 0.4h0m0.2 0.2h0m-0.4 0.5h0m0.4 0h0m-0.4 0.6h0m0.3 0h0m-0.6 0.1h0m0.3 0.5h0m0 0.1h0m0.3 0.9h0m-0.5 0.3h0m-0.3 0.2h0m0.4 0.2h0m0.1 0.3h0m0 0.1h0m0.5 0.6h0m-0.4 1.8h0m-0.1 0.2h0m0.3 0.2h0m0.1 0.3h0m-0.7 0.8h0m0.4 0.1h0m0.3 0.4h0m-0.1 0.6h0m-0.2 0.5h0m-0.5 32.4h0m1-43.1h0m-0.1 6.6h0m0.1 1h0m-0.1 1.6h0m13.6-24.6h0m-0.1 3.4h0m0.2 1.5h0m-0.2 0.5h0m0.1 5.3h0m-0.2 2.7h0m0.1 1.8h0m0 3.8h0m0.1 1h0m-0.1 0.5h0m0.2 1.3h0m0 3.6h0m-0.3 33.4h0m1.3-54.7h0m0 7.1h0m0.3 3.5h0m-0.3 0h0m0 0.1h0m-0.1 1.8h0m0.3 0.5h0m-0.2 0.6h0m-0.7 0.2h0m0.3 0.2h0m0.5 0h0m-0.3 0.1h0m0.3 0.3h0m-0.6 1.2h0m-0.1 0.1h0m-0.1 0.6h0m0.1 0.7h0m0.4 0.1h0m-0.1 0.1h0m0.3 1.1h0m0.2 0h0m0.1 0.5h0m-0.9 0h0m0.5 0.5h0m-0.5 0.1h0m0.3 0h0m0.3 0.3h0m0.2 0h0m-0.2 1.2h0m-0.1 0.1h0m-0.4 0.1h0m0.1 0.2h0m0 0.1h0m0.2 0.2h0m-0.3 0h0m0.1 0.3h0m0.4 0.2h0m-0.6 0h0m0.6 32.4h0m1.2-65.8h0m0 5.5h0m-0.2 7.5h0m0.2 3h0m0.1 5.2h0m-0.6 1.2h0m0.6 0.2h0m-0.7 1.1h0m-0.2 1.8h0m0.8 0.2h0m-0.7 1.3h0m-0.2 0.1h0m0.9 0.3h0m-0.5 1.3h0m0.5 0.9h0m-0.7 1h0m0.2 0.1h0m-0.1 0.7h0m-0.2 0.1h0m0.4 0h0m0.1 0.1h0m-0.3 0.1h0m0.2 0h0m0.4 0.1h0m-0.9 0.1h0m0.9 0.1h0m-0.1 0.3h0m-0.7 0.2h0m0.6 0.5h0m0 0.2h0m-0.3 0.1h0m0 0h0m0.6 32.5h0m0.1-58.6h0m0.7 6.1h0m-0.6 1.2h0m-0.1 4.1h0m0.7 0.4h0m0.1 0.9h0m-0.7 3.1h0m-0.1 0.6h0m-0.1 3.6h0m0.3 0.9h0m0 0.1h0m0.2 0.2h0m0 1.7h0m0.1 0.7h0m0.3 0.3h0m-0.3 0.7h0m0.2 0.2h0m-0.7 0.2h0m0.1 0.2h0m0.1 0.3h0m0.5 0.1h0m-0.3 0.2h0m0.3 0.1h0m-0.2 0h0m-0.3 0.1h0m0.2 0.1h0m0.6-7.4h0m0.1 2.6h0m-0.1 3h0m0.2 34.5h0m12.6-64.4h0m-0.2 28.3h0m0.1 0.7h0m0 1.4h0m0.2 1.3h0m-0.2 1h0m0 0.6h0m0.2 0h0m-0.3 30.7h0m0.9-43.6h0m0.4 0.8h0m-0.1 1.3h0m-0.4 0.1h0m0.2 0.2h0m-0.2 0.4h0m-0.3 0.3h0m0.1 0.1h0m0.2 0.1h0m-0.5 1.7h0m0.9 0.8h0m0.1 0.8h0m-0.6 0.6h0m0.5 0.4h0m-0.1 0.5h0m-0.7 0.7h0m0.4 0.2h0m-0.1 0.5h0m0.3 0.3h0m0.1 0h0m-0.5 0.5h0m0.4 0.2h0m0 0.3h0m0 0.2h0m-0.3 0.5h0m0 0.2h0m-0.3 0.5h0m0.8 0.3h0m0 0.7h0m0.1-22.2h0m0.5 3.5h0m0.4 4.3h0m-0.1 1.9h0m-0.7 1.7h0m0.9 0.5h0m0 1h0m-0.9 0.1h0m0 0.8h0m0.8 0.2h0m-0.6 1.1h0m0.4 0.9h0m-0.5 0.7h0m0 0h0m-0.1 1.3h0m0.7 0.2h0m-0.5 0.3h0m0.7 0.8h0m-0.1 0.6h0m-0.9 0h0m0.6 0.7h0m0.2 0.2h0m0 0.5h0m-0.1 0.3h0m0.2 0.4h0m-0.4 0.1h0m0.1 0h0m0.3 0h0m-0.7 0.1h0m0.5 0.1h0m0.2 0.2h0m-0.9 30.4h0m1.6-46h0m-0.5 3.2h0m0.5 0.4h0m-0.3 0.1h0m0.5 0.9h0m-0.2 1.7h0m-0.5 0.5h0m0.8 0.4h0m-0.6 0.1h0m0.2 0.3h0m0.1 0.4h0m-0.6 0.9h0m0.7 0.3h0m-0.6 0.2h0m0.1 0h0m0.5 2.4h0m-0.1 0.4h0m0.1 1.2h0m-0.3 0.3h0m-0.1 0h0m-0.2 0.1h0m0.5 0.1h0m-0.5 0.5h0m0 0h0m0.4 0.8h0m0.4 0.1h0m-0.2 0.1h0m-0.6 0h0m0.1 0.1h0m0.1 30.6h0m1.2-90h0m0 0h0m0.2 2.9h0m-0.4 1.7h0m0.3 4.7h0m-0.3 4.1h0m0.1 2.4h0m-0.1 1.5h0m-0.1 2.1h0m0.7 3.4h0m-0.8 4.4h0m0.3 1.7h0m0.1 2.9h0m0.4 2.6h0m-0.2 2.2h0m0 2.5h0m-0.3 0.2h0m0.2 1.6h0m0.2 2.9h0m0 0.5h0m-0.4 1.4h0m0.1 1.3h0m0.3 0.5h0m-0.6 1.6h0m-0.1 0.2h0m0.8 0.2h0m-0.1 0.9h0m0 1h0m-0.5 0.7h0m0.4 1.3h0m-0.3 1.5h0m-0.2 0.2h0m0.7 0.7h0m-0.6 0.1h0m0.1 0.2h0m0.2 0.2h0m0.4 0.8h0m-0.1 0.7h0m-0.3 0.2h0m0 31.6h0m0.8-42.3h0m0 6.5h0m-0.3 0.1h0m0.3 1.7h0m-0.2 2h0m0.3 0.4h0m-0.2 0.8h0m-0.1 0.1h0m-0.1 0.3h0m0.4 0.2h0" stroke="#7e7e7e" stroke-width="1.9" stroke-linecap="round" fill="none"/>
<path d="M75.4 571.3h0m0 3.9h0m0 5.7h0m0 1h0m0 5.9h0m-0.7 2.5h0m0.6 3.2h0m-0.3 0.4h0m0.2 1.2h0m-0.3 0.6h0m0.4 0.2h0m0 3.2h0m-0.7 0.6h0m0.2 0.8h0m0.6 0.4h0m-0.1 1.5h0m-0.6 0h0m0.1 0.8h0m0.6 1.9h0m-0.1 0.1h0m-0.2 0.2h0m-0.1 0.3h0m-0.4 27.2h0m1-68.3h0m0 6.3h0m0.8 3h0m-0.8 6.4h0m0.9 9.6h0m-0.8 0.7h0m-0.1 2.8h0m0 0.3h0m0.6 1.7h0m-0.1 0.9h0m-0.5 0.6h0m0.4 1.3h0m-0.2 1.3h0m0.1 0.5h0m0 0.8h0m0.5 0.9h0m-0.7 1h0m0.8 0.2h0m-0.1 0.1h0m-0.3 0.1h0m-0.2 0.3h0m0.2 0.7h0m-0.4 0.6h0m0.7 0.4h0m-0.6 0.3h0m0.3 0.2h0m-0.1 0.1h0m-0.1 27.5h0m0.7-50.3h0m0.1 1.9h0m0.7 4.4h0m0 2h0m-0.2 0.7h0m-0.6 0.1h0m-0.1 1.6h0m0.4 0.6h0m0.3 2.9h0m-0.2 0h0m0 0.3h0m-0.4 1.7h0m0.2 0.2h0m-0.2 0.2h0m0.3 0.2h0m-0.1 0.2h0m-0.2 0.3h0m0.4 1.3h0m-0.3 0.6h0m0.7 0.3h0m-0.5 1.6h0m0.3 0h0m-0.1 0.3h0m-0.2 0.1h0m0.1 0.4h0m0.4 0.6h0m-0.2 27.4h0m0.9-53h0m0.2 0.4h0m0 2.7h0m0 0.6h0m0.2 1.8h0m-0.3 1h0m0 0.9h0m-0.4 1.9h0m0.5 4.2h0m-0.1 1.8h0m-0.3 0h0m-0.3 0.8h0m0.3 1.7h0m0.2 0.1h0m0.2 0.9h0m-0.8 0h0m0.2 1.6h0m0.1 0.3h0m0.5 0.7h0m-0.3 0.1h0m-0.2 0.1h0m0.2 0.5h0m-0.1 1h0m0.1 0.7h0m0.5 0h0m0 0.3h0m-0.7 0.4h0m0.6 0.2h0m-0.6 0.2h0m0.4 1h0m1.1-36.8h0m-0.1 3.3h0m-0.2 2.9h0m0.3 8.7h0m-0.3 2.8h0m0.1 6.9h0m0.1 0.4h0m-0.1 0.6h0m0.2 2.1h0m-0.3 1.4h0m-0.5 0.6h0m0.6 0.2h0m0.4 1.2h0m-0.3 2.9h0m0.3 0.1h0m-0.4 0.1h0m0.2 0h0m-0.2 0.7h0m-0.4 0.2h0m0.7 0.3h0m-0.8 1h0m0.5 0.2h0m0.1 0.2h0m-0.1 0h0m-0.6 27.2h0m1.3-37.3h0m0.5 0.8h0m0 3.9h0m-0.8 1.1h0m0.8 0.4h0m-0.2 0.5h0m0.2 0.1h0m-0.6 0h0m0.8 0.3h0m-0.9 0.1h0m0.1 0h0m0.5 0.6h0m0 0.8h0m-0.4 0.4h0m0.2 0.7h0m-0.4 0.2h0m0.8 0h0m-0.3 0.2h0m-0.3 27.2h0m1.1-48.4h0m0.3 1.5h0m0.2 0h0m-0.9 2.7h0m0.8 0.8h0m0.2 1.5h0m-0.9 0.9h0m0.7 0.3h0m-0.6 0.2h0m-0.1 1h0m-0.1 1h0m0.6 0.2h0m0.2 0.7h0m0.1 0.8h0m-0.7 0.6h0m0.7 0.3h0m-0.6 0.3h0m-0.3 0.4h0m0.2 0.5h0m-0.1 0.5h0m0.1 0.7h0m0.5 2.1h0m-0.3 0.1h0m0 0.6h0m0.2 0.1h0m0.1 0.1h0m-0.1 0.1h0m-0.2 0.3h0m-0.2 0.3h0m0.6 1.6h0m0.2 0.7h0m-0.6 0.2h0m0.4 0.2h0m0.1 0h0m-0.3 26.8h0m1.1-65.8h0m0.1 3.2h0m-0.3 7.2h0m0.1 1.9h0m0.3 9.2h0m-0.9 4.5h0m0 0.4h0m0.5 0.2h0m0.4 0.5h0m-0.8 0.7h0m0.3 1.1h0m0.2 0h0m0.4 3h0m-0.7 0.2h0m0.4 1.5h0m0.1 0.4h0m-0.1 0.3h0m-0.3 0.1h0m0 0.1h0m0.5 0.6h0m-0.7 0.3h0m0.6 0h0m-0.5 0h0m0.1 0.3h0m-0.1 1.1h0m0.5 0.2h0m0.1 0.2h0m-0.3 0.4h0m-0.5 0.2h0m0.8 0.3h0m-0.3 0.1h0m-0.4 0.1h0m0.2 0h0m0.1 0.1h0m0.4 27.9h0m0.9-58.6h0m0 5.9h0m0.1 0.2h0m-0.1 2h0m-0.1 0.9h0m0 0h0m0.3 0.3h0m-0.8 5.9h0m0.6 0.4h0m0.1 3.8h0m-0.8 2h0m0.9 1.5h0m-0.4 0.1h0m0 0.4h0m-0.4 1.1h0m0.5 0.2h0m0 0.4h0m-0.6 1h0m0.7 0.4h0m-0.2 0h0m0.1 1.5h0m-0.6 0.7h0m0.1 2.3h0m0.1 0.2h0m0.8-16.1h0m0.2 1.4h0m-0.3 3.2h0m0.9 0.8h0m-0.3 1.6h0m-0.4 0.9h0m-0.1 0h0m0.8 0.9h0m0.1 0.2h0m-0.7 0.9h0m0 0h0m0.7 0.8h0m-0.6 0.9h0m0.6 0.2h0m-0.3 0.6h0m-0.5 0.8h0m0.6 0.2h0m-0.3 1.3h0m0.2 1.2h0m-0.5 27.2h0m1.4-62.1h0m0.3 2.3h0m-0.2 7.9h0m-0.1 5.8h0m0.1 3.6h0m0.2 2h0m0 0.9h0m-0.2 0.5h0m0.1 0.2h0m-0.7 1.2h0m0 1.3h0m0.7 3.9h0m-0.4 0h0m-0.1 0.1h0m-0.1 1.5h0m0.4 0.2h0m-0.1 0.4h0m0.3 0.1h0m-0.1 0h0m-0.3 0.5h0m0.4 0.1h0m0 0.2h0m0 0.1h0m-0.7 0.6h0m0 0h0m0.7 0.9h0m-0.3 0h0m-0.4 0h0m0.7 0.1h0m-0.3 0h0m-0.4 0.1h0m0.3 0h0m-0.1 0.2h0m0.3 0.1h0m-0.1 0.2h0m0 0.1h0m0 27.5h0m0.7-55.1h0m0.1 10.5h0m0.2 2.6h0m0.2 0.6h0m0 3.5h0m0.1 0.7h0m-0.1 2h0m0.2 0.4h0m-0.9 0.1h0m0.2 0.5h0m0.6 1h0m-0.4 1.4h0m-0.2 0.2h0m0.5 0.4h0m-0.6 0.1h0m0.2 0.4h0m0.7 0.9h0m-0.5 0.5h0m-0.4 0.2h0m0.7 0.4h0m-0.7 0.7h0m0.5 0.1h0m0.2 27.5h0m0.7-48.1h0m-0.2 13h0m0.1 0.4h0m-0.2 1.3h0m0.6 0.9h0m0 0.5h0m-0.5 1.3h0m-0.1 0.1h0m0 0.2h0m0.1 1.8h0m-0.2 0.2h0m0.3 0.1h0m0.1 0.3h0m0.3 0.6h0m-0.5 0h0m0.1 0.3h0m29.5-12.6h0m0.1 1.6h0m-0.2 4.3h0m0.2 1.7h0m-0.2 0h0m0.2 0.1h0m0 0.4h0m-0.2 31.9h0m0.8-53.3h0m-0.3 6.2h0m0.5 0.5h0m-0.5 2.9h0m0.4 0.9h0m0.3 0.1h0m-0.7 2.1h0m0.3 0.8h0m0.3 0.1h0m-0.2 0.3h0m-0.6 0.3h0m0.7 0.5h0m-0.1 1.1h0m-0.6 0.9h0m0.9 0.6h0m-0.9 0.5h0m0 2h0m0.3 1.3h0m-0.3 0.1h0m1.1-44.7h0m0.3 11.3h0m-0.1 4.1h0m-0.2 7.2h0m0.3 0.1h0m-0.4 1.6h0m0.6 0.1h0m-0.3 3.3h0m-0.1 2h0m0.2 1.2h0m-0.2 0.3h0m0.1 0.5h0m0.2 1.2h0m-0.5 0.7h0m0.3 0h0m0.2 1.1h0m-0.2 2h0m0.1 0.9h0m-0.3 0.1h0m0.8 2.8h0m-0.8 0.8h0m0.6 0.1h0m-0.7 0.9h0m0.7 0.1h0m-0.1 1.1h0m-0.2 0.1h0m0.1 0.1h0m-0.5 0h0m0.7 0.1h0m-0.7 0.2h0m0.5 0.3h0m-0.2 0.4h0m-0.1 0h0m-0.2 32.2h0m0.9-55.2h0m0.7 4.9h0m-0.2 1.1h0m0.1 2.9h0m-0.6 2.4h0m0.4 2.1h0m0.3 0.3h0m0.1 0.1h0m-0.6 1.4h0m0.2 0.5h0m0.5 0.2h0m-0.5 0h0m0 0.2h0m-0.2 0.1h0m0.7 0.5h0m0 1h0m-0.3 0.4h0m0.3 0.2h0m-0.2 0.4h0m0.3 0.1h0m-0.3 0.3h0m0 0.2h0m-0.2 0.9h0m0.1 0h0m0.2 0.4h0m-0.5 0.2h0m0.2 0.1h0m-0.2 0.3h0m-0.1 0.2h0m0 0.1h0m0.7 0.1h0m-0.8 0.3h0m0.7 0.6h0m-0.2 0.2h0m-0.6 0h0m0.8 0.1h0m-0.4 32.2h0m1.4-68.5h0m-0.1 1.1h0m0 2.1h0m0 1.7h0m0.2 8h0m0.1 2.3h0m-0.4 6.9h0m0.2 5.2h0m-0.4 2.6h0m-0.3 1.1h0m0.2 0.3h0m0.5 0.2h0m-0.2 0.1h0m0.1 2.1h0m0.2 1h0m-0.7 0.2h0m0.2 0.8h0m0.3 32.7h0m1-57.4h0m-0.2 1h0m-0.5 4.5h0m0.3 0.2h0m0.2 2.6h0m0 1.8h0m-0.3 2.9h0m0.1 1.2h0m0 0.8h0m-0.3 2h0m0.9 0.9h0m-0.5 1h0m-0.3 0.4h0m0.5 0.5h0m-0.3 1.3h0m0.1 0.7h0m0.5 0.5h0m-0.1 0.6h0m-0.7 0.1h0m0.2 0.3h0m0.6 0.9h0m0 0.2h0m-0.7 0h0m1.4-15.7h0m-0.3 2.3h0m-0.2 2.5h0m0.1 0.3h0m0.3 0.2h0m-0.3 0.7h0m0.5 1h0m-0.3 3.1h0m0.2 1.2h0m-0.6 1.5h0m0.5 0.4h0m0.3 0.4h0m-0.3 0.6h0m-0.2 0h0m0.4 0.7h0m-0.6 0.5h0m0.8 0.4h0m-0.3 0.1h0m-0.6 32.9h0m1.3-44.2h0m0 1.8h0m0.3 3h0m-0.4 2.2h0m0 0.2h0m0.6 0.4h0m-0.5 0.8h0m-0.3 0.4h0m0.4 0.2h0m0.3 0.3h0m0.1 0h0m-0.1 0.8h0m-0.2 0.7h0m-0.4 0.1h0m0.2 33.1h0m1.2-73h0m0.1 8.1h0m-0.1 0h0m0.3 2.1h0m-0.3 4.4h0m0.2 1.2h0m0.1 8.9h0m-0.6 1.1h0m0.6 2.4h0m-0.2 1.1h0m0.4 1.7h0m-0.1 0.8h0m-0.4 0.3h0m-0.4 3.8h0m0.7 0.1h0m0.1 0.4h0m0 0h0m0 0.5h0m0.1 0.1h0m0 0.1h0m-0.7 0.6h0m-0.2 0.1h0m0.6 0.3h0m-0.5 0h0m0.5 0.2h0m-0.5 0.5h0m0.3 0.4h0m0.3 0.2h0m-0.8 0.3h0m0.3 0.1h0m0.3 33.5h0m1.4-77.9h0m-0.1 13.5h0m-0.1 7.1h0m0 0.5h0m0.2 1.5h0m-0.1 2.6h0m-0.2 0.4h0m0.1 2.4h0m0.1 0.3h0m0 1h0m-0.1 1.4h0m0.1 6.8h0m-0.8 0.3h0m0.9 1h0m-0.6 1.3h0m0 0.3h0m0.4 0.3h0m0.1 0.5h0m-0.1 0.1h0m-0.4 0.4h0m0.5 0h0m-0.6 0.7h0m-0.2 0.2h0m0.6 0.7h0m-0.1 0.1h0m-0.6 0h0m0.2 0.1h0m-0.2 0.1h0m0.4 0.5h0m0.5 33.7h0m0.2-79.5h0m0.3 1.2h0m0.1 1.2h0m-0.4 2.7h0m0.3 4.8h0m0.2 1.8h0m-0.3 5.1h0m0.3 3.6h0m0 1.1h0m-0.6 0.3h0m0.6 0.2h0m-0.6 2.4h0m0.9 2.8h0m-0.5 1.4h0m-0.2 2.1h0m0 0.5h0m0.1 1.5h0m0.2 0.3h0m-0.2 1.7h0m0.5 1.4h0m-0.7 0.3h0m0.6 1h0m0.2 1.4h0m-0.3 1.2h0m-0.6 0.5h0m0.4 0.6h0m-0.3 0.8h0m1.4-38.2h0m-0.3 1.6h0m0.2 2.1h0m0.6 4.3h0m-0.2 0.1h0m-0.6 2.2h0m0.3 2.3h0m0.3 2.1h0m-0.1 0.4h0m0.1 0.8h0m-0.7 1.2h0m0.7 0.1h0m-0.2 0.3h0m0.4 0.7h0m-0.5 0h0m0.3 2h0m-0.1 1.3h0m-0.3 0.6h0m0.6 0.1h0m-0.7 0h0m0.6 2.2h0m-0.4 0.7h0m-0.2 1h0m-0.2 0.5h0m0 0.8h0m0 0.4h0m0.3 0.5h0m0.4 0.1h0m-0.8 1.1h0m0.2 0.8h0m0.6 0.8h0m0 0.2h0m-0.4 1.1h0m0.1 0h0m0.1 0.1h0m-0.3 0.3h0m-0.2 0.9h0m0 0.2h0m0.5 0.4h0m-0.4 0.2h0m0.2 1.3h0m0.4 2.2h0m-0.6 37.7h0m1.8-103.1h0m-0.2 1.6h0m0 1.6h0m0.2 3.1h0m-0.3 10.8h0m0.1 2.8h0m-0.2 1.7h0m0.2 3.7h0m-0.1 1.6h0m-0.7 1.1h0m0.7 1.7h0m-0.2 3.9h0m0.1 0.7h0m0 0.5h0m0.2 8.7h0m-0.1 0.7h0m-0.2 0.2h0m0.3 1h0m-0.3 2.3h0m0.2 0.8h0m-0.7 0h0m0 0.2h0m1 0.1h0m0 0.8h0m-0.8 0.9h0m0.7 0.5h0m-0.5 0.1h0m0.1 0.4h0m0.5 0.2h0m-0.2 0.8h0m0.1 0h0m-0.1 0.1h0m-0.3 0h0m0.4 0.2h0m0 0.2h0m-0.6 0.1h0m-0.3 0.1h0m0.4 0.1h0m0.4 0.6h0m-0.3 0.4h0m-0.2 0.1h0m0.1 0.8h0m0.3 0h0m-0.1 0h0m-0.5 1.4h0m0 0.2h0m0.6 4.8h0m0.1 3.8h0m-0.3 37.5h0m0.6-103.9h0m0.2 6.4h0m-0.3 3.9h0m0.2 4.1h0m-0.1 9.8h0m0.2 6.6h0m-0.1 3h0m0.2 4.4h0m-0.2 3.6h0m-0.2 4.3h0m0.1 2.1h0m0.2 1.4h0m-0.1 0.2h0m-0.2 1.1h0m0.4 1.2h0m0 7.9h0m-0.3 4.5h0m27.9-2.4h0m0 2.9h0m-0.1 0.9h0m0.1 2.1h0m-0.1 2.9h0m-0.1 0.1h0m0 33.1h0m1.1-61.5h0m-0.1 2.8h0m0 11.6h0m0.1 0.7h0m-0.2 4h0m0.2 0.6h0m-0.6 1h0m0.5 0.1h0m-0.2 1.1h0m0.1 0.1h0m0.1 0.6h0m0.1 0.9h0m-0.8 0.1h0m0.8 0.1h0m-0.9 0.4h0m0.6 1h0m0.3 0.2h0m0.1 1.4h0m-0.2 0.3h0m0 0h0m0 0.3h0m-0.8 0.1h0m0.9 0.1h0m-0.3 0.1h0m0.1 0.4h0m-0.1 0.3h0m1.2-43.8h0m0 1.3h0m0 5h0m0 13.5h0m-0.2 3.3h0m0 1.7h0m0.1 1.7h0m-0.6 7.9h0m0.5 0.7h0m0.1 0.2h0m-0.1 2.4h0m-0.4 0.8h0m-0.1 1.2h0m0 1.1h0m-0.1 0.4h0m0.4 0.3h0m0.2 0.1h0m-0.6 0.4h0m0.8 0.8h0m-0.4 0.1h0m-0.3 0.4h0m0 0.2h0m0.4 0.2h0m-0.4 0.1h0m0.1 0h0m0.6 0.5h0m-0.7 33h0m1.7-52.9h0m-0.3 1.3h0m-0.4 6.1h0m0.6 3.2h0m-0.3 2.4h0m0.6 0.5h0m-0.1 0.3h0m-0.5 0h0m-0.1 0.3h0m0 1.2h0m0.3 0.2h0m-0.2 1.6h0m-0.1 0.2h0m0.1 0.1h0m0.6 0.1h0m-0.3 0.4h0m-0.5 0.5h0m0.8 0.1h0m-0.7 0.5h0m0.2 0.1h0m-0.4 0.3h0m0.6 0.4h0m-0.6 0.1h0m0.3 32.8h0m1.6-90.5h0m-0.1 2.5h0m-0.1 8h0m0 6.4h0m-0.1 1.6h0m0.2 15.6h0m-0.6 1.4h0m0.6 0h0m-0.2 1.5h0m-0.1 4.5h0m0.3 4h0m-0.6 0.9h0m0 2.1h0m0.3 2.3h0m0.2 0.4h0m-0.6 0.4h0m0.6 0.2h0m0.1 0.9h0m-0.8 0.2h0m0.6 0.6h0m-0.4 1.4h0m0.7 0h0m-0.8 0.4h0m0 0.2h0m-0.1 0.6h0m0.3 0.8h0m-0.1 0.3h0m0.4 33.1h0m0.8-90.8h0m-0.2 5.8h0m-0.1 2h0m0 6.3h0m0.1 6.4h0m-0.2 2.5h0m0 3.1h0m0 2.8h0m0.4 2h0m-0.1 0.6h0m-0.1 1.4h0m0.1 6.3h0m-0.2 0.1h0m0 2h0m0.1 0.4h0m-0.1 5.3h0m0 2.5h0m0.2 2.5h0m0.6 0.9h0m-0.7 0.6h0m0.5 0.1h0m-0.4 0h0m0.6 0.2h0m0 0.1h0m-0.9 0.5h0m0.4 0.2h0m0.1 0.9h0m-0.1 0.1h0m0.2 1.2h0m-0.3 0.3h0m0.1 0.2h0m-0.3 0.3h0m-0.1 0.1h0m0.4 0.3h0m0.5 0.2h0m-0.9 0.1h0m0.9 32.4h0m0.2-57.8h0m0.7 3.3h0m-0.7 1.2h0m-0.2 0.4h0m0.3 2.1h0m-0.1 8.5h0m-0.1 0.2h0m0.3 1h0m-0.4 0.3h0m1 0.7h0m-0.2 0h0m-0.8 0.4h0m0.8 0.9h0m0.1 0.4h0m-0.1 0.5h0m-0.3 0.7h0m-0.3 0.1h0m0.1 0.5h0m0.6 0.9h0m-0.1 0.1h0m-0.4 0.8h0m0 0.8h0m-0.3 0.1h0m0.7 0.4h0m-0.2 0.2h0m0.5-24.4h0m-0.1 3.6h0m0.1 1.5h0m0.1 3.5h0m0.1 3h0m0.1 5h0m-0.1 0.5h0m-0.1 0.3h0m0.4 3.5h0m-0.3 0.8h0m0.3 0.3h0m-0.1 0.3h0m-0.1 0.6h0m0.2 0.5h0m0 0.2h0m0 0.8h0m-0.1 0.2h0m0.5 0.1h0m-0.9 0h0m0.7 0.1h0m0.2 0.1h0m-0.7 32.9h0m1.7-76.9h0m-0.6 9.6h0m-0.1 3.2h0m-0.3 6.4h0m0.2 0.3h0m0 4h0m0.7 1.5h0m0.1 1.2h0m-0.2 2.7h0m-0.7 1h0m0.2 0.6h0m0.5 2.2h0m-0.2 0h0m0.2 2.3h0m-0.2 1.7h0m-0.3 0.1h0m0.1 1.3h0m-0.4 0h0m0.8 0.5h0m0 0.2h0m0.1 1.9h0m-0.7 1.1h0m0.8 0.1h0m-0.9 0h0m0.7 0.2h0m-0.7 0.5h0m0.5 0.3h0m-0.5 0.2h0m0.7 0.2h0m-0.5 0.1h0m-0.1 0.8h0m0.7 0.1h0m-0.7 0h0m-0.1 0.1h0m0.3 0h0m0.2 32.6h0m0.6-68.7h0m-0.2 1.5h0m0 3.3h0m0.7 3h0m-0.6 2.4h0m0.6 2.3h0m-0.6 0.1h0m0.6 2.2h0m-0.6 0.9h0m0.6 0.9h0m-0.2 1.2h0m-0.4 0.8h0m-0.1 0.8h0m0.6 1.3h0m0.1 2.2h0m-0.2 1.5h0m-0.1 2.6h0m-0.4 0.6h0m0.3 1.2h0m0.3 0.2h0m0 0.2h0m0.1 0h0m-0.4 0h0m0.1 2.6h0m-0.3 0.7h0m0.2 0.8h0m0.3 0.3h0m-0.4 0.1h0m0.7 0.3h0m-0.2 0.3h0m-0.4 0.1h0m0.1 0.9h0m-0.2 0.1h0m0.3 0.3h0m0.1 0.2h0m0.3 0.3h0m0 32.3h0m0.1-46.6h0m0.5 0.4h0m0 2.7h0m0.5 0.4h0m-1 1.6h0m0.6 1.4h0m0.3 0.4h0m-0.8 0.3h0m0.7 0.1h0m-0.8 0.4h0m0.2 0.1h0m0.3 0.1h0m0.1 0.1h0m-0.1 1.3h0m0.5 0.1h0m-0.1 0.2h0m-0.2 0.2h0m-0.3 1.7h0m0.1 0h0m-0.5 0.8h0m0.9 0.8h0m-0.3 0h0m0.2 0h0m-0.3 0.2h0m0.2 0.2h0m0 0.3h0m-0.2 0.3h0m0.3 0.3h0m0.4-18h0m-0.2 9.1h0m0.3 0.2h0m0 0.6h0m-0.2 2.4h0m0.1 1.8h0m0.1 1.7h0m-0.1 1.6h0m-0.1 0h0m0.1 0.3h0m0 32.6h0m25.1-43.1h0m0.2 0.4h0m0.2 1.5h0m-0.5 0.1h0m0.7 0.9h0m0.1 0.1h0m-0.4 1.3h0m0.3 0.4h0m-0.4 2.4h0m0.1 1.1h0m0.2 1.2h0m0 1.4h0m0 0.5h0m0.2 1.1h0m-0.1 0.2h0m-0.5 0.1h0m0.3 0.4h0m-0.5 0.4h0m0 0.1h0m0.4 0.3h0m-0.1 0.2h0m-0.1 0.2h0m0.2 0h0m0.3 0h0m-0.7 0.5h0m0.7 0.6h0m-0.1 0.4h0m-0.6 0.1h0m-0.1 27.2h0m1.1-64.4h0m0 3.9h0m-0.1 9.4h0m0.1 4.3h0m0.8 0h0m-1 0.7h0m0.1 1.3h0m0.1 2.8h0m0.3 5.2h0m-0.4 0.2h0m0 1.8h0m0.3 1.8h0m0.5 0.4h0m-0.7 0.4h0m0.4 1.3h0m-0.1 0.4h0m-0.1 0.4h0m-0.2 0.3h0m0.7 0h0m0 0.9h0m-0.4 0.2h0m-0.4 0.2h0m0.3 1h0m0.4 0.4h0m-0.4 27.3h0m0.9-69.7h0m0 18.4h0m-0.1 3.6h0m-0.1 2.1h0m0.6 0.8h0m-0.6 1.3h0m0.3 0.8h0m0.2 2h0m-0.3 3.1h0m0.2 0.3h0m-0.3 0.6h0m0.2 0.1h0m-0.2 0.2h0m0.1 1.5h0m0.4 0.9h0m0 2.4h0m0.2 1h0m-0.4 0.5h0m-0.4 0.6h0m0.7 0h0m-0.5 0.1h0m0.1 0.1h0m0 0.7h0m0.2 0.2h0m0.2 0.2h0m-0.1 0.1h0m-0.3 0.2h0m0.5 0.6h0m-0.2 26.9h0m0.7-68h0m0 0.7h0m0.1 5.8h0m0.1 1.6h0m-0.1 2.2h0m0.1 2.2h0m0 4.8h0m-0.2 0.7h0m-0.1 3.9h0m0.1 2.5h0m0.3 0.3h0m-0.3 3.4h0m0.1 0.1h0m0 3.1h0m0.2 1.6h0m-0.7 1.3h0m0.6 0.2h0m0.2 0.2h0m-0.3 0.9h0m-0.4 1.4h0m0.4 0.1h0m-0.2 0.4h0m0 0.6h0m0.4 1.5h0m-0.1 0h0m0.2 0.4h0m-0.4 0.3h0m0.4 0.6h0m-0.3 0h0m-0.5 0.3h0m1.6-35.9h0m0.1 2.3h0m0.2 5.4h0m-0.1 0.3h0m0 3.1h0m0.1 2.7h0m-0.3 3.1h0m0.2 3h0m-0.2 0.4h0m-0.1 1.3h0m0.2 2.5h0m0 0.4h0m0 4.5h0m-0.1 0h0m0.1 0.4h0m-0.5 1.4h0m0.1 0.5h0m0.2 0.7h0m0.2 0.1h0m0 0.5h0m-0.2 0.6h0m-0.1 0.2h0m0.4 0.2h0m0.2 0.2h0m-0.7 0.5h0m0.5 0.6h0m-0.1 0.2h0m-0.7 0.1h0m0.4 0.4h0m0.5 0h0m-0.1 0h0m-0.8 0.2h0m0.9 0h0m0 0.1h0m-0.9 26.9h0m1-58.1h0m0.7 11.9h0m0.3 1.4h0m-0.1 0.1h0m-0.7 0.9h0m0.8 2.5h0m-0.5 2.6h0m-0.2 0.8h0m0.6 1.3h0m-0.3 0.6h0m-0.5 2.3h0m0.3 0.4h0m-0.1 0h0m0.2 0.5h0m-0.3 0.1h0m-0.1 0.2h0m0 0.4h0m0.5 0h0m-0.5 0.4h0m0.9 0.8h0m-0.6 0.3h0m-0.1 0.6h0m0 0.4h0m0.5 0.2h0m-0.3 0.2h0m-0.2 0.6h0m0.3 0.4h0m-0.4 0.2h0m0.4 0.2h0m-0.2 0.2h0m0.2 0.1h0m-0.1 0.1h0m0.2 0.3h0m-0.4 27.1h0m0.8-49.8h0m0.4 4.1h0m-0.3 3h0m-0.1 5h0m0.6 1.1h0m0 0.4h0m0.3 0h0m-0.9 0.3h0m0.8 0.3h0m-0.3 4h0m-0.2 1.1h0m0 0.2h0m0.4 0.2h0m-0.2 0.4h0m0.4 0.1h0m-0.7 0.4h0m-0.2 0.2h0m0.5 0h0m0.2 0.4h0m-0.6 0.2h0m0.1 0.2h0m-0.1 0.4h0m0.1 0.3h0m0.3 0.2h0m0 27.7h0m0.5-48.4h0m0.2 1.3h0m-0.1 4h0m0.7 2.7h0m-0.8 0.7h0m0.7 0.1h0m-0.7 1.6h0m0 0.2h0m0.5 1.2h0m-0.2 0.9h0m0 0.1h0m0 2h0m0.5 0.3h0m-0.2 1.8h0m-0.7 0.6h0m0 0.5h0m0.6 2.7h0m-0.4 0.1h0m0.6 0.2h0m0.1 27.1h0m1.1-67h0m-0.1 6.1h0m-0.1 10.6h0m0 0.1h0m-0.1 3.9h0m0.3 3.7h0m-0.7 0.5h0m0.7 2.5h0m-0.7 0.3h0m0.6 1.2h0m-0.1 0.6h0m0 0h0m-0.8 2h0m0.6 1.6h0m0.1 0.5h0m0 1.4h0m0.2 2h0m-0.2 0.2h0m-0.5 0.5h0m0.6 0.1h0m-0.6 0.1h0m0.5 0.2h0m0.1 0.2h0m-0.7 0.4h0m0.8 0.1h0m-0.1 0h0m-0.4 0.1h0m0.2 0.4h0m-0.5 0.2h0m0.4 0.2h0m0.5-36.1h0m0.2 6.5h0m0.2 3.8h0m-0.4 10.4h0m0.5 0.8h0m0 4.9h0m0.2 1.6h0m0.2 1.7h0m-0.1 0.2h0m-0.7 0.9h0m0.6 0.5h0m-0.5 0h0m0.2 1.3h0m0.2 0.3h0m-0.2 0.6h0m0.4 0.2h0m-0.1 1.1h0m0.1 0.3h0m0.1 0.8h0m-0.7 0.2h0m0.7 0.2h0m-0.7 0h0m0.2 0.1h0m-0.2 27.1h0m0.9-29.3h0m0.1 1.8h0m20.6-62.4h0m0 0.6h0m0.2 2.8h0m0 0.2h0m0 5.3h0m-0.2 1.7h0m0.1 0.2h0m-0.1 7.5h0m0 2.9h0m0 20.8h0m0.2 1.2h0m-0.5 0.1h0m-0.2 5.9h0m0.1 0h0m0.5 2.8h0m-0.5 0h0m-0.1 0.8h0m0.2 0.1h0m-0.2 0.6h0m0.3 0.1h0m0.2 0.2h0m-0.5 0.1h0m0.4 0.2h0m-0.4 0.3h0m0 35.8h0m0.7-56.5h0m0.6 1.1h0m-0.1 3.7h0m-0.1 0.5h0m-0.3 0.4h0m0.6 1.2h0m0.1 0.3h0m-0.2 0.3h0m-0.5 1.3h0m0.2 0.2h0m0.1 4.1h0m0.3 0.8h0m-0.5 0.1h0m0.5 0.4h0m-0.1 1.8h0m0.1 0.4h0m0.3 0.2h0m-0.7 0.3h0m0.6 1.4h0m-0.1 0.9h0m-0.7 0.4h0m0.2 0.1h0m0.4 0.3h0m-0.1 36.1h0m0.8-52.3h0m0.1 3.4h0m0.4 3.1h0m-0.3 4h0m-0.4 0.2h0m-0.2 0.8h0m0.1 1.7h0m0.9 0.4h0m-0.6 0.5h0m-0.2 0.4h0m0.5 0.2h0m0.1 0.1h0m-0.6 0.1h0m0.3 0.3h0m0.3 0.2h0m-0.4 0.5h0m0.1 0.5h0m0.4 0h0m0 35.8h0m0.6-60.7h0m0.5 3.2h0m-0.1 2.2h0m-0.8 5.9h0m-0.1 0.9h0m0.3 0h0m-0.1 1.1h0m0.4 3.6h0m-0.3 0.6h0m0.7 1.8h0m-0.7 0.3h0m0.6 0.5h0m-0.1 0h0m0.1 0.5h0m-0.8 0.1h0m0.5 0.1h0m-0.4 0.2h0m0.4 0.2h0m0.1 1.2h0m-0.2 0.2h0m-0.1 0.4h0m-0.2 0.2h0m0.5 0.1h0m-0.2 0.3h0m-0.2 0.1h0m0.1 0.3h0m-0.2 0.4h0m0 0.2h0m-0.2 0.1h0m0.7 0h0m-0.2 0.5h0m1-62.6h0m0 1.4h0m-0.2 2.7h0m0 3.5h0m0.4 2.7h0m-0.2 3.4h0m0.4 2.7h0m-0.6 3.6h0m-0.1 2.7h0m0.2 3.4h0m-0.3 3.6h0m0.8 3.3h0m-0.2 4.1h0m-0.4 3.5h0m-0.2 2h0m0.6 2.5h0m-0.6 0.4h0m0.4 1.9h0m-0.2 0.2h0m0.3 1.3h0m-0.5 1.6h0m0.5 3.1h0m-0.2 1.3h0m0.4 0.5h0m-0.5 0.6h0m0 0.2h0m0.5 0.7h0m-0.4 0.3h0m0.3 0.2h0m-0.1 0.1h0m-0.2 0.1h0m0 0.3h0m-0.4 0.7h0m0.4 0h0m0 0.2h0m0.1 0.7h0m0.4 0.4h0m0 0.5h0m-0.5 0h0m0.3 0h0m-0.2 0.1h0m-0.1 0h0m0.6 0.2h0m-0.7 0.4h0m0.7 0h0m-0.4 0.1h0m0.3 0.1h0m0.1 0.2h0m-0.8 0.3h0m0.6 0.5h0m-0.1 0h0m-0.5 35.7h0m1.4-82.1h0m0.2 3.4h0m0.1 9.5h0m-0.6 16.6h0m0.5 0.3h0m-0.2 2.1h0m-0.1 0h0m0.4 1h0m-0.4 1.2h0m0.1 2.3h0m-0.1 1.3h0m-0.4 0.4h0m0.5 0h0m0.1 0.7h0m0.2 0.2h0m-0.8 2.7h0m0.8 0.1h0m-0.3 0.8h0m-0.4 0.1h0m0.8 0.2h0m-0.2 0.1h0m0.1 0.1h0m0.1 0.6h0m-0.4 0.3h0m-0.5 1.1h0m0 0.3h0m0.3 0.7h0m-0.4 0.6h0m0.5 35.3h0m0.5-83.8h0m0 8.3h0m0.3 3.9h0m0.1 4.4h0m-0.1 2.3h0m0 2.6h0m0 4.2h0m-0.1 2h0m0.2 10.1h0m0.2 2h0m0.3 0.2h0m-0.4 1.7h0m0.4 1.1h0m-0.5 0.2h0m0 0.2h0m0.1 0.3h0m0.2 0h0m0.1 0.1h0m0.1 0.4h0m-0.3 0.1h0m0 0.7h0m-0.3 0.1h0m-0.3 0.2h0m0.1 1.3h0m0.7 0.1h0m-0.2 0.2h0m-0.3 0.1h0m0.6 0.1h0m-0.8 0.2h0m0.5 1.1h0m-0.3 0.2h0m0.7 0h0m-0.7 0h0m0.5 35.8h0m1-59.8h0m-0.6 8.4h0m0 0.4h0m0.1 1.1h0m0.3 0.8h0m-0.4 3.1h0m0.2 0.1h0m0 0.1h0m0.2 0.1h0m-0.5 3h0m0.1 0.9h0m0.1 0h0m0 0.2h0m-0.1 0.8h0m0.4 0.2h0m0.1 2.3h0m0.3 0.7h0m-0.9 0.2h0m0.5 0.1h0m0.2 0.2h0m-0.2 0.2h0m-0.4 0.6h0m0 0.2h0m0.6 0.1h0m-0.8 0.2h0m1.2-12.1h0m-0.1 4.3h0m0.5 1.5h0m-0.3 1h0m0.1 1h0m0.2 0.1h0m-0.4 1.1h0m0.1 0.8h0m0.3 0h0m-0.2 0.1h0m0.1 1.1h0m0 0.5h0m-0.1 0.2h0m-0.2 0.4h0m-0.1 36h0m19.6-56.5h0m0.1 16.6h0m-0.1 0.5h0m0 0.3h0m0.3 1.9h0m-0.1 4.4h0m-0.2 32.6h0m1-51h0m0.2 4.2h0m-0.2 1.3h0m0.1 1.5h0m0.1 0.1h0m-0.1 0.2h0m0 0.4h0m0.1 2.9h0m-0.7 0.1h0m-0.1 0h0m0.4 0.6h0m0 0.2h0m0.3 0.1h0m-0.5 0.2h0m-0.1 0.2h0m0.6 0.1h0m-0.5 0h0m-0.2 0.4h0m-0.1 2.5h0m0.3 0.2h0m0.2 0.2h0m-0.2 0.1h0m0.6 0.1h0m-0.4 0.7h0m-0.1 0.1h0m-0.2 0.6h0m0.8 33.8h0m0.8-60.5h0m-0.4 10.6h0m-0.1 1h0m-0.2 2.9h0m0.5 1.4h0m-0.1 3.2h0m0.1 0.3h0m0.1 1h0m0.3 0.4h0m-0.1 2.2h0m-0.3 0.2h0m-0.1 0.3h0m-0.4 0.6h0m0.5 0.3h0m0.2 1.3h0m-0.4 1h0m-0.2 0.8h0m-0.2 0.1h0m0.9 0.4h0m0.6-40.9h0m-0.2 2.5h0m0.2 1.8h0m-0.1 1.6h0m0.2 3.6h0m0.2 2.3h0m-0.4 2.3h0m0.1 1.8h0m-0.2 3.4h0m0.6 1.6h0m-0.7 1.1h0m0.6 0.4h0m-0.2 0.8h0m0 1.9h0m-0.3 0.3h0m0 2h0m0 0.3h0m0.2 3.4h0m0.2 0.2h0m-0.4 1h0m-0.2 0.6h0m0 0.6h0m0.4 0.7h0m0.1 0h0m0.3 1.1h0m-0.4 0.3h0m0.5 0.2h0m-0.9 0h0m0.3 1h0m-0.1 0h0m0.5 0.7h0m-0.3 0.3h0m-0.2 0.2h0m0.3 0.2h0m0.2 0.1h0m-0.5 0.1h0m0.5 0h0m-0.5 0.2h0m0.4 0.1h0m0 0.4h0m-0.7 0.1h0m0.2 0.2h0m0.7 0.7h0m-0.1 0.1h0m-0.6 0.2h0m0.1 0.1h0m0.2 0.2h0m0.4 0.3h0m-0.5 0h0m-0.1 32.7h0m1.1-58.6h0m0 0.3h0m0.1 3.1h0m-0.2 0.2h0m0.2 2.4h0m-0.2 1.3h0m-0.1 0.8h0m0.4 2h0m0 1.4h0m-0.2 3.5h0m0.1 1.1h0m-0.3 2.1h0m0.5 0.4h0m0.2 0.2h0m-0.6 1.7h0m-0.2 0.1h0m0.1 0.9h0m0.2 0h0m0.3 0.2h0m0 0.3h0m-0.6 0.9h0m0.8 0.5h0m-0.5 0.5h0m0.5 0.5h0m-0.4 0.7h0m0.2 0.3h0m0.2 0.1h0m-0.5 0.1h0m-0.2 0.3h0m0.4 32.7h0m0.5-46.4h0m0.1 1.3h0m0 2h0m0.5 1.4h0m0 0.8h0m-0.5 0h0m0.7 0.8h0m-0.1 1.1h0m-0.2 1.6h0m0 0.6h0m-0.1 0.1h0m0.5 0.6h0m-0.1 0.2h0m0 0.3h0m-0.5 0.9h0m-0.3 0.1h0m0.3 0h0m0.4 0h0m-0.3 0.1h0m-0.3 0.6h0m-0.1 0h0m0 0.2h0m0.5 0.1h0m-0.3 0.2h0m0.6 0.4h0m-0.2 0h0m0.2 32.5h0m1-48.5h0m-0.2 1.2h0m-0.4 5.3h0m-0.1 1.4h0m0.7 2.7h0m0 0.7h0m-0.6 0h0m0.5 0.2h0m-0.3 1.3h0m0.1 0.4h0m0 0h0m-0.2 0.5h0m-0.1 0.6h0m-0.1 0h0m0.4 0.3h0m-0.1 0.7h0m0.3 1h0m-0.7 0h0m0.8 0.1h0m-0.4 0h0m0.6-6h0m0.1 38.4h0m17.7-62.7h0m-0.3 9.9h0m-0.2 3.2h0m-0.1 2.7h0m0.3 1.6h0m0.2 1h0m0.1 0.3h0m-0.3 3.5h0m0.2 1.1h0m-0.2 0.1h0m0.1 0.9h0m0.1 0.1h0m0.2 0.3h0m-0.6 0.3h0m0.2 0.3h0m-0.2 1.4h0m-0.1 36h0m1.4-60.1h0m-0.5 3.4h0m0.2 3.7h0m0.5 0.2h0m-0.2 1.8h0m-0.3 0.3h0m0.5 2.9h0m-0.2 0.3h0m0 0.3h0m-0.1 0.7h0m0.2 1h0m-0.5 0h0m0.3 0.8h0m-0.4 1.3h0m0 0.1h0m0.4 0.1h0m0.3 0.1h0m-0.6 0.7h0m0.1 0.2h0m0 0.1h0m-0.2 0h0m0.2 0.4h0m0.2 0.5h0m-0.4 0.7h0m0.4 1.5h0m0.2 0h0m-0.7 0.4h0m0.1 0.4h0m0.7 0.6h0m-0.4 0.3h0m-0.4 0.3h0m0.7 0.4h0m-0.6 0.5h0m0.7 0.5h0m-0.3 35.8h0m0.9-76.1h0m0 1.8h0m0 7.4h0m-0.5 6.2h0m0 7.9h0m0.4 1.1h0m0 0.8h0m0 0.2h0m0 0.1h0m0.2 0h0m-0.2 3h0m0.5 0.2h0m-0.6 0.2h0m0 1.9h0m-0.1 0.3h0m0.7 1.7h0m0.1 0.2h0m-0.6 0.1h0m0.3 0.9h0m-0.2 0.2h0m-0.3 0.1h0m0.8 0.6h0m-1 0h0m1 0.5h0m-1 0.5h0m0.9 0.1h0m-0.3 0.6h0m-0.1 0.3h0m-0.4 1.4h0m0.6 0.3h0m0.1 0h0m-0.6 0.3h0m0.3 1.1h0m0.4 0.1h0m0 35.5h0m0.3-72.4h0m0.3 17.2h0m0 0.3h0m-0.3 2.6h0m-0.1 6.1h0m0.6 2.9h0m-0.5 0.1h0m0.6 0.4h0m-0.5 0.6h0m0 2.2h0m0 0.4h0m0.4 0.5h0m0.3 0.3h0m-0.9 0.2h0m-0.1 1.1h0m1 0.5h0m0 0.6h0m-0.2 0.5h0m-0.4 0h0m0.1 0.2h0m0.3 0.2h0m0 0.1h0m0.6-40.9h0m-0.1 1.1h0m0.2 1h0m0.1 1.2h0m0 6.2h0m-0.3 1.3h0m0.3 14.7h0m0 0.2h0m-0.2 4.3h0m0.2 2.1h0m-0.1 1.7h0m0.1 0.9h0m-0.4 0.3h0m-0.1 0.3h0m0.6 0.9h0m-0.5 0.5h0m0.5 0.8h0m0.2 0.2h0m-0.3 0.3h0m0.1 1.2h0m0 1.1h0m0 0.3h0m0 0h0m-0.3 0.1h0m-0.3 0h0m0.7 0.1h0m-0.6 36h0m1.8-99.1h0m-0.2 2.6h0m-0.2 8.6h0m0.2 2.8h0m0.2 13.3h0m-0.3 3.3h0m0.1 3.1h0m-0.2 3.5h0m0.3 2h0m-0.1 3.4h0m0.2 4.3h0m-0.1 1.7h0m-0.3 0.9h0m-0.1 4.1h0m0.4 0.8h0m-0.6 0.3h0m0.6 0.3h0m-0.3 0.3h0m0.4 0.7h0m-0.2 0.1h0m-0.2 1.5h0m0.1 0.1h0m-0.4 0.2h0m-0.2 0.1h0m0.9 1.1h0m-0.5 0.1h0m0 0h0m0.3 0h0m0 2h0m-0.4 0h0m0 0.4h0m-0.4 0.5h0m0.6 0.1h0m0.4 0.2h0m-0.3 0.1h0m-0.2 0.2h0m0.3 0.2h0m-0.5 0.2h0m-0.3 0.1h0m0.5 35.7h0m1-99.7h0m-0.5 6.1h0m0.1 2.2h0m0.2 1.9h0m-0.2 6.2h0m0.1 3.4h0m0.2 2.6h0m-0.2 3.5h0m0 6.9h0m-0.2 3.5h0m0.2 0.1h0m-0.1 1.9h0m-0.1 4.1h0m0.3 4.1h0m-0.2 0.9h0m0 2.5h0m0 1.1h0m0 0.9h0m0.1 2.1h0m0 2h0m0.2 0.8h0m0.1 0.7h0m-0.5 1h0m0 0.5h0m0.6 0h0m-0.6 1.3h0m0.2 1.2h0m0.1 0.1h0m-0.3 0.2h0m0.4 0h0m-0.4 0h0m0.1 0.2h0m0.1 0.4h0m0.2 1h0m0 0h0m0.3 0.4h0m-0.5 0.2h0m15.4-34.5h0m0.3 5.1h0m-0.3 5.1h0m0.4 0.4h0m-0.2 4.7h0m-0.2 1.1h0m0 1h0m0.3 0.3h0m-0.1 0.2h0m0.1 0.5h0m-0.1 0.7h0m0 0.7h0m-0.3 50.4h0m1.2-89.2h0m0 1.6h0m0 4.7h0m0.1 7.8h0m-0.5 3.4h0m0.5 6.9h0m-0.5 0h0m-0.3 0.9h0m0.9 1.1h0m-0.2 0.9h0m-0.6 1.6h0m0 1h0m0.7 0h0m-0.7 0.8h0m-0.1 0.4h0m0.4 1.1h0m0.5 0.3h0m-0.1 1.5h0m-0.1 0.3h0m0 0.4h0m0.2 0.1h0m-0.2 0.3h0m0.2 0.1h0m-0.7 1.3h0m0 0.2h0m0.4 0.4h0m0.3 0.2h0m-0.2 0.1h0m-0.7 0.1h0m0.7 0.7h0m-0.4 0.3h0m0.2 0.3h0m0.3 50.2h0m1.1-60.1h0m-0.7 1.6h0m0.6 0.1h0m0 0.1h0m-0.3 0.5h0m-0.1 0.3h0m-0.2 0.4h0m0.3 0.4h0m-0.4 1.6h0m0.5 0.3h0m0.4 1.4h0m-0.8 0.2h0m0 0.3h0m-0.2 0.8h0m0.8 0.3h0m-0.4 0.3h0m-0.3 0.6h0m-0.1 0.6h0m1.7-45.4h0m0.3 9.9h0m-0.1 3.1h0m0 3.3h0m0.1 3.3h0m-0.1 2.4h0m-0.1 2.2h0m-0.4 0.9h0m0.6 6.6h0m-0.2 1.1h0m0.1 0.7h0m-0.6 0.3h0m0.1 0.8h0m-0.1 0.5h0m0.7 0h0m-0.1 0.6h0m-0.6 0.3h0m0.3 0.4h0m0.2 0.6h0m-0.6 0.1h0m0.4 1.3h0m0.1 0.1h0m-0.1 0.1h0m0.1 2h0m-0.1 0.1h0m-0.2 0.5h0m-0.2 0.1h0m0.1 1.1h0m0.1 0.1h0m0 0.2h0m0.5 0.5h0m-0.4 0.3h0m0.2 0.5h0m0.2 0.1h0m-0.6 0.4h0m0.2 0.8h0m0 0.2h0m-0.4 50.2h0m1.5-139.8h0m0 30.6h0m0 9.7h0m-0.6 2.9h0m0.2 3.3h0m0.2 3.4h0m0.6 1.8h0m0 7.5h0m-0.3 6.9h0m0.2 2h0m-0.7 3.1h0m0.5 1h0m0.2 0.7h0m-0.6 0.6h0m0.5 2.1h0m0.1 1.7h0m-0.3 0.2h0m0.1 0.6h0m0.1 0.1h0m-0.5 1.7h0m0.2 0.5h0m-0.2 0.2h0m0.5 1h0m0 1.3h0m-0.3 0.5h0m-0.1 0h0m0.2 0.5h0m-0.4 0.7h0m-0.1 1.2h0m0.4 0.4h0m-0.1 0.6h0m0.3 0.1h0m-0.1 0.1h0m-0.3 0h0m0.5 0.2h0m-0.8 0.3h0m0 0.2h0m0.9 0.3h0m0 0.2h0m-0.3 0.1h0m0.1 0.1h0m0.3 0.2h0m-0.2 0.1h0m-0.4 0.5h0m0.4 0h0m0.2 0.2h0m-0.9 0.1h0m-0.1 0.2h0m0.7 0h0m-0.3 2.6h0m0.3 2.6h0m-0.4 2h0m-0.2 3.9h0m0.3 1.5h0m0.3 0h0m-0.3 37.9h0m0.9-85.4h0m-0.1 9h0m-0.2 5.8h0m0.5 1.1h0m0 1.9h0m0.3 0.5h0m-0.4 3.5h0m-0.1 3h0m0.2 0.5h0m0.2 0.4h0m-0.3 0.1h0m0.1 2.8h0m-0.3 1.7h0m0.2 0.2h0m-0.3 0.7h0m-0.1 1.4h0m0.1 0h0m0 0.7h0m0.1 0.1h0m0.2 0.2h0m-0.2 0.9h0m0.3 0.2h0m0 0.1h0m-0.3 3.4h0m0.2 5.4h0m0.3 41.5h0m12.1-58.5h0m0.1 19.1h0m0 2.1h0m-0.1 0.1h0m0.1 2h0m-0.2 35.2h0m0.6-59.6h0m-0.1 4.9h0m0.2 2h0m0.2 6.7h0m-0.2 0.4h0m-0.4 3.1h0m0.8 1.5h0m-0.5 0.4h0m0.1 0.9h0m0.2 2.5h0m0 1.3h0m-0.4 0.3h0m0.4 0.1h0m0.3 0.7h0m-0.1 0.1h0m-0.2 0.7h0m-0.2 0.2h0m0.3 0.4h0m0.1 0.1h0m-0.3 0h0m-0.2 0.1h0m0.7 0.3h0m-0.9 0.6h0m0.9 0.1h0m-1 0h0m0.4 0.1h0m0.3 0.2h0m0.2 0.5h0m-0.6 0.2h0m0.3 0.1h0m-0.1 0.2h0m0.4 0.2h0m-0.3 0.2h0m-0.2 0.3h0m0.6 30.5h0m0.5-65.3h0m0.2 0.3h0m-0.3 4.4h0m0.1 0.1h0m-0.3 2.7h0m0.8 1.1h0m-0.9 0.7h0m0.3 4.2h0m-0.1 2.4h0m0.1 0.7h0m-0.3 2.3h0m0.2 0.4h0m-0.1 2.1h0m-0.1 0.1h0m0.6 0.2h0m-0.2 0.6h0m0.2 0h0m-0.3 1.6h0m0.3 0.1h0m0 0.7h0m0.2 0.1h0m-0.5 2h0m0.2 0.2h0m-0.3 0.4h0m0.7 1h0m-0.4 0.5h0m0 0.6h0m-0.3 0.2h0m0.7 0.6h0m-0.1 0.9h0m-0.6 1.2h0m0.6 0h0m-0.7 0.3h0m0.7 0h0m-0.9 1.3h0m0.9 0.1h0m-0.8 0.4h0m0.2 0.2h0m0.9-20.1h0m-0.2 0h0m0.3 0.2h0m0.1 1.6h0m0.2 2.6h0m0 0.2h0m-0.1 0.4h0m-0.4 4.3h0m0.3 0.9h0m-0.3 3.2h0m0.4 0h0m0.2 0.8h0m-0.1 0.4h0m-0.4 0.4h0m0.2 0.6h0m-0.4 0h0m0.5 1.9h0m0.5 0.8h0m-0.2 0.2h0m-0.7 0.4h0m0.6 0.2h0m0.2 0.1h0m-0.2 0.4h0m-0.4 0.3h0m0.3 0h0m0 0.1h0m0 0.2h0m-0.3 30.2h0m0.9-43.6h0m0.1 2.2h0m0 3.8h0m-0.1 0.5h0m0.3 0.5h0m0 0.1h0m0.2 0.2h0m-0.4 1h0m0.2 0.5h0m0 0.1h0m0.1 0.2h0m-0.5 0h0m0.1 0.2h0m-0.1 0.2h0m0.5 0.5h0m-0.3 1.2h0m-0.1 1h0m0.1 0.9h0m0.1 0.2h0m-0.3 0.1h0m0.5 30.4h0" stroke="#ff8200" stroke-width="1.9" stroke-linecap="round" fill="none"/>
<line x1="32.5" y1="524.5" x2="335.5" y2="524.5" stroke="#d46464" stroke-width="1.1"/>
<path d="M380.5 11.5H683.5V293.5" fill="none" stroke="#a0a0a0" stroke-width="1"/><path d="M380.5 293.5H684.0" fill="none" stroke="#8a8a8a" stroke-width="1"/><path d="M380.5 11.0V294.0" fill="none" stroke="#555" stroke-width="1.1"/>
<line x1="377.1" y1="285.5" x2="380.5" y2="285.5" stroke="#555" stroke-width="0.9"/>
<text x="373.7" y="287.7" font-size="6.2" text-anchor="end" fill="#444">0</text>
<line x1="377.1" y1="230.7" x2="380.5" y2="230.7" stroke="#555" stroke-width="0.9"/>
<text x="373.7" y="232.9" font-size="6.2" text-anchor="end" fill="#444">2</text>
<line x1="377.1" y1="175.9" x2="380.5" y2="175.9" stroke="#555" stroke-width="0.9"/>
<text x="373.7" y="178.1" font-size="6.2" text-anchor="end" fill="#444">4</text>
<line x1="377.1" y1="121" x2="380.5" y2="121" stroke="#555" stroke-width="0.9"/>
<text x="373.7" y="123.2" font-size="6.2" text-anchor="end" fill="#444">6</text>
<line x1="377.1" y1="66.2" x2="380.5" y2="66.2" stroke="#555" stroke-width="0.9"/>
<text x="373.7" y="68.4" font-size="6.2" text-anchor="end" fill="#444">8</text>
<line x1="377.1" y1="11.4" x2="380.5" y2="11.4" stroke="#555" stroke-width="0.9"/>
<text x="373.7" y="13.6" font-size="6.2" text-anchor="end" fill="#444">10</text>
<line x1="387.1" y1="294.0" x2="387.1" y2="297.5" stroke="#555" stroke-width="0.9"/>
<text x="387.1" y="306.8" font-size="6.2" text-anchor="middle" fill="#1a1a1a">0</text>
<line x1="417.6" y1="294.0" x2="417.6" y2="297.5" stroke="#555" stroke-width="0.9"/>
<text x="417.6" y="306.8" font-size="6.2" text-anchor="middle" fill="#1a1a1a">1</text>
<line x1="448" y1="294.0" x2="448" y2="297.5" stroke="#555" stroke-width="0.9"/>
<text x="448" y="306.8" font-size="6.2" text-anchor="middle" fill="#1a1a1a">2</text>
<line x1="478.5" y1="294.0" x2="478.5" y2="297.5" stroke="#555" stroke-width="0.9"/>
<text x="478.5" y="306.8" font-size="6.2" text-anchor="middle" fill="#1a1a1a">3</text>
<line x1="509" y1="294.0" x2="509" y2="297.5" stroke="#555" stroke-width="0.9"/>
<text x="509" y="306.8" font-size="6.2" text-anchor="middle" fill="#1a1a1a">4</text>
<line x1="539.5" y1="294.0" x2="539.5" y2="297.5" stroke="#555" stroke-width="0.9"/>
<text x="539.5" y="306.8" font-size="6.2" text-anchor="middle" fill="#1a1a1a">5</text>
<line x1="569.9" y1="294.0" x2="569.9" y2="297.5" stroke="#555" stroke-width="0.9"/>
<text x="569.9" y="306.8" font-size="6.2" text-anchor="middle" fill="#1a1a1a">6</text>
<line x1="600.4" y1="294.0" x2="600.4" y2="297.5" stroke="#555" stroke-width="0.9"/>
<text x="600.4" y="306.8" font-size="6.2" text-anchor="middle" fill="#1a1a1a">7</text>
<line x1="630.9" y1="294.0" x2="630.9" y2="297.5" stroke="#555" stroke-width="0.9"/>
<text x="630.9" y="306.8" font-size="6.2" text-anchor="middle" fill="#1a1a1a">8</text>
<line x1="661.3" y1="294.0" x2="661.3" y2="297.5" stroke="#555" stroke-width="0.9"/>
<text x="661.3" y="306.8" font-size="6.2" text-anchor="middle" fill="#1a1a1a">9</text>
<polygon points="387.1,285.5 448,230.7 478.5,202.7 499.5,183 512.6,170.4 528.8,153.9 541.6,139.4 549.8,127.9 561.4,110.4 574.8,88.1 574.8,138.6 561.4,142.7 548.3,149.3 537,155.6 520.6,168.5 504.4,183 478.5,204.6 448,231.2 387.1,285.5" fill="#cfcfcf"/>
<polyline points="387.5,285 417.6,258.1 448,229.6 464.9,214 477.2,199.3 483.4,194.1 488.6,187.9 494.8,183.8 496.9,179.7 501,177.1 505.2,173.4" fill="none" stroke="#000" stroke-width="2.2" stroke-linejoin="round" stroke-linecap="round"/>
<polyline points="505.2,173.4 505.7,169.3 507.8,164.1 511.4,161.6 514.5,157.9 516,154.8 517.1,151.7 518.1,148.6 520.7,146.6 521.7,144.5 522.8,141.4" fill="none" stroke="#000" stroke-width="1.7" stroke-linejoin="round" stroke-linecap="round"/>
<path d="M524.4 134h0m1.2-0.1h0m1.5-10.4h0m1.6-4.5h0m0.9-4.9h0m1.1-6.8h0m1.3-1.3h0m2.4-2.8h0m1.6-0.5h0m2.2-2.4h0m2.2-7.3h0m3 0h0m3.2-10.1h0m4-59.2h0m7 0h0m14.6 0h0" stroke="#000" stroke-width="2" stroke-linecap="round" fill="none"/>
<line x1="380.5" y1="291.4" x2="683.5" y2="18.9" stroke="#f03a2a" stroke-width="1.1"/>
<text x="486" y="260.3" font-size="6" fill="#333" textLength="44.6" lengthAdjust="spacingAndGlyphs">Lambda = 0.984</text>
<path d="M380.5 359.5H683.5V640.5" fill="none" stroke="#a0a0a0" stroke-width="1"/><path d="M380.5 640.5H684.0" fill="none" stroke="#8a8a8a" stroke-width="1"/><path d="M380.5 359.0V641.0" fill="none" stroke="#555" stroke-width="1.1"/>
<line x1="377.1" y1="633.4" x2="380.5" y2="633.4" stroke="#555" stroke-width="0.9"/>
<text x="373.7" y="635.6" font-size="6.2" text-anchor="end" fill="#444">0</text>
<line x1="377.1" y1="591.2" x2="380.5" y2="591.2" stroke="#555" stroke-width="0.9"/>
<text x="373.7" y="593.4" font-size="6.2" text-anchor="end" fill="#444">2</text>
<line x1="377.1" y1="549" x2="380.5" y2="549" stroke="#555" stroke-width="0.9"/>
<text x="373.7" y="551.2" font-size="6.2" text-anchor="end" fill="#444">4</text>
<line x1="377.1" y1="506.8" x2="380.5" y2="506.8" stroke="#555" stroke-width="0.9"/>
<text x="373.7" y="509" font-size="6.2" text-anchor="end" fill="#444">6</text>
<line x1="377.1" y1="464.6" x2="380.5" y2="464.6" stroke="#555" stroke-width="0.9"/>
<text x="373.7" y="466.8" font-size="6.2" text-anchor="end" fill="#444">8</text>
<line x1="377.1" y1="422.4" x2="380.5" y2="422.4" stroke="#555" stroke-width="0.9"/>
<text x="373.7" y="424.6" font-size="6.2" text-anchor="end" fill="#444">10</text>
<line x1="377.1" y1="380.2" x2="380.5" y2="380.2" stroke="#555" stroke-width="0.9"/>
<text x="373.7" y="382.4" font-size="6.2" text-anchor="end" fill="#444">12</text>
<line x1="385.3" y1="641.0" x2="385.3" y2="644.5" stroke="#555" stroke-width="0.9"/>
<text x="385.3" y="653.8" font-size="6.2" text-anchor="middle" fill="#1a1a1a">0</text>
<line x1="408.9" y1="641.0" x2="408.9" y2="644.5" stroke="#555" stroke-width="0.9"/>
<text x="408.9" y="653.8" font-size="6.2" text-anchor="middle" fill="#1a1a1a">1</text>
<line x1="432.5" y1="641.0" x2="432.5" y2="644.5" stroke="#555" stroke-width="0.9"/>
<text x="432.5" y="653.8" font-size="6.2" text-anchor="middle" fill="#1a1a1a">2</text>
<line x1="456.1" y1="641.0" x2="456.1" y2="644.5" stroke="#555" stroke-width="0.9"/>
<text x="456.1" y="653.8" font-size="6.2" text-anchor="middle" fill="#1a1a1a">3</text>
<line x1="479.7" y1="641.0" x2="479.7" y2="644.5" stroke="#555" stroke-width="0.9"/>
<text x="479.7" y="653.8" font-size="6.2" text-anchor="middle" fill="#1a1a1a">4</text>
<line x1="503.3" y1="641.0" x2="503.3" y2="644.5" stroke="#555" stroke-width="0.9"/>
<text x="503.3" y="653.8" font-size="6.2" text-anchor="middle" fill="#1a1a1a">5</text>
<line x1="526.9" y1="641.0" x2="526.9" y2="644.5" stroke="#555" stroke-width="0.9"/>
<text x="526.9" y="653.8" font-size="6.2" text-anchor="middle" fill="#1a1a1a">6</text>
<line x1="550.5" y1="641.0" x2="550.5" y2="644.5" stroke="#555" stroke-width="0.9"/>
<text x="550.5" y="653.8" font-size="6.2" text-anchor="middle" fill="#1a1a1a">7</text>
<line x1="574.1" y1="641.0" x2="574.1" y2="644.5" stroke="#555" stroke-width="0.9"/>
<text x="574.1" y="653.8" font-size="6.2" text-anchor="middle" fill="#1a1a1a">8</text>
<line x1="597.7" y1="641.0" x2="597.7" y2="644.5" stroke="#555" stroke-width="0.9"/>
<text x="597.7" y="653.8" font-size="6.2" text-anchor="middle" fill="#1a1a1a">9</text>
<line x1="621.3" y1="641.0" x2="621.3" y2="644.5" stroke="#555" stroke-width="0.9"/>
<text x="621.3" y="653.8" font-size="6.2" text-anchor="middle" fill="#1a1a1a">10</text>
<line x1="644.9" y1="641.0" x2="644.9" y2="644.5" stroke="#555" stroke-width="0.9"/>
<text x="644.9" y="653.8" font-size="6.2" text-anchor="middle" fill="#1a1a1a">11</text>
<line x1="668.5" y1="641.0" x2="668.5" y2="644.5" stroke="#555" stroke-width="0.9"/>
<text x="668.5" y="653.8" font-size="6.2" text-anchor="middle" fill="#1a1a1a">12</text>
<polygon points="385.3,633.4 432.5,591.2 456.1,569.7 472.4,554.5 482.5,544.8 495,532.1 505,520.9 511.3,512.1 520.3,498.6 530.7,481.5 530.7,520.3 520.3,523.5 510.1,528.5 501.4,533.4 488.7,543.3 476.2,554.5 456.1,571.2 432.5,591.6 385.3,633.4" fill="#cfcfcf"/>
<polyline points="385.7,633 408.9,611.9 441.3,578.8 448.4,569.9 455.4,561 460.8,552.2 464.3,543.3 467,539.8 471.4,534.4 474.1,529.1" fill="none" stroke="#000" stroke-width="2.2" stroke-linejoin="round" stroke-linecap="round"/>
<polyline points="474.1,529.1 475.8,518.5 477.6,511.4 479.4,506.1 481.1,502.5" fill="none" stroke="#000" stroke-width="1.9" stroke-linejoin="round" stroke-linecap="round"/>
<polyline points="481.8,493.2 482.6,488" fill="none" stroke="#000" stroke-width="1.9" stroke-linejoin="round" stroke-linecap="round"/>
<polyline points="484.2,445.4 485.5,444.6 487,444 488.5,443" fill="none" stroke="#000" stroke-width="1.9" stroke-linejoin="round" stroke-linecap="round"/>
<polyline points="487.9,426.5 492.2,426.5" fill="none" stroke="#000" stroke-width="1.9" stroke-linejoin="round" stroke-linecap="round"/>
<polyline points="496.5,395.4 500.6,395" fill="none" stroke="#000" stroke-width="1.9" stroke-linejoin="round" stroke-linecap="round"/>
<polyline points="501.3,384.8 509.4,384.8" fill="none" stroke="#000" stroke-width="1.9" stroke-linejoin="round" stroke-linecap="round"/>
<path d="M481.2 499.1h0m1.6-17.1h0m0.4-4.1h0m0.7-6.5h0m0.3-3.6h0m0.6-14.1h0m3.2-21.9h0m4.3-14.2h0m0.8-7.1h0m2.3-7.1h0m17.4-18.6h0m5.2-11h0m11.1-1h0" stroke="#000" stroke-width="2" stroke-linecap="round" fill="none"/>
<line x1="380.5" y1="637.7" x2="683.5" y2="366.8" stroke="#f03a2a" stroke-width="1.1"/>
<text x="457.6" y="613.6" font-size="6" fill="#333" textLength="44.6" lengthAdjust="spacingAndGlyphs">Lambda = 0.975</text>
<text x="6.3" y="10.7" font-size="14.5" font-weight="bold" fill="#000">a</text>
<text x="346.3" y="10.7" font-size="14.5" font-weight="bold" fill="#000">b</text>
<text x="6.3" y="358.5" font-size="14.5" font-weight="bold" fill="#000">a</text>
<text x="346.3" y="358.5" font-size="14.5" font-weight="bold" fill="#000">b</text>
<text x="152.9" y="323.7" font-size="11" fill="#383838" stroke="#383838" stroke-width="0.3" textLength="62.8" lengthAdjust="spacingAndGlyphs">Chromosome</text>
<text x="151.1" y="671.6" font-size="11" fill="#383838" stroke="#383838" stroke-width="0.3" textLength="62.4" lengthAdjust="spacingAndGlyphs">Chromosome</text>
<text x="293.3" y="325.8" font-size="11" font-weight="bold" font-style="italic" fill="#1414d8" textLength="128.5" lengthAdjust="spacingAndGlyphs">Rear Attachment Height</text>
<text x="326.3" y="673.7" font-size="11" font-weight="bold" font-style="italic" fill="#1414d8" textLength="63" lengthAdjust="spacingAndGlyphs">Teat Length</text>
<g transform="translate(9.6 176.6) rotate(-90)" fill="#333" stroke="#333" stroke-width="0.2"><text x="0" y="0.3" font-size="11.8">−</text><text x="7.6" y="0" font-size="10.5">log</text><text x="22" y="1.9" font-size="7.6" font-weight="bold"><tspan textLength="7" lengthAdjust="spacingAndGlyphs">10</tspan></text><text x="32.4" y="0" font-size="10.5">(</text><text x="35.5" y="0" font-size="10.5" font-style="italic">p</text><text x="42.4" y="0" font-size="10.5">)</text></g>
<g transform="translate(9.6 523.7) rotate(-90)" fill="#333" stroke="#333" stroke-width="0.2"><text x="0" y="0.3" font-size="11.8">−</text><text x="7.6" y="0" font-size="10.5">log</text><text x="22" y="1.9" font-size="7.6" font-weight="bold"><tspan textLength="7" lengthAdjust="spacingAndGlyphs">10</tspan></text><text x="32.4" y="0" font-size="10.5">(</text><text x="35.5" y="0" font-size="10.5" font-style="italic">p</text><text x="42.4" y="0" font-size="10.5">)</text></g>
<g transform="translate(358.4 201.8) rotate(-90)" fill="#333" stroke="#333" stroke-width="0.2"><text x="0" y="0" font-size="10.5">Observed</text><text x="49.6" y="0.3" font-size="11.8">−</text><text x="57.3" y="0" font-size="10.5">log</text><text x="70.6" y="1.9" font-size="7.6" font-weight="bold"><tspan textLength="9" lengthAdjust="spacingAndGlyphs">10</tspan></text><text x="81" y="0" font-size="10.5">(</text><text x="84.5" y="0" font-size="10.5" font-style="italic">p</text><text x="93.2" y="0" font-size="10.5">)</text></g>
<g transform="translate(358.4 548.7) rotate(-90)" fill="#333" stroke="#333" stroke-width="0.2"><text x="0" y="0" font-size="10.5">Observed</text><text x="49.6" y="0.3" font-size="11.8">−</text><text x="57.3" y="0" font-size="10.5">log</text><text x="70.6" y="1.9" font-size="7.6" font-weight="bold"><tspan textLength="9" lengthAdjust="spacingAndGlyphs">10</tspan></text><text x="81" y="0" font-size="10.5">(</text><text x="84.5" y="0" font-size="10.5" font-style="italic">p</text><text x="93.2" y="0" font-size="10.5">)</text></g>
<g transform="translate(480.6 321.6)" fill="#333" stroke="#333" stroke-width="0.2"><text x="0" y="0" font-size="10.5">Expected</text><text x="48.6" y="0.3" font-size="11.8">−</text><text x="56.3" y="0" font-size="10.5">log</text><text x="69.6" y="1.9" font-size="7.6" font-weight="bold"><tspan textLength="9" lengthAdjust="spacingAndGlyphs">10</tspan></text><text x="80" y="0" font-size="10.5">(</text><text x="83.5" y="0" font-size="10.5" font-style="italic">p</text><text x="92.2" y="0" font-size="10.5">)</text></g>
<g transform="translate(485.0 670.7)" fill="#333" stroke="#333" stroke-width="0.2"><text x="0" y="0" font-size="10.5">Expected</text><text x="48.6" y="0.3" font-size="11.8">−</text><text x="56.3" y="0" font-size="10.5">log</text><text x="69.6" y="1.9" font-size="7.6" font-weight="bold"><tspan textLength="9" lengthAdjust="spacingAndGlyphs">10</tspan></text><text x="80" y="0" font-size="10.5">(</text><text x="83.5" y="0" font-size="10.5" font-style="italic">p</text><text x="92.2" y="0" font-size="10.5">)</text></g>
</svg>
</body></html>
